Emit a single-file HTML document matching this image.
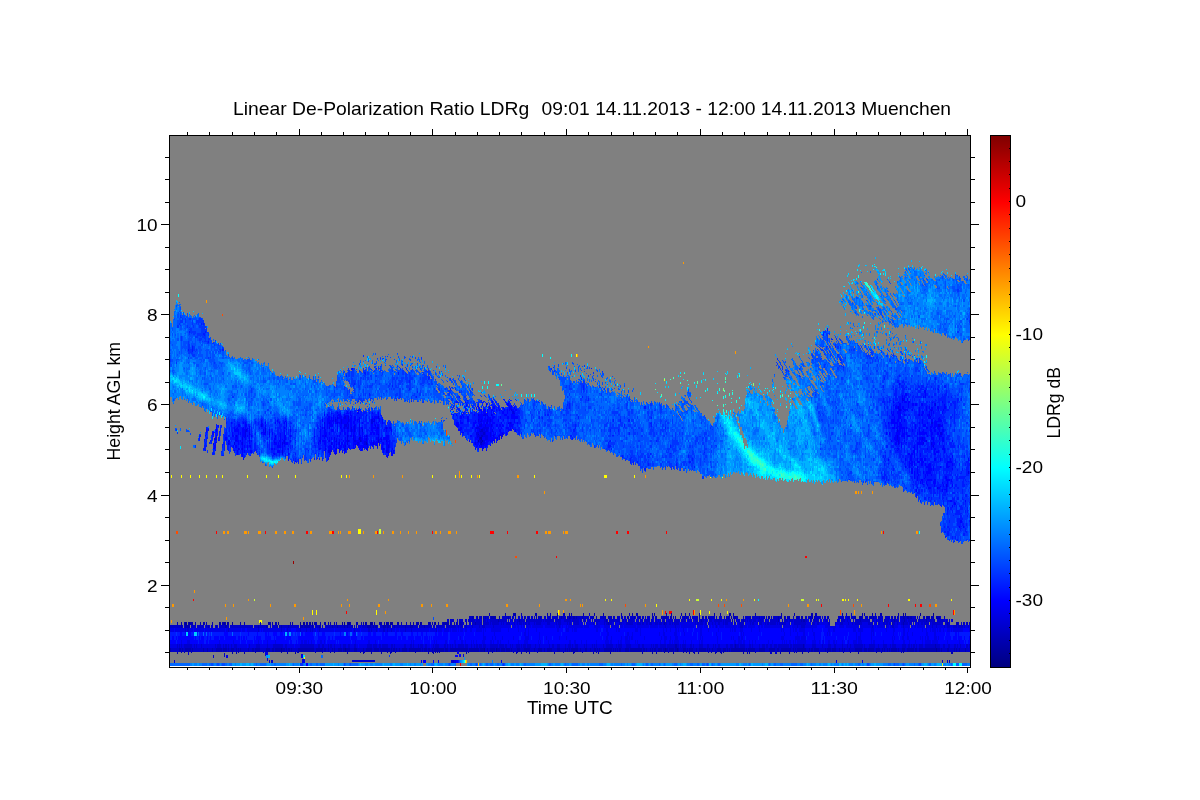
<!DOCTYPE html>
<html lang="en"><head><meta charset="utf-8"><title>Linear De-Polarization Ratio LDRg</title>
<style>html,body{margin:0;padding:0;background:#fff}body{width:1200px;height:800px;overflow:hidden}</style></head>
<body>
<svg width="1200" height="800" viewBox="0 0 1200 800" style="display:block" font-family="'Liberation Sans', sans-serif" font-size="19" fill="#000">
<rect x="0" y="0" width="1200" height="800" fill="#fff"/>
<defs><clipPath id="pc"><rect x="170" y="136" width="800" height="531"/></clipPath>
<linearGradient id="cb" x1="0" y1="0" x2="0" y2="1"><stop offset="0.0000" stop-color="#800000"/><stop offset="0.0250" stop-color="#990000"/><stop offset="0.0500" stop-color="#b30000"/><stop offset="0.0750" stop-color="#cc0000"/><stop offset="0.1000" stop-color="#e50000"/><stop offset="0.1250" stop-color="#ff0000"/><stop offset="0.1500" stop-color="#ff1a00"/><stop offset="0.1750" stop-color="#ff3300"/><stop offset="0.2000" stop-color="#ff4c00"/><stop offset="0.2250" stop-color="#ff6600"/><stop offset="0.2500" stop-color="#ff8000"/><stop offset="0.2750" stop-color="#ff9900"/><stop offset="0.3000" stop-color="#ffb300"/><stop offset="0.3250" stop-color="#ffcc00"/><stop offset="0.3500" stop-color="#ffe500"/><stop offset="0.3750" stop-color="#ffff00"/><stop offset="0.4000" stop-color="#e5ff1a"/><stop offset="0.4250" stop-color="#ccff33"/><stop offset="0.4500" stop-color="#b3ff4c"/><stop offset="0.4750" stop-color="#99ff66"/><stop offset="0.5000" stop-color="#80ff80"/><stop offset="0.5250" stop-color="#66ff99"/><stop offset="0.5500" stop-color="#4dffb2"/><stop offset="0.5750" stop-color="#33ffcc"/><stop offset="0.6000" stop-color="#1affe5"/><stop offset="0.6250" stop-color="#00ffff"/><stop offset="0.6500" stop-color="#00e5ff"/><stop offset="0.6750" stop-color="#00ccff"/><stop offset="0.7000" stop-color="#00b2ff"/><stop offset="0.7250" stop-color="#0099ff"/><stop offset="0.7500" stop-color="#0080ff"/><stop offset="0.7750" stop-color="#0066ff"/><stop offset="0.8000" stop-color="#004dff"/><stop offset="0.8250" stop-color="#0033ff"/><stop offset="0.8500" stop-color="#0019ff"/><stop offset="0.8750" stop-color="#0000ff"/><stop offset="0.9000" stop-color="#0000e6"/><stop offset="0.9250" stop-color="#0000cc"/><stop offset="0.9500" stop-color="#0000b2"/><stop offset="0.9750" stop-color="#000099"/><stop offset="1.0000" stop-color="#000080"/></linearGradient>
</defs>
<rect x="170" y="136" width="800" height="531" fill="#808080"/>
<g clip-path="url(#pc)" shape-rendering="crispEdges">
<g transform="translate(0.5,0)" fill="none" stroke-width="1"><path stroke="#000099" d="M0 0m185 622v3m1-3v3m3-3v3m30-3v3m5-3v3m3-3v3m5-3v3m36-3v3m10-3v3m3 23v4m19-30v3m3-3v3m1-3v3m6-3v3m2-3v3m30-3v3m2-3v3m1 23v4m3-30v3m1-3v3m16-3v3m5-3v3m1-3v3m15-3v3m4-3v3m1-3v3m29-3v3m15-3v3m49 23v4m12-4v4m169-4v4m12-4v4m226-39v3m17-3v3m13-3v3m3 32v4"/>
<path stroke="#0000b2" d="M0 0m170 648v4m7-30v3m0 27v2m2-6v4m1-4v4m1-30v6m0 24v1m1-5v4m2-30v3m0 27v1m1-28v3m0 20v4m1-27v3m0 20v4m1-27v3m0 20v4m1-30v6m0 20v4m1-27v3m0 20v4m1-30v3m0 23v4m1-30v3m0 27v1m1-31v3m0 23v4m3-30v3m5-3v3m3-3v3m0 23v4m1-30v3m2-3v3m1 23v4m1-27v3m4-6v3m0 23v4m4-27v3m0 20v4m1-4v4m1-4v4m1-4v4m1-30v3m0 23v4m1-4v4m1-30v3m1-3v3m0 23v4m1-4v4m1-30v6m0 20v4m1-27v3m0 20v4m2-30v3m0 23v4m3-4v4m1-4v6m1-6v4m3-4v6m2-6v5m2-31v3m0 23v4m4-30v3m0 27v2m4-6v4m4-4v4m1-4v4m2-4v5m1-5v4m1-4v4m1-27v3m0 20v4m1-4v4m1-30v3m3 27v1m3-28v3m0 20v4m1-27v3m0 20v4m1-4v4m1-30v3m0 23v4m1-30v3m2-3v3m0 23v4m1-4v4m2-30v3m0 23v4m1-30v3m0 23v4m1-27v3m0 20v4m1-4v4m1-27v3m0 20v4m1-4v4m1-27v3m0 24v1m1-5v4m1-4v4m1-4v4m2-4v4m1 0v2m1-29v3m0 20v4m1-4v4m1-30v3m1 23v4m1-30v3m3 27v2m2-2v1m1-5v5m1-5v4m1-27v3m0 20v4m1-27v3m0 20v4m1-27v3m0 20v4m1-4v4m1-27v3m0 20v4m1-27v3m0 20v4m1-30v6m0 20v4m1-30v6m0 20v4m1-27v3m0 20v4m1-30v6m0 20v4m1-4v4m1-4v4m1-27v3m0 20v4m1-4v4m1-30v3m1-3v3m0 27v1m1-31v3m0 23v4m1-4v4m1-4v4m1-27v3m0 20v4m1-30v6m0 20v4m1-4v4m1-4v5m2-31v3m0 23v4m1-30v3m0 23v4m3-30v3m0 23v4m2-30v3m0 27v1m2-28v3m0 20v4m2-30v3m0 23v5m2-31v3m1 0v3m1 20v4m1-4v4m1-4v4m1-4v4m2-4v4m1-27v3m0 20v4m2-4v4m1-30v6m0 20v6m1-6v4m1-4v4m1-30v3m2 0v3m2 20v4m1-4v4m1-30v3m0 23v4m1-30v3m3 27v1m1-31v3m2-3v3m0 23v6m1-2v1m2-31v3m0 23v4m1-27v3m0 20v4m1-27v3m0 20v4m1-27v3m0 20v4m1-27v3m0 20v4m1-4v6m1-32v3m1 0v3m1-6v3m0 23v4m1-27v3m0 20v4m1-27v3m0 20v4m1-4v4m1-4v4m1-30v3m1-3v3m0 23v4m1-30v3m0 23v6m1-6v4m1-27v3m0 20v4m1-30v6m0 20v4m1-27v3m0 20v4m1-4v4m1-30v6m0 20v5m1-31v6m0 20v4m1-4v4m1 0v2m1-6v5m1-31v3m1 23v4m1-27v3m0 20v4m1 0v1m1-5v4m1-30v3m1-3v3m1 23v4m2-30v3m1 23v4m1-4v4m1-4v4m1-27v3m0 20v4m1-30v3m0 23v4m3-4v4m1-30v6m0 20v4m1-27v3m0 20v4m1-27v3m0 20v4m1-30v3m0 23v4m1-4v4m1-4v5m1-31v3m0 23v4m1-30v3m0 23v4m1-30v3m0 23v4m1-27v3m0 20v4m1-4v4m1-30v3m1 23v4m2-27v3m0 20v4m1-4v4m1-4v4m2-30v3m0 23v6m1-32v3m0 23v4m1-30v3m2-3v3m0 23v5m1-1v2m1-32v3m0 23v4m1-4v5m1-5v4m1-4v5m1-31v3m0 23v4m1-4v5m1-5v4m1-4v4m1-4v4m1-30v3m0 23v4m1-30v3m1-3v3m0 23v4m1-30v3m0 23v4m1-30v3m0 23v4m1-30v3m2-3v3m0 23v4m1-4v4m1-4v4m1-4v4m1-30v3m0 23v4m1-4v4m1-30v3m0 23v4m1-4v3m1-3v3m1-29v3m0 23v4m1-30v3m0 23v4m1-30v3m0 23v4m1-4v4m1-4v4m1-4v4m1-4v4m1-30v3m0 23v6m1-6v4m1 0v1m1-5v4m1-4v4m1-4v4m1-36v3m0 29v4m1-36v3m0 29v4m1-4v4m1-30v3m0 23v4m1-4v4m1-36v3m0 29v4m1-212v2m0 206v4m2-215v2m0 209v4m1-215v3m0 2v1m0 173v3m0 29v4m1-212v2m0 206v4m1-36v6m0 26v4m2-36v3m2 29v4m1 0v2m1-41v3m1 32v4m1-36v3m0 29v4m1-36v3m0 29v5m1-37v3m0 29v4m1-36v3m0 29v4m1-36v3m2 29v4m1-33v3m0 26v4m1-36v3m0 29v4m2-4v4m1-4v4m1-4v4m1-4v4m1-39v3m1 32v4m1-4v4m1-36v3m0 29v4m1-4v4m2-4v4m2-39v3m0 36v1m1-40v3m1-3v3m1 36v2m1-6v5m1-5v4m1-33v3m0 26v4m2-39v3m0 36v2m3-38v3m0 29v4m1-4v4m1-33v3m0 26v5m1-5v4m1-36v3m0 29v4m1-4v6m5-6v4m1-39v3m1-3v6m1 33v1m1-37v3m0 29v4m1-4v4m1-36v3m0 29v4m1-4v4m3-4v4m3-39v3m0 32v4m1-4v4m1-4v4m1-39v3m0 32v4m1-4v4m3 0v2m3-41v3m0 32v4m1-4v4m1-4v4m2-36v3m2 33v1m1-40v3m1 32v4m2-36v3m0 29v4m2-39v6m0 29v4m1-36v3m1-6v3m0 32v4m1-4v4m1-36v3m0 29v6m1-38v3m0 29v5m1-5v4m1-36v3m0 29v4m1-4v4m3-4v4m2-36v3m0 33v1m1-40v3m2 32v4m1-4v4m4-4v4m3-36v3m0 33v2m1-41v3m0 32v4m1-4v4m1-36v3m0 33v1m1-5v4m1 0v2m1-6v4m4-39v3m1 32v4m1-36v3m0 29v4m1-33v3m0 26v4m1-4v4m1-36v3m0 3v3m0 23v4m1-4v4m1-4v6m1-38v3m0 29v4m2-4v4m2-4v4m2-4v4m2-4v4m1-4v4m1-39v3m4 32v4m1-4v4m1-36v3m0 29v4m1-36v3m0 29v4m1-39v3m1 32v4m1-4v4m1-39v3m0 32v4m1-4v4m1-36v3m0 29v4m1-4v4m1-39v3m0 32v4m1-39v3m0 32v4m1-4v4m1-36v3m0 29v4m1-4v4m1-4v4m1 0v2m1-6v4m1-4v4m2-4v4m4-4v4m2-39v3m0 32v6m2-41v3m0 32v4m1-4v4m1-36v3m0 33v2m2-6v4m1-4v4m1-4v4m1-36v3m0 29v4m2-36v3m0 29v4m1-36v3m0 3v3m0 23v5m1-37v3m1-6v6m0 29v4m1-4v4m1 0v1m1-5v4m1-36v3m0 29v4m1-39v6m0 29v4m1-4v4m1-4v6m2-38v3m0 25v8m1-8v8m2-4v4m3-39v3m2 32v5m1-37v3m0 29v4m1-39v3m0 32v4m1-36v3m0 33v1m1-5v4m2-39v3m0 32v6m1-6v4m1-4v4m1-4v4m1 0v1m1-1v2m2-6v4m2 0v2m1-41v6m0 29v4m1-4v4m1-33v3m0 26v4m1-36v3m0 29v4m1-4v4m1-4v4m1-4v4m1-36v3m1 29v4m1-36v3m0 33v1m1-5v4m2 0v1m1-5v4m2-39v3m1 36v2m1-2v1m1-5v4m1-4v4m1-4v4m1-39v3m0 32v5m1-1v2m2-6v5m1-5v4m1-4v4m1-36v3m1 29v4m1-36v3m1-6v3m0 32v4m1-39v3m1 0v3m0 29v4m1-33v3m0 26v4m1-39v3m0 32v4m1-36v3m0 29v4m1-36v3m0 25v8m1-4v4m1-4v4m1-4v4m1-4v4m1-4v4m1-4v4m1-4v4m1-33v3m0 26v6m1-6v4m2-4v4m1 0v2m1-6v4m1-4v6m1-38v3m0 29v4m1-4v4m1-4v4m1-4v4m1-4v4m1-39v3m0 36v1m4-37v3m0 29v4m1-4v4m1-4v4m1-4v4m1-4v4m1-36v3m0 29v4m4-36v3m1-3v3m0 29v4m1-4v4m1-4v4m1-4v4m1-4v4m1-4v4m3-4v4m1-36v6m0 26v4m2 0v2m1-41v6m0 29v4m1-4v4m1-4v4m1-36v3m0 29v4m1-4v4m1-4v4m1-36v3m0 29v4m1-4v4m1-36v3m0 29v6m1-6v4m3-4v4m1-39v3m0 36v1m1-5v4m1-36v3m0 33v1m1-37v3m0 29v4m1-36v3m0 29v4m1-4v4m1-4v4m1-36v6m0 26v4m1-36v3m0 29v6m1-35v3m0 22v8m1-33v3m0 26v4m1-4v4m3 0v1m1-5v4m1-36v3m1-6v3m0 32v4m1-39v6m0 29v4m2-36v3m0 29v4m1-39v3m0 32v4m1-39v3m0 32v4m1-4v4m1-4v4m1 0v2m6-6v4m2-4v5m1-37v3m0 29v4m1-4v4m1-4v4m2-4v4m1-4v4m1-4v4m1-4v4m4-4v4m3-39v3m0 32v4m1 0v1m1-5v4m5-4v4m1 0v1m4-37v3m1-3v3m0 29v4m1-4v4m1-4v4m1-4v6m1-38v3m0 29v4m1-36v6m0 26v4m1-36v3m0 29v4m1-39v3m2-3v3m0 32v4m1-4v4m1-4v4m2-4v4m1-4v4m1-36v3m0 29v4m1-36v3m0 29v4m1-39v3m0 32v4m1-36v3m0 29v4m3-4v5m1-5v4m1-36v3m0 29v4m1-4v4m1-39v3m1-3v3m0 36v1m1-5v4m2-4v4m3-4v4m2-4v4m2-4v4m1-36v3m0 3v3m0 23v4m1-4v4m1-33v3m0 26v4m1-36v3m0 29v4m1-4v4m1-36v3m1-6v3m0 32v4m3 0v1m1-5v4m1-36v3m0 3v3m0 23v5m1-37v6m0 26v4m1-39v3m2 0v3m0 29v4m1-36v3m0 29v4m1-4v4m1-36v3m0 29v4m1-36v3m0 29v4m1-4v4m1-4v4m2-36v3m0 29v4m1-33v3m0 26v4m3-4v4m1-4v4m1-4v4m1-4v4m1-4v4m1-36v3m0 29v4m1-4v4m1-36v6m0 26v4m1-36v3m0 29v4m1-36v3m0 29v4m1-36v3m0 29v4m1-4v4m1-36v3m0 29v4m1-4v4m1-36v3m0 29v4m1-33v3m0 26v4m1-8v8m1-36v3m1-3v3m0 29v4m1-36v3m0 29v4m1-36v3m0 29v4m2-4v4m6-30v3m0 23v4m1-4v4m3 0v2m1-2v2m2-6v4m2-30v3m0 23v4m1-30v3m2 23v4m4-30v3m2 23v4m2-30v3"/>
<path stroke="#0000cc" d="M0 0m170 625v3m1-3v3m0 20v4m1-27v3m0 20v4m1-27v3m0 20v4m1-27v3m0 20v4m0 8v3m1-38v3m0 20v4m1-27v3m0 20v4m1-27v3m0 16v8m1-27v3m0 20v4m1-27v3m0 16v4m1-23v3m1 16v8m1-27v3m1 20v4m1-27v3m0 16v8m1-24v4m0 12v4m1-4v4m1-20v4m0 12v4m1-20v4m0 12v4m0 4v3m1-11v4m1-4v4m1-23v3m0 16v8m1-27v3m1-3v3m0 20v4m1-27v3m0 16v8m1-27v3m0 20v4m1-8v8m1-27v3m0 20v4m1-27v3m0 20v4m1-27v3m0 20v4m1-27v3m0 20v4m1-27v3m0 16v8m1-27v3m0 20v4m1-27v3m1 20v4m1-4v4m1-27v3m0 20v4m1-27v3m1 20v4m1-27v3m0 20v4m1-4v4m1-27v3m0 20v4m1-27v3m1 20v4m0 3v3m1-10v4m1-27v3m0 16v8m2-27v3m0 16v4m1-4v4m1-23v3m0 16v4m1-23v3m0 16v4m1-23v3m1-3v3m0 20v4m1-27v3m0 16v4m1-23v3m0 25v4m1-13v4m1-4v4m1-23v3m0 20v4m1-27v7m0 12v4m1 0v4m1-27v3m0 20v4m1-27v3m0 16v4m1-23v3m1-3v3m1-3v3m0 16v8m1-27v3m0 16v8m1-27v3m0 16v4m1-23v3m0 20v4m1-27v3m1-3v3m0 20v4m1-27v3m1-3v3m0 20v4m1-27v3m0 20v4m1-27v3m0 20v4m1-27v3m0 20v4m1-27v3m0 20v4m1-27v3m0 20v4m1-27v3m0 20v4m1-27v3m1-3v3m0 16v8m1-27v3m0 20v4m1-27v3m0 20v4m1-27v3m2-3v3m0 20v4m1-27v3m1-3v3m0 16v4m1-23v3m0 16v4m1-20v4m0 12v4m1-23v3m0 16v4m1-23v3m0 20v4m1-27v3m0 20v4m1-27v3m0 20v4m1-27v3m0 20v4m1-27v3m0 20v4m1-27v3m0 20v4m2-8v4m2 12v3m1-38v3m0 20v4m1-4v4m0 8v3m1-38v3m0 32v3m1-38v3m0 16v4m1-23v3m0 16v8m1-27v3m0 16v4m1-23v3m0 16v4m1-4v4m1-4v4m1-4v4m1-23v3m0 16v4m1-20v4m0 12v4m1-23v3m0 16v4m1-23v3m1-3v3m1-3v3m0 16v8m1-27v3m0 16v4m1-23v7m0 16v4m2-27v3m1-3v3m0 20v4m1-27v3m1-3v3m0 20v4m1-27v3m0 20v4m1-27v3m0 20v4m1-27v3m0 20v4m1-27v3m0 20v4m1-27v3m0 20v4m1-27v3m2 0v4m0 12v4m1-4v4m1-4v4m1-23v3m0 16v4m1-4v4m1-4v4m1-20v4m0 12v4m1-4v4m1-4v4m1-4v4m1-23v7m0 12v4m1-23v3m0 16v4m1-20v4m0 12v4m1-23v3m0 16v4m1 0v4m1-27v3m0 20v4m1-27v3m1-3v3m1-3v3m0 16v4m1-20v4m0 12v4m3-23v3m0 16v4m1-4v8m2-27v3m1-3v3m0 20v4m1-27v3m0 20v4m1-27v3m0 16v4m1-23v3m0 20v4m1-27v3m0 16v8m1-27v3m0 16v8m2-27v3m0 20v4m1-27v3m0 16v4m1-23v3m0 20v4m1-27v3m0 20v4m1-4v4m1-27v3m1-3v3m1-3v3m0 16v4m1-23v3m1-3v3m0 20v4m1-27v3m0 16v4m1-4v4m1-23v3m0 16v4m1-23v3m2-3v3m0 16v4m1-23v3m0 16v4m1-23v3m0 20v4m1-27v3m0 20v4m1-4v4m0 8v2m1-14v4m0 8v2m1-37v7m0 12v4m0 12v2m1-18v4m0 12v2m1-37v3m0 32v2m1-14v4m0 8v2m1-37v3m0 20v4m0 8v2m1-225v3m0 208v4m0 8v2m1-222v2m0 183v3m0 20v4m0 8v2m1-14v4m0 8v2m1-37v3m0 20v4m0 8v2m1-37v3m0 32v2m1-37v3m0 20v4m0 8v2m1-37v3m0 20v4m0 8v2m1-220v3m0 180v3m0 32v2m1-18v4m0 12v2m1-34v4m0 12v4m0 12v2m1-34v4m0 12v4m0 12v2m1-18v4m0 12v2m1-37v7m0 12v4m0 12v2m1-37v3m0 20v4m0 8v2m1-18v8m0 8v2m1-37v3m0 16v4m0 12v2m1-18v4m1-20v4m0 12v4m1-23v3m1-188v2m1 202v8m1-27v3m0 16v4m1-23v3m1-3v3m0 16v4m1-20v4m0 12v4m1-20v4m0 12v4m1-4v4m1-23v3m0 16v4m1-20v4m0 12v4m2-23v3m1-3v3m0 20v4m1-24v4m0 12v4m1-23v3m0 16v8m1-27v3m1 16v4m1-23v3m0 20v4m1-27v3m1-3v3m0 20v4m1-27v3m0 20v4m1-27v3m1-3v3m0 20v4m1-27v3m0 20v4m1-27v3m1-3v3m1-3v3m0 16v4m1-20v4m0 12v4m1-23v3m1-3v3m0 20v4m1-27v3m0 20v4m1-27v3m1 16v4m1-20v4m0 12v4m2-23v3m0 16v4m1-23v3m1-3v3m1-3v3m1-3v3m1 16v4m2-23v3m0 16v4m1-23v3m0 16v8m1-27v3m0 16v4m1-23v3m0 20v4m2-27v3m0 16v4m1-23v3m0 16v4m1-23v3m0 20v4m1-27v3m1-3v3m1-3v3m0 20v4m1-27v3m0 20v4m2-27v3m0 16v8m1-27v3m1 16v4m1-23v7m0 12v4m1-23v3m0 16v4m1-23v3m0 16v4m1-23v3m1-3v3m1-3v3m1-6v6m1-3v3m1 16v8m1-8v4m1-23v3m1-9v3m0 3v3m0 16v4m1-29v3m0 3v3m0 20v4m1-27v3m0 20v4m1-33v3m0 3v3m0 16v4m1-29v9m0 32v3m1-44v3m0 3v3m0 16v4m0 12v3m1-44v3m0 3v3m0 32v3m1-38v3m1-3v3m0 16v4m2-29v6m1 0v3m0 16v4m1-29v3m0 22v4m1-29v3m0 3v3m0 16v4m1-29v3m0 3v3m0 16v4m1-29v9m0 16v4m1-26v3m0 19v4m2-29v3m0 3v3m0 16v4m1-29v3m0 3v3m0 16v4m1-4v4m1-29v3m0 26v4m1-36v9m1-9v9m1-9v6m0 22v4m1-29v9m1-9v6m1-6v6m0 19v4m2-32v9m0 19v4m1-29v6m0 19v4m1-214v1m0 184v6m1-188v3m0 176v12m0 16v8m1-221v1m0 7v6m0 171v3m0 3v3m0 19v4m1-219v3m0 3v2m0 3v2m0 1v2m0 174v6m0 19v4m1-219v3m0 3v2m0 188v3m1-196v3m0 187v6m0 16v4m1-216v3m0 181v12m0 16v4m1-29v6m0 19v8m1-36v3m0 3v3m0 23v4m1-36v9m1-9v3m0 3v3m0 23v4m1-4v4m1-36v9m0 19v4m1-29v3m0 22v4m1-29v6m0 19v4m1-29v9m0 16v4m1-29v6m0 19v4m1-29v6m0 19v8m1-33v6m0 19v4m1-29v6m0 19v4m1-26v3m1-6v3m0 22v4m1-29v3m0 22v8m1-33v6m0 19v4m1-32v6m0 22v4m1-32v9m0 19v4m1-32v6m1-6v6m0 22v8m1-36v9m0 19v4m1-32v3m0 3v3m1-6v6m1-9v3m0 3v3m1-9v6m0 22v8m2-36v6m0 22v8m1-36v3m0 29v4m1-33v6m0 23v4m1-36v6m0 26v4m1-8v8m1-33v6m0 19v4m1-32v6m0 22v4m1-32v3m0 3v3m0 19v4m1-29v6m0 23v4m1-33v6m0 19v8m1-36v6m0 26v4m1-33v6m0 19v8m1-33v3m0 22v4m1-32v3m0 3v3m0 19v4m1-26v3m1-9v6m0 22v4m1-29v6m0 19v4m1-32v9m0 19v4m1-29v3m0 22v8m1-36v6m0 26v4m1-36v6m0 26v4m1-33v3m0 26v4m1-36v9m1-6v3m0 22v8m1-33v6m0 23v4m1-33v6m0 23v4m1-33v6m1-9v9m0 19v4m1-29v6m1-9v6m1 26v4m1-33v3m0 26v4m1-36v3m1-3v6m0 26v4m1-33v3m0 26v4m1-36v9m1-9v9m1-9v9m0 19v4m1-32v6m1-3v3m1-6v6m0 22v8m1-36v6m0 22v8m1-36v3m0 29v4m1-36v6m0 26v4m1-36v9m0 23v4m1-36v6m0 22v4m1-29v6m0 19v4m1-32v12m0 16v4m1-32v9m0 23v4m1-4v4m1-36v3m0 29v4m1-39v6m0 29v4m1-36v6m0 26v4m1-36v6m0 22v4m1-29v3m0 26v4m1-33v6m1-9v6m0 22v8m1-33v6m0 19v4m1-29v6m0 19v8m1-36v3m1-3v6m0 22v4m1-29v3m1-3v6m1-9v9m0 19v4m1-29v6m0 19v4m1-32v9m0 19v4m1-32v9m0 23v4m1-36v3m0 29v4m1-36v6m1-6v6m0 26v4m1-4v4m1-36v3m0 29v4m1-36v6m0 22v8m1-36v6m1-6v3m0 25v4m1-32v6m0 26v4m1-36v3m0 29v4m1-39v3m0 3v3m0 26v4m1-36v3m1-3v3m0 29v4m1-36v6m0 22v8m1-30v3m0 23v4m1-33v3m0 22v4m1-29v3m1-3v6m0 19v8m1-33v6m1-6v3m0 26v4m1-33v3m1-6v3m0 29v4m1-36v3m0 29v4m1-36v3m0 29v4m1-36v3m0 25v8m1-36v9m1-6v3m1 0v3m0 19v4m1-29v6m0 19v4m1-4v4m1-32v9m0 19v4m1-32v9m0 19v4m1-29v6m0 19v4m1-29v3m0 22v8m1-36v6m1-6v6m0 26v4m1-33v6m1-6v3m0 22v8m1-36v6m1-6v6m0 22v8m1-36v9m0 19v4m1-26v3m0 19v4m1-32v3m0 3v3m0 19v8m1-36v6m0 26v4m1-33v3m0 26v4m1-36v3m0 29v4m1-36v6m1-3v6m0 19v4m1-26v3m0 19v4m1-29v6m0 19v4m1-29v6m0 19v8m1-36v9m0 19v4m1-32v9m1-9v9m1-9v6m2-6v3m1 0v3m1-6v3m0 3v3m1-9v9m0 19v4m1-26v3m0 19v4m1-32v9m1-6v3m1-6v9m0 19v8m1-36v3m0 3v3m0 19v4m1-29v3m1-6v6m0 26v4m1-33v6m1-9v9m0 23v4m1-36v6m0 26v4m1-36v9m0 23v4m1-30v3m1-6v6m0 19v8m1-36v6m1-6v3m0 25v8m2-36v9m0 19v4m1-29v6m0 19v8m1-30v3m0 19v8m1-33v3m1 0v3m1-6v6m0 19v4m1-26v3m0 19v4m1-32v6m0 22v8m1-33v6m0 19v4m1-29v3m0 22v4m1-26v6m0 16v4m1-29v6m1-9v3m0 25v4m1-32v6m0 22v8m1-33v6m0 19v4m1-29v6m0 19v4m1-29v3m0 22v4m1-29v6m0 19v4m1-32v3m0 25v4m1-29v6m0 19v8m1-33v9m1-9v6m1-6v6m0 19v4m1-29v6m0 19v4m1-29v3m0 26v4m1-36v3m0 25v8m1-33v3m0 26v4m1-36v6m0 22v8m1-36v6m0 22v4m1-29v3m0 22v4m1-32v6m0 22v4m1 0v4m1-36v3m1-3v6m0 26v4m1-33v3m1-6v3m0 25v4m1-29v3m0 22v4m1-32v3m1-3v3m0 25v8m1-36v3m0 29v4m1-36v9m0 23v4m1-36v6m1-6v9m0 23v4m1-30v3m0 23v4m1-33v3m0 22v4m1-29v6m0 19v4m1-26v3m0 19v4m1-29v6m0 19v4m1-32v6m2-6v9m1-6v6m0 23v4m1-8v4m1-26v3m0 19v8m1-36v6m1-6v6m0 26v4m1-36v6m0 26v4m1-36v3m0 3v3m1-9v3m0 25v8m1-36v6m0 26v4m1-33v6m0 19v8m1-36v6m0 3v3m0 20v4m1-33v3m1-3v6m0 19v4m1-32v9m0 19v4m1-32v6m1-6v6m0 26v4m1-4v4m1-33v6m1-9v3m1 0v6m1-6v6m0 19v8m1-36v9m0 19v4m1-29v3m0 26v4m1-36v6m1-3v3m0 22v8m1-30v3m0 19v4m1-4v4m1-32v3m1 0v6m0 19v4m1-26v3m1-9v6m0 22v4m1-32v3m0 25v4m1-29v3m0 22v4m1-29v6m1-3v6m0 16v4m1-29v9m0 16v4m1-29v9m0 16v4m1-32v3m0 3v3m0 19v4m1-29v3m0 22v4m1-32v6m0 26v4m1-36v3m1-3v6m0 26v4m1-36v3m1-3v6m0 22v4m1-29v6m0 19v4m1-29v3m1-6v3m0 3v3m0 19v4m1-32v9m1-9v6m1-6v6m0 26v4m1-36v3m0 29v4m1-36v3m0 3v3m0 23v4m1-36v6m0 26v4m1-33v6m0 19v4m1-29v6m1-9v9m1-9v6m0 22v4m1-32v3m0 25v4m1-4v4m1-29v6m0 23v4m1-36v3m0 25v8m1-30v3m0 19v8m1-33v6m0 23v4m2-33v6m0 19v4m0 4v2m1-38v9m0 19v4m0 4v2m1-35v6m1-9v9m1-9v9m0 19v4m1-32v9m0 19v10m1-38v6m0 22v10m1-38v9m1 19v4m1-32v3m0 3v3m0 19v8m1-36v3m0 3v3m0 19v8m1-30v3m0 19v4m1-29v6m0 19v4m1-26v3m0 19v4m1-29v6m0 19v4m1-32v9m0 19v4m1-29v3m0 22v4m1-29v3m0 22v4m1-32v3m0 25v4m1-29v6m1-6v3m0 22v4m1-29v3m0 22v8m1-33v3m0 26v4m1-36v3m0 25v4m1-29v6m0 19v8m1-33v6m0 19v4m1-29v6m0 19v8m1-33v9m0 16v4m1-29v6m0 19v4m1-32v9m0 19v4m1-29v6m0 19v4m1-26v6m0 16v4m1-29v9m0 16v4m1-26v6m1-6v6m0 16v4m1-32v9m1-9v6m0 26v4m1-4v4m1-36v3m0 29v4m1-36v3m1 0v3m0 26v4m1-36v6m1 0v3m0 19v4m1-29v6m0 19v8m1-33v6m0 19v4m1-32v6m0 22v4m1-32v6m1-6v9m1-9v9m1-9v3m0 29v4m1-36v3m0 29v4m1-4v4m1-8v8m1-4v4m1-36v3m0 29v4m1-36v6m1-3v3m0 26v4m1-36v6m1 0v3m0 19v4m1-29v6m0 19v4m1-4v4m1 0v4m3-8v4m1-26v3m0 19v4m1 0v4m1-33v3m0 26v4m1-36v6m0 26v4m1-36v3m1-3v3m0 3v3m0 23v4m1-36v9m0 23v4m1-36v9m0 19v4m1-32v6m0 26v4m1-33v3m1 26v4m1-39v3m0 32v4m1-36v6m0 22v8m1-36v3m0 3v3m0 23v4m1-36v3m1 0v3m0 22v8m1-39v6m0 29v4m1-36v3m0 3v3m0 23v4m1-36v6m0 26v4m1-8v8m1-33v6m0 19v4m1-29v6m0 19v4m1-29v6m0 19v4m1-29v6m0 19v4m1-29v6m0 19v4m1-26v3m0 19v4m1-29v6m0 19v4m1-32v6m0 22v8m1-33v3m0 26v4m1-33v3m0 22v4m1-32v6m1-6v6m1-6v6m0 26v4m1-33v6m1-9v9m0 19v4m1-26v3m0 19v4m1-26v3m0 19v4m1-32v12m0 16v4m1-29v3m0 22v4m1-32v3m0 25v8m1-39v6m0 29v4m1-36v9m2-6v6m0 19v4m1-32v9m1-9v6m0 26v4m1-36v3m0 29v4m1-36v6m1 0v3m0 19v8m1-33v6m0 19v4m1-32v6m0 22v8m1-36v12m0 16v8m1-36v9m1-9v6m0 26v4m1-36v3m0 3v3m1-3v3m0 19v8m1-36v6m1-3v3m0 3v3m0 16v4m1-29v9m0 16v4m1-32v3m0 3v3m0 19v4m1-29v3m0 22v4m1-29v3m1-3v6m0 23v4m1-36v6m1 26v4m1-36v3m0 29v4m1-36v9m0 23v4m1-36v9m0 19v4m1-29v3m0 3v3m0 16v4m1-26v3m0 19v4m1-32v9m0 19v8m1-36v9m0 23v4m1-30v3m1-6v3m0 22v4m1-32v9m0 19v4m1-29v6m1-6v6m0 19v4m1-32v6m1-6v6m0 22v4m1-32v6m0 22v8m1-33v6m1 19v4m1-32v3m0 29v4m1-33v6m0 23v4m1-36v6m0 22v4m1-29v3m0 22v4m1-29v6m0 19v4m1-29v6m0 19v4m1-32v6m1-3v6m1-6v6m0 19v4m1-26v6m0 16v4m1-29v6m0 19v4m1-29v6m0 19v4m1-29v3m0 22v4m1-29v6m0 19v4m1-29v3m0 22v4m1-32v12m0 16v4m1-29v6m0 19v4m1-26v3m0 19v4m1-26v3m1-3v6m0 16v4m1-29v6m0 19v4m1-29v6m0 19v4m1-29v6m0 19v4m1-32v9m0 23v4m1-33v6m1-6v6m0 23v4m0 8v3m1-44v3m0 22v8m1-36v6m0 3v3m0 16v8m1-30v3m0 23v4m1-33v6m0 23v4m1-33v3m0 3v3m0 32v3m1-41v6m0 16v4m1-29v9m0 16v8m0 8v3m1-15v4m1-4v4m1-33v3m0 26v4m1-27v3m0 20v4m1-27v3m0 16v4m1-23v3m0 16v8m1-27v3m1 16v8m1-30v6m0 20v4m1-27v3m1-3v3m0 16v8m1-30v6m0 20v4m1-27v3m0 20v4m1-4v4m1-30v6m0 20v4m2-30v3m0 19v8m1-8v8m1-27v3m0 20v4m1-30v3m0 19v8"/>
<path stroke="#0000e6" d="M0 0m170 628v4m0 12v4m1-20v4m0 12v4m1-20v4m0 12v4m1-20v4m0 12v4m1-4v4m1-20v4m0 12v4m1-20v4m0 12v4m1-20v4m1-4v4m0 12v4m1-20v4m1-4v4m0 12v4m1-20v4m0 8v4m1-16v4m0 12v4m1-20v4m0 12v4m1-20v4m2-4v4m1 8v4m1-4v4m1-16v4m0 8v4m1-16v4m1-4v4m1-4v4m0 12v4m1-4v4m1-20v4m1-4v4m0 12v4m1-20v4m1-4v4m0 12v4m1-20v4m0 12v4m1-20v4m0 12v4m1-20v4m0 12v4m1-20v4m1-4v4m0 12v4m1-20v4m0 12v4m1-4v4m1-23v7m0 12v4m1-20v4m0 12v4m1-20v4m0 12v4m1-20v4m0 12v4m1-20v4m0 12v4m1-20v4m0 12v4m1-20v4m0 12v4m1-20v4m0 12v4m1-205v2m0 183v4m0 12v4m1-210v2m0 188v4m0 12v4m1-211v3m0 188v4m1-195v3m0 188v4m0 12v4m1-20v4m1-4v4m1-4v4m0 8v4m1-16v4m1-4v4m0 12v4m1-20v4m0 12v4m1-20v4m1-4v4m0 12v4m2-20v4m0 23v3m1-30v4m0 12v4m0 7v3m1-217v1m0 1v2m1 183v4m0 12v4m1-20v4m0 12v4m1-20v4m1-4v4m0 12v4m1-20v4m0 8v8m1-206v3m0 183v4m1-192v1m0 187v4m1-197v2m0 3v1m0 187v4m1-4v4m0 12v4m1-200v2m0 178v4m0 12v4m1-20v4m0 12v4m1-20v4m0 12v4m1-4v4m1-211v3m0 2v3m0 3v2m0 178v4m0 12v4m1-20v4m0 12v4m1-20v4m0 12v4m1-218v7m0 207v4m1-219v3m0 212v4m1-20v4m1-4v4m0 12v4m1-216v3m0 5v1m0 187v4m1-4v4m0 12v4m1-20v4m0 12v4m1-20v4m0 12v4m1-20v4m0 12v4m1-20v4m0 12v4m1-20v4m0 12v4m1-20v4m1-4v4m1 8v4m1-16v4m1 12v4m1-224v3m0 201v4m0 12v4m1-4v4m1-20v4m0 12v4m1-20v4m0 12v4m1-220v5m0 195v4m0 12v4m0 4v4m1-28v4m0 12v4m0 4v3m1-27v4m0 8v4m0 8v3m0 3v3m1-33v4m0 12v4m1-216v3m0 193v4m0 12v4m1-20v4m0 12v4m1-20v4m0 12v4m1-20v4m0 12v4m1-20v4m1-190v1m0 185v4m1-196v1m0 191v4m0 8v4m1-16v4m1-4v4m1-4v4m1-4v4m1-4v4m2-190v3m0 5v4m0 174v4m1-4v4m0 12v4m1-208v4m0 184v4m0 12v4m2-20v4m1 12v4m1-20v4m0 12v4m1-20v4m0 12v4m1-20v4m0 12v4m1-4v4m1-4v4m1-4v4m2-4v4m1-20v4m0 12v4m1-20v4m0 12v4m1-20v4m0 12v4m1-20v4m0 12v4m2-20v4m0 8v4m0 10v4m1-30v4m0 8v4m0 10v4m0 1v4m1-35v4m0 27v4m1-35v4m0 8v4m0 15v4m1-35v4m0 8v4m1-4v4m1-16v4m1-4v4m0 8v4m1-16v4m2-4v4m0 8v4m2-16v4m1-4v4m0 12v4m1-20v4m0 12v4m1-4v4m1-20v4m0 12v4m1-20v4m2-192v2m0 186v4m0 8v8m1-20v4m0 8v8m1-20v4m1-4v4m1-210v2m0 3v2m0 199v4m0 8v8m1-213v2m0 11v2m0 178v4m0 12v4m1-20v4m0 12v4m1-20v4m0 12v4m1-198v3m0 175v4m1-210v2m0 3v2m0 11v2m0 8v3m0 175v4m0 12v4m1-198v3m0 175v4m1-190v3m0 5v2m0 176v4m1-4v4m0 12v4m1-228v1m0 207v4m0 12v4m1-211v3m1-21v3m0 31v2m0 173v4m0 12v4m1-208v2m0 2v1m0 3v2m0 3v1m0 174v4m0 12v4m1-231v2m0 3v2m0 204v4m0 12v4m1-200v1m0 179v4m0 12v4m1-206v3m0 3v2m0 178v4m0 12v4m1-221v1m0 200v4m1-213v5m0 204v4m0 12v4m1-20v4m0 12v4m1-20v4m1-216v3m0 5v5m0 19v2m0 178v4m1-216v3m0 5v3m0 18v2m0 1v2m0 178v4m1-208v3m0 201v4m0 12v4m1-226v2m0 3v2m0 6v10m0 183v4m0 12v4m1-232v6m0 2v5m0 11v2m0 186v4m1-184v1m0 179v4m1-4v4m0 12v4m1-221v5m0 196v4m0 12v4m1-4v4m1-213v5m0 188v4m0 12v4m1-223v7m0 8v2m1-2v2m0 2v1m0 183v4m0 8v4m1-16v4m0 12v4m1-206v3m0 183v4m0 12v4m1-238v1m0 31v3m0 183v4m1-212v2m0 2v11m0 190v7m0 12v4m1-211v3m0 204v4m1-208v2m0 183v7m0 12v4m1-219v3m0 196v4m0 12v4m1-201v1m0 180v4m0 12v4m1-207v4m0 183v4m0 12v4m1-207v4m0 183v4m0 12v4m1-213v2m0 1v4m0 6v2m0 178v4m0 12v4m1-205v7m0 178v4m1 8v4m1-4v4m1-16v4m1-213v5m1-5v5m0 204v4m0 12v4m1-227v1m0 20v3m0 183v4m1-213v3m0 206v4m1-207v2m0 201v4m0 8v4m2-217v2m0 16v3m0 180v4m0 12v4m1-232v3m0 8v2m0 5v1m0 2v3m0 2v1m0 201v4m1-206v3m0 183v4m1-4v4m1-193v1m0 188v4m0 12v4m1-20v4m1-184v2m2 178v4m1-205v2m0 11v2m0 8v3m0 175v4m1-182v3m1-8v3m0 2v4m0 174v4m0 12v4m1-20v4m0 12v4m1-20v4m0 12v4m1-197v2m1 175v4m1-4v4m0 12v4m1-20v4m1 12v4m1-20v4m0 12v4m1-20v4m0 12v4m1-20v4m0 12v4m1-4v4m1-20v4m0 12v4m1-20v4m0 12v4m1-20v4m0 12v4m1-20v4m0 12v4m1-20v4m2-4v4m0 12v4m1-20v4m0 12v4m1-20v4m0 12v4m1-20v4m0 12v4m1-20v4m1 8v4m1-16v4m0 12v4m1-20v4m0 8v4m1-16v4m0 12v4m1-20v4m0 12v4m1-20v4m0 12v4m1-20v4m0 12v4m1-20v4m1-4v4m0 12v4m1-20v4m1-4v4m0 28v3m1-35v4m1-4v4m0 12v4m1-20v4m0 12v4m1-20v4m1-4v4m1-4v4m0 12v4m1-20v4m0 12v4m1-4v4m1-20v4m1-4v4m0 12v4m1-20v4m0 12v4m1-20v4m1-4v4m0 8v8m1-20v4m1 8v4m2-16v4m0 28v3m1-35v4m0 12v4m1-20v4m0 12v4m1-20v4m0 12v4m1-4v4m1-4v4m1-23v7m1-4v4m0 8v4m1-16v4m0 8v8m1-20v4m1-4v4m0 12v4m1-4v4m1-20v4m1 12v4m1-20v4m1-4v4m0 12v4m1-20v4m0 8v8m0 12v3m1-35v4m0 8v4m0 16v3m1-38v7m0 12v4m1-23v3m0 16v4m0 3v3m1-26v4m0 19v3m1-29v3m1 0v4m0 4v4m1-12v4m0 8v4m1-16v4m0 8v4m1 10v3m1-32v3m0 16v4m1-20v4m0 8v4m1-16v4m1-7v3m1-3v3m0 16v4m1-23v3m0 16v4m1-23v7m0 12v4m1-23v7m0 8v4m1 0v4m1-23v3m0 12v8m1-23v3m1-186v3m0 174v3m0 3v3m0 16v4m1-221v2m0 3v3m0 190v7m0 8v4m1-217v2m0 3v6m0 4v1m0 182v7m1-218v2m0 3v3m0 5v2m0 3v2m0 1v2m0 5v1m0 182v7m0 12v4m1-224v3m0 1v4m0 3v2m0 3v2m0 3v1m0 182v4m1-211v1m0 2v3m0 2v2m0 1v5m0 182v3m0 3v7m1-213v3m0 1v4m0 5v3m0 10v2m0 178v7m1-204v1m0 3v3m0 7v3m0 195v8m1-233v1m0 11v5m0 3v2m0 3v5m0 183v16m1-230v2m0 11v5m0 3v2m0 3v4m0 192v8m1-230v2m0 8v5m0 2v9m0 185v7m0 4v4m1-218v2m0 3v5m0 3v5m0 179v3m0 3v3m0 16v4m1-233v1m0 3v5m0 3v5m0 3v5m0 185v3m0 16v4m1-221v2m0 190v3m0 3v3m0 16v4m1-242v3m0 210v9m0 16v4m1-229v3m0 10v5m0 188v3m0 12v4m1-230v2m0 8v3m0 195v10m0 8v4m1-215v3m0 193v7m0 4v4m1-205v2m0 3v1m0 187v4m0 8v4m1-204v2m0 183v11m1-11v7m0 4v4m1-15v7m1-195v3m0 185v7m0 8v4m1-19v7m0 8v8m1-213v5m0 182v10m1-197v1m0 186v10m0 8v4m1-209v4m0 186v3m0 32v3m1-230v4m0 185v6m0 8v4m1-206v1m0 190v3m1-6v6m0 16v4m1-26v6m1-3v3m1-3v3m0 16v4m1-225v1m0 201v7m0 8v8m1-23v3m0 16v4m1-226v2m0 198v6m1-219v2m0 208v6m0 19v4m1-237v3m0 208v6m1-217v3m0 208v6m0 8v4m0 4v4m1-235v1m0 211v3m0 16v4m1-26v6m0 16v4m1-29v6m1 0v3m1-6v10m0 8v4m2 0v4m1-32v3m0 6v3m1-6v3m0 19v4m1-23v3m1-6v6m0 4v4m0 4v4m1-16v16m1-19v3m0 8v12m1-26v6m0 8v8m1-19v15m1-15v3m1-6v6m1-6v3m0 19v4m1-26v6m0 16v4m1-26v6m0 16v4m1-23v3m0 16v4m1-26v6m1-3v7m0 12v4m1-23v3m0 16v4m1-23v3m0 12v8m1-23v3m0 4v8m1-15v3m0 12v8m1-26v6m0 16v4m1-29v9m0 16v4m1-26v3m0 19v4m1-29v6m0 19v4m1-26v6m0 16v4m1-26v6m0 8v4m0 4v4m1-23v3m0 16v4m1-23v3m0 12v8m1-23v3m1-6v6m0 16v4m1-26v6m0 16v4m1-26v6m1-6v6m1-6v6m0 16v4m1-26v3m0 19v4m1-23v3m0 16v4m1-26v10m1-7v7m1 4v4m1-15v3m0 16v4m1-29v6m0 19v4m1-29v9m0 16v4m1-29v6m0 19v4m1-26v3m0 19v4m1-26v3m1-3v10m0 4v4m0 4v4m1-20v4m0 12v4m1-26v10m1-7v3m0 12v4m1-19v3m0 12v4m1-25v9m0 16v4m1-23v7m1-10v6m0 16v4m1-23v7m0 8v8m1-23v7m0 8v4m1-19v7m1-7v3m1-3v3m0 16v4m1-29v9m0 16v4m1-26v6m0 16v4m1-26v6m0 12v8m1-26v6m0 16v4m1-29v3m0 22v4m1-26v6m1-3v3m0 16v4m1-26v6m0 12v4m1-22v6m0 16v4m1-29v9m0 16v4m1-26v3m0 19v4m1-29v6m0 19v4m1-26v3m0 19v4m1-26v3m1 19v4m1-26v6m1-3v3m0 16v4m1-23v7m0 8v4m1-19v7m0 12v4m1-26v6m0 16v4m1-26v6m0 16v4m1-29v6m0 19v4m1-29v6m0 19v4m1-29v6m0 19v4m1-29v6m1 0v3m0 16v4m1-26v6m0 12v8m1-23v7m0 4v8m1-19v19m1-19v3m0 4v4m0 4v4m1-19v3m1 12v4m1-19v3m0 8v8m1-22v6m1-6v6m0 16v4m1-23v3m0 16v4m1-23v3m0 16v4m1-26v10m1-10v6m0 16v4m1-26v10m0 8v4m1-16v4m1-7v3m0 12v4m1-19v3m0 8v8m1-22v6m0 16v4m1-26v3m0 19v4m1-29v9m0 16v4m1-26v6m0 8v12m1-23v3m0 8v8m1-19v3m0 4v12m1-19v3m0 4v4m0 4v4m1-19v3m0 8v8m1-19v3m1-3v3m0 8v4m0 4v4m1-23v3m0 4v8m0 4v4m1-26v6m0 16v4m1-29v9m0 16v4m1-26v10m0 8v8m1-26v3m0 3v4m0 12v4m1-29v3m0 3v7m0 8v8m1-23v3m1-3v3m1-3v11m0 8v4m1-26v6m0 16v4m1-23v3m1-3v3m1-6v6m0 8v4m0 4v4m1-26v6m0 16v4m1-23v3m0 16v4m1-23v3m0 16v4m1-26v6m0 16v4m1-4v4m1-23v3m0 16v4m1-23v3m1-6v6m0 16v4m1-29v9m1-6v6m0 16v4m1-23v3m1-3v3m1-9v3m0 3v3m1-6v3m0 19v4m1-29v3m0 3v3m0 4v4m0 8v4m1-23v3m0 12v4m1-19v3m0 8v4m1-18v6m1-3v11m1-11v3m0 4v12m1-8v8m1-19v7m0 4v4m0 4v4m1-29v9m1-6v6m1-3v3m0 12v4m1-19v7m0 4v8m1-22v6m1-3v3m0 12v4m1-22v6m1-3v3m0 4v4m0 4v4m1-16v16m1-19v19m1-19v3m0 8v8m1-19v7m0 8v4m1-22v6m0 16v4m1-26v3m1-3v6m0 16v4m1-26v6m1-6v10m0 8v4m1-22v6m0 4v4m1-14v6m0 12v4m1-22v6m0 16v4m1-29v9m0 16v4m1-26v6m0 16v4m1-26v6m0 16v4m1-29v9m1-6v6m0 12v4m1-22v6m0 16v4m1-29v9m1-9v6m0 19v4m1-4v4m1-26v3m0 19v4m1-23v3m0 16v4m1-23v3m0 16v4m1-26v6m0 12v4m1-19v15m1-15v11m0 4v4m1-19v3m0 8v8m1-22v3m0 19v4m1-29v9m0 16v4m1-23v3m0 16v4m1-23v3m0 16v4m1-29v3m0 3v3m1 0v4m1-10v6m0 16v4m1-26v6m0 16v4m1-26v3m0 19v4m1-29v3m0 3v3m0 16v4m1-29v9m1-6v3m0 19v4m1-23v3m1-6v3m0 7v4m0 8v4m1-26v6m0 8v12m1-20v4m1-7v3m1-6v6m0 16v4m1-26v6m0 16v4m1-29v9m0 16v4m1-23v3m0 16v4m1-29v6m0 19v4m1-23v3m0 16v4m1-23v3m1-3v3m1-6v6m0 16v4m1-26v6m0 16v4m1-26v10m1-7v3m0 8v4m1-18v10m1-7v3m0 8v4m0 4v4m1-23v7m0 8v4m1-19v7m0 8v4m1-19v3m1-9v6m1-3v6m0 8v8m1-19v3m0 8v12m1-20v4m0 8v4m1-16v16m1-16v4m0 4v4m1-15v3m0 4v4m0 4v4m1-19v3m0 12v4m1-22v6m0 16v4m1-29v9m0 16v4m1-26v3m0 19v4m1-29v9m0 16v4m1-26v6m0 12v4m1-19v3m1-6v10m0 12v4m1-29v3m0 3v3m0 12v4m1-19v3m0 16v4m1-26v6m0 16v4m1-26v3m0 15v8m1-29v6m0 19v4m1-29v3m0 22v4m1-23v3m0 16v4m1-23v7m1-16v3m0 25v4m1-23v3m0 16v4m1-26v6m1-9v6m1-3v6m1-3v3m0 16v4m1-29v9m1-9v3m0 3v3m1-3v3m0 12v8m1-26v6m0 16v4m1-23v3m1-3v3m1-3v3m0 12v8m1-23v3m0 16v4m1-23v3m1-3v3m1-6v6m1-3v3m0 16v4m1-26v6m1-9v3m0 3v3m1-3v3m1-3v7m0 4v4m1-4v8m1-19v7m0 4v4m1-15v3m0 4v4m0 4v4m1-19v3m1-6v6m0 12v4m1-22v6m1-9v9m1-3v3m0 12v8m1-23v11m0 4v4m1-22v3m1-3v6m0 16v4m1-29v13m0 8v4m1-19v3m1-3v7m0 4v8m1-19v7m0 4v4m1-8v12m1-19v3m0 8v8m1-19v7m0 4v8m1-19v7m0 8v4m1-16v4m0 4v8m1-16v4m0 4v8m1-16v16m1-16v16m1-19v3m0 8v12m1-26v6m0 16v4m1-29v9m0 16v4m1-29v9m0 16v4m1-26v6m0 16v4m1-26v6m0 16v4m1-23v3m0 16v4m1-23v7m0 8v4m1-19v3m0 4v4m0 4v4m1-19v3m0 4v12m1-22v6m0 12v4m1-22v6m0 16v4m1-4v4m1-4v4m1-26v3m0 15v8m1-29v6m0 19v4m1-29v6m0 19v4m1-32v3m0 3v3m1-6v6m0 15v8m1-29v6m0 19v4m1-26v6m0 16v4m1-26v6m0 16v4m1-26v6m0 4v4m0 8v4m1-23v7m0 8v4m1-19v11m0 4v4m1-18v2m1-2v2m0 16v4m1-22v2m0 16v4m1-22v6m0 8v8m1-22v6m0 8v4m1-19v3m1-6v3m0 15v8m0 12v3m1-41v3m0 19v4m1-26v3m0 19v4m1-29v9m0 16v4m1-23v3m0 16v4m1-23v3m0 16v4m1-23v3m0 12v4m1-22v6m0 16v4m1-26v3m0 19v4m1-32v9m0 19v4m1-32v12m0 16v4m1-26v6m1-9v3m0 3v3m0 12v8m1-29v9m0 16v4m1-26v6m1-6v6m0 16v4m1-23v3m0 16v4m1-26v10m0 8v8m1-26v10m0 8v4m1-19v7m0 8v4m1-19v3m0 4v12m1-19v3m1-3v7m0 4v8m1-16v4m0 4v8m1-19v19m1-19v7m0 8v4m1-22v10m0 28v3m1-41v6m0 16v4m1-26v6m1-6v6m0 16v4m1-26v6m0 16v4m1-26v6m0 16v4m1-23v3m0 16v4m1-23v3m1-3v3m1-3v19m1-16v4m1-7v11m0 4v4m1-25v6m0 15v4m1-25v9m0 16v4m1-4v4m1-29v3m0 3v3m0 16v4m1-23v3m1-3v3m0 16v4m1-26v6m0 16v4m1-29v9m0 16v4m1-26v6m0 16v4m1-23v3m0 12v4m1-19v3m1-6v3m1 3v4m1-7v3m0 16v4m1-26v6m0 16v4m1-29v3m0 22v4m1-29v3m0 3v3m1-3v3m0 16v4m1-12v8m1-16v8m0 4v4m1-19v7m0 4v4m1-18v6m1-6v6m0 16v4m1-219v3m0 3v5m0 185v3m0 16v4m1-242v3m0 31v5m0 177v3m0 19v4m1-239v2m0 211v3m0 19v4m1-239v2m0 208v6m0 19v4m1-23v3m0 16v4m1-250v3m0 224v3m0 8v4m1-240v1m0 227v16m1-19v11m0 4v4m1-19v3m1-3v3m0 16v4m1-29v3m0 3v3m0 4v8m0 4v4m1-26v10m0 4v4m1-15v3m0 12v4m1 0v4m1-23v3m1-3v3m0 4v4m0 8v4m1-26v3m1 0v3m1-3v3m0 12v8m1-26v3m1-3v6m0 16v4m1-23v3m0 16v4m1-234v2m0 206v6m1-6v6m0 8v4m1-15v3m1-191v3m0 185v7m0 4v8m1-202v2m0 178v6m0 16v4m1-23v3m0 16v4m1-12v8m1-204v2m0 186v8m0 4v4m1-19v3m0 4v12m1-19v3m0 8v8m1-230v2m0 209v3m0 12v4m1-228v1m0 208v7m0 8v4m1-234v1m0 11v2m0 18v3m0 177v6m1-206v2m0 204v4m0 8v4m1-199v3m0 177v7m0 8v4m1-19v19m1-241v3m0 219v19m1-8v8m1-157v2m0 136v7m0 8v4m1-220v3m0 198v3m0 8v4m1-216v3m0 198v7m1-200v3m0 190v7m0 12v4m1-216v3m0 190v3m0 16v4m1-23v3m0 16v4m1-23v7m2-13v3m0 3v3m0 16v4m1-164v3m0 138v3m0 16v4m1-20v4m0 8v8m1-20v4m1-4v4m1-7v3m0 16v4m1-29v3m0 3v7m0 12v4m1-23v3m0 16v4m1-20v4m0 12v4m1-20v4m1-4v4m1-4v4m0 12v4m1-23v7m1-4v4m0 12v4m1-20v4m0 8v8m1-20v4m1-4v4m0 12v4m1-20v4m0 12v4m1-23v3m0 16v4m1-4v4m1-23v3m1-3v3m1-3v3m1-157v3m0 170v4m1-23v7"/>
<path stroke="#0000ff" d="M0 0m170 640v4m1-4v4m1-8v8m1-8v8m1-16v4m0 8v4m1-4v4m1-8v4m1 0v4m1-8v8m1-8v8m1-12v12m1-12v8m1-4v8m1-8v8m1-8v8m1-12v12m1-8v8m1-8v4m1-8v8m1-8v8m1-8v12m1-8v8m1-8v8m1-16v4m0 4v8m1-4v4m1-8v8m1-4v4m1-4v4m2-8v8m1-4v4m1-8v8m1-8v8m1-8v8m1-205v1m0 188v4m1-197v1m0 14v1m1-22v3m0 208v4m1-8v8m1-215v2m1 209v4m1-8v8m1-4v4m1-212v3m0 205v4m1-212v3m0 13v1m0 191v4m1-199v4m0 187v8m1-202v6m0 2v1m0 185v8m1-217v5m0 3v2m0 5v1m0 193v8m1-8v8m1-219v2m0 13v1m0 195v8m2-8v8m1-8v8m1-8v8m1-8v8m1-12v4m0 4v4m1-207v3m0 188v16m1-207v3m0 192v12m1-12v12m1-204v1m0 1v1m0 7v1m0 185v8m1-204v5m0 191v8m1-8v8m1-222v2m0 212v8m1-212v5m0 199v8m1-209v2m0 8v3m0 188v4m1-213v5m0 18v1m0 185v8m1-215v3m0 3v5m0 1v1m0 3v3m0 188v8m1-216v4m0 5v3m0 1v1m0 3v3m0 192v4m1-217v5m0 3v7m0 8v5m0 185v4m1-220v3m0 2v6m0 5v5m0 191v8m1-220v3m0 21v2m0 186v8m1-212v3m0 5v2m1 0v3m0 3v2m0 4v1m0 173v4m0 4v8m1-216v9m0 3v2m0 3v3m0 2v7m0 183v4m1-222v2m0 3v10m0 21v2m0 176v8m1-215v9m0 7v3m0 2v3m0 183v8m1-222v8m0 7v3m0 188v4m0 8v4m1-220v3m0 201v4m0 4v4m1-212v4m0 3v2m0 8v5m0 190v8m1-16v4m0 4v4m1-218v6m0 3v5m0 1v3m0 1v2m0 193v4m1-199v3m0 2v3m0 187v4m1-209v2m0 3v2m0 8v3m0 187v4m1-4v4m2-8v8m1-4v4m1-8v8m1-12v12m1-8v4m1-4v8m1-16v4m0 4v8m1-224v4m0 8v2m0 206v4m1-221v4m0 5v1m0 195v4m1-203v6m0 205v4m1-212v3m0 205v4m1-222v2m0 1v3m0 5v2m0 197v12m1-12v12m1-8v4m1-8v12m1-215v3m0 3v2m0 199v8m1-8v8m1-196v2m0 190v4m1-212v3m0 13v2m0 190v4m1-191v1m0 178v4m0 4v4m1-206v4m0 1v2m0 3v2m0 3v2m0 177v12m1-222v2m0 11v1m0 1v3m0 2v3m0 187v4m1-194v3m0 187v12m1-224v2m0 23v3m0 2v3m0 183v8m1-202v6m0 2v3m0 183v8m1-222v2m0 16v2m0 3v3m0 2v3m0 183v8m1-211v15m0 184v12m1-12v12m1-205v1m0 5v5m0 4v1m0 177v12m1-204v4m0 192v8m1-222v2m0 3v2m0 1v10m0 4v3m0 185v12m1-223v1m0 13v5m0 2v3m0 183v4m0 8v4m1-222v5m0 2v1m0 12v3m0 191v8m1-202v3m0 191v8m1-196v2m0 3v2m0 3v3m0 175v8m1-8v4m1-211v3m0 3v2m0 3v2m0 194v8m1-16v4m0 8v4m1-16v4m1-4v4m1-4v4m0 12v4m1-187v1m0 166v4m1 8v4m2-8v8m1-8v8m1-8v8m1-12v8m1-8v8m1-4v8m1-8v4m1-8v8m1-8v8m0 23v3m1-34v12m0 19v3m1-34v8m1-8v12m1-12v12m1-12v8m1-8v12m1-8v8m1-208v1m0 203v4m2-16v4m1 8v4m1-202v3m0 187v12m1-204v2m0 6v2m0 186v8m1-218v1m0 2v11m0 2v2m0 4v1m0 187v4m1-4v4m1-221v3m0 5v2m0 6v2m0 3v2m0 190v12m1-209v2m0 3v2m0 190v12m1-230v2m0 8v3m0 2v10m0 1v5m0 5v1m0 181v8m1-211v6m0 5v8m0 2v3m0 183v8m1-212v5m1-23v2m0 2v11m0 8v3m0 200v4m1-228v8m0 16v2m0 4v4m0 8v2m0 176v8m1-228v6m0 2v3m0 5v3m0 2v3m0 5v5m0 3v2m0 181v8m1-224v7m0 18v5m0 3v2m0 185v4m1-231v1m0 3v10m0 2v3m0 5v3m0 6v4m0 190v4m1-224v2m0 2v3m0 2v3m0 10v3m0 191v8m1-229v5m0 1v3m0 5v3m0 13v3m0 192v4m1-204v8m0 2v4m0 174v4m0 8v4m1-227v2m0 3v2m0 17v1m0 6v5m0 183v8m1-225v5m0 14v2m0 2v2m0 1v3m0 2v3m0 183v4m1-228v2m0 1v2m0 2v3m0 2v8m0 3v2m0 199v8m1-230v2m0 1v2m0 3v1m0 19v3m0 191v4m1-226v5m0 3v2m0 11v2m0 2v3m0 3v3m0 2v3m0 183v8m1-231v14m0 1v1m0 3v3m0 10v5m0 182v12m1-228v3m0 5v8m0 7v1m0 2v6m0 188v8m1-225v5m0 5v3m0 10v3m0 5v3m0 183v8m1-227v7m0 3v2m0 11v2m0 3v3m0 188v8m1-230v2m0 3v5m0 5v6m0 7v6m0 2v4m0 182v8m1-229v1m0 3v5m0 3v2m0 3v3m0 2v8m0 2v1m0 2v2m0 184v8m1-231v1m0 1v9m0 3v2m0 11v2m0 190v12m1-233v3m0 1v7m0 2v3m0 2v6m0 13v2m0 182v12m1-231v1m0 1v1m0 6v2m0 5v3m0 3v2m0 8v3m0 188v8m1-225v3m0 18v2m0 3v3m0 188v8m1-233v5m0 1v15m0 3v2m0 203v4m1-229v12m0 5v5m0 199v4m1-272v1m0 60v3m0 196v4m0 4v8m1-223v3m0 2v9m0 5v9m0 183v12m1-228v9m0 7v8m0 2v3m0 3v1m0 183v12m1-228v5m0 3v8m0 3v5m0 2v2m0 1v3m0 184v8m1-200v5m0 191v8m1-234v1m0 1v2m0 5v3m0 18v2m0 3v1m0 194v4m1-235v1m0 1v3m0 5v1m0 18v4m0 3v3m0 192v8m1-238v1m0 6v3m0 2v2m0 11v2m0 3v10m0 190v4m1-209v2m0 8v4m0 1v1m0 177v4m0 8v4m1-217v2m0 8v3m0 5v3m0 1v2m0 185v8m1-222v2m0 3v2m0 3v12m0 1v5m0 186v8m1-204v7m0 193v4m1-209v6m0 4v3m0 188v8m1-208v1m0 1v3m0 4v3m0 188v8m1-229v1m0 21v1m0 7v3m0 188v8m1-209v8m0 7v1m0 185v8m1-12v8m1-8v8m1-208v3m0 7v3m0 187v12m1-220v7m0 1v3m0 5v5m0 191v8m1-232v2m0 2v3m0 5v9m0 9v5m0 189v8m1-226v3m0 6v2m0 3v3m0 5v2m0 190v12m1-228v3m0 3v4m0 1v2m0 3v3m0 6v4m0 187v12m1-228v3m0 5v1m0 2v2m0 1v1m0 11v3m0 187v8m1-224v3m0 3v2m0 3v8m0 2v3m0 1v5m0 190v8m1-228v3m0 5v3m0 2v6m0 2v8m0 191v8m1-232v4m0 6v1m0 1v3m0 2v5m0 1v2m0 191v4m0 4v4m1-222v4m0 17v3m0 3v1m0 190v8m1-206v2m0 1v1m0 194v8m1-207v2m0 1v2m0 3v4m0 191v4m1-225v5m0 18v8m0 182v12m1-207v3m0 2v3m0 5v3m0 179v12m1-215v1m0 7v3m0 8v2m0 186v8m1-217v2m0 8v3m0 192v12m1-215v3m0 3v5m0 2v8m0 5v2m0 175v12m1-217v2m0 6v15m0 5v3m0 174v12m1-209v5m0 1v1m0 2v1m0 3v2m0 4v2m0 180v8m1-217v2m0 11v8m0 188v8m1-217v2m0 207v8m1-215v3m0 18v1m0 2v3m0 180v8m1-196v2m0 3v3m0 180v8m1-194v3m0 183v8m1-194v1m0 185v8m1-16v16m1-12v12m1-4v4m1-8v8m1-16v4m0 4v8m1-8v8m1-12v4m0 4v4m1-12v12m1-8v8m1-8v8m1-8v8m1-4v4m1-4v4m1-8v8m1-8v8m1-8v8m1-12v8m1-8v12m1-8v4m1 0v4m1-8v8m1-8v8m1-12v12m1-8v8m1-8v8m1-8v8m1-12v4m0 4v4m1-12v12m1 16v3m1-27v8m0 16v3m1-27v8m0 16v3m1-31v12m1-8v8m1-4v4m1-16v4m0 4v8m1 0v4m1-12v8m1-4v4m1-8v8m0 16v3m1-27v4m1-8v12m1-12v8m1-12v4m0 4v8m1-12v12m1-12v12m1-12v12m1-12v12m1-16v4m0 4v8m1-16v16m1-12v12m1-12v8m1-8v8m1-8v12m2-16v4m0 8v4m1-12v12m1-16v16m1-12v12m1-233v1m0 2v2m0 216v12m1-12v8m1-8v8m0 15v2m1-243v2m0 6v5m0 205v12m0 11v2m0 3v3m1-241v5m0 201v16m0 11v2m0 3v3m1-241v5m0 2v2m0 201v4m0 4v4m1-215v2m0 197v16m0 10v3m1-241v3m0 1v4m0 3v4m0 201v4m0 4v4m0 10v3m1-244v1m0 2v3m0 3v2m0 3v3m0 202v8m1-226v2m0 6v2m0 8v1m0 199v8m1-228v2m0 2v2m0 14v1m0 195v8m0 4v4m1-16v4m0 4v8m1-242v1m0 229v8m1-235v1m0 6v1m0 219v12m1-228v6m0 206v16m1-228v6m0 206v16m1-204v2m0 186v16m1-209v2m0 195v12m1-209v2m0 195v8m1-213v2m0 13v1m0 185v16m1-222v5m0 201v12m1-226v2m0 6v5m0 15v3m0 183v4m0 4v8m1-224v4m0 3v5m0 5v5m0 6v1m0 179v16m1-237v3m0 12v1m0 12v5m0 2v6m0 184v8m1-234v1m0 18v2m0 2v3m0 6v4m0 1v4m0 185v12m1-238v2m0 8v3m0 3v2m0 2v1m0 2v3m0 5v3m0 3v2m0 3v1m0 183v12m1-236v3m0 3v10m0 3v1m0 4v3m0 7v1m0 3v2m0 184v12m1-235v2m0 3v7m0 1v2m0 3v2m0 16v3m0 184v12m1-235v10m0 3v1m0 4v2m0 18v1m0 184v12m1-230v8m0 2v4m0 9v3m0 5v6m0 177v12m1-231v6m0 5v7m0 10v3m0 5v4m1-40v5m0 4v9m0 10v3m0 4v2m0 182v8m1-227v5m0 2v6m0 7v2m0 9v1m0 1v6m0 184v4m0 4v4m1-241v4m0 6v3m0 3v3m0 2v3m0 5v3m0 5v7m0 3v1m0 177v16m1-235v6m0 1v3m0 5v3m0 5v3m0 5v5m0 183v16m1-228v6m0 2v3m0 2v13m0 186v16m1-227v10m0 5v9m0 187v16m1-237v2m0 8v2m0 3v10m0 5v5m0 3v1m0 182v12m1-231v5m0 5v3m0 5v15m0 190v8m1-239v2m0 6v2m0 3v13m0 8v1m0 1v5m0 190v4m0 4v4m1-238v3m0 2v3m0 2v3m0 3v2m0 3v2m0 2v4m0 2v3m0 192v8m1-234v3m0 2v1m0 1v1m0 2v2m0 4v2m0 10v6m0 2v1m0 193v8m1-212v3m0 2v2m0 193v4m0 4v4m1-235v2m0 13v3m0 10v3m0 2v1m0 189v12m1-220v3m0 13v1m0 191v8m1-234v3m0 10v3m0 5v2m0 6v2m0 195v8m1-231v2m0 13v3m0 2v3m0 2v1m0 197v12m1-228v3m0 5v3m0 2v6m0 197v8m1-230v1m0 11v2m0 3v2m0 3v3m0 193v16m1-233v3m0 10v3m0 5v1m0 195v8m0 4v4m1-237v2m0 2v3m0 5v2m0 4v2m0 5v2m0 194v16m1-235v2m0 3v2m0 212v16m1-230v2m0 212v16m1-230v2m0 11v2m0 3v3m0 193v16m1-241v3m0 3v5m0 2v3m0 8v2m0 199v16m1-241v3m0 10v3m0 3v1m0 4v5m0 200v8m1-235v6m0 11v5m0 2v2m0 197v16m1-238v4m0 14v7m0 197v16m1-239v4m0 5v5m0 3v5m0 2v2m0 197v16m1-235v2m0 3v5m0 5v5m0 199v16m1-239v1m0 3v2m0 3v5m0 5v1m0 4v1m0 198v8m0 4v4m1-238v3m0 2v2m0 1v9m0 205v16m1-235v2m0 5v3m0 10v3m0 196v16m1-235v2m0 5v3m0 206v19m1-228v3m0 3v2m0 204v16m1-12v8m1-15v11m0 4v4m1-19v11m0 4v4m1-16v4m0 4v8m1-19v19m1-16v16m1-16v4m0 4v4m2-12v8m1-8v8m1 4v4m1-16v16m1-16v16m1-19v11m0 4v4m1-16v16m1-16v16m1-16v16m1-16v16m1-12v12m1-16v16m1-16v12m1-12v4m0 8v4m1-16v12m1-12v16m1-16v16m1-19v11m1-11v19m1-16v16m1-16v8m0 4v4m1-16v16m1-16v12m1-12v16m1-16v16m1-16v16m1-16v8m0 4v4m1-16v16m1-16v16m1-19v19m1-16v16m1-12v12m1-12v12m1-16v8m0 4v4m1-16v16m1-19v7m0 4v8m1-16v16m1-19v3m0 4v12m1-19v3m0 4v12m1-19v19m1-12v4m0 4v4m1-19v3m0 4v12m1-12v12m1-16v12m1-12v12m1-12v16m1-12v12m1-16v16m1-12v8m1-8v8m1-8v12m1-16v16m1-16v16m1-16v16m1-16v16m1-16v12m1-12v16m1-19v19m1-16v16m1-16v16m1-16v12m1-12v16m1-16v16m1-19v19m1-19v19m1-19v19m1-19v19m1-19v19m1-16v16m1-16v16m1-12v8m1-8v12m1-16v16m1-16v16m1-19v7m0 4v8m1-19v3m0 4v12m1-19v3m0 4v4m0 4v4m1-19v19m1-16v16m1-16v12m1-8v4m2-8v4m0 4v4m1-12v16m1-16v12m1-12v8m1-8v16m1-16v16m1-16v16m1-16v16m1-12v12m1-16v16m1-12v8m1-8v12m1-16v12m1-12v8m1-8v16m1-19v19m1-16v4m0 4v8m1-16v8m1-8v8m1-8v4m1-4v4m0 4v4m1-12v8m1-8v16m1-16v8m0 4v4m1-16v4m0 8v4m1-16v16m1-16v16m1-12v8m1-15v3m0 4v12m1-12v8m1-12v16m1-16v16m1-8v8m1-16v16m1-16v16m1-16v16m1-16v8m0 4v4m1-16v16m1-16v16m1-16v16m1-16v16m1-19v19m1-16v16m1-16v16m1-16v16m1-16v16m1-16v16m1-16v16m1-16v16m1-16v16m1-19v19m1-16v4m0 4v8m1-16v12m1-12v8m0 4v4m1-16v16m1-8v8m1-16v4m1-4v8m1-4v4m0 4v4m1-16v16m1-16v16m1-16v12m1-8v4m1-8v16m1-16v12m1-12v16m1-16v4m0 4v4m3-12v8m1-4v8m1-12v16m1-19v7m0 4v8m1-16v16m1-16v16m1-12v8m1-12v4m0 4v8m1-16v12m1-12v16m1-12v12m1-16v16m1-16v16m1-16v16m1-16v12m1-12v4m0 4v8m1-12v12m1-19v19m1-19v19m1-16v16m1-16v4m0 8v4m1-16v16m1-16v12m1 0v4m1-8v4m1-12v8m1-11v19m1-16v16m1-16v16m1-16v16m1-16v16m1-12v12m1-16v16m1-16v16m1-19v19m1-16v4m0 4v8m1-16v16m1-19v19m1-16v16m1-16v4m0 4v8m1-16v8m1-11v3m0 4v12m1-16v16m1-16v16m1-16v4m0 8v4m1-16v16m1-16v16m1-19v19m1-16v16m1-16v16m1-16v16m1-16v16m1-16v16m1-12v12m1-16v8m0 4v4m1-12v12m1-16v8m0 4v4m1-12v8m1-8v8m1-12v16m1-19v19m1-16v8m1-8v4m1 0v8m2-8v4m0 4v4m1-16v4m0 4v4m1-12v12m1-12v8m0 4v4m1-16v16m1-19v19m1-16v16m1-16v12m1-12v16m1-12v12m1-16v12m1-12v16m1-16v16m1-19v15m1-15v19m1-19v19m1-16v8m0 4v4m1-12v12m1-19v19m1-16v4m0 4v8m1-16v16m1-19v19m1-16v16m1-16v16m1-16v16m1-16v16m1-16v12m1-12v16m1-16v16m1-16v16m1-16v12m1-12v16m1-16v16m1-16v16m1-16v16m1-16v16m1-16v16m1-16v16m1-16v16m1-12v4m0 4v4m1-16v8m1-4v4m0 4v4m1-16v4m0 4v4m1-12v16m1-16v12m1-12v16m1-16v16m1-16v12m1-4v4m1-15v19m1-16v16m1-12v8m1-12v16m1-12v4m1-4v4m0 4v4m1-16v4m1-4v8m1-4v4m1-4v8m1-8v4m1-4v4m3-8v8m1-8v8m0 4v4m1-16v16m1-16v4m0 4v8m1-16v16m1-16v16m1-16v16m1-12v8m1-12v4m0 4v4m1-12v4m1-4v12m1-12v16m1-19v19m1-19v19m1-19v15m1-15v19m1-19v7m1-7v3m0 12v4m1-19v7m0 4v4m1-15v11m1-8v16m1-16v16m1-16v4m0 4v8m1-12v8m1-4v4m1-12v16m1-16v4m0 4v8m1-16v16m1-12v8m1-8v8m1-12v16m1-19v11m1-11v19m1-19v19m1-16v16m1-16v16m1-16v16m1-16v12m1-12v16m1-19v11m0 4v4m1-19v15m1-12v12m1-12v8m0 4v4m1-16v4m0 4v4m1-12v16m1-16v16m1-16v16m1-16v16m1-12v8m1-8v8m1-8v8m1-12v4m1-4v16m1-12v4m1-4v4m2-4v8m1-8v12m1-16v16m1-16v16m1-16v16m1-16v16m1-16v16m1-16v16m1-16v16m1-16v16m2-12v12m1-8v4m1-15v15m1-12v4m0 4v8m1-19v19m1-16v16m1-16v16m1-16v16m1-16v16m1-16v4m0 4v8m1-16v16m1-16v12m1-12v16m1-16v16m1-212v3m0 197v12m1-16v16m1-222v2m0 35v2m0 167v16m1-212v3m0 190v19m1-16v16m1-233v3m0 5v5m0 16v2m0 186v16m1-230v2m0 3v5m0 3v2m0 199v8m1-235v2m0 2v1m0 5v5m0 3v5m0 3v2m0 207v4m1-224v13m0 8v3m0 192v4m0 4v4m1-238v3m0 13v2m0 11v6m0 1v3m0 183v16m1-239v4m0 13v2m0 3v2m0 3v13m0 183v16m1-238v3m0 2v3m0 5v10m0 3v3m0 5v2m0 6v1m0 1v1m0 177v16m1-242v1m0 6v13m0 4v1m0 3v10m0 8v2m0 175v7m0 4v8m1-261v2m0 18v6m0 2v8m0 3v13m0 2v7m0 181v11m0 4v4m1-241v6m0 2v8m0 3v10m0 193v7m0 4v8m1-235v2m0 8v3m0 2v5m0 6v2m0 5v6m0 180v16m1-249v3m0 3v2m0 3v3m0 18v10m0 191v8m0 4v4m1-246v2m0 6v4m0 1v1m0 15v2m0 4v4m1-41v7m0 6v2m0 3v2m0 3v3m0 5v12m0 1v2m0 194v4m1-247v3m0 5v2m0 6v2m0 47v3m0 5v2m0 160v16m1-251v3m0 5v2m0 6v1m0 17v2m0 3v3m0 7v1m0 185v16m1-246v3m0 8v2m0 24v2m0 191v4m0 8v4m1-243v7m0 27v2m0 16v2m0 177v4m0 4v4m1-243v2m0 32v2m0 16v2m0 6v7m0 160v12m1-185v6m0 2v1m0 164v16m1-191v13m0 2v6m0 154v16m1-241v3m0 3v2m0 18v3m0 21v2m0 6v5m0 2v6m0 154v4m0 4v8m1-241v3m0 41v1m0 2v3m0 172v19m1-199v13m0 3v5m0 5v8m0 149v16m1-241v3m0 18v5m0 199v12m1-237v3m0 83v3m0 133v19m1-212v3m0 2v3m0 2v11m0 5v5m0 3v8m0 2v5m0 6v1m0 140v16m1-230v2m0 26v3m0 16v2m0 11v2m0 152v16m1-237v7m0 8v2m0 3v8m0 2v8m0 16v2m0 165v16m1-212v3m0 2v3m0 2v3m0 8v4m0 1v3m0 20v3m0 144v8m0 4v4m1-241v3m0 8v2m0 16v3m0 2v8m0 13v8m0 13v2m0 147v16m1-241v3m0 5v5m0 3v5m0 7v4m0 5v5m0 13v8m0 13v5m0 148v4m1-240v2m0 13v3m0 10v3m0 2v6m0 2v4m0 3v1m0 16v2m0 8v3m0 10v1m0 143v16m1-254v3m0 31v3m0 5v3m0 2v5m0 16v3m0 17v1m0 149v16m1-254v8m0 26v3m0 5v2m0 6v2m0 16v3m0 2v3m0 8v4m0 150v8m1-230v5m0 16v2m0 3v3m0 31v2m0 3v3m0 7v3m0 152v4m1-226v2m0 6v2m0 3v2m0 6v2m0 11v2m0 16v2m0 3v5m0 3v2m0 3v2m0 142v4m1-218v5m0 45v10m0 5v2m0 6v2m0 139v8m1-230v3m0 2v3m0 2v3m0 44v11m0 5v2m0 6v2m0 139v12m1-231v2m0 6v2m0 7v6m0 31v11m0 5v2m0 6v2m0 143v8m1-233v3m0 1v5m0 3v3m0 2v4m0 1v11m0 5v5m0 18v3m0 3v2m0 3v2m0 147v16m1-242v1m0 4v4m0 8v3m0 2v3m0 5v3m0 2v3m0 2v5m0 185v8m1-229v3m0 4v1m0 8v2m0 8v8m0 21v5m0 10v3m0 148v8m1-237v3m0 15v11m0 10v3m0 3v7m0 3v3m0 18v8m1-67v8m0 1v3m0 16v2m0 3v2m0 3v3m0 18v5m1-63v6m0 24v2m0 175v8m1-230v3m0 12v1m0 2v5m0 3v3m0 16v2m0 179v8m1-251v1m0 16v5m0 7v4m0 5v3m0 2v3m0 15v3m0 34v2m0 139v8m0 4v4m1-227v5m0 5v5m0 3v5m0 2v3m0 42v2m0 143v12m1-225v3m0 2v3m0 8v2m0 21v3m0 5v2m0 18v1m0 145v12m1-224v2m0 3v2m0 8v2m0 191v16m1-243v2m0 8v3m0 10v3m0 2v6m0 2v5m0 6v2m0 32v2m0 5v3m0 136v16m1-235v2m0 18v3m0 5v5m0 3v5m0 34v3m0 145v12m1-240v5m0 39v5m0 36v1m0 138v8m0 4v4m1-238v3m0 67v3m0 10v1m0 138v4m0 4v8m1-181v5m0 8v5m0 6v5m0 136v16m1-183v7m0 11v8m0 145v8m1-179v2m0 3v2m0 11v2m0 151v12m1-183v2m0 3v1m0 12v2m0 151v12m1-186v5m0 37v2m0 126v4m0 4v8m1-183v2m0 16v3m0 18v2m0 138v4m1-204v2m0 13v3m0 5v3m0 2v2m0 14v3m0 18v2m0 121v4m0 8v4m1-8v8m1-142v3m0 131v8m1-141v2m0 127v12m1-12v12m1-4v4m1-12v12m1-118v2m0 108v4m1-120v3m0 113v8m1-124v3m0 113v8m1-4v4m1-118v2m0 100v4m0 8v4m1-16v4m0 4v4m1-140v2m0 126v4m0 8v8m1-20v4m1-4v4m1-174v3m0 167v4m0 8v4m1-8v8"/>
<path stroke="#0019ff" d="M0 0m170 632v8m1-8v8m1-8v4m1-4v4m1-4v8m1-8v8m1 0v4m1-12v8m1-8v4m1-4v4m3-4v4m1-4v4m1-4v4m4-287v2m1-20v2m2 299v4m1-290v6m0 280v4m1-4v4m1 0v4m2-4v4m1-8v8m1-4v8m1-209v6m0 191v4m1-201v2m0 195v8m1-317v2m0 307v4m1-4v4m1-313v2m0 8v2m0 113v2m1-117v3m0 104v2m0 3v5m0 182v12m1-313v2m0 103v1m0 5v8m0 182v12m1-217v2m0 3v3m0 2v5m0 3v2m0 189v4m1-212v5m0 4v2m0 193v4m1-295v2m0 85v1m0 203v12m1-202v2m0 192v4m1-200v2m0 190v4m1-196v4m0 192v4m1-209v1m0 3v5m0 13v2m0 177v8m1-209v1m0 3v2m0 8v3m0 1v6m0 177v8m1-208v1m0 7v5m0 4v1m0 3v1m0 178v4m1-207v8m0 3v2m0 6v2m0 182v4m1-212v3m0 5v3m0 5v2m0 190v4m1-211v2m0 2v6m0 197v4m1-209v1m0 9v3m0 192v4m1-205v10m0 191v8m1-213v5m0 200v4m1-211v2m0 24v1m0 180v4m1-287v2m0 93v4m0 7v1m0 176v4m1-287v2m0 83v1m0 7v3m0 10v1m0 176v4m1-201v16m0 185v4m1-208v5m0 3v1m1-19v2m0 5v8m0 3v2m1-5v3m0 2v8m1-15v2m0 8v5m0 182v4m1-209v5m0 3v2m0 195v4m1-199v3m0 2v6m0 184v4m1-212v8m0 5v5m0 3v2m0 185v4m1-214v2m0 3v5m0 5v3m0 5v3m1-21v2m0 3v3m0 2v3m0 8v3m0 181v4m1-217v3m0 1v4m0 5v3m0 2v3m0 8v2m0 1v2m0 179v4m1-210v3m0 3v3m0 7v3m0 3v3m0 181v4m1-211v3m0 4v3m0 7v3m0 3v7m0 177v8m1-219v6m0 5v3m0 7v8m0 182v8m1-218v2m0 3v2m0 6v5m0 5v3m0 2v5m0 177v4m1-214v2m0 3v8m0 5v5m0 187v4m1-211v7m0 3v2m0 5v6m0 2v3m0 183v8m1-217v15m0 3v3m0 2v4m0 1v2m0 175v4m1-215v3m0 3v1m0 204v8m1-221v3m0 15v16m0 1v4m0 174v4m1-215v8m0 9v7m0 3v2m0 5v3m0 174v4m1-216v2m0 18v8m0 2v3m0 179v8m1-219v3m0 3v2m0 3v8m0 2v1m0 2v3m0 2v5m0 177v4m0 4v4m1-217v1m0 4v3m0 5v5m0 5v3m0 179v8m1-216v3m0 1v1m0 1v9m0 1v2m0 3v3m0 2v3m0 183v4m1-216v2m0 18v1m0 2v1m0 2v3m0 179v8m1-206v1m0 5v5m0 3v2m0 5v1m0 176v8m1-213v8m0 2v2m0 3v8m0 182v8m1-205v2m0 13v3m0 179v8m1-8v12m1-201v9m0 180v4m1-215v3m0 8v3m0 7v9m0 181v8m1-191v4m0 179v4m2-214v3m0 207v4m1-209v2m0 24v1m0 178v4m1-212v3m0 205v4m1-218v2m0 7v2m0 5v1m0 197v8m1-221v4m0 4v2m0 4v2m0 197v12m1-220v5m0 6v2m0 195v8m1-213v5m0 8v1m0 191v8m1-219v1m0 2v1m0 10v1m2-5v4m0 2v3m0 2v6m0 184v4m2-209v2m0 8v1m0 2v10m0 182v4m1-4v4m1-207v3m0 5v3m0 2v6m0 2v3m0 179v8m1-211v3m0 3v5m0 2v6m0 2v3m0 2v2m0 175v8m1-200v5m0 3v5m0 1v2m0 180v4m1-207v5m0 7v3m0 2v3m1-34v3m0 5v2m0 11v2m0 3v5m0 3v2m0 181v4m1-205v7m0 3v5m0 3v3m1-37v1m0 2v2m0 3v8m0 5v5m0 3v2m0 182v4m1-217v4m0 4v15m0 6v2m0 182v4m1-215v1m0 2v5m0 3v5m0 5v3m0 8v3m0 176v4m1-212v9m0 15v5m1-29v3m0 2v19m0 2v3m1-21v7m0 1v2m1-22v4m0 2v14m0 4v9m0 179v4m1-215v1m0 2v3m0 2v1m0 17v5m1-34v3m0 6v2m0 11v2m0 3v5m0 3v4m0 179v4m1-220v2m0 5v2m0 1v5m0 2v3m1 8v2m0 182v4m1-207v6m0 2v3m0 2v5m0 3v3m0 2v3m0 174v4m1-201v2m0 3v5m0 8v2m0 185v4m1-222v2m0 2v3m0 3v3m0 2v2m0 3v1m0 2v4m1-26v1m0 11v2m0 195v8m1-195v3m0 184v12m1-186v3m0 175v8m1-181v1m0 172v8m1-213v1m0 8v1m0 1v1m0 10v2m0 3v3m0 171v12m1-183v2m0 173v4m1-8v12m1-185v4m0 169v4m1-4v4m4-4v4m1-4v4m4-186v1m2 9v1m3 171v4m1-207v7m0 1v7m0 1v1m0 12v2m0 172v8m1-195v3m0 5v1m0 182v8m1-12v12m1-220v5m0 6v2m0 21v1m0 173v8m1-213v2m0 8v5m0 3v5m0 3v4m1-26v1m0 5v3m0 2v6m0 10v2m0 172v4m1-216v6m0 1v2m0 15v4m0 1v1m0 182v4m1-209v13m0 5v1m0 2v1m0 183v4m1-219v2m0 5v3m0 2v6m0 2v3m0 2v11m0 5v3m1-34v2m0 1v5m0 2v3m0 2v9m1-39v2m0 4v4m0 17v1m0 5v5m1-33v12m0 8v3m0 13v5m0 174v4m1-220v16m0 5v1m0 2v7m0 1v2m0 182v12m1-228v2m0 11v8m0 5v1m0 2v3m0 2v11m0 171v8m1-228v4m0 8v5m0 3v8m0 2v4m0 7v5m0 174v4m1-224v4m0 13v3m0 3v2m0 5v3m0 10v2m0 175v4m1-220v4m0 9v16m0 187v8m1-229v2m0 1v3m0 10v2m0 3v5m0 3v2m0 3v1m0 186v8m1-227v1m0 3v3m0 2v2m0 11v5m0 8v2m0 182v4m1-223v2m0 9v5m0 3v13m0 3v4m0 180v8m1-226v8m0 10v5m0 11v2m0 186v4m1-228v5m0 7v3m0 2v4m0 2v6m0 1v6m0 184v4m1-225v8m0 14v5m0 194v4m0 4v4m1-233v1m0 2v1m0 22v8m0 2v1m0 184v4m1-224v2m0 2v1m0 2v3m0 1v1m0 11v2m0 1v4m0 3v3m0 184v4m0 4v4m1-233v3m0 5v3m0 2v3m0 5v3m0 2v2m0 193v4m1-225v2m0 16v3m0 3v7m1-27v1m0 16v7m0 1v2m0 6v2m0 182v4m1-220v3m0 5v5m0 3v10m0 3v3m0 184v4m1-222v3m0 7v3m0 2v3m0 3v2m0 7v1m0 5v1m0 181v4m1-224v2m0 21v7m1-29v2m0 14v3m0 3v2m0 15v1m1-78v2m0 33v3m0 1v1m0 14v11m0 2v11m1-39v1m0 30v3m1-38v3m0 1v1m0 17v3m0 2v3m0 2v3m0 187v4m1-224v2m0 2v3m0 3v10m0 3v5m0 2v3m0 187v4m1-220v1m0 20v6m0 2v5m0 186v4m1-272v2m0 41v4m0 22v12m0 191v4m1-275v1m0 41v18m0 3v5m0 1v11m0 183v4m1-251v1m0 27v1m0 2v5m0 3v2m1-43v2m0 25v6m0 29v3m1-38v6m0 5v3m0 8v3m1-22v3m0 3v10m0 3v3m0 1v4m1-26v5m0 3v2m0 3v5m0 4v4m0 196v4m1-239v1m0 12v5m0 1v3m0 4v11m0 194v8m1-232v2m0 3v4m0 215v8m1-231v10m0 8v8m0 7v3m0 4v1m0 182v8m1-229v8m0 3v2m0 5v8m0 5v3m0 3v1m1-35v2m0 9v2m0 17v1m0 5v1m0 181v4m1-225v13m0 8v3m0 1v1m0 1v2m0 192v8m1-268v2m0 37v3m0 7v1m0 2v5m0 19v2m0 182v4m1-264v3m0 36v3m0 2v6m0 2v5m0 6v1m0 1v1m0 10v1m0 183v4m1-224v3m0 1v16m0 2v1m0 197v4m1-214v2m0 5v6m0 197v4m1-214v2m0 5v2m0 4v2m0 1v2m0 4v4m1-55v3m0 14v1m0 1v2m0 2v6m0 5v2m0 1v2m0 2v3m0 3v3m1-24v13m0 3v7m0 3v4m1-37v7m0 12v1m0 3v5m0 5v1m0 186v4m1-225v1m0 2v2m0 17v4m0 195v4m1-223v5m0 4v5m0 2v3m0 3v5m0 5v4m1-37v4m0 10v1m0 2v2m0 4v2m0 3v1m1-27v2m0 3v5m0 5v1m0 1v11m0 3v1m1-78v1m0 45v2m0 3v3m0 2v3m0 8v2m0 3v1m0 191v4m1-224v4m0 6v2m0 11v2m0 11v1m0 183v4m1-225v1m0 7v3m0 1v1m0 208v4m0 4v4m1-228v2m0 6v15m0 193v4m1-222v2m0 2v6m0 13v1m0 2v1m0 191v4m1-221v12m0 2v8m0 5v3m0 4v1m0 182v8m1-223v2m0 5v5m0 6v2m0 2v3m0 8v3m1-31v2m0 5v3m0 8v2m0 3v3m0 5v2m1-33v2m0 3v2m0 1v2m0 8v5m0 5v3m0 179v4m1-216v2m0 2v3m0 2v8m0 3v5m0 5v5m1-30v2m0 5v3m0 18v2m1-33v2m0 5v6m0 18v2m1-34v1m0 2v11m0 5v1m0 1v2m0 188v4m1-214v5m0 2v3m0 3v5m0 8v5m0 179v4m1-214v5m0 2v2m0 9v8m0 184v4m1-209v2m0 3v3m0 7v8m0 182v4m1-251v2m0 53v8m0 2v3m0 179v4m1-196v2m0 11v1m0 178v4m1-196v2m0 3v3m0 3v3m0 178v4m3-4v8m1-268v3m0 257v4m1-4v4m1-4v4m1 0v4m2-8v4m1-4v4m1-4v4m1-4v8m1-8v8m1-8v4m1-256v3m0 5v2m0 242v4m1-4v4m1-235v1m2 230v4m1-4v8m1-8v4m1-240v2m0 234v4m1-245v2m1 239v4m1-4v4m1-4v4m1 0v4m2-8v12m1-12v4m1-4v4m2-4v4m1-259v3m0 252v8m1-263v2m0 253v4m1-4v12m1-12v4m1-4v8m1-8v4m1-4v4m3-4v4m5-4v4m6-4v12m1-12v8m1-252v2m1 19v1m0 4v1m1-6v1m0 4v1m1-9v2m0 8v3m1-6v1m0 5v6m1-12v1m0 5v7m1-25v2m0 16v3m1-21v2m0 4v2m0 4v1m0 1v4m0 1v2m0 5v1m1-26v1m0 5v3m0 16v2m0 207v4m0 20v3m1-271v1m0 3v2m0 11v2m0 2v1m0 2v3m0 5v5m1-18v1m0 3v1m0 3v1m0 4v3m0 4v4m1-23v1m0 1v2m0 3v3m0 2v3m0 3v3m1-17v6m0 2v8m0 1v3m1-22v2m0 2v11m0 4v2m0 201v4m1-234v2m0 3v4m0 1v3m0 5v3m0 2v3m0 200v4m1-235v1m0 4v5m0 2v1m0 2v3m0 5v3m0 2v3m0 5v1m1-35v2m0 1v1m0 1v1m0 5v5m0 5v8m1-32v1m0 1v1m0 1v2m0 3v2m0 11v5m0 2v6m1-23v2m0 8v5m0 2v6m1-21v2m0 3v3m0 7v3m1-21v3m0 5v5m0 3v5m0 5v3m1-28v2m0 5v5m0 3v5m0 5v3m0 2v1m1-37v2m0 1v2m0 1v15m0 6v9m1-28v8m0 5v2m0 3v5m0 5v3m1-34v3m0 2v6m0 5v15m0 3v2m0 185v4m1-230v1m0 5v8m0 12v5m0 8v3m0 1v1m1-39v11m0 1v4m0 2v3m0 8v2m1-29v12m0 22v3m1-47v3m0 2v1m0 1v1m0 1v2m0 10v2m0 19v3m0 1v1m1-43v1m0 3v3m0 29v2m1-34v3m1-14v3m0 3v2m1-6v4m0 5v3m0 8v2m1-23v2m0 3v3m0 7v4m1-19v1m0 5v2m0 7v2m0 28v2m1-46v1m0 19v2m0 17v1m1-26v3m0 28v3m1-47v2m0 40v3m1-42v10m0 6v2m0 18v3m1-36v8m0 10v5m0 9v4m1-36v8m0 25v3m1-45v3m0 1v2m0 10v3m0 3v2m0 18v1m1-40v6m0 18v2m0 3v3m0 1v1m0 5v2m1-40v2m0 3v2m0 3v2m0 3v3m0 2v3m0 2v2m1-27v2m0 3v2m0 3v1m0 3v4m0 2v10m1-33v2m0 2v4m0 7v16m0 3v2m1-35v1m0 3v3m0 2v13m0 5v3m0 3v2m0 3v2m1-35v1m0 1v3m0 7v5m0 5v8m1-34v3m0 3v2m0 5v3m0 3v5m0 2v6m0 2v3m1-34v3m0 2v3m0 2v3m0 3v2m0 3v2m0 3v2m1-25v5m0 8v2m0 3v2m1-22v1m0 3v9m0 4v3m0 2v3m1-25v2m0 5v8m0 6v4m1-33v1m0 9v2m0 3v5m0 2v1m0 2v1m0 4v3m1-32v1m0 7v1m0 2v3m0 2v3m0 3v2m0 8v2m1-33v2m0 6v5m0 2v3m0 8v8m1-33v3m0 4v5m0 2v3m0 3v5m0 2v3m0 3v1m1-29v2m0 5v2m0 3v8m0 2v6m1-34v2m0 3v10m0 3v3m1-23v1m0 1v4m0 6v8m0 8v2m1-29v1m0 2v3m0 4v12m1-11v3m0 5v3m0 5v2m1-23v3m0 10v5m1-17v2m0 10v5m0 1v4m1-20v2m0 12v1m0 3v5m1-27v4m0 2v5m0 6v2m0 3v2m1-22v2m0 3v4m0 6v2m0 5v3m1-23v7m0 8v3m0 2v2m1-22v5m0 1v9m0 3v8m1-25v4m0 2v8m0 3v8m0 201v4m1-218v2m0 212v4m1-208v3m0 197v4m10 0v4m8-224v3m3-2v2m1 217v8m2-230v2m2-2v2m1-2v2m1-7v2m3 225v4m9-8v4m2-8v4m1-4v4m2-224v1m1-5v2m2-3v6m1 26v2m1-2v2m1 0v3m1-11v3m1-3v3m1-8v5m3-13v3m4-23v2m1-13v5m5 8v3m3-33v1m9 263v4m1-8v4m1-4v4m0 4v4m6-198v6m1-7v1m0 3v3m1-19v3m0 8v2m0 3v2m1 1v2m1-15v1m1-17v3m0 13v1m5-7v3m2-13v3m2 33v3m2-34v3m0 205v4m4-217v3m1-3v3m0 10v3m1 23v5m1-6v1m2 3v4m4-4v2m7-57v3m0 59v2m1-64v3m0 59v3m3-14v1m0 5v3m2-43v1m0 29v2m1-38v2m0 3v5m5 13v2m9-15v2m5 16v3m0 5v1m6 9v3m4 166v4m7-8v4m1-177v3m1 3v2m1-2v2m2-5v3m0 171v4m1-8v4m1-166v2m3 164v8m7-188v1m8 179v4m9-4v8m18-8v4m6 0v4m13-4v4m3-8v4m45 0v4m2-8v4m13-4v12m1-16v12m1-307v3m0 296v4m1 0v8m3-316v3m4 301v4m1-297v1m3 6v1m1 289v4m4-281v2m3 6v1m1 268v4m1 0v4m1-4v4m1-8v4m1-8v4m1-157v1m26 152v4m3-222v2m3 56v2m0 158v4m1-235v2m0 73v3m1-94v3m0 10v5m0 52v3m0 18v3m1-102v3m0 21v4m0 1v3m0 10v3m0 36v3m0 2v3m0 5v9m1-58v5m0 25v1m0 2v3m0 3v1m0 12v2m0 5v2m1-58v4m0 16v3m0 28v5m1-80v2m0 3v3m0 2v5m0 16v3m0 10v3m1-24v5m0 29v1m0 4v2m0 14v2m1-83v5m0 12v4m0 3v7m0 6v2m1-37v1m0 15v3m0 3v2m0 3v2m0 3v5m0 2v1m0 10v3m1-47v5m0 3v5m0 5v2m0 1v5m0 13v3m0 23v3m1-63v3m0 2v3m0 10v13m0 3v3m1-62v2m0 1v1m0 8v3m0 2v2m0 1v5m0 5v3m0 10v13m0 3v3m0 20v3m1-78v3m0 6v1m0 1v2m0 3v7m0 13v8m0 3v5m0 3v2m1-62v13m0 2v3m0 3v13m0 2v5m0 3v3m0 6v1m0 3v1m0 2v1m0 1v3m1-65v13m0 1v3m0 4v13m0 2v3m0 3v2m0 13v2m0 1v5m1-73v3m0 15v3m0 1v4m0 8v5m0 23v6m0 1v1m0 1v2m1-73v3m0 13v2m0 3v1m0 1v3m0 16v4m0 1v3m0 15v3m0 2v3m0 179v4m1-261v2m0 8v3m0 8v7m0 16v3m0 13v2m0 7v3m0 1v10m0 178v4m1-257v2m0 11v7m0 29v3m0 2v6m0 7v8m0 174v4m1-251v3m0 5v16m0 2v3m0 2v3m0 3v2m0 5v6m0 2v5m0 6v5m0 1v1m0 3v4m1-81v2m0 2v10m0 8v3m0 3v6m0 1v11m0 10v4m0 1v3m0 10v3m0 3v2m1-83v3m0 2v13m0 3v5m0 4v1m0 1v15m0 2v4m0 4v2m0 3v3m0 10v3m0 3v2m1-80v2m0 3v2m0 5v1m0 7v6m0 2v3m0 8v5m0 12v1m0 2v2m0 1v8m0 10v2m1-78v1m0 8v2m0 5v6m0 2v1m0 2v2m0 3v10m0 3v3m0 7v3m0 10v3m0 3v5m1-80v2m0 1v1m0 6v2m0 5v5m0 2v1m0 3v2m0 4v7m0 2v3m0 3v6m0 2v2m0 10v6m0 5v2m0 20v1m1-96v3m0 5v8m0 7v3m0 8v2m0 3v3m0 2v3m0 10v16m0 2v1m1-81v2m0 3v5m0 10v1m0 2v1m0 2v2m0 12v4m0 10v6m0 7v3m0 3v7m1-72v2m0 5v6m0 5v2m0 12v4m0 10v6m0 7v6m0 7v5m1-85v2m0 4v2m0 3v10m0 7v3m0 5v3m0 2v3m0 3v2m0 5v3m0 3v2m0 4v1m0 6v2m0 1v4m0 8v1m1-74v5m0 1v2m0 11v2m0 3v10m0 3v13m0 13v2m0 8v3m1-87v1m0 3v7m0 3v3m0 12v8m0 3v7m0 1v8m0 2v3m0 2v6m0 5v2m0 8v5m0 3v1m1-90v3m0 8v3m0 13v2m0 5v6m0 2v5m0 3v2m0 6v2m0 3v5m0 3v2m0 13v2m0 1v5m1-91v3m0 2v3m0 3v7m0 6v15m0 5v3m0 13v3m0 7v3m0 21v1m1-105v2m0 6v2m0 13v8m0 10v3m0 3v2m0 3v2m0 2v6m0 8v3m0 2v3m0 2v11m0 2v4m0 4v3m1-103v1m0 6v2m0 13v8m0 5v5m0 6v2m0 3v10m0 3v3m0 2v3m0 2v3m0 2v19m0 7v4m1-110v2m0 3v5m0 5v3m0 8v13m0 2v3m0 3v2m0 3v2m0 11v5m0 16v2m0 8v3m0 1v1m0 3v2m1-109v3m0 2v3m0 3v2m0 9v7m0 2v3m0 3v2m0 3v8m0 2v5m0 16v1m0 7v2m0 1v5m0 2v8m0 5v5m1-108v2m0 2v3m0 3v2m0 1v8m0 9v6m0 2v3m0 8v2m0 8v3m0 2v11m0 2v10m0 1v7m0 8v5m1-106v5m0 3v2m0 3v2m0 3v23m0 2v1m0 3v2m0 3v2m0 3v8m0 4v1m0 5v5m0 3v5m0 3v2m0 6v1m0 12v2m1-117v5m0 3v5m0 8v3m0 2v3m0 5v5m0 3v5m0 4v1m0 11v10m0 8v2m0 13v3m0 5v3m1-107v3m0 1v1m0 3v3m0 10v5m0 5v3m0 5v7m0 4v2m0 8v1m0 2v10m0 8v2m0 16v1m0 4v3m1-107v3m0 1v1m0 3v3m0 5v8m0 5v10m0 11v2m0 4v1m0 6v2m0 5v3m0 5v8m0 3v9m0 2v2m1-94v5m0 5v3m0 3v2m0 3v5m0 1v4m0 5v3m0 3v2m0 8v2m0 1v5m0 2v3m0 5v3m0 5v7m0 1v4m0 1v3m0 2v3m0 5v3m1-112v2m0 13v21m0 5v3m0 2v1m0 2v3m0 5v1m0 2v5m0 2v3m0 8v8m0 4v3m0 16v3m1-114v4m0 3v3m0 5v5m0 5v13m0 2v1m0 2v3m0 3v2m0 5v3m0 3v5m0 2v2m0 1v3m0 2v3m0 2v3m0 3v7m0 3v1m0 2v2m1-105v1m0 8v3m0 5v2m0 2v9m0 2v1m0 2v3m0 2v3m0 2v6m0 7v6m0 2v2m0 1v13m0 2v3m0 5v3m0 2v3m0 2v1m1-91v2m0 8v3m0 2v3m0 8v15m0 5v11m0 5v3m0 2v1m0 10v5m0 2v6m0 2v1m0 7v3m1-104v2m0 3v2m0 1v2m0 3v2m0 11v9m0 4v1m0 10v7m0 5v3m0 13v5m0 2v6m0 2v3m0 5v1m1-87v5m0 8v2m0 6v5m0 3v13m0 2v3m0 3v2m0 11v5m0 2v6m0 2v5m0 6v2m1-116v2m0 8v2m0 3v6m0 9v3m0 9v1m0 11v2m0 11v5m0 3v7m0 3v3m0 2v3m0 5v10m0 3v3m1-104v2m0 2v2m0 1v4m0 4v8m0 8v5m0 3v2m0 3v2m0 5v3m0 11v2m0 1v2m0 2v13m0 3v3m1-99v2m0 11v2m0 3v5m0 3v4m0 4v5m0 2v8m0 11v7m0 6v5m0 8v7m0 3v13m1-104v3m0 5v2m0 3v8m0 3v4m0 11v10m0 3v3m0 7v3m0 3v5m0 2v11m0 10v5m0 6v2m1-125v3m0 8v2m0 3v3m0 3v4m0 3v14m0 8v1m0 3v3m0 5v8m0 2v3m0 2v3m0 3v2m0 5v3m0 3v5m0 5v3m0 5v2m1-94v1m0 8v2m0 1v9m0 8v6m0 2v14m0 6v17m0 11v2m1-99v2m0 12v1m0 6v12m0 1v2m0 5v3m0 3v2m0 3v3m0 2v6m0 4v3m0 3v2m0 3v5m0 10v6m0 2v5m1-109v4m0 1v3m0 3v7m0 8v7m0 4v2m0 6v2m0 3v2m0 3v2m0 3v5m0 3v10m0 3v5m0 11v5m0 2v1m1-92v11m0 2v6m0 5v2m0 8v3m0 5v2m0 3v3m0 2v3m0 2v3m0 3v1m0 4v4m0 1v8m0 5v3m0 2v10m1-101v3m0 5v5m0 3v5m0 3v2m0 3v5m0 5v5m0 3v3m0 5v5m0 3v1m0 22v2m0 1v5m0 13v1m1-109v4m0 5v5m0 3v6m0 2v3m0 4v3m0 5v4m0 4v3m0 10v3m0 5v2m0 16v3m0 2v3m0 13v2m1-113v7m0 2v8m0 5v3m0 3v2m0 3v2m0 6v2m0 5v6m0 10v3m0 18v3m0 2v5m0 5v6m1-104v13m0 2v11m0 5v2m0 3v5m0 13v8m0 8v8m0 2v8m0 3v3m0 2v4m0 1v2m0 1v5m1-120v3m0 6v10m0 5v5m0 2v2m0 1v5m0 5v3m0 2v14m0 5v1m0 1v8m0 5v3m0 3v5m0 2v3m0 2v3m0 1v6m0 30v2m0 3v2m0 103v4m1-255v3m0 5v13m0 3v4m0 6v5m0 5v2m0 17v5m0 5v5m0 5v3m0 3v2m0 3v10m0 1v6m0 35v2m0 3v2m0 94v4m1-246v6m0 10v5m0 11v2m0 8v3m0 2v3m0 2v3m0 8v10m0 5v8m0 5v3m0 8v1m0 4v3m0 36v1m1-128v2m0 24v5m0 8v2m0 5v6m0 7v5m0 1v5m0 8v5m0 2v1m0 5v5m0 2v8m0 11v2m0 3v5m1-140v2m0 3v2m0 6v2m0 24v5m0 8v2m0 6v2m0 5v3m0 2v3m0 3v5m0 2v6m0 13v2m0 5v3m0 16v2m0 3v5m1-135v2m0 3v3m0 26v2m0 2v1m0 2v3m0 10v6m0 2v3m0 1v9m0 11v2m0 11v2m0 18v3m0 5v3m1-128v3m0 10v3m0 5v3m0 15v6m0 5v2m0 8v9m0 2v2m0 3v5m0 3v2m0 18v3m0 122v4m1-240v2m0 5v3m0 10v3m0 23v6m0 5v2m0 3v3m0 2v13m0 6v2m0 3v1m0 19v3m0 122v8m1-239v2m0 11v2m0 29v3m0 10v5m0 3v2m0 2v1m0 5v3m0 2v3m0 8v2m0 3v5m0 5v1m0 2v3m0 23v3m0 93v8m1-239v3m0 39v5m0 15v3m0 26v2m0 4v7m0 10v1m0 116v4m1-235v23m0 5v3m0 13v3m0 15v3m0 21v2m0 3v2m0 3v5m0 3v2m0 34v1m0 90v4m1-235v8m0 50v4m0 3v2m0 6v2m0 8v3m0 15v1m0 10v2m0 21v3m1-125v1m0 61v5m0 3v3m0 14v1m0 3v10m1-117v5m0 66v2m0 3v7m0 6v2m0 3v1m0 4v3m0 10v5m0 3v8m0 13v2m0 91v8m1-242v3m0 44v3m0 30v1m0 8v2m0 8v3m0 10v5m0 3v9m1-64v3m0 10v3m0 26v2m0 3v5m0 3v8m0 106v4m1-163v1m0 2v3m0 27v4m0 3v7m0 3v8m0 101v4m1-238v3m0 70v3m0 2v3m0 26v5m0 3v1m0 1v5m0 6v1m0 1v1m0 103v4m1-168v3m0 5v3m0 2v6m0 2v5m0 3v3m0 7v3m0 8v2m0 1v5m0 106v8m1-164v11m0 12v1m0 2v3m0 18v3m0 7v3m0 96v8m1-185v3m0 18v3m0 5v3m0 39v2m0 5v3m0 96v4m0 4v4m1-181v3m0 10v1m0 2v2m0 13v3m0 5v5m0 3v3m0 15v4m0 100v8m1-179v2m0 4v9m0 5v1m0 2v1m0 9v3m0 26v3m0 5v2m0 99v12m1-183v15m0 31v6m0 2v2m0 115v12m1-183v10m0 3v2m0 5v1m0 150v8m1-180v1m0 2v3m0 5v3m0 28v1m0 17v2m0 110v4"/>
<path stroke="#0033ff" d="M0 0m170 359v3m6 0v2m0 65v2m0 201v4m1-311v3m0 104v2m1-109v3m1-5v2m1-10v3m0 2v3m0 2v1m1-9v1m0 2v3m0 13v5m1-23v5m3-5v5m2 2v3m1 13v8m0 2v3m0 3v2m1-41v2m0 7v1m0 1v1m0 3v2m0 9v10m1-36v2m0 8v5m0 16v4m1-25v6m0 15v5m1-34v5m0 6v2m0 12v1m0 6v4m1-31v3m0 3v4m0 11v5m0 3v3m1-26v4m0 11v5m0 3v3m1-26v3m0 2v2m0 13v1m0 93v3m1-128v4m0 12v2m0 11v2m1-31v3m0 10v5m1-18v5m0 8v3m0 102v3m1-123v5m0 2v3m0 5v3m0 2v3m0 93v1m1-117v5m0 2v3m0 5v4m0 1v3m0 93v1m1-117v5m0 2v11m0 2v2m1-20v5m0 1v12m0 3v1m1-22v3m0 2v8m0 2v3m0 112v1m1-128v10m0 3v3m0 2v1m0 100v3m0 5v1m1-125v2m0 1v2m0 2v9m0 90v3m0 2v5m1-114v5m0 8v1m0 93v2m0 5v3m1-113v1m0 8v3m0 83v1m0 5v4m0 13v3m1-120v3m0 2v3m0 2v1m0 13v2m1-21v2m0 292v4m1-279v1m0 84v2m1-9v5m1-97v1m0 96v1m0 11v1m1-111v2m1 0v2m0 16v2m0 86v3m0 1v1m1-115v1m2 86v2m0 6v1m1-93v3m0 5v1m1-3v1m1-1v3m0 73v2m0 5v4m1-9v1m0 24v4m1-109v2m0 99v7m1-107v1m0 86v5m0 5v5m0 3v2m1-26v6m1-7v4m1-14v4m0 2v5m0 13v3m1-24v8m0 3v5m0 3v2m1-25v15m0 7v1m1-21v8m0 5v3m0 10v8m1-31v5m0 5v5m0 4v1m0 6v4m1-33v3m0 10v5m0 5v3m1-49v2m0 21v3m0 2v3m0 13v5m1-49v2m0 21v8m0 2v3m0 8v5m1-23v1m0 12v2m0 3v2m0 3v3m1-27v5m0 25v5m1-34v3m1-6v2m1-2v3m1-4v4m0 13v5m0 5v3m0 2v5m1-36v6m0 12v3m0 8v2m0 3v1m0 178v4m1-219v7m1-7v4m0 3v3m1-9v1m0 5v3m0 26v1m1-35v2m0 32v2m1-37v2m0 28v2m0 3v4m1-38v2m0 19v2m0 1v2m1-21v3m0 10v3m1-13v1m0 1v1m0 9v1m0 2v3m0 3v2m0 3v2m1-7v2m0 3v3m1-30v1m0 2v5m0 1v2m0 16v2m1-67v5m0 5v1m0 23v5m0 12v1m0 13v1m1-23v1m0 1v2m0 2v1m0 2v10m1-26v5m0 20v5m1-35v5m0 9v2m0 2v6m1-24v2m0 3v8m0 3v7m1-21v5m0 19v4m1-27v4m0 19v5m0 1v1m0 1v2m1-37v4m0 3v5m0 17v1m1-27v6m0 2v2m0 13v1m0 3v2m0 1v2m0 1v2m1-37v5m0 3v3m1-14v2m0 11v3m0 3v3m0 12v3m1-36v2m0 10v3m0 3v2m1-34v3m0 12v6m0 13v5m1-20v5m0 8v5m0 1v2m0 2v1m1-35v3m0 5v2m0 15v3m0 1v2m1-18v3m0 1v12m1-31v2m0 11v9m0 4v2m0 4v1m0 6v6m1-52v1m0 6v2m0 11v5m0 2v6m0 2v1m0 6v10m1-29v2m0 11v2m0 10v4m1-42v2m0 5v3m0 2v3m0 2v4m0 15v5m1-34v3m0 2v3m0 1v1m0 3v5m0 3v2m0 11v2m1-31v3m0 1v1m0 11v2m0 11v2m0 2v1m1-26v8m0 5v3m0 8v1m1-43v2m0 1v2m0 3v2m0 6v3m0 22v2m1-40v2m0 5v3m0 2v3m0 1v2m0 15v3m0 2v1m1-36v2m0 2v2m0 1v2m0 1v2m0 2v1m0 15v3m0 3v1m1-40v2m0 5v3m0 8v5m0 13v3m1-38v1m0 4v4m0 26v3m1-37v2m0 8v3m0 5v3m0 8v2m0 6v1m1-36v3m0 29v2m1-32v1m0 3v2m0 19v2m0 3v2m1-37v1m0 1v12m0 23v1m1-38v2m0 4v2m0 27v3m1-37v2m0 31v2m1-38v2m0 4v5m0 2v3m0 18v3m0 4v1m1-40v2m0 15v2m0 3v2m0 3v8m0 2v1m1-24v3m0 2v5m0 3v3m0 2v3m0 2v1m1-33v1m0 3v2m0 6v2m0 3v2m0 5v1m1-27v6m0 2v6m0 2v3m0 5v3m0 7v3m1-37v1m0 2v2m0 13v1m0 3v2m0 4v4m0 6v1m1-38v1m0 6v3m0 8v2m0 3v6m0 8v3m1-35v13m0 8v2m0 5v3m0 3v2m1-38v2m0 2v4m0 4v1m0 14v1m0 1v4m0 174v4m1-205v1m0 5v3m0 8v2m0 2v1m0 3v7m0 169v4m1-207v2m0 2v6m0 2v1m0 1v2m0 2v1m0 4v1m0 2v3m1-29v3m0 25v4m0 171v4m1-177v3m1-4v1m0 4v1m2-7v2m0 204v3m1-203v1m0 199v3m1-210v2m0 205v3m2-211v6m1-47v2m0 32v12m1-50v1m0 37v2m0 7v4m1-13v2m1 1v2m2 3v4m1-21v1m0 3v2m0 3v2m0 3v2m0 3v1m1-22v2m0 6v3m0 2v3m1-16v5m0 3v3m0 2v3m1-25v1m0 15v1m0 1v2m0 5v2m1-19v1m0 5v3m0 3v5m1-31v5m0 2v11m0 2v6m0 2v5m0 2v3m1-44v3m0 3v2m0 5v6m0 2v7m0 1v3m0 2v1m1-35v3m0 3v2m0 1v2m0 2v8m0 13v3m1-36v10m0 1v3m0 1v5m0 13v2m0 1v1m1-37v3m1-1v8m0 13v5m0 1v2m0 1v8m1-41v1m0 5v2m0 29v5m1-40v4m0 7v1m0 21v4m0 3v1m1-48v1m0 4v2m1-2v1m1-3v2m0 22v2m0 7v1m0 2v12m1-52v1m0 1v2m0 26v2m0 1v2m0 3v2m1-43v5m0 17v3m1-25v5m1-3v2m0 3v2m0 11v2m1-20v2m1 0v2m0 1v3m0 10v2m0 3v3m0 10v3m1-37v2m1-27v2m0 2v3m0 3v1m0 15v2m0 8v2m0 3v2m0 2v1m0 200v4m1-225v1m0 15v2m0 4v2m1-50v3m0 36v9m1-24v2m0 21v3m0 10v2m0 1v1m1-41v1m0 1v2m0 12v3m0 5v3m0 2v1m1-29v2m0 16v5m1-22v1m0 31v3m0 5v1m1-37v1m1-1v2m0 32v2m1-78v1m0 59v3m0 2v3m0 2v2m0 4v2m1-79v1m0 14v4m0 20v2m1-25v1m0 22v3m1-40v2m0 5v1m1-2v1m0 10v6m0 12v3m1-43v9m0 3v2m0 27v1m1-40v7m0 3v4m0 5v4m0 3v2m0 11v3m0 2v2m0 16v3m1-50v1m0 46v3m0 8v2m1-74v14m0 11v2m0 12v1m1-41v7m0 1v7m0 11v3m0 7v3m0 28v1m1-70v9m0 3v5m0 1v2m0 2v1m0 20v2m0 1v2m1-48v2m0 10v3m0 5v5m0 15v2m1-30v5m0 18v1m1-33v1m0 37v4m0 3v3m0 10v3m0 3v1m1-35v2m0 21v3m0 5v4m0 196v4m1-256v8m0 6v2m0 2v3m0 22v4m1-57v2m0 13v5m0 6v4m0 11v2m1-42v1m0 5v8m0 10v1m0 2v3m0 1v1m0 19v2m1-47v2m0 19v4m0 17v3m0 2v3m0 205v4m1-236v3m0 9v2m0 4v4m0 2v1m1-70v2m0 11v5m0 2v1m0 1v3m0 9v7m0 2v3m0 9v1m0 13v8m0 3v1m0 1v1m1-68v2m0 2v3m0 37v7m0 1v2m0 5v6m1-65v2m0 3v5m0 7v1m0 5v3m0 18v2m0 6v2m0 10v1m1-24v1m0 20v2m1-62v3m0 2v3m0 5v3m0 13v1m0 12v2m0 8v5m1-57v3m0 2v3m0 28v11m0 5v5m0 2v4m0 2v1m0 2v4m1-59v3m0 8v2m0 11v1m0 1v1m0 2v2m0 6v5m0 2v1m0 2v2m0 3v3m0 3v3m1-71v2m0 8v3m0 6v2m0 2v3m0 10v3m1-45v1m0 5v5m0 5v3m0 10v1m0 9v1m0 2v1m1-29v3m0 22v3m0 26v2m0 1v2m1-71v1m0 39v2m1-46v1m0 2v2m0 36v1m0 1v2m0 19v1m0 5v3m1-74v1m0 8v2m0 3v3m0 28v3m1-45v1m0 5v2m0 3v1m1-23v1m0 52v1m0 7v3m1-55v3m0 40v1m1-43v1m0 2v1m0 11v2m0 3v2m0 20v6m0 6v2m1-66v1m0 7v1m0 3v2m0 41v1m0 2v2m0 6v4m0 1v8m0 5v2m1-74v1m0 4v1m0 20v2m0 29v2m1-57v3m0 54v6m0 2v2m1-81v1m0 34v1m0 30v5m1-5v3m0 18v3m0 5v2m1-33v2m0 21v5m1-66v1m0 5v2m1-36v1m0 67v3m1-42v3m0 32v1m0 1v2m1-41v4m0 1v2m0 30v2m0 10v3m0 220v2m1-274v2m0 36v1m0 9v9m0 8v4m1-64v2m0 6v2m0 25v4m0 8v7m1-72v2m0 3v10m0 2v1m0 47v5m1-63v3m0 8v2m0 42v3m0 2v3m0 2v8m1-73v3m0 8v2m0 43v2m0 2v3m0 2v3m0 3v2m1-70v8m0 6v5m0 30v3m0 3v2m0 3v7m1-70v3m0 5v3m0 5v3m0 2v3m0 39v3m1-77v1m0 10v2m0 8v1m0 5v3m0 40v1m1-57v1m0 2v5m0 10v1m1-32v1m0 12v5m0 3v11m1-31v2m0 10v5m0 3v10m1-21v6m1-19v2m0 4v5m0 2v5m0 1v2m0 3v2m1-20v5m0 2v2m2-12v1m0 4v8m0 20v1m1-33v2m0 3v10m0 2v3m1-18v1m0 3v1m0 2v6m0 2v3m0 13v1m1-22v3m0 2v3m0 2v1m1-19v8m0 3v5m0 2v1m1-26v1m0 9v15m1-20v2m0 5v3m0 16v5m1-32v1m0 7v3m0 7v1m0 7v1m1-1v1m1-21v2m0 3v3m0 10v3m1 0v2m2-10v3m0 10v1m2-9v3m1-19v3m0 3v2m0 5v6m1-39v2m0 24v2m1-13v1m0 1v1m0 2v7m0 1v1m0 16v1m1-31v3m0 2v7m0 1v1m0 9v1m0 5v2m1-29v9m1-12v1m0 3v5m1-10v2m0 3v5m1-9v1m0 4v1m0 3v3m1-13v7m0 6v2m1-14v4m0 1v1m0 2v1m0 3v2m2-8v1m0 1v6m1-2v2m2 3v2m1-11v1m1 10v2m1-8v1m1 3v2m1-2v3m2 29v2m2-29v1m0 4v3m1 19v1m1-33v2m0 5v1m2-15v1m1 8v2m0 1v3m0 2v1m1-13v2m0 2v6m0 2v1m1-21v2m0 10v3m0 10v1m0 6v2m1-25v1m0 2v1m0 2v2m0 3v3m0 5v2m0 5v1m1-27v1m0 10v3m0 6v2m0 3v1m0 3v3m1-16v1m0 1v1m0 13v1m1-19v5m0 2v1m0 5v5m1-31v2m0 11v2m0 11v5m1-22v1m0 2v1m0 5v2m0 1v3m0 1v1m0 2v3m1-23v2m0 11v1m0 1v1m0 2v1m0 4v1m1-24v2m0 14v10m1-32v2m0 8v1m0 7v1m0 2v2m0 1v2m0 3v5m1-32v1m0 7v1m0 2v3m0 4v1m1-21v3m0 8v2m1-1v4m0 5v2m0 23v1m1-34v2m0 24v3m0 3v1m1-40v2m0 2v1m0 14v1m0 3v5m0 3v2m0 3v4m1-40v2m0 1v2m0 10v2m0 1v2m0 3v5m0 3v2m0 3v5m1-39v3m0 1v1m0 6v2m0 8v5m0 8v8m1-39v1m0 1v1m0 2v1m0 7v2m0 11v2m0 11v1m1-41v4m0 2v2m0 6v2m0 11v2m0 6v4m1-35v4m0 8v3m0 5v5m0 3v8m1-50v3m0 8v2m0 5v3m0 3v5m0 5v3m0 5v3m1-34v2m0 2v1m0 8v5m0 5v3m0 5v3m0 5v2m1-54v2m0 15v1m0 5v1m0 17v4m1-32v8m0 2v3m0 15v3m0 5v5m0 3v1m1-45v5m0 1v3m1-7v3m0 18v3m1-25v1m1-1v1m0 1v2m0 44v1m1-50v2m0 6v1m0 40v2m1-51v2m1-3v3m1-7v1m3-2v1m1 0v1m0 9v3m3-9v1m0 1v1m1-7v2m0 5v3m1-1v1m1-8v2m1 0v1m0 10v3m1-16v2m0 1v3m1-5v2m0 2v1m0 11v1m1-7v4m0 1v2m1-15v1m0 1v2m0 22v2m0 3v3m1-32v3m0 2v1m0 3v7m0 8v2m1-18v5m1-11v1m0 8v2m0 3v3m1-14v1m0 5v2m0 3v3m1-2v2m1-13v2m0 11v2m0 3v1m1-6v2m0 3v2m0 234v3m1-267v1m0 19v3m0 2v8m1-25v2m0 10v8m0 8v1m1-29v2m0 10v3m2-22v1m0 23v3m1-8v3m2-22v1m3 3v1m0 19v3m1-28v1m0 19v3m0 2v3m1-27v1m0 5v1m0 4v1m0 7v3m0 2v5m0 3v1m1-25v1m0 10v3m0 5v2m0 2v4m1-27v1m0 5v1m0 9v3m1-20v3m0 4v2m0 8v1m1-17v8m0 3v3m0 2v3m0 2v3m1-22v9m0 5v3m0 2v1m1-25v1m0 5v8m2 5v5m1-10v3m1-3v3m1 0v1m3-12v3m0 20v1m1-21v8m0 7v3m1-18v2m0 15v1m1-29v6m0 7v3m0 3v2m0 5v3m1-32v6m0 3v2m0 21v3m1-1v3m1-36v2m0 3v1m1 17v3m0 3v5m1-34v2m0 8v3m0 2v3m0 16v1m1-34v1m0 8v3m0 8v5m0 2v3m1-23v2m0 18v6m1-19v3m1-3v1m0 2v3m1-18v2m0 29v1m1-27v2m0 1v4m0 6v5m1-18v5m0 8v4m2-16v4m0 5v2m0 3v3m1-16v3m0 5v3m0 2v3m1-20v2m0 2v2m0 3v6m0 2v3m1-16v5m0 3v5m0 3v2m1-61v2m0 35v1m0 5v3m0 5v3m0 7v5m1 6v2m1-75v1m1 2v2m1 52v3m0 5v1m0 2v2m1-7v2m5-21v3m2-5v2m0 3v2m0 3v3m1-8v2m0 3v2m1-34v1m0 22v1m0 8v3m0 2v2m0 3v1m1-45v3m0 18v2m0 1v7m0 3v2m0 3v3m1-31v2m0 3v3m0 2v8m1-12v7m0 2v3m0 8v2m0 3v2m1-44v5m0 3v3m0 5v2m0 24v2m1-46v2m0 3v2m0 13v8m0 3v2m0 3v3m0 5v5m0 5v2m1-51v2m0 39v3m0 5v3m1-39v5m0 16v5m0 5v3m1-11v3m0 5v5m1-13v3m0 1v1m0 3v6m1-20v1m0 3v2m0 5v8m1-32v1m0 8v2m0 8v3m0 5v3m1-21v2m1-10v3m0 13v5m2-52v2m0 6v2m0 13v3m1-24v3m0 3v10m0 5v3m1-18v5m0 39v5m1-52v5m0 5v3m1-28v2m0 14v11m1 7v4m0 6v2m1-26v3m0 2v3m0 3v5m1-1v1m1-26v2m0 19v2m0 8v3m1-3v3m1-3v3m0 20v2m1-12v3m2-50v2m1 35v2m0 34v3m5-63v3m0 5v1m1-7v1m1 5v3m0 33v3m1-61v1m2 16v2m0 34v8m0 16v1m1-25v3m0 13v2m1-19v4m0 13v2m0 6v2m1-28v2m0 16v2m0 3v6m1-32v3m0 7v3m0 3v2m0 11v2m1-23v5m0 3v2m0 3v1m0 1v3m0 3v3m1-29v7m0 3v5m0 5v3m0 2v1m1-21v2m0 13v3m0 1v1m1-36v3m0 5v3m0 2v5m0 7v1m0 5v3m1-34v3m0 10v5m0 7v1m0 5v6m1-37v5m0 11v5m0 10v3m1-34v3m0 13v2m0 3v2m0 6v2m1-31v3m0 13v2m1-21v1m0 2v3m0 13v2m0 6v1m1-29v2m0 5v2m0 3v3m0 2v5m0 3v3m1-21v2m0 3v3m0 2v11m0 17v1m1-37v3m0 3v4m1-4v5m0 13v2m0 13v2m1-35v5m0 13v2m1-15v2m0 16v3m0 7v3m1-42v3m0 8v1m0 7v2m0 21v1m1-32v2m0 29v3m1-58v6m0 18v2m0 8v3m0 18v2m1-66v1m0 6v5m0 3v2m0 7v1m0 36v3m1-47v5m0 8v3m0 5v3m1-37v3m0 10v5m0 8v3m0 27v1m0 3v3m1-37v3m0 19v2m0 2v3m0 2v3m0 5v1m1-55v5m0 5v3m0 5v2m0 21v7m0 1v7m1-56v5m0 5v3m0 5v2m0 21v8m0 1v4m1-44v5m0 5v8m0 10v1m0 7v6m1-36v2m0 5v3m0 20v6m1-37v3m0 2v1m0 2v3m0 22v4m0 2v2m1-7v5m1-47v3m0 13v3m0 10v3m0 4v3m1-28v2m0 11v2m0 13v11m1-39v2m0 11v2m0 14v2m0 5v3m1-21v3m0 2v3m0 2v13m1-40v4m0 3v2m0 16v5m0 8v2m1-39v3m0 3v2m0 16v5m0 3v2m0 3v2m1-15v2m0 8v3m1-11v8m0 7v1m1-16v8m0 3v2m1-66v1m0 56v2m0 5v2m1-57v3m0 39v5m0 3v5m1-60v3m0 2v5m0 3v2m0 32v4m0 2v4m1-47v3m0 3v6m0 4v3m0 20v3m0 5v3m1-63v3m0 10v3m0 3v1m0 1v3m0 2v6m0 5v2m0 3v3m0 15v3m1-63v3m0 5v6m0 10v8m0 5v2m0 3v3m0 5v2m1-44v3m0 15v3m0 23v3m0 3v5m1-39v10m0 26v3m1-56v1m0 11v2m0 8v5m1-28v2m1 13v3m0 5v3m1 2v5m0 17v2m1-24v5m1-39v3m1-1v9m0 5v5m0 5v6m0 28v3m1-60v7m0 7v2m0 7v2m0 32v3m1-42v8m0 23v3m0 3v2m1-39v3m0 2v3m0 3v2m0 20v1m1-29v1m0 5v2m1-16v6m0 2v3m0 23v3m0 8v2m1-48v2m0 10v3m0 15v3m0 2v3m1-36v2m0 3v2m0 19v2m0 2v1m0 8v2m0 3v1m1-45v2m0 3v2m0 19v5m0 8v2m1-15v2m0 3v5m0 3v5m1-22v1m0 9v4m0 5v5m1-23v3m0 5v5m0 5v7m1-51v5m0 5v1m0 5v2m0 2v11m0 16v1m1-27v7m0 1v5m0 2v1m0 10v3m1-29v5m0 3v4m1-20v20m1-12v5m0 5v1m0 7v5m0 3v3m1-29v5m0 14v2m0 1v8m1-28v3m1-31v1m0 17v3m0 13v2m1-35v1m0 32v2m0 16v5m1-70v1m0 61v3m1-39v2m0 3v3m0 2v3m0 22v1m1-2v5m1-5v5m1-5v2m0 5v1m1-58v1m0 51v3m2-26v2m0 12v1m0 6v2m0 3v2m1-23v3m0 4v1m0 2v6m0 2v1m1-19v3m0 7v3m1-47v1m0 43v6m0 2v4m1-22v3m0 2v5m0 2v1m0 3v9m1-49v1m0 29v4m0 3v6m1-9v3m1-22v1m0 3v5m1-8v5m1-5v5m1 0v2m1-8v1m1-1v1m0 14v2m0 5v8m1-44v2m1 13v4m0 1v3m0 31v3m1-42v2m0 3v3m0 8v2m0 21v3m1-47v5m0 8v7m0 1v2m0 3v2m0 1v1m1-30v3m0 2v5m0 6v2m0 5v3m1-26v3m0 2v5m0 6v2m0 5v3m1 10v3m1-36v1m2-9v2m0 32v2m1-37v1m0 18v3m0 2v3m0 13v2m1-39v1m2 10v2m1 3v1m1-1v2m60-85v1m0 2v1m1-8v2m0 3v2m1-5v1m1 5v2m1-4v1m1 0v1m1 0v4m0 2v1m3-3v1m1-1v2m2-2v2m11-4v2m0 5v2m1-1v1m12-23v3m0 2v2m3-2v1m0 32v1m0 1v2m2-47v1m0 8v1m0 47v3m1 2v3m1-67v1m0 63v3m0 2v1m0 2v2m1-73v1m0 10v1m0 54v2m0 28v1m0 3v2m1-101v2m0 7v1m0 60v2m1-72v2m0 62v1m0 5v3m1-91v2m0 13v1m0 3v1m0 63v2m1-85v2m0 21v1m0 9v4m1-37v2m0 31v1m1-32v3m0 10v3m1-16v8m0 5v1m1-14v1m0 90v3m1-94v2m0 11v2m0 3v1m1 2v3m0 80v3m1-102v2m0 92v3m1-34v2m0 29v3m1-16v3m0 5v2m2-85v2m0 1v1m0 53v2m1-65v2m0 50v3m0 13v3m1-63v3m0 5v3m0 4v1m0 1v1m0 3v3m0 41v3m1-68v3m0 5v3m0 6v1m0 3v3m0 41v3m1-57v2m0 6v2m1-28v2m0 5v3m0 8v2m0 3v1m0 85v2m1-91v5m0 1v2m0 10v3m1-16v1m0 1v1m0 10v3m1-19v1m0 3v2m0 1v3m1 61v3m1-78v2m0 74v2m1-19v3m2 55v2m1-127v2m0 122v1m1-49v2m0 4v1m0 39v3m1-125v2m0 120v3m1-65v2m1-62v2m0 99v3m1-105v3m0 99v2m1-4v5m1-11v8m1-47v3m0 36v3m0 3v2m1-105v1m1 68v2m0 26v3m1-97v1m1-3v2m1 19v3m0 44v2m1 65v2m1-109v1m1-30v1m0 109v3m0 23v2m1-130v1m0 1v2m0 5v2m0 13v3m0 99v2m1-129v1m0 2v4m0 3v2m0 13v3m0 55v2m1-83v3m0 7v3m0 57v3m0 2v6m1-86v1m0 5v4m0 47v3m1-59v1m0 1v1m0 4v2m0 3v2m0 9v2m0 21v2m1-47v3m0 3v2m0 37v2m1-46v4m0 3v4m0 17v3m0 26v2m1-54v2m0 26v3m0 2v3m0 3v2m0 5v3m0 52v3m1-21v2m1-83v3m0 26v2m0 53v2m1-88v2m0 11v2m0 34v4m1-54v3m0 5v3m0 3v2m0 34v5m1-52v3m0 28v3m0 5v5m0 69v2m0 2v1m1-79v3m0 69v1m1-88v2m0 13v3m0 2v3m0 44v5m0 10v1m0 2v3m1-120v2m0 6v1m0 27v1m0 5v3m0 2v3m0 2v3m0 5v8m0 31v3m0 18v1m0 2v6m1-100v3m0 2v3m0 1v1m0 6v5m0 10v5m0 6v2m0 23v3m0 5v3m0 10v3m0 3v2m0 3v2m1-106v8m0 5v5m0 3v2m0 13v5m0 3v13m0 3v2m0 12v1m0 11v2m0 5v3m0 8v2m1-111v2m0 3v2m0 12v1m0 2v1m0 5v3m0 4v1m0 3v2m0 3v2m0 6v7m0 3v2m0 17v2m0 2v3m0 3v2m0 3v5m0 9v4m1-114v2m0 3v2m0 20v1m0 3v5m0 3v7m0 11v2m0 3v3m0 2v3m0 10v2m0 1v2m0 3v3m0 1v4m0 2v6m0 2v3m0 4v2m1-130v2m0 15v3m0 20v1m0 1v12m0 2v5m0 3v6m0 4v3m0 5v5m0 16v3m0 2v13m1-122v3m0 8v2m0 5v7m0 16v6m0 2v3m0 3v2m0 5v13m0 11v2m0 16v3m0 2v1m0 2v2m0 3v3m0 2v5m1-131v1m0 45v2m0 3v2m0 3v16m0 7v3m0 3v2m0 5v3m0 12v1m0 3v2m0 2v3m0 3v5m0 5v3m1-125v3m0 34v2m0 5v3m0 3v6m0 4v3m0 7v3m0 5v3m0 2v3m0 5v8m0 1v5m0 4v1m0 6v6m1-122v3m0 36v2m0 1v2m0 6v7m0 3v3m0 2v3m0 2v3m0 5v2m0 1v8m0 5v5m0 3v2m1-109v1m0 1v1m0 10v2m0 19v2m0 6v2m0 2v1m0 2v3m0 20v1m0 5v8m0 2v3m0 3v7m0 8v3m0 2v2m0 4v2m0 3v4m1-128v1m0 29v5m0 8v13m0 13v3m0 15v1m0 22v6m0 3v2m1-122v3m0 26v3m0 2v1m0 1v8m0 26v3m0 15v3m0 8v2m0 10v3m0 6v5m0 2v1m1-99v2m0 5v3m0 5v4m0 1v1m0 2v3m0 36v3m0 2v8m0 10v3m0 2v1m0 2v5m0 3v3m1-108v4m0 2v3m0 13v2m0 26v3m0 14v2m0 1v1m0 3v1m0 20v6m0 1v2m0 1v1m1-129v1m0 13v2m0 7v4m0 2v3m0 13v1m0 27v1m0 17v1m0 5v5m0 16v3m1-101v4m0 5v11m0 5v1m0 7v2m0 42v2m0 19v5m0 2v3m1-124v2m0 13v5m0 3v2m0 2v1m0 2v6m0 2v3m0 52v6m0 2v1m0 9v5m0 5v2m1-109v1m0 5v3m0 5v8m0 51v1m0 10v1m0 2v1m0 9v3m0 2v3m1-104v2m0 8v5m0 4v2m0 23v3m0 13v2m0 6v7m0 8v5m0 8v3m1-94v5m0 5v3m0 60v1m0 1v3m0 4v1m0 3v1m0 9v3m1-125v1m0 25v1m0 2v2m0 30v1m0 25v1m0 6v7m0 3v3m0 2v7m0 11v3m1-110v1m0 4v1m0 3v2m0 54v3m0 6v7m0 3v3m0 2v8m0 12v1m0 3v1m0 1v3m1-111v2m0 2v3m0 2v5m0 21v3m0 25v1m0 8v10m0 2v2m0 17v3m1-128v3m0 5v5m0 5v3m0 1v2m0 2v2m0 1v2m0 8v3m0 11v2m0 15v3m0 3v7m0 8v3m0 15v3m0 16v2m1-112v3m0 1v2m0 2v1m0 2v1m0 9v3m0 7v1m0 2v3m0 5v1m0 21v1m0 3v1m0 2v5m0 8v5m0 2v3m0 16v1m1-126v2m0 10v1m0 8v2m0 2v1m0 3v2m0 18v5m0 6v5m0 13v10m0 16v2m0 1v5m1-93v4m0 13v3m0 8v2m0 1v2m0 5v3m0 2v4m0 4v3m0 5v2m0 8v3m0 5v3m0 7v6m1-91v2m0 3v2m0 3v3m0 13v5m0 5v3m0 2v4m0 4v3m0 5v2m0 8v3m0 20v2m0 4v2m1-96v3m0 4v2m0 2v3m0 10v7m0 3v5m0 3v2m0 3v3m0 2v5m0 3v3m0 2v4m0 17v5m0 1v4m0 3v3m0 2v3m1-117v2m0 1v5m0 2v3m0 2v13m0 5v1m0 2v2m0 1v2m0 3v3m0 2v3m0 10v3m0 34v2m0 3v12m1-116v2m0 8v3m0 2v2m0 1v3m0 15v10m0 18v1m0 8v2m0 24v2m0 5v3m0 1v9m1-109v10m0 3v5m0 6v10m0 7v3m0 6v2m0 5v3m0 3v2m0 5v3m0 5v2m0 3v13m0 2v1m1-101v2m0 5v8m0 3v2m0 3v3m0 28v5m0 24v2m0 11v7m0 3v3m1-125v5m0 12v4m0 2v6m0 2v5m0 3v5m0 8v5m0 8v3m0 2v3m0 2v2m0 9v5m0 3v2m0 4v1m0 11v2m0 4v2m0 7v3m1-138v1m0 7v5m0 13v4m0 3v4m0 2v5m0 3v5m0 8v5m0 5v6m0 2v3m0 10v3m0 3v2m0 3v2m0 24v2m0 3v2m1-127v3m0 13v5m0 2v3m0 5v3m0 5v3m0 2v3m0 13v2m0 34v3m0 15v3m0 10v2m1-133v1m0 6v2m0 3v2m0 3v5m0 13v9m0 12v3m0 2v3m0 8v2m0 8v13m0 1v2m0 2v3m0 2v1m0 15v1m0 2v2m0 5v7m1-143v2m0 2v2m0 6v2m0 13v1m0 12v1m0 49v2m0 23v1m0 7v3m0 3v2m0 5v1m0 2v2m1-137v2m0 19v5m0 5v3m0 2v3m0 2v3m0 23v2m0 30v2m0 5v3m0 5v3m0 5v3m0 1v6m1-104v3m0 8v2m0 6v2m0 5v3m0 5v3m0 8v1m0 9v3m0 20v11m0 5v3m0 5v4m0 6v1m1-123v3m0 5v1m0 2v2m0 3v2m0 3v2m0 43v2m0 20v11m0 6v3m0 4v5m1-114v2m0 3v1m0 2v2m0 5v3m0 8v2m0 16v2m0 16v3m0 5v2m0 3v3m0 22v1m0 3v1m1-101v3m0 16v3m0 2v3m0 5v1m0 7v2m0 13v3m0 2v1m0 5v2m0 6v2m0 3v5m0 12v1m0 3v2m0 3v1m0 1v3m0 5v3m1-118v1m0 10v3m0 26v2m0 6v2m0 5v3m0 1v2m0 5v2m0 6v2m0 18v11m1-115v9m0 4v3m0 3v5m0 23v2m0 11v3m0 5v3m0 5v2m0 2v1m0 3v2m0 22v2m0 7v7m1-118v1m0 1v3m0 2v3m0 3v5m0 2v2m0 12v2m0 18v5m0 10v1m0 34v5m0 2v3m0 5v2m1-123v4m0 1v2m0 2v6m0 2v8m0 3v2m0 8v3m0 15v3m0 13v5m0 3v2m0 27v7m0 3v2m1-122v8m0 2v3m0 2v1m0 2v3m0 2v1m0 15v3m0 9v4m0 1v4m0 2v4m0 7v5m0 3v2m0 29v5m0 1v4m1-125v3m0 5v16m0 1v7m0 10v5m0 13v3m0 13v2m0 3v3m0 33v6m0 5v1m1-123v3m0 4v6m0 2v3m0 49v3m0 5v3m0 20v3m0 10v3m0 3v5m1-122v5m0 2v6m0 2v2m0 53v8m0 2v1m0 2v2m0 13v3m0 3v7m0 3v3m0 2v3m1-122v5m0 2v3m0 3v5m0 2v3m0 13v3m0 33v6m0 10v3m0 23v3m0 2v3m1-128v3m0 1v2m0 2v8m0 3v5m0 13v3m0 49v2m0 19v2m0 8v3m1-120v8m0 2v3m0 3v3m0 36v5m0 23v5m0 3v3m0 15v3m0 5v8m1-128v3m0 13v7m0 1v8m0 2v1m0 15v2m0 24v4m0 17v11m0 2v9m0 1v3m1-115v3m0 2v3m0 3v6m0 1v3m0 31v3m0 3v2m0 8v2m0 3v3m0 2v3m0 5v3m0 5v2m0 13v2m0 1v8m1-125v3m0 10v3m0 7v3m0 31v3m0 2v3m0 18v3m0 5v3m0 5v3m0 8v4m0 3v7m1-119v3m0 2v3m0 1v4m0 11v2m0 37v2m0 3v2m0 3v3m0 1v4m0 4v1m0 8v5m0 15v6m1-112v5m0 3v5m0 36v3m0 3v5m0 9v3m0 3v2m0 1v5m0 3v5m0 8v13m0 18v3m1-151v2m0 6v2m0 5v7m0 4v5m0 21v2m0 12v4m0 3v10m0 3v2m0 5v8m0 3v5m0 3v2m0 3v2m0 6v5m0 23v5m1-153v3m0 2v5m0 1v3m0 20v2m0 3v3m0 28v8m0 3v2m0 3v5m0 3v5m0 13v2m0 6v2m0 26v4m1-139v3m0 26v5m0 15v3m0 13v8m0 8v2m0 14v2m0 4v1m0 2v1m0 5v1m0 7v2m0 3v13m1-141v4m0 20v2m0 2v1m0 5v5m0 3v2m0 20v1m0 8v5m0 3v3m0 5v2m0 3v2m0 10v6m0 3v2m0 6v7m0 3v3m0 2v3m1-141v3m0 20v6m0 5v5m0 2v17m0 5v5m0 5v5m0 3v3m0 22v6m0 3v6m0 7v2m0 3v8m1-147v6m0 6v10m0 5v8m0 5v8m0 3v2m0 3v2m0 3v8m0 40v4m0 3v2m0 3v2m0 6v2m0 5v3m0 5v8m1-146v3m0 3v7m0 8v8m0 3v5m0 2v1m0 10v2m0 3v3m0 2v5m0 18v1m0 18v2m0 1v5m0 5v2m0 8v11m0 2v3m1-147v12m0 2v3m0 2v3m0 5v8m0 5v3m0 13v2m0 3v3m0 2v6m0 2v3m0 10v3m0 13v5m0 2v3m0 5v3m0 5v16m0 2v3m0 8v1m1-150v11m0 8v7m0 11v8m0 2v2m0 1v2m0 3v5m0 3v2m0 21v3m0 2v6m0 2v8m0 5v5m0 3v5m0 3v2m0 3v5m0 3v5m0 3v2m1-148v8m0 5v8m0 5v5m0 3v2m0 3v5m0 1v2m0 10v3m0 2v3m0 14v2m0 2v3m0 5v1m0 4v3m0 2v3m0 5v5m0 3v21m0 2v6m1-146v3m0 2v3m0 5v8m0 5v8m0 5v5m0 15v1m0 2v3m0 18v3m0 5v3m0 1v4m0 2v3m0 5v5m0 3v1m0 2v18m0 2v6m1-150v1m0 5v1m0 1v4m0 2v11m0 2v2m0 1v3m0 7v3m0 5v3m0 2v3m0 3v7m0 16v3m0 5v2m0 6v5m0 2v3m0 5v3m0 3v2m0 3v15m0 3v2m0 6v1m1-142v3m0 3v20m0 5v3m0 10v1m0 7v3m0 5v5m0 3v10m0 3v5m0 3v2m0 8v1m0 7v5m0 3v2m0 1v7m0 3v5m0 5v3m0 2v2m1-148v1m0 2v3m0 23v5m0 13v3m0 15v1m0 5v10m0 3v8m0 2v3m0 4v1m0 10v3m0 3v10m0 3v7m0 3v3m1-158v2m0 12v6m0 10v8m0 3v5m0 18v8m0 5v1m0 4v3m0 2v6m0 2v8m0 3v10m0 3v2m0 3v8m0 2v3m0 8v2m0 5v3m0 3v1m1-142v13m0 4v4m0 21v2m0 8v3m0 2v3m0 3v5m0 2v6m0 7v3m0 3v5m0 2v7m0 1v3m0 10v7m0 1v5m0 3v5m0 3v2m1-252v3m0 39v2m0 61v2m0 7v16m0 16v5m0 5v3m0 2v3m0 2v3m0 3v2m0 5v1m0 2v3m0 7v6m0 2v3m0 1v4m0 5v3m0 10v3m0 8v13m1-250v3m0 39v2m0 60v3m0 5v2m0 3v3m0 5v5m0 16v10m0 3v10m0 10v10m0 1v8m0 2v8m0 5v3m0 10v3m0 9v14m1-168v2m0 6v2m0 5v5m0 8v2m0 2v1m0 5v4m0 1v2m0 11v3m0 4v9m0 10v6m0 5v8m0 7v11m0 11v2m0 4v1m0 18v2m0 1v5m0 5v1m1-159v2m0 13v3m0 42v5m0 23v2m0 1v2m0 3v15m0 6v2m0 3v1m0 4v3m0 18v2m0 3v5m1-158v2m0 3v5m0 3v2m0 47v3m0 7v3m0 16v2m0 3v15m0 6v2m0 8v3m0 1v1m0 8v3m0 1v1m0 1v3m1-149v2m0 3v2m0 19v5m0 2v3m0 25v6m0 3v5m0 3v7m0 3v5m0 3v2m0 6v2m0 5v3m0 5v5m0 3v5m0 2v1m0 2v1m0 5v5m1-148v2m0 18v3m0 31v5m0 1v7m0 5v3m0 5v3m0 4v6m0 11v1m0 1v10m0 1v2m0 3v8m0 2v8m0 5v5m1-130v3m0 40v4m0 3v2m0 3v3m0 1v4m0 2v8m0 3v5m0 5v5m0 3v8m0 2v3m0 5v11m0 2v5m1-72v2m0 6v7m0 1v2m0 2v11m0 5v3m0 7v3m0 3v7m0 3v5m0 4v4m1-114v2m0 6v2m0 13v3m0 2v5m0 8v4m0 9v5m0 1v2m0 1v4m0 8v26m0 3v4m0 3v3m0 3v2m1-223v2m0 102v2m0 21v3m0 2v8m0 18v11m0 7v13m0 6v2m0 2v2m0 4v5m0 3v5m0 3v1m1-83v1m0 18v5m0 1v3m0 4v3m0 4v1m0 1v4m0 8v1m0 2v2m1-195v3m0 65v2m0 40v2m0 21v2m0 1v4m0 6v5m0 3v5m0 2v3m0 3v2m0 3v2m0 3v5m0 1v2m0 10v3m0 4v4m0 13v2"/>
<path stroke="#004dff" d="M0 0m170 341v3m0 5v2m0 2v1m0 1v4m0 3v5m1-8v3m0 2v3m1-39v3m0 2v3m0 8v2m0 13v3m0 8v2m1-2v1m0 1v2m0 25v2m1-83v2m1 14v2m0 92v3m1-126v2m0 52v3m1-48v4m0 2v5m0 13v3m0 13v2m0 3v1m1-48v6m0 2v5m0 13v3m0 18v1m1-49v1m0 6v5m0 28v3m1-47v3m0 2v3m0 3v2m0 3v2m0 1v4m0 6v5m1-26v2m0 8v5m0 11v13m1-39v3m0 18v5m0 5v3m1-37v8m0 3v2m0 16v7m1-33v5m0 3v2m0 3v1m0 12v8m0 19v1m1-46v7m0 3v1m0 7v10m1-35v2m0 1v4m0 2v3m0 13v3m0 2v3m0 80v3m1-119v12m0 6v2m0 8v11m0 78v2m1-114v18m0 2v3m0 21v2m0 66v2m1-112v7m0 1v1m0 1v1m0 4v9m0 10v3m1-37v8m0 5v4m0 1v3m0 6v2m0 4v1m0 3v2m0 74v2m1-117v2m0 2v3m0 2v1m0 6v7m0 2v6m0 5v1m0 2v2m1-41v2m0 5v6m0 2v5m0 3v4m0 11v1m1-39v2m0 3v2m0 3v3m0 4v1m0 7v3m0 5v3m0 8v1m1-45v2m0 3v8m0 4v1m0 7v3m0 5v3m0 8v2m1-48v4m0 3v8m0 3v2m0 2v8m0 3v2m0 1v7m1-41v2m0 4v1m0 3v8m0 12v1m0 2v5m0 1v2m0 5v3m1-44v2m0 3v5m0 5v3m0 8v5m0 3v2m0 5v3m1-49v2m0 5v8m0 3v5m0 5v3m0 5v3m0 7v3m1-50v1m0 5v2m0 3v5m0 3v2m0 3v2m0 3v11m0 2v1m1-43v1m0 5v2m0 3v5m0 4v1m0 3v3m0 2v11m0 2v1m0 2v1m0 7v5m1-39v2m0 2v1m0 3v2m0 3v2m0 3v3m0 2v3m1-44v2m0 5v1m0 12v3m0 1v4m0 8v5m0 18v3m0 23v3m1-68v5m0 16v3m1-23v2m0 1v2m0 15v2m0 11v3m0 2v3m0 3v2m1-43v2m0 6v1m0 6v2m0 8v3m0 2v3m0 8v2m1-59v2m0 5v8m0 1v2m0 5v10m0 24v2m1-52v8m0 8v10m0 24v2m1-53v1m0 11v2m0 3v2m1-11v4m0 7v3m0 3v5m0 26v2m1-53v7m0 7v6m0 1v5m0 12v2m0 11v2m0 21v1m1-72v11m0 8v6m0 5v2m0 5v3m0 31v1m0 220v4m0 27v3m1-320v2m0 3v11m0 46v1m0 3v4m0 247v3m1-320v2m0 3v16m1-25v2m0 2v5m0 3v3m0 2v3m0 2v5m1-28v5m0 3v5m0 8v7m1-25v2m0 3v4m0 11v5m1-25v7m0 16v1m0 47v1m0 247v3m1-320v3m0 3v2m0 11v2m0 296v3m1-321v4m0 1v4m0 8v2m0 3v2m1-26v6m0 3v2m0 8v2m1-15v2m0 12v4m0 46v2m1-69v1m0 4v5m0 1v2m0 3v2m0 8v3m0 288v3m1-319v1m0 3v8m0 13v3m0 3v2m0 60v2m0 8v3m0 210v3m1-247v1m0 7v2m0 234v3m1-316v1m0 6v1m0 58v1m1-60v1m0 58v2m1-4v2m0 2v3m0 8v3m1-78v3m0 41v3m0 13v3m0 15v3m0 2v2m1-82v1m0 40v3m0 13v5m0 18v3m0 13v1m1-42v4m0 2v4m0 5v5m0 8v1m1-50v2m0 2v1m0 15v3m0 2v3m1-62v2m0 26v3m0 5v3m0 17v3m0 2v1m1-34v3m0 26v2m1-23v3m0 7v1m1-19v3m0 27v1m0 3v2m1-36v3m0 32v2m1-32v3m0 25v1m1-2v2m1-3v2m1-1v2m1-34v3m0 27v2m0 7v3m1-12v2m1-57v2m0 2v2m0 50v2m1-56v2m0 53v2m1-57v2m0 29v3m0 19v3m1-56v2m0 6v2m0 21v3m0 1v4m0 16v2m0 29v2m1-91v5m0 57v3m1-65v3m0 5v3m0 21v7m0 3v6m0 2v2m0 3v1m0 6v1m0 1v1m1-65v3m0 2v8m0 18v8m0 3v1m0 1v3m0 15v3m1-64v2m0 10v3m0 11v2m0 2v3m0 8v2m0 21v2m0 1v2m0 8v3m1-78v2m0 29v4m0 2v7m0 14v2m1-60v2m0 24v5m0 5v3m0 26v4m0 1v1m0 5v2m1-52v2m0 6v2m0 24v2m0 11v3m0 2v9m1-56v5m0 17v1m0 8v1m0 4v4m0 2v2m1-44v3m0 22v1m1-1v3m0 5v4m0 7v8m1-26v3m0 4v6m0 8v2m0 8v1m0 1v1m1-42v3m0 1v3m0 12v2m0 13v2m0 1v7m1-36v2m0 10v6m0 5v2m0 1v3m0 2v1m0 5v1m1-39v1m0 11v4m0 15v1m1-49v2m0 12v1m0 22v2m0 2v3m0 3v2m1-49v5m0 10v1m0 20v3m0 8v5m0 9v1m1-96v5m0 5v6m0 15v5m0 3v3m0 5v4m0 24v11m1-73v3m0 18v5m0 5v3m0 5v3m0 21v2m0 1v2m1-68v3m0 20v3m0 33v1m0 2v6m0 16v2m1-67v2m0 13v2m0 11v1m0 14v11m1-52v2m0 16v3m0 18v1m0 13v1m1-54v1m0 12v2m0 2v4m0 5v2m0 6v2m0 1v2m0 2v2m0 10v1m1-78v3m0 26v3m0 12v4m0 29v2m1-85v1m0 26v3m0 5v3m0 2v1m0 10v2m0 3v2m0 4v7m0 2v6m0 5v2m1-57v3m0 10v3m0 8v2m0 3v1m0 27v1m1-83v2m0 40v1m0 1v5m0 1v1m0 3v1m0 30v1m0 8v1m1-91v3m0 34v2m0 1v2m0 3v10m0 25v2m1-82v3m0 32v2m0 2v1m0 2v3m0 2v6m0 27v1m1-45v4m0 15v1m0 23v1m1-46v9m0 2v2m0 2v1m0 2v1m0 2v2m0 23v1m1-82v4m0 32v5m0 39v1m1-81v4m0 3v2m0 28v5m0 38v1m1-77v3m0 31v5m0 38v1m1-82v1m0 41v3m0 34v1m1-40v7m0 32v1m1-79v3m0 36v2m0 1v1m1-5v3m0 38v1m1-40v2m0 35v3m1-25v3m0 23v1m1-81v1m0 1v3m0 33v2m0 35v2m1-75v3m0 38v11m0 3v2m0 16v2m1-34v2m0 1v3m1-48v1m0 37v4m0 27v5m0 5v1m1-76v2m0 3v2m0 26v5m0 32v2m0 3v1m1-76v2m0 32v2m0 1v2m0 2v5m0 3v3m0 2v3m0 2v3m0 6v2m0 5v1m1-43v11m0 13v5m0 5v5m0 3v3m1-78v2m0 16v5m0 8v2m0 3v3m0 2v1m0 2v2m0 4v4m0 1v2m0 8v4m0 1v1m1-71v2m0 16v5m0 5v1m0 2v2m0 3v3m0 2v3m0 2v2m0 1v5m0 3v8m0 2v2m0 1v3m1-73v2m0 47v1m0 6v1m0 5v2m0 1v4m1-51v5m0 3v2m0 5v6m0 2v5m0 3v1m0 17v7m1-54v3m0 3v2m0 39v9m1-67v1m0 3v2m0 3v7m0 19v8m0 2v5m0 3v10m0 2v1m1-81v3m0 18v8m0 25v1m0 26v1m1-84v5m0 18v8m0 8v2m0 6v2m0 5v3m0 16v2m0 5v2m1-48v2m0 25v4m0 2v3m0 3v4m0 7v4m1-54v2m0 3v2m0 8v2m0 27v3m1-61v1m0 13v2m0 3v2m0 6v1m0 1v3m0 13v2m0 3v3m0 5v2m1-49v3m0 32v1m0 3v5m1-74v1m0 6v2m0 3v2m0 18v6m0 5v1m0 23v5m1-53v1m0 5v2m0 3v4m0 1v7m0 22v5m0 5v7m1-51v5m0 31v3m0 5v11m1-51v1m0 13v11m0 7v8m0 3v10m1-86v3m0 10v3m0 10v7m0 4v2m0 6v1m0 19v3m0 3v2m0 5v4m1-80v1m0 23v8m0 3v2m0 6v2m0 5v3m0 23v1m0 5v1m1-77v3m0 15v3m0 8v1m0 22v2m0 3v1m0 2v3m0 2v3m0 2v3m1-47v3m0 2v3m0 3v2m0 3v5m0 1v2m0 4v6m0 3v2m0 3v2m1-79v7m0 45v9m0 5v3m0 3v2m0 3v2m1-75v3m0 2v3m0 34v2m0 3v1m0 20v5m0 2v3m1-78v3m0 7v3m0 29v5m0 2v7m0 1v5m0 190v4m1-254v1m0 7v3m0 16v2m0 8v1m0 20v2m0 6v2m0 5v2m1-74v2m0 29v2m0 3v3m0 22v1m0 3v2m0 1v2m0 2v3m1-81v1m0 1v1m0 28v1m0 6v1m0 3v3m0 2v1m1-12v4m0 10v1m0 24v1m0 1v1m1-41v3m0 33v5m1-42v3m1-7v2m0 2v3m1 0v2m0 4v5m0 28v3m1-70v2m0 13v3m0 3v2m1-6v1m0 8v2m1-30v10m0 7v1m0 9v1m1-21v3m0 5v2m0 6v1m0 1v1m1-26v2m0 2v3m1-8v3m0 2v3m0 3v2m1-2v5m0 7v1m0 3v2m1-21v4m1-4v3m0 9v1m0 3v2m0 29v2m1-49v5m0 12v1m1-23v2m0 3v3m0 1v1m0 3v1m0 8v2m0 12v3m0 2v2m1-44v1m0 5v3m1-15v4m0 3v2m0 3v3m0 14v1m1-36v8m0 2v5m0 3v3m0 11v2m1-32v6m0 3v2m0 5v1m0 12v2m0 1v1m0 17v2m1-52v6m0 2v3m0 5v3m0 5v1m1-27v2m0 3v8m0 2v6m1-19v3m0 5v5m0 20v1m0 1v2m1-37v3m0 5v5m0 20v1m0 1v2m1-41v2m0 8v2m0 3v2m0 3v2m0 3v1m0 8v4m0 1v2m1-42v1m0 3v1m0 3v1m0 9v11m0 262v3m1-293v4m0 11v13m0 8v1m1-33v3m0 8v13m1-31v1m0 1v7m0 1v1m0 7v2m0 6v3m0 2v1m0 5v1m1-31v3m0 10v5m0 1v2m0 9v2m1-31v2m0 13v3m0 12v1m1-38v9m0 3v2m0 1v1m0 7v7m0 2v1m0 6v1m0 252v3m1-281v3m0 6v2m0 2v3m0 8v1m1-33v1m0 7v2m0 6v3m0 13v2m1-34v3m0 8v1m0 3v1m0 3v3m1-29v10m0 5v3m0 5v6m1-27v8m0 8v8m0 2v3m0 1v1m1-34v1m0 5v5m0 3v5m0 10v3m1-28v4m0 3v8m0 10v3m1-28v7m0 8v6m0 2v2m1-35v2m0 15v5m0 5v3m1-31v1m0 9v3m0 10v5m0 3v2m0 1v2m0 5v1m0 15v3m0 2v3m1-55v3m0 4v6m0 8v5m1-25v1m0 1v5m0 9v4m0 5v2m0 16v2m1-45v2m0 1v1m0 6v2m0 1v3m0 7v2m1-21v3m0 5v3m0 5v3m0 2v3m1-34v1m0 1v1m0 10v7m0 1v5m0 3v3m0 9v3m0 18v5m1-67v9m0 1v1m0 2v14m0 4v2m0 3v1m0 5v2m1-40v1m0 3v2m0 3v1m0 2v2m0 5v11m0 5v1m0 3v1m0 1v2m0 2v6m1-61v1m0 5v5m0 3v2m0 8v3m0 2v9m0 20v3m1-56v4m0 2v3m0 2v6m0 5v5m0 11v1m0 2v2m1-41v2m0 7v3m0 3v2m0 3v6m0 2v2m0 16v5m1-47v3m0 8v2m0 3v8m0 11v1m0 1v2m1-48v1m0 6v1m0 15v4m0 4v2m0 2v1m0 2v2m0 36v1m1-57v2m0 8v3m0 2v3m0 9v1m1-47v1m0 1v1m0 16v2m0 24v1m1-57v2m0 9v1m0 2v8m0 2v3m0 3v1m0 1v3m0 2v3m0 3v2m0 9v2m0 1v1m1-50v3m0 6v1m0 1v2m0 7v9m0 18v1m0 1v4m1-39v10m0 5v6m0 2v2m0 10v1m1-45v1m0 8v3m0 2v5m0 5v6m0 12v2m1-38v11m0 10v5m0 11v1m1-53v1m0 1v1m0 7v3m0 2v8m0 3v10m0 3v1m0 13v3m0 15v1m1-65v3m0 5v3m0 1v4m0 3v13m0 2v2m1-42v1m0 11v2m0 3v2m0 8v8m1-22v2m0 12v5m0 4v2m0 23v3m0 10v5m1-52v5m0 3v3m0 24v2m0 10v5m1-81v1m0 2v3m0 3v1m0 5v1m0 3v2m0 3v13m1-34v1m0 23v1m0 1v5m0 2v4m0 2v2m1-17v5m0 2v3m0 5v1m1-22v3m0 1v2m1-18v1m0 4v2m0 8v3m0 4v1m0 2v6m1-39v1m0 7v2m0 3v5m0 4v4m0 2v11m1-30v9m0 2v6m0 2v3m0 2v6m0 2v1m1-34v1m0 1v3m0 3v2m0 13v11m0 30v3m1-52v8m0 2v1m0 2v3m0 25v11m0 3v2m1-78v1m0 11v2m0 2v2m0 3v8m0 2v6m0 2v3m0 23v1m0 1v3m0 1v3m0 2v2m1-68v1m0 1v1m0 3v5m0 8v6m0 30v5m0 3v3m0 2v3m1-70v1m0 1v5m0 3v5m0 3v5m0 3v1m0 39v1m0 2v1m1-87v1m0 11v1m0 4v7m0 2v1m0 3v4m0 1v5m0 29v1m0 9v4m0 1v1m1-82v2m0 12v2m0 5v3m0 1v2m0 5v10m0 37v2m1-67v10m0 59v1m1-70v9m0 48v2m0 8v4m1-77v1m0 5v7m0 6v5m0 5v7m0 37v3m1-79v1m0 6v2m0 5v2m0 5v1m0 2v3m0 5v5m0 26v3m0 5v3m1-60v2m0 2v6m0 3v2m0 34v3m1-71v3m0 12v4m0 2v6m0 10v3m0 2v4m1-45v1m0 22v2m0 8v3m0 5v2m0 28v4m0 3v2m0 5v3m1-62v1m0 6v3m0 3v2m0 29v5m1-68v3m0 8v2m0 6v2m0 3v5m0 3v5m0 26v5m0 10v1m1-72v9m0 8v2m0 1v7m0 1v1m0 29v6m1-76v1m0 31v2m0 5v5m0 29v5m0 3v2m1-83v2m0 11v3m0 15v3m0 39v5m1-73v1m0 7v5m0 6v7m0 38v1m0 6v2m1-81v2m0 5v1m0 2v2m0 2v3m0 2v2m0 3v7m0 5v3m0 1v3m1-29v2m0 3v5m0 5v3m0 5v2m0 1v6m1-31v4m0 10v3m0 8v4m1-43v2m0 11v1m0 4v2m0 16v3m0 2v2m1-30v2m0 3v2m0 9v10m0 2v2m1-37v1m0 3v1m0 2v2m0 11v2m0 8v8m1-29v1m0 7v3m0 10v5m0 3v1m1-35v1m0 4v3m0 2v8m0 7v1m0 3v2m0 23v3m0 11v2m1-69v2m0 3v4m0 3v3m0 2v5m0 8v3m0 22v4m0 2v3m1-73v1m0 10v1m0 4v8m0 2v8m0 5v1m0 22v1m0 2v2m0 9v2m1-72v2m0 8v2m0 7v1m0 1v2m0 2v6m0 2v4m1-37v1m0 9v2m0 7v1m0 1v2m0 2v5m0 3v3m0 30v1m1-65v7m0 9v2m0 13v2m0 29v3m1-62v1m0 1v3m0 5v4m0 9v3m0 36v3m1-63v3m0 5v4m0 9v3m0 37v2m1-68v1m0 4v1m0 4v3m0 3v2m0 5v3m0 8v1m1-34v2m0 10v3m0 2v3m0 2v6m0 1v2m1-29v1m0 9v2m0 3v3m0 2v3m0 7v1m1-30v5m0 3v9m0 5v3m1-21v2m0 16v2m0 1v2m0 3v2m1-26v6m1-13v1m0 5v4m0 6v9m0 1v2m0 219v3m1-239v2m0 7v13m1-31v3m0 5v5m0 5v6m1-30v1m0 14v4m0 1v1m0 5v6m1-22v1m0 8v1m0 1v1m0 3v7m0 3v2m0 20v1m1-47v1m0 7v3m0 5v8m1-30v3m0 3v1m0 7v3m0 5v7m0 27v1m1-38v10m0 2v1m1-32v1m0 16v5m0 3v5m0 17v1m0 5v5m0 3v3m1-60v1m0 4v1m0 9v3m0 31v5m0 3v2m1-44v3m0 1v1m0 6v4m0 15v2m1-34v2m0 3v2m1-28v1m1 19v3m0 5v1m0 2v7m0 13v1m1-42v1m0 10v4m0 1v3m0 2v3m0 2v1m1-4v5m1-27v2m0 21v1m0 261v3m1-286v1m0 15v2m0 8v3m1-29v3m0 8v2m0 3v2m0 6v2m1-27v1m0 1v2m0 5v1m0 2v5m0 5v2m0 1v2m1-28v3m0 2v2m0 3v1m0 3v1m0 3v5m1-21v3m0 4v1m0 5v2m0 11v1m1-27v3m0 4v1m0 5v3m0 2v3m1-18v2m0 5v1m0 5v1m0 8v1m1-31v1m0 18v2m0 2v2m1-22v2m0 15v1m0 2v3m0 2v2m1-30v2m0 9v2m0 10v2m0 1v2m0 257v3m1-282v2m0 7v2m0 6v1m0 2v2m1-23v5m0 8v2m1-10v3m0 3v2m0 1v2m1-19v1m0 7v3m0 2v3m0 1v6m1-22v2m0 10v6m0 2v2m0 3v1m0 1v1m1-26v1m0 3v1m0 3v8m0 2v1m0 4v3m1-11v1m0 5v1m1-16v2m0 2v5m0 40v5m1-55v3m0 3v5m1-8v3m0 5v2m0 1v5m0 18v2m1-31v3m0 2v3m0 2v1m1-13v3m0 4v3m0 2v2m1-15v1m0 1v4m0 2v6m1-10v1m0 5v1m1-6v1m2 267v3m1-263v1m0 47v1m1-53v2m1-2v2m1-6v1m1-4v1m5 17v2m1-5v1m1-14v2m1 2v2m1-2v3m3-4v1m2 2v1m7 262v3m2-3v3m10-263v1m5 21v2m0 8v1m1-31v3m0 8v3m0 8v2m0 3v2m1-31v7m0 9v5m0 3v2m0 1v2m0 3v2m1-31v5m0 8v8m0 2v3m0 5v2m1-35v2m0 5v16m0 2v3m0 5v2m1-40v4m0 3v10m0 3v5m0 8v2m1-34v1m0 2v3m0 8v5m0 3v2m2-21v6m0 14v1m0 3v2m1-30v4m0 6v2m0 3v2m0 6v5m1-18v2m0 3v2m0 6v5m1-21v3m0 13v2m0 8v2m0 1v1m1-27v5m1-15v7m0 3v5m0 2v6m0 7v2m1-33v5m0 6v7m0 8v5m0 3v1m1-27v3m0 2v7m0 1v3m0 2v8m1-31v5m0 3v1m0 14v3m0 2v5m1-34v1m0 6v2m0 2v5m0 3v3m0 2v12m1-35v5m0 3v2m0 4v1m0 3v3m0 1v1m0 3v3m0 5v1m1-27v2m0 3v2m0 6v5m0 2v3m0 2v1m1-35v1m0 13v2m0 3v3m0 10v2m1-17v5m0 2v5m0 8v1m1-37v2m0 16v5m0 3v5m1-30v2m0 2v3m0 2v5m0 6v10m1-26v5m0 5v4m0 2v5m1-22v4m0 2v1m0 4v6m0 7v9m1-34v5m0 7v6m0 4v1m0 2v3m1-23v15m0 3v2m0 8v2m1-30v1m0 6v2m0 3v3m0 3v2m0 3v3m1-69v1m0 39v5m0 5v3m0 3v2m0 3v2m0 3v3m1-69v5m0 42v3m0 6v2m0 3v10m1-69v4m0 35v1m0 1v2m0 13v3m0 2v4m0 2v2m1-28v2m0 3v2m0 6v5m0 7v3m1-67v5m0 34v7m0 3v3m0 4v1m0 2v8m1-66v4m0 39v2m0 9v2m0 5v3m1-70v2m0 49v3m0 5v3m0 1v1m0 3v4m1-66v2m0 39v8m0 2v3m0 3v5m0 1v2m1-64v2m0 37v1m0 3v5m0 5v3m0 2v1m0 5v2m1-28v2m0 5v3m0 5v5m0 3v2m0 1v1m1-72v3m0 5v3m0 2v1m0 31v2m0 5v3m0 5v5m1-52v3m0 26v5m0 5v1m0 8v2m0 1v4m0 3v1m1-59v3m0 31v8m0 10v5m0 1v2m1-64v2m0 2v5m0 32v5m0 10v3m0 3v1m1-59v8m0 3v2m0 19v7m0 6v2m0 8v3m0 2v3m1-64v14m0 13v6m0 7v3m0 3v1m0 1v5m0 6v1m1-59v6m0 2v3m0 2v3m0 7v1m0 4v6m0 5v3m0 2v1m0 5v2m0 6v4m1-62v3m0 5v2m0 3v11m0 2v7m0 1v8m0 3v2m0 2v3m0 1v5m1-68v2m0 19v8m0 8v2m0 10v3m0 2v3m0 3v7m0 1v3m1-61v1m0 7v8m0 7v1m0 13v10m0 3v2m0 3v7m1-54v8m0 3v2m0 3v1m0 7v2m0 3v8m0 2v3m0 2v7m1-67v3m0 5v8m0 13v3m0 8v13m0 1v4m0 2v7m1-56v3m0 2v3m0 2v3m0 3v7m0 8v3m0 2v3m0 5v3m0 5v3m1-52v5m0 3v2m0 3v2m0 5v8m0 3v2m0 3v3m0 2v5m0 3v3m1-73v2m0 19v2m0 3v5m0 5v3m0 5v6m0 2v2m0 3v3m0 5v5m0 3v2m1-74v1m0 17v2m0 2v3m0 2v3m0 5v5m0 11v2m0 6v2m0 3v2m0 8v2m1-58v2m0 2v3m0 2v3m0 5v5m0 11v2m0 5v3m0 3v1m1-58v2m0 21v3m0 5v8m0 2v7m0 1v3m0 15v3m1-50v3m0 10v2m0 1v5m0 5v8m0 5v3m1-44v5m0 10v8m0 5v4m0 2v5m0 5v3m0 2v3m1-73v1m0 11v1m0 1v2m0 2v8m0 8v5m0 4v4m0 5v1m0 12v7m1-60v1m0 3v12m0 1v2m0 5v21m0 3v2m0 1v2m0 3v5m1-60v3m0 2v10m0 7v1m0 6v6m0 1v3m0 10v3m0 5v3m1-70v1m0 10v2m0 10v3m0 5v13m0 2v3m0 3v2m0 5v3m0 5v2m1-73v1m0 21v2m0 3v3m0 2v3m0 5v13m0 5v3m1-34v10m0 3v13m0 3v5m0 2v11m1-69v1m0 8v1m0 11v11m0 3v10m0 8v3m0 5v1m0 2v5m1-57v2m0 3v2m0 3v6m0 4v6m0 2v8m0 4v1m0 11v2m1-53v1m0 3v2m0 3v3m0 5v2m0 3v1m0 4v3m0 10v11m0 5v2m1-75v2m0 17v7m0 3v4m0 1v2m0 8v3m0 10v7m1-48v2m0 16v5m0 3v4m0 3v3m0 6v4m0 13v2m1-77v2m0 29v3m0 2v3m0 18v3m0 2v3m0 10v3m1-71v1m0 11v7m0 5v3m0 2v3m0 18v3m0 4v4m0 7v3m1-42v7m0 6v3m0 3v2m1-48v2m0 25v3m0 13v10m1-54v1m0 2v3m0 5v2m0 7v1m0 2v3m0 2v3m0 5v3m0 5v10m1-39v3m0 5v3m0 4v1m0 1v2m0 5v2m0 3v3m0 5v8m0 2v3m1-59v1m0 5v1m0 21v7m0 11v2m0 11v2m0 3v3m1-58v3m0 8v2m0 16v3m0 7v3m0 3v5m0 2v5m1-77v2m0 11v2m0 5v3m0 8v2m0 1v2m0 5v1m0 4v2m0 1v3m0 22v1m1-49v2m0 13v3m0 2v11m0 2v3m0 5v2m0 6v3m1-54v2m0 9v9m0 2v3m0 3v2m0 3v2m0 11v1m1-48v3m0 11v2m0 13v2m0 3v2m0 11v2m1-67v2m0 11v5m0 5v5m0 3v3m0 2v5m0 3v8m0 5v5m1-65v3m0 2v1m0 4v3m0 2v1m0 2v3m0 3v1m0 17v2m0 3v5m0 5v8m0 5v3m1-72v2m0 16v2m0 3v5m0 5v3m0 5v2m0 4v4m0 5v8m0 4v8m1-39v1m0 3v2m0 3v5m0 8v3m0 2v11m1-66v1m0 7v2m0 1v1m0 4v3m0 10v3m0 2v8m0 5v3m0 3v5m0 5v5m1-57v1m0 4v3m0 9v4m0 2v7m0 6v3m0 3v5m0 4v4m1-60v7m0 6v2m0 11v2m0 8v3m0 5v3m0 2v3m0 4v1m1-57v5m0 3v2m0 11v5m0 2v3m0 3v2m0 3v2m0 10v3m1-49v3m0 5v2m0 3v5m0 3v2m0 6v5m0 5v3m0 2v3m1-47v3m0 11v4m0 3v2m0 3v3m0 15v3m0 8v5m1-63v1m0 1v1m0 18v5m0 6v5m0 2v11m0 5v1m0 1v1m0 2v2m1-76v1m0 12v1m0 15v1m0 3v2m0 3v5m0 3v2m0 5v6m0 2v5m0 3v3m1-44v2m0 1v4m0 3v5m0 3v2m0 5v6m0 2v5m0 8v5m1-67v1m0 15v7m0 11v2m0 11v7m0 6v5m1-69v2m0 28v13m0 2v3m0 2v6m0 2v8m1-42v1m0 5v5m0 3v5m0 2v21m0 5v2m1-58v9m0 8v6m0 7v6m0 1v6m0 3v5m0 3v4m1-71v1m0 1v2m0 10v1m0 2v4m0 2v5m0 2v3m0 16v10m0 3v5m0 2v1m1-67v1m0 9v2m0 2v8m0 2v1m0 2v3m0 16v17m1-67v2m0 10v1m0 3v2m0 6v7m0 10v1m0 2v3m0 3v2m0 3v10m0 5v2m1-66v1m0 6v3m0 5v5m0 5v6m0 10v5m0 5v13m1-56v2m0 5v5m0 5v6m0 10v5m0 5v7m0 1v5m0 3v2m1-64v2m0 18v8m0 5v3m0 3v2m0 2v1m0 2v3m0 5v5m0 3v1m1-74v2m0 14v2m0 1v5m0 5v2m0 3v3m0 1v1m0 4v7m0 2v3m0 2v6m0 9v1m1-55v6m0 8v5m0 2v3m0 10v3m0 5v3m0 5v5m1-62v5m0 8v2m0 5v6m0 2v3m0 2v8m0 5v16m1-63v3m0 8v3m0 2v7m0 1v10m0 3v3m0 2v3m0 5v8m0 5v2m1-70v3m0 5v3m0 8v2m0 6v2m0 3v2m0 18v19m1-65v2m0 11v2m0 5v3m0 3v2m0 3v4m0 4v2m0 5v12m0 1v3m1-59v1m0 1v8m0 2v8m0 3v2m0 3v1m0 1v6m0 5v6m0 2v2m0 3v2m1-55v1m0 1v4m0 8v5m0 5v3m0 2v6m0 9v6m1-60v2m0 8v6m0 8v5m0 5v3m0 2v6m0 6v9m0 8v1m1-56v3m0 3v7m0 8v5m0 8v10m0 1v7m1-41v5m0 3v3m0 4v3m0 5v8m0 1v9m0 6v1m1-49v6m0 3v2m0 6v2m0 8v2m0 6v5m0 2v2m0 4v2m1-52v3m0 5v5m0 3v10m0 3v8m0 7v3m1-57v2m0 18v6m0 2v3m0 3v10m0 3v4m0 3v6m0 2v1m1-53v3m0 5v8m0 2v11m0 5v3m0 2v5m1-45v4m0 5v8m0 2v11m0 10v6m0 2v5m1-57v3m0 15v21m0 3v2m0 3v2m0 13v3m1-68v3m0 16v2m0 3v1m0 9v4m0 1v11m0 8v5m0 2v1m1-64v1m0 21v2m0 8v4m0 1v11m0 10v3m0 2v5m1-67v3m0 15v11m0 2v3m0 5v8m0 2v8m0 3v2m1-59v2m0 3v5m0 15v14m0 2v3m0 10v5m1-63v1m0 3v2m0 3v5m0 16v13m0 2v3m0 10v3m0 5v1m1-66v3m0 10v3m0 10v10m0 6v5m0 1v1m0 3v1m0 2v5m1-63v7m0 4v8m0 15v8m0 3v2m0 2v1m0 5v3m0 5v1m1-63v2m0 3v2m0 5v3m0 2v9m0 2v3m0 2v8m0 3v2m0 1v2m0 5v1m0 7v3m1-60v5m0 14v4m0 8v2m0 3v10m0 3v5m0 3v3m1-63v3m0 2v5m0 11v2m0 6v2m0 20v6m0 3v3m1-68v2m0 3v5m0 8v3m0 13v4m0 3v3m0 3v2m0 8v3m0 2v4m1-64v3m0 3v2m0 3v2m0 10v3m0 3v13m0 21v1m1-53v5m0 5v3m0 10v5m0 11v5m0 3v2m0 3v1m0 1v1m1-61v2m0 9v3m0 2v8m0 8v5m0 13v8m1-64v1m0 3v3m0 10v8m0 2v8m0 3v5m0 13v3m0 2v3m1-47v5m0 3v2m0 1v2m0 5v3m0 5v3m0 5v8m0 2v3m1-57v6m0 1v8m0 3v10m0 5v3m0 5v9m0 4v3m1-55v3m0 2v6m0 1v1m0 3v5m0 3v2m0 5v3m0 5v3m0 5v3m1-59v1m0 3v7m0 6v3m0 5v13m0 1v9m0 5v8m1-59v1m0 9v5m0 5v3m0 8v2m0 3v10m0 8v3m0 5v2m1-65v3m0 7v2m0 1v1m0 2v1m0 2v2m0 2v1m0 4v5m0 9v5m0 7v4m0 5v1m1-58v1m0 1v3m0 5v5m0 11v5m0 2v6m0 2v5m0 11v4m1-65v4m0 2v3m0 2v8m0 8v3m0 2v5m0 3v5m0 3v4m0 4v7m1-57v3m0 4v1m0 1v7m0 3v5m0 10v5m0 3v5m0 3v2m1-55v1m0 2v1m0 7v2m0 11v3m0 2v3m0 8v2m0 3v2m0 3v8m0 2v2m1-66v10m0 2v4m0 4v6m0 5v5m0 8v2m0 8v3m0 2v3m1-61v2m0 12v3m0 2v3m0 2v8m0 7v4m0 2v2m0 1v8m0 2v3m1-60v2m0 11v3m0 2v3m0 2v11m0 1v7m0 5v8m0 2v3m1-58v1m0 6v1m0 6v2m0 8v10m0 8v3m0 5v3m0 5v1m1-56v3m0 5v3m0 5v5m0 3v2m0 3v4m0 4v5m0 5v5m1-52v3m0 13v5m0 3v2m0 3v5m0 3v5m0 5v5m1-55v1m0 6v4m0 5v4m0 2v5m0 2v2m0 11v1m0 2v5m0 1v7m1-56v1m0 13v3m0 2v3m0 5v3m0 7v1m0 5v1m0 2v10m1-53v1m0 1v1m0 8v3m0 2v3m0 5v3m0 5v3m0 4v1m0 2v6m0 2v7m1-66v2m0 3v2m0 11v7m0 23v3m0 6v2m0 1v2m1-61v4m0 5v10m0 3v13m0 5v5m0 1v7m1-50v1m0 7v2m0 9v5m0 2v1m0 1v4m0 5v1m0 4v5m0 2v2m0 2v1m1-51v2m0 2v2m0 5v5m0 2v3m0 3v2m0 8v3m0 2v3m0 2v3m0 5v5m1-49v3m0 2v3m0 2v3m0 3v13m0 18v5m1-57v1m0 4v3m0 2v3m0 2v8m0 2v5m0 1v3m0 7v6m0 2v3m1-64v1m0 3v2m0 3v3m0 2v2m0 4v2m0 3v2m0 3v5m0 5v5m0 8v3m0 3v2m0 3v2m1-65v6m0 3v4m0 6v2m0 11v2m0 3v5m0 10v3m0 3v1m0 4v2m1-65v3m0 10v3m0 3v13m0 10v3m0 20v3m1-71v5m0 6v2m0 3v3m0 8v2m0 16v3m0 20v3m1-76v1m0 5v2m0 8v2m0 1v1m0 25v2m0 16v3m0 2v5m1-67v3m0 1v1m0 6v2m0 21v5m0 12v1m0 2v3m0 3v2m0 8v2m1-81v1m0 8v3m0 6v4m0 21v5m0 5v3m0 3v2m0 2v3m0 3v5m1-77v5m0 2v2m0 5v2m0 2v1m0 17v2m0 8v2m0 10v3m0 3v1m0 4v3m0 2v3m0 2v1m1-76v3m0 2v2m0 32v5m0 5v3m0 3v4m0 1v2m0 9v7m1-78v3m0 4v1m0 34v2m0 5v3m0 3v7m0 3v3m0 2v3m0 2v2m1-69v2m0 2v6m0 1v2m0 24v4m0 3v10m0 6v2m0 4v4m1-66v1m0 13v3m0 10v3m0 2v3m0 1v4m0 3v2m0 5v2m1-43v2m0 3v2m0 1v5m0 5v3m0 3v2m0 2v9m0 4v3m0 6v7m1-44v5m0 8v7m0 6v2m0 3v8m0 2v3m1-52v3m0 5v2m0 6v1m0 1v3m0 5v3m0 2v3m0 5v1m1-32v2m0 6v2m0 5v6m0 7v8m1-27v1m0 18v8m1-49v2m0 16v8m0 4v1m0 3v5m0 2v6m0 2v5m1-52v3m0 8v2m0 5v2m0 1v8m0 3v5m0 5v14m1-56v3m0 8v2m0 5v2m0 1v8m0 3v3m0 3v4m0 8v8m1-61v1m0 2v6m0 6v1m0 3v10m0 3v8m0 2v13m1-49v3m0 8v7m0 4v1m0 8v5m0 6v5m0 2v6m1-58v2m0 1v3m0 8v5m0 4v3m0 8v3m0 2v11m0 2v6m1-59v4m0 3v2m0 2v1m0 15v3m0 10v3m0 2v1m0 1v1m0 5v8m1-59v10m0 2v3m0 3v2m0 5v6m0 2v5m0 3v5m1-33v2m0 3v2m0 5v6m0 2v5m0 3v7m0 9v2m1-52v8m0 3v7m0 6v5m0 2v11m0 5v5m0 187v3m1-236v5m0 1v1m0 3v5m0 3v5m0 8v2m0 8v5m1-45v6m0 3v5m0 4v1m0 1v2m0 18v4m1-51v3m0 2v16m0 3v10m0 5v3m0 5v3m1-49v1m0 1v8m0 2v3m0 2v1m0 12v3m0 3v5m0 5v5m1-50v3m0 1v10m0 5v3m0 23v5m1-49v13m0 2v13m0 6v2m0 3v2m0 3v5m1-31v4m0 17v2m1-44v3m0 5v3m0 2v5m0 4v2m0 15v3m0 8v2m1-52v3m0 10v5m0 5v1m1-29v3m0 5v2m0 32v2m3-38v2m0 7v1m0 5v2m1-2v2m1-2v2m1-8v1m51-61v1m4-10v4m1-8v2m1-1v2m0 4v2m1 0v1m1-11v1m0 10v1m1-11v1m0 11v2m0 2v1m1-14v1m0 10v1m0 1v2m1-18v2m0 2v1m0 3v1m0 2v1m0 1v3m1-10v1m0 1v1m0 2v5m1-7v2m0 4v1m1-5v3m1-9v1m0 10v1m8-8v1m2-15v1m0 16v1m1-7v3m1-10v1m0 3v1m0 1v1m0 3v2m1-8v2m1-3v4m6-9v1m0 26v1m2-33v3m0 6v1m0 34v4m1-44v1m0 3v3m0 29v3m1-46v1m0 4v9m0 29v2m1-38v2m0 3v1m0 27v1m0 1v1m0 3v2m0 34v3m1-91v1m0 7v7m0 1v7m0 3v1m0 19v2m0 1v1m0 2v2m0 3v2m1-59v2m0 5v5m0 2v4m0 2v3m0 3v2m0 18v8m0 11v2m1-60v5m0 3v3m0 2v3m0 36v3m0 3v2m1-65v1m0 3v1m0 3v8m0 2v6m0 5v2m0 17v2m0 2v3m0 2v6m0 5v7m1-76v1m0 8v8m0 6v2m0 28v3m0 2v6m0 5v2m0 1v2m0 2v1m1-90v1m0 5v3m0 3v3m0 2v1m0 3v1m0 3v2m0 1v5m0 4v2m0 7v2m0 3v2m0 21v3m0 1v4m0 2v6m0 20v2m0 9v2m1-114v6m0 9v1m0 2v3m0 21v2m0 21v3m0 2v3m0 2v3m0 2v2m0 4v2m0 19v2m1-116v2m0 1v1m0 2v8m0 12v2m0 5v7m0 9v2m0 21v7m0 1v5m0 3v10m0 16v2m1-114v10m0 14v2m0 2v4m0 7v1m0 7v2m0 26v3m0 2v11m0 5v1m1-97v4m0 9v1m0 1v3m0 8v2m0 13v1m0 28v5m0 2v11m0 3v5m0 15v1m0 1v1m1-120v1m0 5v5m0 8v2m0 2v3m0 6v2m0 1v5m0 18v2m0 20v1m0 4v9m0 3v8m0 5v2m0 3v5m1-119v2m0 3v5m0 8v2m0 6v1m0 2v4m0 3v4m0 9v10m0 8v3m0 12v1m0 2v6m0 7v3m0 2v4m1-107v2m0 8v4m0 2v3m0 1v8m0 5v3m0 3v3m0 9v1m0 2v5m0 3v1m0 4v5m0 16v5m0 16v4m0 9v1m1-106v1m0 4v1m0 5v2m0 1v2m0 11v5m0 5v3m0 2v6m0 2v6m0 12v3m0 1v4m0 3v15m0 6v2m0 3v2m1-124v2m0 5v5m0 2v1m0 4v1m0 1v1m0 7v2m0 1v1m0 11v5m0 6v2m0 2v6m0 2v6m0 14v1m0 5v21m0 3v3m0 2v2m1-112v2m0 1v3m0 2v3m0 11v2m0 3v5m0 5v5m0 5v3m0 3v2m0 5v3m0 10v8m0 3v2m0 6v2m0 8v5m1-109v1m0 11v3m0 11v1m0 33v4m0 15v4m0 3v2m0 6v1m0 4v2m0 6v1m0 1v2m1-106v1m0 4v2m0 2v2m0 10v3m0 25v1m0 7v3m0 3v3m0 2v1m0 4v5m0 3v2m0 11v2m1-99v2m0 3v3m0 3v1m0 1v1m0 7v1m0 1v4m0 20v3m0 3v13m0 1v9m0 3v2m0 8v3m0 10v5m0 5v3m1-114v2m0 12v3m0 3v3m0 9v1m0 6v2m0 16v5m0 39v5m0 5v3m1-122v2m0 5v1m0 7v3m0 3v1m0 2v2m0 2v3m0 16v2m0 8v3m0 2v3m0 2v21m0 11v2m0 8v5m0 5v3m1-117v1m0 2v4m0 16v3m0 3v6m0 4v3m0 10v5m0 5v1m0 10v10m0 24v10m0 13v1m1-132v1m0 2v3m0 11v3m0 2v1m0 1v3m0 3v2m0 3v5m0 5v3m0 2v3m0 5v3m0 2v3m0 4v1m0 8v3m0 2v1m0 12v3m0 2v3m1-104v5m0 5v1m0 5v1m0 6v3m0 3v2m0 3v5m0 5v3m0 2v3m0 5v8m0 3v2m0 3v2m0 3v8m0 10v3m0 2v3m1-107v2m0 3v3m0 8v3m0 2v1m0 7v4m0 12v2m0 5v3m0 5v5m0 6v2m0 11v2m0 15v1m0 18v3m0 5v5m1-122v2m0 1v3m0 1v1m0 8v4m0 1v2m0 11v2m0 26v5m0 3v8m0 5v2m0 1v2m0 5v6m0 7v11m0 2v3m1-131v3m0 11v2m0 2v1m0 8v3m0 2v1m0 7v5m0 20v1m0 5v5m0 29v3m0 5v2m0 3v3m0 10v3m0 2v3m0 2v1m1-141v3m0 12v2m0 1v5m0 3v3m0 10v5m0 5v3m0 10v3m0 5v5m0 29v3m0 5v2m0 3v3m0 10v3m0 2v3m1-136v1m0 13v4m0 1v1m0 8v1m0 5v3m0 3v2m0 11v2m0 9v2m0 2v3m0 5v3m0 5v2m0 6v2m0 24v5m0 8v2m1-133v1m0 13v5m0 5v10m0 3v3m0 5v2m0 33v1m0 5v3m0 3v7m0 8v3m1-110v1m0 10v3m0 2v3m0 5v8m0 5v3m0 5v2m0 6v3m0 23v2m0 5v4m0 2v7m0 24v2m0 3v3m0 5v2m1-145v2m0 24v5m0 10v1m0 12v3m0 3v2m0 15v1m0 26v2m0 26v3m0 5v3m1-111v4m0 13v3m0 3v2m0 37v5m0 28v3m0 2v8m0 3v2m1-140v2m0 86v6m0 5v2m0 21v3m0 2v6m0 2v4m1-140v1m0 3v2m0 5v2m0 17v2m0 5v2m0 7v2m0 5v3m0 35v1m0 2v1m0 5v2m0 21v3m0 5v2m0 1v4m1-137v3m0 2v7m0 1v1m0 2v2m0 14v5m0 18v2m0 11v2m0 13v1m0 4v2m0 1v3m0 2v3m0 5v5m0 24v7m1-135v3m0 2v8m0 50v2m0 13v3m0 2v3m0 1v2m0 4v1m0 5v8m0 21v7m1-179v3m0 38v1m0 2v8m0 3v2m0 37v2m0 42v2m0 3v3m0 2v5m0 3v3m0 15v5m1-141v1m0 5v3m0 2v3m0 29v2m0 50v2m0 38v1m0 1v4m1-138v1m0 7v3m0 3v1m0 1v3m0 21v3m0 15v2m0 8v3m0 21v2m0 15v1m0 26v4m1-171v2m0 29v1m0 2v3m0 8v2m0 49v1m0 5v2m0 19v7m0 3v3m0 5v2m0 3v3m1-164v2m0 8v2m0 71v5m0 16v5m0 3v3m0 4v1m0 23v2m0 8v4m1-157v2m0 44v3m0 5v6m0 31v2m0 16v3m0 2v3m0 22v1m0 8v3m0 2v6m0 2v3m0 17v1m0 2v1m1-136v12m0 9v3m0 18v2m0 13v3m0 5v3m0 2v2m0 4v1m0 19v8m0 3v2m0 3v3m0 5v2m0 10v1m0 2v2m1-137v8m0 52v3m0 2v3m0 24v4m0 3v8m0 2v6m0 7v1m1-124v1m0 3v10m0 3v2m0 16v5m0 23v1m0 5v4m0 9v2m0 3v16m0 2v5m0 3v5m1-113v3m0 4v2m0 21v5m0 29v2m0 26v6m0 33v1m1-180v2m0 44v2m0 9v3m0 2v3m0 3v2m0 3v2m0 6v2m0 26v3m0 2v6m0 5v2m0 55v1m1-141v1m0 7v5m0 2v3m0 2v6m0 2v3m0 2v3m0 8v2m0 20v1m0 4v1m0 11v2m0 1v4m0 24v3m0 2v3m0 5v3m1-123v6m0 2v3m0 2v6m0 2v2m0 3v3m0 8v2m0 37v2m0 3v4m1-90v2m0 5v6m0 5v6m0 2v8m0 55v2m0 9v9m0 8v3m0 5v3m0 2v3m1-179v1m0 4v1m0 42v1m0 5v1m0 2v2m0 8v3m0 5v2m0 3v3m0 7v3m0 3v2m0 21v3m0 10v5m0 26v3m0 5v3m0 7v1m1-134v2m0 9v3m0 5v5m0 3v2m0 3v3m0 7v8m0 21v3m0 10v3m0 28v3m0 13v2m0 3v1m0 178v3m1-322v1m0 1v2m0 2v1m0 6v7m0 3v21m0 2v3m0 16v3m0 15v2m0 6v5m0 10v3m0 2v3m0 205v3m1-360v1m0 41v1m0 10v5m0 11v5m0 3v5m0 2v3m0 16v5m0 10v15m0 14v5m0 3v1m0 17v2m1-176v2m0 42v1m0 4v3m0 2v3m0 5v6m0 4v6m0 10v3m0 8v2m0 5v3m0 5v3m0 8v2m0 5v1m0 28v2m1-119v2m0 3v1m0 4v1m0 2v2m0 6v5m0 2v6m0 5v8m0 9v1m0 3v5m0 2v2m0 1v3m0 8v2m0 5v1m0 4v1m0 15v3m0 5v2m0 13v3m1-134v2m0 5v2m0 4v1m0 8v3m0 10v8m0 5v5m0 8v3m0 2v2m0 1v3m0 18v2m0 37v2m1-130v3m0 5v3m0 5v3m0 3v2m0 2v8m0 8v3m0 2v3m0 5v3m0 2v3m0 5v1m0 20v2m0 29v3m0 7v3m1-138v3m0 8v5m0 5v1m0 14v1m0 2v3m0 2v9m0 4v5m0 14v1m0 25v1m0 9v3m0 11v2m0 7v1m1-169v2m0 38v4m0 10v3m0 7v3m0 16v4m0 14v2m0 3v3m0 10v3m0 4v4m0 2v6m0 4v3m1-104v3m0 2v3m0 2v6m0 2v3m0 2v6m0 5v5m0 3v10m0 4v1m0 3v2m0 3v3m0 18v2m0 3v5m0 13v3m0 10v3m0 2v1m1-203v1m0 6v3m0 65v2m0 3v3m0 5v3m0 2v3m0 5v3m0 5v5m0 3v10m0 8v2m0 3v3m0 18v2m0 3v5m0 13v3m0 10v3m0 2v1m1-175v3m0 3v2m0 47v2m0 3v3m0 2v3m0 18v5m0 5v11m0 5v2m0 6v3m0 12v3m0 5v8m0 10v4m0 2v2m0 1v2m1-170v4m0 36v1m0 3v1m0 3v2m0 5v3m0 16v5m0 2v8m0 3v5m0 10v3m0 5v3m0 2v3m0 12v4m0 2v5m0 9v6m0 1v3m0 2v3m1-170v6m0 35v1m0 6v2m0 3v8m0 2v3m0 2v2m0 1v3m0 2v3m0 2v8m0 3v2m0 13v3m0 5v3m0 2v3m0 3v2m0 3v10m0 5v3m0 5v2m0 1v2m0 3v3m0 2v3m1-167v3m0 33v1m0 1v1m0 4v2m0 3v7m0 3v5m0 8v4m0 3v3m0 3v2m0 3v2m0 3v5m0 8v2m0 1v2m0 8v5m0 7v1m0 4v1m0 3v4m0 1v3m0 2v3m0 1v4m0 9v1m1-166v3m0 57v5m0 8v1m0 1v6m0 7v8m0 5v6m0 2v10m0 1v4m0 1v1m0 4v2m0 4v4m0 3v10m0 3v3m0 7v2m1-131v2m0 5v11m0 2v3m0 18v3m0 7v8m0 5v3m0 13v3m0 2v5m0 3v4m0 3v3m0 3v3m0 2v5m0 5v3m0 5v1m1-120v5m0 13v9m0 1v2m0 1v5m0 13v3m0 2v3m0 10v3m0 2v1m0 2v3m0 8v3m0 2v2m0 29v2m1-114v3m0 2v20m0 1v3m0 5v3m0 7v6m0 7v3m0 3v2m0 3v2m0 3v3m0 18v2m0 11v2m1-117v3m0 4v1m0 3v5m0 8v7m0 1v1m0 12v2m0 5v3m0 16v2m0 5v3m0 3v10m0 3v2m0 18v4m1-136v1m0 7v5m0 2v1m0 2v5m0 7v1m0 8v7m0 34v3m0 3v5m0 2v3m0 3v10m0 3v2m0 1v2m0 2v3m0 3v2m0 5v2m1-165v2m0 42v2m0 8v8m0 8v5m0 5v3m0 2v3m0 26v3m0 2v5m0 3v12m0 11v3m0 5v3m1-197v1m0 38v2m0 20v1m0 7v1m0 6v1m0 8v3m0 5v2m0 8v8m0 13v3m0 31v2m0 3v5m0 8v1m0 5v4m0 1v6m0 6v3m1-201v1m0 37v2m0 26v1m0 7v2m0 8v3m0 5v2m0 8v8m0 3v2m0 5v6m0 39v2m0 8v3m0 2v8m0 3v7m1-170v1m0 11v1m0 38v2m0 5v6m0 2v3m0 2v6m0 2v6m0 2v2m0 1v2m0 52v8m0 3v2m0 2v1m0 5v3m0 4v3m1-166v3m0 34v2m0 3v2m0 19v2m0 5v8m0 45v2m0 3v3m0 2v4m0 1v7m0 11v3m0 2v3m1-164v3m0 30v1m0 3v2m0 19v2m0 68v5m0 2v10m0 6v3m0 5v2m0 1v4m1-186v1m0 22v2m0 30v2m0 5v2m0 3v5m0 3v5m0 2v1m0 2v5m0 6v2m0 60v8m0 5v2m0 1v2m0 5v3m0 3v1m0 175v3m1-359v3m0 60v2m0 2v1m0 1v3m0 4v2m0 69v6m0 3v5m0 2v4m0 6v1m0 2v1m0 1v3m1-180v2m0 47v2m0 3v2m0 3v3m0 2v7m0 4v2m0 73v3m0 2v5m0 4v2m0 3v10m1-175v1m0 46v3m0 2v12m0 7v2m0 11v2m0 57v6m0 7v6m0 5v2m0 3v4m1-186v1m0 59v13m0 10v2m0 1v2m0 69v2m0 1v6m0 8v5m0 2v1m1-123v1m0 2v10m0 3v3m0 79v2m0 1v4m0 9v1m0 3v5m1-133v2m0 3v1m0 2v1m0 1v1m0 2v2m0 1v3m0 3v2m0 5v3m0 7v4m0 69v4m0 9v3m1-175v1m0 5v1m0 40v3m0 3v2m0 3v2m0 3v3m0 2v8m0 8v2m0 24v2m0 47v3m0 1v9m0 8v2m1-133v1m0 5v8m0 4v4m0 2v3m0 65v3m0 22v1m0 3v1m0 1v3m0 1v1m0 3v3m1-124v4m0 3v4m0 1v4m0 66v3m0 23v1m0 2v1m0 1v3m0 2v2m0 1v3m0 1v1m0 174v3m1-306v1m0 6v14m0 86v7m0 9v1m0 3v4m1-137v4m0 6v3m0 5v5m0 3v1m0 2v2m0 5v3m0 23v3m0 26v5m0 3v2m0 16v3m0 2v1m0 8v2m1-128v3m0 2v13m0 3v1m0 2v2m0 5v3m0 23v3m0 27v2m0 5v2m0 16v2m0 11v3m0 2v2m1-124v7m0 3v6m0 2v2m0 1v3m0 5v2m0 21v3m0 7v3m0 42v7m0 1v10m1-190v1m0 56v5m0 3v14m0 4v3m0 2v3m0 23v3m0 3v2m0 13v3m0 8v2m0 24v2m0 3v2m0 3v8m1-133v3m0 5v3m0 3v10m0 2v3m0 10v3m0 15v3m0 3v2m0 13v3m0 8v2m0 25v2m0 5v10m1-190v2m0 51v1m0 21v8m0 5v2m0 76v3m0 10v3m0 3v2m0 3v1m1-125v2m0 7v1m0 5v2m0 3v2m0 23v1m0 2v3m0 72v1m1-136v1m0 12v1m0 7v8m0 3v2m1-49v2m0 25v7m0 2v8m0 34v3m0 2v2m0 39v1m0 23v5m1-223v1m0 83v1m0 4v23m0 2v5m0 26v6m0 64v3m1-128v6m0 5v12m0 66v3m0 13v1m0 20v2m0 3v2m1-136v1m0 3v5m0 5v8m0 2v3m0 5v2m0 74v2m1-110v1m0 2v6m0 3v2m0 3v8m0 18v2m0 6v2m0 78v3m1-177v3m0 46v6m0 7v3m0 8v2m0 3v3m0 89v2m0 14v1m1-187v3m0 42v2m0 2v3m0 8v10m0 3v2m0 3v3m0 88v3m0 8v2m0 2v1m0 163v3m1-306v2m0 5v3m0 2v11m0 111v4m0 4v1m0 160v3m1-286v3m0 15v3m0 86v2m0 7v6m0 1v1m1-220v2m0 80v1m0 8v5m0 3v2m0 5v1m0 97v1m0 8v5m1-223v2m0 4v1m0 78v3m0 3v5m0 2v6m0 7v1m0 59v3m0 35v13m1-226v1m0 4v1m0 3v1m0 4v2m0 77v2m0 7v10m0 11v5m0 90v1m0 6v2m1-218v2m0 3v1m0 77v1m0 2v2m0 5v10m0 14v2m0 89v5m0 3v1m1-223v1m0 7v1m0 79v4m0 2v3m0 114v5m1-215v2m0 88v1m0 5v5m0 2v1m0 109v1m0 4v5m0 2v1m1-125v1m0 4v1m0 2v2m0 50v2m1-68v3m0 11v2m0 3v2m1-15v5m0 16v1m0 100v1m1-128v2m0 3v3m0 5v2m1-15v2m0 3v3m0 5v2m0 60v3m0 41v3m0 3v2m1-184v2m0 54v3m0 3v3m0 10v3m0 104v2m1-131v1m0 3v2m0 3v1m0 2v2m0 109v3m1-122v2m0 110v2m0 5v3m1-216v3m0 91v2m0 6v10m0 42v2m0 59v1m0 3v5m1-219v3m0 23v3m0 62v8m0 8v3m0 78v5m0 17v1m1-209v1m0 23v3m0 62v3m0 3v2m0 89v5m0 15v3m1-218v2m0 6v2m0 39v3m0 42v12m0 3v2m0 3v1m1-80v1m0 2v1m0 5v6m0 44v4m0 3v5m0 3v5m0 18v3m0 51v1m0 4v1m0 5v3m0 43v1m1-149v1m0 2v6m0 3v4m0 21v3m0 49v3m0 10v3m0 15v6m0 21v7m1-252v3m0 45v1m0 47v3m0 15v1m0 72v3m0 5v3m0 28v3m0 11v12m1-203v3m0 47v2m0 4v2m0 3v7m0 122v1m0 15v2m1-215v2m0 3v2m0 3v3m0 2v2m0 38v2m0 2v3m0 3v2m0 117v3m0 15v3m0 10v2m1-254v8m0 34v2m0 3v3m0 2v3m0 38v1m0 2v3m0 3v2m0 4v1m0 112v3m0 6v7m0 2v3m0 10v3m1-218v5m0 5v5m0 44v3m0 3v1m0 35v3m0 80v3m0 2v6m0 2v5m0 3v5m1-210v2m0 63v7m0 3v3m0 7v6m0 10v3m0 5v2m0 1v5m0 7v3m0 91v4m1-222v2m0 54v3m0 6v1m0 22v3m0 10v5m0 3v8m0 7v3m0 47v2m0 3v3m0 5v2m0 29v3m1-216v1m0 64v2m0 13v3m0 10v4m0 4v3m0 23v3m0 44v3m0 7v3m0 5v3m1-145v10m0 5v5m0 8v2m0 11v2m0 13v3m0 5v1m0 2v2m0 6v2m0 35v2m0 10v3m0 31v2m0 6v1m1-163v6m0 5v5m0 8v2m0 11v2m0 11v5m0 5v5m0 6v4m0 45v3m0 11v2m0 18v2m0 6v3m1-256v3m0 91v3m0 1v5m0 1v5m0 1v1m0 21v1m0 3v7m0 3v5m0 37v2m0 52v3m0 2v3m1-257v2m0 5v6m0 44v2m0 45v15m0 26v5m0 8v5m0 6v2m0 5v3m0 18v3m0 5v3m0 2v3m0 2v3m0 13v3m0 10v3m0 5v5m0 3v2m1-255v6m0 23v2m0 19v2m0 49v8m0 1v2m0 34v10m0 6v5m0 2v5m0 1v2m0 13v3m0 15v2m0 14v3m0 10v3m0 7v3m0 3v2m1-267v1m0 1v3m0 10v3m0 13v2m0 18v3m0 49v4m0 7v7m0 14v2m0 8v3m0 7v16m0 8v5m0 39v3m0 18v8m0 2v5m1-254v5m0 5v2m0 84v5m0 8v2m0 3v5m0 13v3m0 5v21m0 2v8m0 3v2m0 3v3m0 5v2m0 6v2m0 16v2m0 28v1m0 13v3m1-264v1m0 8v5m0 3v1m0 32v3m0 47v2m0 8v5m0 2v2m0 2v2m0 21v8m0 2v6m0 5v5m0 3v2m0 3v2m0 3v3m0 2v5m0 32v2m0 3v5m1-226v5m0 3v4m0 29v3m0 47v2m0 8v8m0 3v2m0 5v3m0 3v5m0 5v8m0 2v6m0 23v10m0 32v2m0 3v5m0 31v2m1-267v5m0 5v3m0 1v2m0 5v2m0 24v2m0 3v3m0 49v1m0 2v5m0 8v2m0 5v2m0 1v5m0 4v1m0 2v1m0 13v4m0 12v5m0 8v2m0 11v2m0 3v2m0 11v11m0 4v2m0 6v3m0 12v1m0 5v5m1-263v1m0 5v8m0 28v3m0 2v3m0 5v3m0 37v4m0 8v8m0 3v2m0 3v15m0 3v24m0 5v2m0 5v3m0 3v2m0 3v5m0 23v6m0 2v3m0 28v3m1-252v2m0 2v4m0 28v3m0 3v2m0 5v3m0 40v1m0 8v3m0 5v3m0 5v15m0 3v21m0 2v3m0 3v2m0 9v4m0 3v5m0 23v6m0 2v3m0 27v2m0 2v8m1-263v2m0 59v1m0 35v2m0 5v3m0 2v8m0 3v2m0 11v2m0 3v3m0 7v3m0 8v4m0 6v3m0 5v3m0 39v2m0 13v2m0 14v13m1-245v3m0 36v3m0 49v2m0 4v5m0 8v2m0 3v8m0 2v3m0 2v3m0 10v1m0 7v5m0 3v5m0 3v4m0 18v1m0 24v2m0 24v3m1-263v1m0 19v3m0 36v2m0 34v1m0 8v2m0 13v3m0 8v2m0 3v4m0 1v3m0 2v3m0 10v9m0 4v3m0 8v1m0 4v2m0 19v2m0 5v3m0 8v2m0 3v5m0 21v5m1-249v1m0 90v5m0 2v3m0 3v9m0 1v2m0 1v2m0 5v6m0 10v16m0 2v3m0 2v6m0 5v3m0 23v2m0 26v3m0 13v5m1-262v2m0 37v2m0 61v4m0 11v5m0 15v3m0 5v3m0 2v1m0 2v13m0 3v2m0 5v6m0 28v5m0 36v1m0 5v3m1-260v2m0 32v2m0 63v10m0 26v5m0 10v3m0 3v2m0 3v5m0 3v2m0 8v3m0 26v7m0 25v4m0 5v3m0 5v3m1-255v2m0 29v3m0 18v2m0 1v2m0 34v2m0 4v2m0 7v3m0 18v3m0 2v3m0 5v3m0 8v2m0 11v2m0 1v6m0 28v4m0 3v4m0 1v1m0 4v5m0 4v2m0 2v3m0 2v6m0 5v11m1-234v2m0 2v8m0 3v2m0 13v2m0 40v3m0 2v3m0 2v2m0 27v3m0 2v3m0 2v1m0 5v10m0 5v3m0 2v1m0 5v2m0 16v2m0 3v3m0 2v3m0 2v3m0 10v3m0 3v2m0 3v2m0 6v7"/>
<path stroke="#0066ff" d="M0 0m170 323v13m0 2v3m0 3v5m0 2v2m0 1v1m0 15v2m0 291v3m1-343v6m0 2v2m0 8v5m0 3v10m0 3v2m0 299v3m1-339v1m0 8v2m0 1v5m0 2v3m0 2v3m0 8v2m0 3v3m0 2v1m0 20v1m0 269v3m1-347v14m0 6v12m0 6v13m0 1v1m0 2v1m0 11v2m0 5v3m0 2v1m0 4v1m0 259v3m1-355v7m0 2v18m0 3v8m0 2v13m0 3v1m0 2v3m0 17v3m0 5v3m0 262v3m1-355v1m0 3v19m0 2v13m0 8v4m0 11v1m0 17v3m0 5v1m0 264v3m1-359v3m0 8v10m0 10v6m0 2v11m0 7v3m0 29v2m0 30v1m0 234v3m1-362v2m0 6v2m0 4v2m0 11v1m0 1v5m0 8v8m0 2v3m0 1v2m0 301v3m1-361v1m0 12v2m0 13v5m0 11v9m0 2v2m0 301v3m1-364v1m0 1v7m0 2v5m0 7v6m0 23v3m0 2v2m0 302v3m1-362v1m0 1v1m0 3v2m0 18v1m0 2v3m0 5v14m0 4v1m0 68v3m0 232v3m1-354v3m0 3v2m0 3v2m0 5v1m0 2v3m0 18v8m0 301v3m1-343v3m0 2v2m0 11v5m0 3v5m0 3v2m0 29v2m0 1v5m0 267v3m1-346v3m0 2v6m0 5v5m0 7v7m0 12v3m0 293v3m1-346v3m0 2v3m0 1v2m0 2v1m0 1v6m0 8v7m0 6v2m0 3v1m0 1v3m0 27v1m0 263v3m1-351v3m0 12v3m0 1v2m0 1v4m0 10v2m0 1v2m0 38v2m0 267v3m1-348v1m0 4v2m0 3v1m0 2v2m0 6v2m0 3v2m0 3v8m0 2v5m0 3v8m0 288v3m1-338v3m0 2v8m0 11v5m0 2v4m0 5v2m0 2v3m0 21v3m0 264v3m1-349v1m0 18v2m0 16v3m0 2v3m0 5v3m0 28v5m0 260v3m1-352v1m0 1v2m0 39v6m0 1v6m0 10v2m0 49v1m0 231v3m1-351v3m0 19v1m0 3v6m0 7v3m1-41v2m0 2v2m0 3v2m0 14v2m0 12v2m1-19v3m0 16v3m0 20v3m0 15v3m0 1v1m1-87v2m0 4v1m0 13v1m0 1v5m0 14v1m0 1v1m0 3v1m0 34v3m0 44v2m1-132v1m0 1v1m0 18v1m0 1v5m0 14v3m0 4v1m0 32v4m0 44v3m1-128v3m0 23v3m0 10v1m0 2v2m0 34v3m1-84v1m0 7v3m0 10v10m0 8v1m0 2v5m0 3v2m0 1v5m0 2v6m0 18v2m1-89v6m0 5v3m0 13v8m0 5v3m0 2v5m0 13v3m0 22v1m1-90v5m0 23v5m0 3v3m0 5v1m0 1v5m0 3v3m0 2v1m0 2v2m0 255v4m1-293v3m0 11v2m0 1v9m0 1v5m0 27v1m1-59v2m0 11v2m0 1v2m0 1v7m0 5v2m0 25v1m0 3v1m1-66v2m0 3v3m0 2v3m0 3v2m0 3v13m0 5v5m0 18v5m1-62v8m0 5v4m0 1v3m0 3v5m0 13v1m0 1v1m0 11v1m0 260v3m1-323v1m0 4v11m0 3v2m0 3v3m0 2v3m0 2v3m0 3v2m0 18v5m0 224v4m0 27v3m1-322v15m0 2v2m0 4v5m0 3v2m0 3v3m0 2v3m0 15v3m0 3v2m0 252v3m1-320v4m0 1v6m0 13v2m0 3v8m0 2v5m0 13v6m0 2v1m0 251v3m1-322v5m0 13v6m0 10v5m0 2v3m0 16v5m0 223v4m0 27v3m1-322v5m0 13v8m0 5v8m1-47v2m0 8v2m0 3v6m0 2v3m0 8v2m0 5v11m0 17v4m1-65v2m0 3v2m0 3v3m0 5v5m0 3v2m0 3v2m0 3v3m0 2v3m0 275v3m1-322v7m0 12v4m0 3v5m0 5v3m0 2v3m0 2v5m0 1v1m0 13v1m0 252v3m1-313v6m0 6v5m0 5v2m0 3v3m0 7v3m0 14v1m1-64v2m0 2v3m0 11v7m0 1v2m0 5v4m0 25v2m0 1v3m1-73v2m0 3v2m0 2v3m0 16v6m0 4v6m0 2v5m0 17v2m0 1v3m0 250v3m1-309v2m0 10v6m0 8v2m0 8v3m0 12v1m0 4v4m1-71v3m0 7v6m0 7v1m0 5v8m0 7v3m0 18v3m1-71v1m0 2v2m0 5v1m0 3v7m0 5v1m0 5v8m0 7v3m0 15v1m0 1v4m0 249v3m1-312v1m0 2v10m0 1v2m0 5v2m0 16v3m0 13v2m0 3v1m0 1v3m1-70v2m0 3v3m0 4v4m0 2v8m0 2v6m0 28v4m1-58v2m0 2v1m0 2v3m0 2v8m0 3v4m0 26v1m0 4v1m0 247v3m1-309v2m0 5v13m0 3v3m0 27v1m0 2v2m1-70v4m0 2v4m0 2v2m0 3v1m0 4v16m0 28v2m0 250v3m1-310v1m0 7v8m0 5v3m0 36v1m1-55v5m0 8v3m0 2v3m0 31v2m1-65v5m0 1v2m0 4v4m0 3v2m0 8v1m0 2v1m0 29v1m0 1v1m1-65v5m0 2v1m0 26v3m0 25v3m0 247v3m1-311v2m0 1v1m0 26v3m0 25v3m0 247v3m1-309v2m0 16v2m0 14v2m0 5v2m0 3v2m0 4v2m0 5v2m1-61v2m0 13v3m0 8v1m0 6v3m0 2v3m0 3v2m0 8v3m1-56v1m0 13v3m0 15v3m0 1v4m0 3v3m0 7v3m0 249v3m1-308v4m0 28v11m0 2v3m0 4v2m0 4v2m0 245v3m1-309v2m0 21v3m0 7v1m0 2v2m0 2v4m0 2v3m0 8v2m0 247v3m1-310v1m0 2v2m0 27v5m0 8v2m0 6v4m0 3v2m0 214v4m1-278v3m0 27v2m0 3v3m0 5v2m0 7v4m0 2v3m1-62v2m0 24v7m0 6v7m0 1v2m0 8v2m0 1v2m1-39v5m0 3v2m0 3v8m0 13v1m0 2v2m1-39v5m0 3v2m0 3v8m0 14v1m0 3v1m1-61v2m0 26v1m0 5v2m0 18v1m0 1v3m1-59v3m0 19v4m0 1v2m0 8v2m0 17v2m1-58v3m0 21v2m0 29v2m1-59v2m0 3v2m0 21v5m0 24v3m1-58v3m0 31v3m0 18v1m1-57v4m0 2v5m0 16v3m0 5v3m0 17v2m1-53v2m0 2v3m0 1v1m0 17v5m0 22v1m1-57v3m0 5v3m0 23v3m0 18v3m1-58v3m0 5v3m0 18v5m0 3v2m0 15v2m1-55v2m0 2v6m0 2v2m0 14v5m0 3v1m0 4v3m0 2v1m0 6v4m1-53v7m0 25v5m0 18v2m1-64v1m0 4v5m0 3v3m0 13v5m0 7v3m0 6v2m0 6v6m0 1v1m1-65v1m0 3v2m0 8v3m0 10v5m0 8v3m0 1v1m0 3v5m0 3v2m0 3v2m1-57v8m0 5v3m0 5v1m0 2v2m0 3v8m0 2v3m0 3v2m0 12v1m1-64v2m0 2v3m0 3v5m0 2v3m0 4v4m0 9v1m0 11v11m1-62v4m0 2v3m0 3v5m0 2v1m0 9v1m0 5v5m0 3v5m0 15v6m1-65v2m0 11v10m0 1v2m0 2v6m0 2v3m0 11v2m0 5v3m0 7v6m0 3v2m1-57v2m0 3v5m0 8v5m0 3v2m0 3v1m0 1v3m0 6v4m1-60v1m0 3v2m0 8v2m0 4v4m0 3v2m0 5v3m0 8v4m1-54v3m0 5v5m0 3v1m0 17v3m0 5v1m0 6v1m0 1v3m0 12v3m0 2v2m0 226v3m1-296v5m0 2v6m0 6v1m0 8v3m0 2v3m0 5v3m0 1v4m0 16v5m0 2v3m1-86v1m0 2v5m0 3v5m0 2v6m0 15v3m0 2v6m0 5v1m0 25v2m1-75v3m0 13v1m0 9v3m0 15v3m0 2v3m0 18v5m1-67v8m0 2v2m0 11v3m0 14v3m0 16v1m0 2v3m0 4v5m0 1v5m0 208v3m1-302v11m0 5v3m0 2v1m0 8v4m0 5v6m0 2v4m0 25v2m0 5v1m0 5v1m0 209v3m1-301v1m0 1v8m0 5v3m0 2v1m0 9v3m0 8v3m0 2v5m0 24v5m0 218v3m1-303v1m0 8v5m0 6v2m0 3v2m0 6v2m0 11v5m0 39v1m0 8v1m0 200v3m1-304v2m0 6v5m0 3v2m0 16v5m0 5v5m0 3v2m0 32v1m0 1v2m0 211v3m1-298v7m0 2v3m0 18v5m0 3v5m0 3v5m0 29v5m0 2v1m0 207v3m1-300v1m0 5v3m0 5v2m0 6v2m0 6v3m0 2v11m0 4v3m0 1v4m0 16v2m0 11v1m0 11v1m1-99v5m0 5v3m0 8v2m0 5v1m0 1v1m0 2v1m0 2v3m0 5v8m1-56v1m0 3v5m0 5v3m0 8v2m0 3v5m0 1v2m0 2v6m0 2v3m0 2v2m0 22v2m0 13v1m1-86v7m0 6v2m0 3v1m0 7v2m0 5v3m0 3v3m0 2v7m0 35v1m1-80v6m0 26v2m0 3v5m0 21v2m0 13v2m1-82v8m0 23v3m0 5v2m0 1v2m0 37v1m1-82v4m0 30v2m0 3v1m0 1v1m0 5v1m0 43v1m1-94v4m0 3v5m0 22v2m0 1v4m0 2v1m0 2v3m1-48v3m0 3v5m0 16v2m0 1v8m0 46v1m0 204v3m1-289v2m0 4v2m0 21v7m0 44v1m0 205v3m1-289v13m0 3v3m0 2v3m0 5v5m1-28v2m0 23v4m0 45v2m1-74v3m0 8v1m0 12v4m1-36v3m0 5v3m0 5v5m1-21v8m0 31v2m0 38v1m1-82v5m0 35v1m0 40v1m1-81v1m0 3v6m0 12v3m0 11v2m0 42v1m1-80v1m0 1v6m0 18v3m0 8v1m1-37v7m0 30v2m1-41v7m0 2v5m0 24v2m1-37v1m0 5v3m0 10v3m0 14v1m1-39v3m0 5v5m0 8v3m0 17v3m1-36v5m0 3v5m0 21v2m1-36v6m0 7v3m0 13v3m0 10v2m1-52v6m0 15v1m0 7v3m0 46v3m1-78v3m0 5v2m0 16v3m0 7v1m0 2v1m0 33v5m1-78v5m0 5v3m0 8v2m0 3v3m0 2v3m1-37v3m0 8v7m0 5v1m0 5v8m0 2v3m0 3v2m0 16v8m0 215v3m1-287v1m0 8v5m0 13v5m0 1v2m0 2v3m0 3v2m0 3v2m1-49v3m0 2v8m0 8v7m0 3v2m0 1v10m0 3v2m1-50v1m0 5v5m0 3v8m0 10v3m0 8v2m0 9v4m0 3v2m0 4v4m1-62v2m0 3v5m0 3v2m0 8v2m0 3v3m0 10v13m0 3v5m1-62v4m0 6v3m0 7v11m0 3v2m0 11v2m0 5v3m0 10v2m1-82v2m0 8v3m0 2v8m0 8v5m0 3v1m0 7v2m0 5v2m0 4v2m0 11v2m0 5v3m1-73v3m0 2v8m0 8v8m0 2v6m0 2v1m0 2v2m0 6v2m0 6v5m0 2v5m0 177v4m1-253v2m0 8v3m0 1v1m0 3v8m0 5v8m0 2v5m0 3v4m0 4v2m0 3v3m0 4v7m1-84v8m0 5v2m0 1v18m0 2v3m0 5v5m0 2v3m0 11v2m0 3v3m0 2v3m1-73v3m0 5v7m0 1v13m0 2v3m0 5v3m0 1v1m0 3v2m0 6v5m0 2v3m0 5v3m0 210v3m1-276v6m0 2v3m0 2v3m0 5v16m0 8v2m0 3v1m0 9v5m1-75v3m0 2v3m0 2v8m0 3v7m0 8v3m0 1v4m0 18v1m1-58v10m0 4v2m0 2v3m0 12v6m0 3v2m0 9v2m0 5v3m1-69v1m0 5v11m0 5v5m0 5v20m0 9v2m0 3v3m0 13v2m1-80v7m0 3v5m0 3v9m0 3v1m0 1v9m0 11v7m1-62v3m0 18v2m0 7v4m0 2v5m0 2v1m0 5v3m0 5v5m0 3v3m0 2v5m1-65v3m0 7v3m0 8v3m0 2v6m0 13v1m0 1v8m0 3v7m0 208v3m1-283v2m0 5v8m0 3v2m0 3v1m0 2v2m0 4v1m0 6v5m0 2v8m0 3v2m0 221v3m1-286v5m0 8v3m0 1v9m0 3v2m0 3v2m0 8v3m0 5v1m0 2v2m0 18v3m1-75v3m0 7v3m0 22v1m0 3v6m0 27v2m1-69v2m0 13v3m0 8v2m0 3v3m0 2v3m1-51v4m0 3v7m0 3v5m0 3v2m0 6v2m0 8v3m0 5v2m1-46v2m0 3v2m0 3v5m0 3v2m0 11v5m0 1v2m0 5v2m0 234v3m1-287v4m0 2v3m0 2v3m0 5v5m0 3v8m0 39v2m0 208v3m1-290v1m0 3v1m0 4v3m0 2v6m0 10v2m0 1v2m0 1v3m1-32v2m0 3v4m0 17v4m0 42v3m1-76v3m0 3v2m0 21v3m0 41v2m0 206v3m1-286v1m0 9v3m0 10v10m0 3v3m0 236v3m0 5v3m1-284v1m0 2v3m0 2v8m0 3v2m0 3v3m0 2v2m0 242v3m0 5v3m1-281v3m0 2v8m0 3v1m0 6v3m0 1v4m0 247v3m1-283v5m0 2v6m0 2v3m0 5v3m0 254v3m1-281v11m0 5v2m0 1v1m0 2v2m0 1v4m1-18v7m0 5v5m1-27v7m0 5v3m0 6v2m1-21v2m0 3v10m1-15v2m0 3v3m0 2v4m0 3v1m1-21v3m0 2v6m0 10v2m0 3v1m1-22v3m0 4v3m0 6v3m1-25v1m0 5v3m0 3v3m0 2v1m0 2v1m1-20v8m0 5v2m0 6v4m1-12v3m0 8v1m1-22v5m0 3v4m0 10v1m1-21v3m0 3v4m1-17v2m0 5v3m0 3v3m0 1v1m1-30v6m0 6v3m0 2v5m0 1v2m0 33v3m1-59v4m0 6v2m0 3v5m0 5v3m1-31v1m0 2v2m0 2v3m0 8v2m0 6v3m1-28v1m0 3v2m0 3v5m0 5v3m0 3v1m0 1v2m0 11v1m1-37v2m0 3v5m0 5v3m0 3v5m0 10v1m1-42v2m0 4v1m0 2v1m0 1v2m0 2v3m0 2v3m0 2v3m0 13v1m1-35v3m1-3v3m0 23v1m0 259v3m1-279v1m1 12v1m1-6v1m0 2v2m1-23v1m0 20v2m0 1v1m0 261v3m1-286v3m0 18v2m0 229v4m1-244v1m0 239v4m0 27v3m1-275v2m0 270v3m1-273v3m0 5v1m0 2v1m0 3v3m0 252v3m1-3v3m1-296v2m0 13v3m0 8v2m0 265v3m1-294v3m0 5v3m0 5v10m0 10v1m0 223v4m0 27v3m1-289v3m0 8v10m0 265v3m2-294v1m0 2v5m0 13v3m1-36v2m0 13v2m0 13v3m1-18v2m0 8v8m1-19v1m0 5v3m0 2v4m0 4v5m1-37v1m0 18v3m0 2v1m1-6v5m0 3v5m0 3v2m1-38v1m0 42v2m1-29v1m0 1v2m0 14v4m1-42v2m0 23v2m0 5v2m1-32v3m0 19v5m0 3v2m1-20v2m0 3v2m0 6v2m1-14v4m0 5v3m1-13v2m0 8v3m0 13v2m1-38v3m0 9v11m0 7v4m0 2v2m0 1v1m1-47v2m0 17v1m0 1v9m0 2v8m0 3v2m1-35v1m0 8v11m0 2v13m0 4v1m1-40v1m0 20v1m0 3v2m0 3v3m0 13v1m1-39v1m0 2v1m0 2v3m0 10v1m0 2v5m0 8v2m0 1v1m1-51v1m0 10v5m0 10v3m0 8v2m1-38v1m0 9v5m0 3v2m0 5v3m0 8v1m0 10v1m1-23v3m0 2v3m0 5v1m1-19v3m0 10v3m0 10v4m1-43v3m0 10v3m1-27v1m0 2v1m0 17v8m0 8v5m1-25v7m0 3v2m0 5v3m0 3v3m1-37v1m0 7v5m0 2v3m0 3v2m0 5v3m0 3v2m1-35v1m0 8v3m0 2v3m0 13v4m1-25v11m0 13v2m1-26v11m0 5v2m0 3v5m1-44v1m0 14v2m0 1v5m0 3v1m0 2v2m0 3v9m1-29v2m0 2v8m0 16v1m1-30v1m0 1v1m0 5v4m1-4v2m0 6v2m1-13v1m0 51v5m0 3v3m1-69v2m0 2v7m0 14v2m0 3v2m1-2v2m0 31v1m1-58v3m0 48v1m1-64v3m0 4v1m0 1v1m0 27v1m0 25v4m0 5v4m0 1v2m1-85v1m0 12v3m0 10v3m0 13v2m0 22v2m0 1v4m0 1v4m1-66v1m0 8v2m0 44v2m0 1v3m0 5v3m0 2v3m1-82v3m0 24v3m0 33v1m0 5v2m0 5v1m0 2v2m0 1v1m1-62v1m0 6v2m0 44v5m1-77v4m0 5v1m0 18v5m0 30v4m0 2v3m0 3v2m0 3v4m1-54v3m0 29v2m0 11v2m0 3v1m1-56v3m0 5v6m0 24v1m0 8v3m0 7v1m1-68v2m0 6v10m0 3v2m0 29v2m0 3v3m0 10v1m1-64v8m0 3v5m0 3v1m0 22v4m0 9v1m1-54v1m0 3v2m0 3v3m0 2v3m0 21v5m0 5v5m0 3v2m1-49v3m0 28v3m0 5v5m0 3v2m1-59v2m0 13v1m0 25v5m0 6v1m0 4v1m1-83v1m0 34v5m0 30v1m0 2v1m0 5v3m1-84v1m0 13v2m0 21v6m0 38v1m1-75v1m0 16v3m0 7v6m0 31v1m0 2v5m1-62v2m0 15v2m0 37v8m1-65v3m0 5v5m0 5v3m0 36v3m0 3v1m1-59v3m0 3v2m0 3v5m0 29v2m0 5v3m0 5v1m1-72v3m0 4v2m0 2v1m0 7v8m0 28v8m1-60v1m0 2v1m0 1v1m0 2v3m0 5v1m0 36v7m0 3v2m1-75v2m0 3v2m0 9v8m0 2v3m0 36v13m1-80v3m0 11v1m0 3v5m0 3v10m0 5v3m0 22v1m0 11v2m1-78v3m0 4v1m0 8v2m0 8v7m0 6v2m0 29v6m1-73v1m0 33v2m0 29v2m0 3v6m1-70v2m0 2v3m0 21v2m0 28v9m1-68v2m0 19v2m0 6v2m0 30v4m0 5v1m1-68v1m0 17v2m0 6v2m0 29v4m0 4v1m0 1v2m0 4v1m1-83v3m0 21v13m0 24v7m0 3v7m1-70v1m0 14v3m0 9v2m0 26v3m0 2v3m1-48v3m0 9v2m0 26v3m0 4v2m1-68v2m0 18v5m0 3v5m0 2v1m0 22v1m0 3v5m0 3v2m1-49v2m0 6v1m1-15v1m0 10v7m1-12v5m0 5v5m0 26v3m0 3v1m1-63v2m0 10v8m0 2v1m0 28v1m0 7v3m0 228v3m1-291v2m0 8v3m0 2v8m0 3v1m0 261v3m1-292v1m0 5v6m0 9v1m0 2v2m0 21v1m0 10v3m0 228v3m1-283v5m0 15v1m0 28v3m1-50v5m0 6v4m1-33v1m0 5v3m0 22v3m0 21v2m0 3v2m0 3v1m1-35v3m0 23v5m0 3v3m1-60v1m0 7v2m0 16v2m0 19v4m0 1v4m0 4v1m0 1v1m1-62v1m0 6v2m0 37v5m0 1v4m0 3v4m1-55v1m0 1v4m0 32v13m1-56v1m0 5v3m0 5v3m0 26v2m0 5v3m0 3v2m1-64v2m0 10v5m0 3v2m0 1v5m0 16v1m0 4v2m0 5v3m0 2v2m1-71v2m0 14v2m0 3v4m0 6v2m0 32v5m0 2v2m1-41v7m1-40v2m0 8v2m0 13v2m0 6v3m0 29v2m1-52v1m0 9v3m0 3v2m0 38v1m1-36v2m0 34v2m1-43v2m0 39v2m0 224v3m1-286v1m0 15v2m0 38v3m1-46v1m0 1v1m0 2v2m0 263v3m2-251v1m1-23v1m0 1v1m1 0v5m1-18v3m0 277v3m1-278v2m0 3v3m1-11v3m0 1v2m0 2v1m1-8v2m0 2v1m1-11v1m0 7v2m1-1v1m1-2v2m1-9v4m0 3v3m0 2v1m1-11v2m0 3v2m0 3v1m1-11v7m1-5v3m1-3v1m0 2v5m1 18v2m1-29v1m1 8v3m1-11v3m0 8v2m0 265v3m1-278v2m0 4v4m0 265v3m4-3v3m2-267v1m0 9v2m0 252v3m3-3v3m1-261v1m5-9v1m0 9v3m0 253v3m1-3v3m1-270v2m2 265v3m1-3v3m1-3v3m3-270v1m2 266v3m1-3v3m9-264v1m13-1v1m2 24v2m0 3v5m1-31v5m0 16v2m0 3v5m1-34v3m0 10v3m0 10v3m0 2v1m0 228v3m1-265v2m0 3v8m0 13v10m0 226v3m1-265v10m0 3v5m0 3v2m0 3v11m1-40v5m0 6v2m0 2v9m0 2v3m0 2v4m1-30v6m0 7v6m0 5v8m1-33v1m0 3v3m0 7v6m0 5v10m1-36v5m0 3v2m0 3v8m0 5v5m1-34v11m0 13v5m0 5v1m1-27v3m0 13v5m0 5v2m2-16v1m0 3v2m1-18v3m0 1v8m0 1v5m0 3v2m1-26v3m0 3v2m0 5v3m0 3v2m1-18v3m0 5v1m0 1v3m0 3v1m1-20v6m0 10v3m0 5v2m0 3v2m1-31v8m0 16v2m1-24v4m0 2v6m0 5v2m0 11v2m1-34v6m0 1v6m0 8v3m0 5v2m1-30v2m0 3v2m0 21v3m1-24v5m0 4v2m0 7v6m1-8v2m1-2v2m0 3v5m1-13v3m0 2v3m0 3v2m1-19v1m0 10v3m0 3v5m1-73v1m0 61v3m0 3v5m1-3v3m0 223v3m1-250v3m0 14v2m0 2v5m0 221v3m1-260v3m0 7v3m0 8v2m0 8v1m1-22v3m0 3v4m0 1v2m0 8v3m1-29v3m0 5v3m0 2v1m0 2v5m0 3v6m1-74v3m0 36v3m0 2v5m0 3v5m0 3v1m0 1v3m1-60v4m0 43v2m0 16v2m1-64v2m0 42v5m0 3v2m0 3v3m0 2v3m1-72v7m0 32v2m0 2v5m0 3v5m0 5v3m0 2v1m1-67v4m0 35v2m0 2v5m0 3v2m0 1v2m0 5v7m1-66v2m0 2v3m0 34v5m0 1v8m0 2v1m0 4v3m1-59v1m0 3v6m0 23v1m0 9v10m0 5v1m0 2v3m1-64v1m0 5v4m0 22v3m0 8v10m0 3v3m0 1v1m1-52v3m0 2v1m0 25v2m0 1v3m0 5v5m0 3v2m1-74v1m0 11v1m0 26v1m0 8v3m0 9v1m0 8v3m1-52v2m0 3v2m0 3v2m0 4v1m0 1v4m0 6v3m0 8v5m1-65v3m0 18v2m0 3v2m0 11v2m0 32v4m0 224v3m1-290v9m0 11v8m0 30v1m1-63v2m0 1v1m0 4v5m0 8v3m0 2v2m0 24v3m0 2v3m1-57v10m0 8v3m0 2v3m1-25v1m0 13v3m0 3v2m0 24v1m1-52v4m0 18v3m0 26v2m1-54v2m0 9v2m0 7v1m0 2v3m0 2v5m0 8v3m0 2v3m0 3v2m1-48v1m0 8v3m0 5v5m0 14v2m0 2v3m0 244v3m1-302v1m0 28v5m0 5v8m0 5v6m0 241v3m1-300v1m0 29v2m0 5v8m0 5v5m0 242v3m1-283v10m0 3v5m0 8v2m0 252v3m1-286v10m0 3v3m0 2v5m0 8v3m0 13v2m0 6v1m0 227v3m1-302v1m0 17v1m0 1v4m0 5v3m0 2v5m0 8v3m0 6v2m0 5v5m0 3v2m0 226v3m1-300v1m0 1v4m0 11v2m0 8v8m0 8v1m0 4v2m0 4v2m0 5v5m1-67v2m0 13v1m0 1v1m0 12v1m0 2v5m0 21v3m0 2v1m0 2v3m0 5v1m1-73v2m0 25v2m0 4v1m0 1v6m0 6v1m0 3v8m0 5v5m0 3v2m1-46v2m0 16v2m0 3v3m0 2v5m0 3v5m1-47v3m0 8v5m0 13v3m0 10v10m1-64v2m0 23v3m0 13v3m0 5v2m1-60v1m0 9v1m0 23v3m0 10v8m0 5v3m0 1v2m0 5v2m1-57v3m0 2v3m0 26v4m0 1v11m0 2v4m1-73v1m0 4v1m0 8v1m0 20v3m0 1v4m0 3v2m0 3v5m0 11v5m1-74v1m0 11v3m0 2v2m0 8v3m0 7v8m0 3v2m0 3v5m0 7v4m0 2v8m1-60v11m0 17v3m0 3v6m0 4v11m1-61v3m0 3v8m0 1v4m0 3v2m0 6v7m0 6v2m0 8v3m0 2v5m1-49v5m0 3v2m0 6v10m0 3v2m0 3v2m0 6v7m0 3v2m1-67v2m0 6v15m0 7v6m0 11v10m0 3v7m1-69v1m0 6v3m0 2v1m0 2v8m0 5v3m0 2v8m0 10v6m0 2v6m1-55v7m0 1v2m0 4v1m0 3v5m0 3v5m0 10v6m0 2v8m1-58v1m0 5v5m0 3v4m0 1v1m0 4v3m0 2v3m0 3v5m0 8v2m1-58v1m0 8v10m0 1v10m0 7v11m0 2v6m0 2v3m0 2v3m1-76v2m0 16v3m0 3v3m0 2v3m0 2v6m0 2v8m0 3v7m0 3v3m0 5v2m1-67v2m0 5v1m0 3v4m0 3v3m0 2v3m0 2v1m0 2v5m0 1v4m0 2v1m0 3v22m1-64v2m0 6v8m0 2v13m0 3v2m0 11v2m0 3v3m0 4v3m1-73v1m0 11v4m0 13v7m0 14v3m0 2v1m0 7v8m0 1v1m0 1v2m0 218v3m1-293v2m0 23v9m0 2v5m0 2v6m0 2v3m0 2v11m0 5v3m0 215v3m1-270v2m0 5v3m0 3v2m0 16v2m0 8v10m0 216v3m1-291v2m0 16v3m0 1v17m0 2v3m0 5v5m0 11v2m0 3v4m0 214v3m1-291v1m0 12v2m0 3v3m0 5v5m0 3v5m0 2v4m0 4v5m0 11v1m1-48v3m0 2v12m0 6v3m0 16v2m1-51v2m0 4v1m0 1v2m0 7v8m0 3v2m0 11v2m0 3v3m0 7v3m1-67v2m0 14v2m0 7v7m0 4v2m0 11v2m0 3v3m0 7v2m0 6v2m1-75v2m0 5v1m0 10v6m0 2v11m0 2v6m0 5v5m0 3v2m0 5v2m1-51v3m0 2v5m0 2v4m0 5v2m0 16v3m0 2v2m1-59v2m0 10v1m0 5v3m0 2v3m0 5v3m0 2v6m1-42v3m0 15v9m0 4v3m0 2v3m1-31v2m0 3v3m0 7v8m0 5v6m0 18v2m1-51v5m0 7v2m0 1v3m0 41v3m1-61v4m0 7v1m0 2v1m0 41v2m1-72v1m0 2v2m0 10v11m0 12v6m0 2v3m0 5v3m0 10v3m1-68v1m0 20v2m0 1v7m0 39v4m1-56v10m0 1v2m0 8v3m0 28v5m1-60v1m0 1v2m0 10v2m0 3v2m0 6v5m0 15v3m0 5v3m1-60v1m0 2v4m0 1v2m0 19v2m0 21v3m0 5v2m1-62v6m0 2v2m0 8v2m0 9v2m0 29v2m1-68v1m0 11v2m0 3v5m0 18v2m0 3v3m0 15v5m1-63v6m0 3v5m0 5v5m0 11v5m0 5v3m0 223v3m1-276v1m0 4v1m0 2v1m0 2v5m0 5v5m0 11v5m0 5v3m0 9v1m1-52v18m0 8v3m0 5v3m0 2v2m0 1v2m0 6v2m1-67v2m0 5v3m0 1v1m0 2v4m0 2v1m0 5v5m0 8v1m0 17v2m0 6v9m1-60v4m0 8v8m0 5v2m0 5v8m0 5v3m0 3v5m1-52v2m0 8v5m0 6v2m0 16v2m1-44v3m0 28v3m0 3v2m0 3v5m0 8v2m1-58v1m0 4v1m0 13v1m0 10v5m0 3v7m1-41v8m0 22v1m0 5v5m1-33v2m0 8v3m0 6v1m0 6v5m1-34v3m0 26v4m0 1v4m1-38v3m0 13v2m0 11v6m0 222v3m1-278v2m0 12v1m0 3v3m0 7v3m0 244v3m1-269v6m0 6v5m0 13v2m0 6v2m0 8v1m0 217v3m1-266v1m0 1v4m0 3v4m0 6v3m0 5v2m0 6v5m0 2v6m0 5v2m1-56v7m0 3v2m0 3v5m0 5v3m0 10v3m0 8v2m0 2v3m1-55v1m0 2v6m0 2v5m0 3v2m0 6v2m1-27v4m0 3v2m0 5v3m0 23v3m0 3v2m1-48v4m0 3v1m0 5v4m0 23v8m1-45v1m0 3v2m0 5v6m1-20v1m0 3v16m0 2v3m0 5v3m0 6v1m0 16v3m1-55v21m0 5v3m0 6v1m0 16v3m1-60v2m0 6v2m0 3v7m0 1v2m0 11v2m0 3v5m1-41v2m0 5v3m0 5v15m0 14v2m0 3v2m1-44v3m0 5v16m0 13v2m0 3v2m1-52v3m0 3v10m0 3v7m0 13v6m0 5v1m0 1v3m0 205v3m1-256v1m0 11v15m0 8v3m0 2v2m0 15v1m0 195v3m1-236v2m0 3v2m0 8v3m0 2v1m1-47v2m0 8v2m0 3v3m0 13v5m0 2v3m1-36v2m0 8v3m0 15v3m0 2v3m0 3v5m0 2v2m1-18v1m0 10v3m0 2v3m0 3v2m0 200v3m1-260v3m0 7v10m0 19v3m0 2v5m0 3v3m0 202v3m1-261v9m0 5v5m0 18v11m0 5v3m0 6v1m0 1v1m1-69v7m0 3v5m0 21v3m0 5v2m0 1v5m0 1v1m0 1v2m0 8v1m1-64v3m0 5v5m0 11v2m0 8v3m0 5v10m0 1v2m0 3v2m0 3v1m1-63v2m0 3v10m0 10v1m0 5v2m0 5v3m0 5v3m0 13v1m1-65v7m0 6v1m0 8v3m0 18v5m0 11v2m1-59v7m0 3v2m0 6v1m0 1v3m0 5v3m0 10v5m0 3v5m0 3v5m1-53v1m0 2v3m0 3v5m0 13v1m0 9v5m0 8v3m0 197v3m1-239v2m0 8v3m0 10v3m0 2v3m0 3v2m1-48v1m0 1v2m0 5v2m0 1v2m0 7v9m0 5v3m0 2v2m0 4v2m1-53v1m0 3v2m0 2v1m0 13v1m0 7v2m0 6v2m0 8v3m0 2v3m1-57v2m0 3v2m0 11v2m0 13v3m0 5v3m0 5v3m1-56v6m0 3v4m0 1v1m0 7v2m0 8v8m0 5v3m0 10v4m0 196v3m1-257v2m0 1v2m0 21v2m0 3v2m0 3v3m0 2v3m1-31v2m0 6v2m0 8v8m0 5v2m1-48v12m0 18v7m1-36v11m0 21v1m1-30v4m0 1v6m0 2v5m0 13v6m1-39v2m0 3v5m0 3v5m0 5v3m0 2v3m1-30v1m0 3v8m0 2v3m0 5v3m0 2v3m1-31v6m0 13v1m0 22v2m0 5v1m1-48v4m0 1v8m0 3v2m0 3v5m0 17v1m1-44v2m0 1v1m0 1v8m0 3v2m0 3v5m0 16v2m0 6v2m0 200v3m1-260v3m0 2v11m0 7v3m0 23v6m0 2v1m0 199v3m1-257v2m0 2v1m0 10v3m0 236v3m1-260v2m0 1v2m0 3v2m0 2v9m0 5v2m0 1v1m0 10v4m0 5v2m1-54v2m0 1v5m0 6v5m0 5v2m0 3v3m0 2v5m0 6v2m0 3v2m0 3v5m1-62v2m0 1v1m0 3v1m0 2v3m0 2v3m0 3v2m0 3v2m0 21v3m0 2v6m0 3v2m1-65v2m0 8v3m0 4v1m0 3v2m0 3v2m0 8v2m0 5v1m0 5v3m0 8v2m1-65v1m0 4v3m0 8v2m0 4v2m0 2v3m0 2v3m0 5v5m0 5v3m0 3v2m0 3v3m1-64v1m0 11v1m0 6v4m0 1v1m0 2v3m0 2v3m0 13v5m0 3v2m0 3v3m0 2v3m1-68v3m0 5v5m0 1v2m0 5v3m0 13v10m0 3v2m0 3v2m0 2v1m0 1v2m1-66v1m0 2v2m0 8v3m0 2v1m0 5v8m0 2v8m0 3v5m0 3v2m0 3v8m1-65v1m0 3v1m0 2v2m0 5v1m0 2v1m0 1v4m0 3v10m0 3v5m0 8v2m0 5v3m1-39v5m0 3v3m0 2v3m0 7v10m0 1v2m0 3v3m0 5v5m1-78v3m0 10v2m0 24v3m0 7v3m0 3v3m0 2v2m0 3v3m0 5v2m1-74v2m0 12v3m0 3v2m0 3v6m0 2v5m0 5v3m0 2v5m0 3v3m1-61v1m0 3v1m0 7v2m0 1v4m0 11v10m0 5v3m1-48v1m0 3v1m0 7v7m0 13v11m0 2v3m0 26v2m0 195v3m1-252v15m0 3v6m0 4v3m0 218v3m1-260v3m0 2v5m0 6v10m0 8v1m0 222v3m1-260v3m0 2v3m0 2v3m0 8v5m0 5v1m0 2v2m1-37v1m0 14v2m0 2v3m0 5v8m0 7v6m1-48v3m0 2v1m0 1v2m0 8v5m0 2v6m0 13v2m0 3v5m0 1v12m1-64v3m0 4v10m0 1v2m0 2v6m0 13v7m0 8v3m0 2v3m1-63v3m0 1v12m0 3v9m0 6v13m0 8v3m0 2v2m0 193v3m1-256v4m0 2v16m0 8v2m0 3v3m0 5v2m0 6v2m0 200v3m1-255v5m0 3v5m0 5v5m0 11v3m0 5v5m1-45v3m0 3v2m0 1v2m0 5v5m0 11v3m0 5v1m1-40v2m0 8v4m0 1v3m0 10v3m0 8v2m0 13v6m1-58v3m0 3v8m0 15v5m0 5v6m0 5v2m0 195v3m1-248v1m0 3v8m0 5v2m0 8v5m0 16v2m0 6v2m0 187v3m1-247v2m0 3v2m0 1v5m0 5v5m0 21v5m0 195v3m1-239v2m0 34v7m0 4v3m1-58v8m0 2v1m0 35v8m0 3v2m0 185v3m1-246v4m0 8v3m0 7v6m0 5v2m0 11v2m1-47v9m0 15v3m0 5v8m0 2v3m0 2v3m0 192v3m1-241v6m0 14v4m0 1v1m0 4v8m0 5v3m1-26v3m0 10v3m0 5v2m0 2v1m0 3v3m1-42v2m0 3v2m0 1v2m0 3v2m0 3v2m0 3v3m0 7v3m0 5v1m1-37v5m0 3v7m0 6v2m0 3v2m0 8v2m0 185v3m1-243v4m0 13v2m0 13v5m0 3v3m0 2v3m1-47v16m0 2v3m0 4v4m0 6v7m0 2v9m1-60v2m0 3v2m0 3v5m0 3v2m0 5v3m0 3v7m0 3v5m0 3v5m0 2v1m0 2v2m1-61v2m0 3v2m0 5v8m0 5v3m0 3v3m0 2v2m0 3v10m0 6v2m1-60v3m0 3v2m0 9v12m0 3v2m0 5v3m1-44v5m0 9v4m0 3v9m0 4v2m0 3v1m0 9v3m0 197v3m1-229v5m0 221v3m1-242v1m0 6v3m0 1v2m0 5v11m0 18v3m1-47v2m0 6v4m0 3v6m0 5v5m0 5v3m0 2v3m1-44v2m0 6v2m0 5v2m0 1v3m0 5v5m1-28v4m0 1v2m1 11v2m0 13v3m1-31v2m0 16v2m0 3v3m3-13v2m1-2v1m4-37v1m4 1v2m12-25v2m0 44v1m0 225v3m3-250v3m0 5v3m0 15v1m1-15v1m0 3v3m1-5v5m1-6v6m1-8v5m1-3v3m1-3v3m1-36v1m0 45v1m4-6v3m1-3v3m5 223v3m3-287v3m0 27v2m1-1v1m1-36v2m0 32v2m0 5v3m0 244v3m1-250v3m0 244v3m1-226v1m1-1v2m3 221v3m1-3v3m1-3v3m1-304v1m1-1v2m0 15v1m1-3v3m1-14v1m0 60v2m1-61v2m0 2v3m0 46v1m0 2v5m1-54v1m0 72v2m1-83v1m0 3v1m0 1v2m0 73v2m1-73v3m0 68v2m1-91v1m0 10v1m0 5v3m0 57v1m0 8v1m0 2v1m0 214v3m1-308v3m0 11v1m0 25v2m0 263v3m1-306v5m0 7v2m0 71v3m0 215v3m1-294v3m0 5v1m0 48v3m0 231v3m1-303v7m0 5v1m0 287v3m1-301v5m0 7v1m0 285v3m1-300v4m0 4v3m1-6v2m0 2v2m1-20v1m0 7v1m0 11v7m0 37v1m1-56v1m0 3v1m0 6v8m0 278v3m1-303v1m0 3v3m0 8v2m0 283v3m1-305v3m0 4v2m0 1v4m0 2v1m0 1v6m0 5v3m0 60v2m0 208v3m1-293v3m0 1v8m1-20v2m0 10v6m0 10v3m1-30v1m0 9v1m0 6v4m0 58v3m1-86v1m0 8v1m0 11v5m0 57v3m1-77v4m0 5v3m0 2v2m0 1v2m0 3v2m0 47v3m1-92v1m0 3v1m0 20v5m0 2v1m0 4v3m0 1v1m0 2v1m0 15v5m1-55v2m0 12v1m0 2v3m0 8v2m0 2v1m0 1v2m0 15v2m1-48v2m0 3v3m0 7v5m0 8v2m1-39v3m0 3v1m0 12v2m0 3v2m0 4v1m0 11v2m0 14v2m0 3v2m0 5v3m0 231v3m1-313v1m0 24v2m0 4v4m0 2v1m0 6v1m0 24v5m1-75v1m0 14v1m0 17v5m0 1v2m0 2v1m0 28v3m0 2v6m1-82v1m0 2v1m0 2v3m0 1v4m0 20v1m0 5v3m0 2v5m0 24v5m0 3v1m1-88v4m0 15v3m0 1v1m0 11v2m0 4v1m0 8v3m0 5v4m0 22v4m0 1v1m1-95v1m0 6v1m0 11v2m0 3v3m0 5v2m0 6v3m0 15v2m0 3v3m0 2v4m0 17v3m1-97v9m0 15v1m0 7v6m0 14v2m0 1v5m0 3v2m0 8v7m0 32v3m1-109v1m0 18v1m0 8v2m0 3v1m0 2v5m0 11v2m0 3v2m0 6v2m0 10v1m0 10v3m1-94v4m0 17v1m0 2v1m0 10v1m0 16v5m0 3v2m0 6v2m0 11v2m1-83v3m0 10v3m0 18v1m0 5v2m0 2v1m0 2v2m0 8v8m0 3v1m0 12v2m0 5v2m0 4v2m0 4v1m0 3v3m0 7v1m1-122v1m0 4v2m0 23v4m0 1v4m0 9v1m0 2v3m0 8v10m0 3v2m0 3v2m0 7v4m0 2v5m0 10v1m0 2v1m0 2v6m1-94v5m0 7v1m0 7v1m0 3v4m0 9v2m0 4v1m0 26v5m0 7v4m0 2v8m1-107v2m0 9v2m0 6v3m0 7v1m0 7v3m0 1v4m0 9v1m0 1v4m0 16v5m0 1v4m0 7v14m1-125v3m0 5v3m0 2v1m0 1v1m0 10v3m0 9v2m0 3v1m0 6v7m0 3v1m0 17v2m0 11v3m0 5v5m0 3v2m0 1v4m0 1v1m0 6v2m1-124v3m0 10v3m0 10v3m0 11v2m0 2v3m0 3v5m0 2v8m0 8v4m0 1v4m0 9v3m0 8v3m0 4v3m0 5v11m1-120v2m0 2v1m0 5v2m0 1v3m0 7v3m0 8v1m0 1v3m0 10v8m0 11v4m0 1v2m0 6v7m0 3v2m0 4v17m0 3v3m1-99v2m0 3v3m0 5v2m0 3v2m0 1v2m0 5v3m0 1v2m0 7v1m0 2v1m0 4v3m0 3v2m0 5v16m0 4v9m0 1v3m1-126v2m0 5v4m0 1v3m0 3v2m0 3v5m0 5v11m0 5v3m0 5v2m0 7v1m0 6v2m0 13v1m0 22v6m0 2v3m0 2v3m1-104v5m0 5v10m0 11v1m0 3v1m0 6v2m0 6v2m0 10v2m0 1v5m0 21v3m0 3v2m0 2v3m1-109v1m0 7v3m0 1v1m0 5v1m0 9v3m0 5v5m0 3v3m0 5v2m0 3v3m0 2v5m0 8v3m0 2v6m0 5v5m0 8v4m1-112v1m0 2v3m0 7v1m0 7v1m0 4v6m0 6v2m0 1v2m0 2v11m0 4v2m0 2v11m0 4v3m0 2v3m0 4v4m0 2v6m0 1v1m0 2v1m0 2v3m1-111v4m0 6v1m0 4v1m0 3v1m0 6v4m0 3v8m0 2v5m0 1v5m0 5v3m0 3v2m0 1v4m0 5v3m0 2v3m0 3v5m0 2v11m0 2v3m1-107v3m0 3v2m0 3v2m0 6v1m0 4v2m0 3v3m0 2v3m0 7v1m0 13v1m0 14v3m0 2v3m0 3v10m0 5v5m0 3v3m0 2v3m1-131v1m0 6v2m0 6v6m0 7v1m0 3v3m0 1v2m0 4v6m0 5v13m0 5v21m0 5v13m0 5v5m0 3v1m0 9v2m1-116v3m0 6v1m0 3v8m0 3v5m0 5v5m0 3v2m0 26v3m0 2v6m0 2v8m0 5v5m0 13v3m1-129v1m0 5v2m0 3v1m0 3v2m0 3v2m0 3v3m0 8v2m0 5v5m0 8v5m0 1v2m0 3v5m0 10v2m0 1v8m0 5v8m0 10v8m0 2v3m0 1v7m1-130v2m0 21v3m0 5v3m0 5v2m0 3v5m0 3v2m0 4v3m0 4v5m0 3v2m0 1v2m0 18v7m0 6v8m0 2v3m1-122v2m0 21v3m0 5v3m0 5v2m0 3v5m0 8v3m0 7v3m0 8v3m0 5v2m0 8v5m0 11v2m0 5v3m0 8v2m1-135v5m0 20v12m0 2v5m0 6v2m0 5v6m0 2v11m0 2v5m0 8v2m0 3v16m0 3v5m0 5v8m1-135v2m0 5v1m0 17v1m0 2v11m0 2v3m0 2v2m0 8v3m0 3v5m0 5v3m0 10v3m0 2v1m0 2v5m0 8v5m0 11v2m0 3v8m1-178v1m0 42v1m0 1v8m0 16v2m0 1v4m0 8v8m0 6v6m0 1v3m0 7v3m0 3v2m0 3v5m0 3v2m0 2v1m0 1v1m0 1v2m0 3v5m0 8v10m0 4v1m0 3v2m1-182v1m0 1v1m0 42v5m0 2v5m0 14v7m0 8v5m0 8v5m0 3v3m0 7v3m0 3v2m0 3v15m0 1v2m0 3v5m0 2v1m0 5v10m0 8v2m1-182v2m0 53v3m0 15v5m0 3v3m0 2v11m0 10v1m0 2v2m0 3v2m0 6v5m0 3v5m0 2v8m0 3v2m0 3v8m0 5v8m0 2v5m1-127v3m0 5v2m0 2v1m0 10v3m0 3v5m0 2v3m0 3v5m0 3v2m0 1v2m0 2v1m0 4v7m0 3v3m0 13v8m0 3v5m0 3v20m1-119v5m0 8v5m0 5v3m0 2v6m0 3v2m0 15v6m0 3v4m0 13v2m0 6v3m0 1v4m0 3v5m0 2v3m0 3v5m1-184v4m0 39v2m0 3v8m0 2v1m0 13v10m0 1v2m0 3v2m0 8v3m0 2v5m0 3v3m0 2v2m0 1v2m0 8v5m0 6v5m0 2v3m0 3v2m0 11v7m0 3v5m0 3v2m1-145v5m0 4v1m0 3v1m0 1v3m0 13v1m0 4v8m0 8v3m0 5v3m0 4v2m0 1v1m0 2v2m0 3v2m0 12v2m0 5v7m0 18v3m0 3v2m0 8v3m0 2v1m1-182v3m0 35v3m0 4v1m0 3v5m0 13v9m0 9v3m0 1v4m0 3v6m0 1v8m0 3v2m0 6v2m0 1v4m0 6v5m0 2v3m0 3v5m0 8v2m0 3v2m1-174v1m0 5v5m0 31v2m0 3v3m0 2v3m0 4v1m0 12v4m0 2v3m0 4v1m0 3v3m0 3v4m0 3v2m0 5v5m0 3v3m0 5v3m0 5v4m0 1v2m0 1v5m0 4v9m0 2v1m0 10v2m0 1v2m0 7v1m1-178v5m0 17v1m0 3v1m0 16v2m0 7v1m0 1v2m0 5v2m0 3v6m0 5v5m0 2v11m0 2v11m0 2v8m0 2v3m0 11v2m0 3v5m0 5v5m0 3v5m0 1v7m1-168v3m0 1v1m0 32v6m0 16v2m0 5v14m0 3v4m0 6v2m0 8v3m0 23v1m0 2v4m0 1v5m0 8v4m0 1v5m0 2v6m1-181v1m0 6v3m0 5v5m0 18v1m0 12v2m0 1v2m0 24v2m0 8v3m0 7v6m0 2v11m0 2v3m0 15v6m0 2v3m0 2v3m0 3v2m0 5v3m0 5v5m0 4v2m0 1v1m0 5v1m1-190v1m0 6v2m0 2v2m0 18v3m0 15v5m0 8v8m0 10v3m0 2v6m0 2v3m0 2v3m0 3v2m0 3v2m0 2v9m0 18v3m0 2v13m0 3v2m0 6v3m0 10v1m0 1v1m1-179v5m0 2v3m0 4v1m0 13v1m0 14v2m0 1v2m0 8v3m0 1v1m0 3v1m0 1v6m0 2v3m0 2v6m0 3v15m0 2v8m0 21v3m0 2v13m0 3v2m0 6v2m0 11v5m1-195v1m0 17v7m0 1v2m0 32v2m0 3v8m0 5v3m0 7v3m0 4v8m0 1v8m0 1v1m0 7v3m0 1v5m0 2v4m0 9v6m0 7v3m0 10v3m0 3v6m0 7v7m1-198v1m0 12v1m0 2v6m0 6v4m0 28v1m0 5v1m0 1v6m0 2v3m0 5v1m0 2v5m0 10v5m0 3v5m0 2v1m0 5v3m0 3v3m0 2v2m0 15v6m0 14v1m0 3v5m0 16v4m1-201v2m0 29v2m0 11v1m0 5v1m0 13v5m0 6v7m0 3v3m0 5v2m0 3v5m0 11v5m0 8v2m0 3v5m0 3v2m0 8v4m0 1v5m0 14v2m0 8v2m0 8v2m0 1v2m1-184v2m0 6v1m0 8v2m0 42v6m0 11v2m0 3v5m0 21v5m0 3v2m0 2v3m0 2v4m0 5v10m0 8v3m0 2v3m0 5v2m0 11v2m0 1v2m0 182v3m1-367v8m0 25v1m0 21v10m0 3v5m0 3v2m0 8v3m0 17v1m0 3v2m0 5v3m0 3v2m0 10v1m0 1v2m0 15v2m0 6v2m0 6v5m0 4v2m0 183v3m1-379v1m0 4v1m0 12v1m0 58v11m0 13v3m0 15v2m0 1v5m0 4v4m0 2v3m0 21v2m0 5v3m0 5v8m0 8v1m1-208v1m0 11v1m0 2v2m0 16v1m0 25v1m0 21v4m0 5v2m0 6v5m0 13v2m0 16v8m0 2v4m0 7v2m0 3v5m0 1v4m0 6v8m0 2v16m0 5v2m1-196v1m0 2v1m0 6v3m0 6v6m0 6v2m0 27v1m0 5v8m0 3v2m0 8v3m0 2v6m0 2v3m0 5v3m0 10v5m0 11v5m0 2v3m0 5v5m0 6v4m0 14v5m0 3v5m0 1v4m1-176v2m0 40v1m0 6v2m0 3v2m0 6v2m0 3v2m0 3v8m0 2v3m0 8v2m0 2v5m0 1v4m0 1v3m0 3v5m0 2v1m0 4v4m0 2v5m0 3v7m0 6v2m0 5v3m0 3v2m0 3v2m1-187v1m0 15v1m0 34v3m0 9v2m0 3v2m0 6v2m0 3v2m0 3v8m0 2v1m0 15v1m0 7v2m0 6v5m0 2v3m0 4v2m0 2v2m0 2v1m0 3v7m0 3v3m0 2v3m0 5v3m1-115v5m0 6v2m0 8v7m0 1v2m0 3v5m0 3v5m0 5v8m0 3v13m0 2v3m0 5v1m0 12v5m0 3v5m0 4v1m0 3v2m1-190v1m0 1v3m0 50v2m0 1v1m0 9v3m0 2v3m0 3v5m0 8v7m0 3v3m0 2v11m0 7v3m0 3v10m0 21v10m0 3v2m0 6v5m1-187v1m0 4v1m0 2v2m0 3v2m0 8v1m0 48v3m0 5v3m0 8v7m0 8v11m0 7v3m0 3v10m0 5v2m0 1v2m0 6v2m0 3v10m0 3v2m0 3v8m0 2v3m1-179v2m0 5v2m0 37v1m0 1v1m0 34v2m0 3v16m0 3v7m0 21v5m0 8v2m0 3v8m0 2v3m0 8v2m1-184v2m0 6v1m0 1v3m0 1v1m0 52v11m0 5v3m0 5v2m0 6v5m0 13v10m0 15v3m0 7v1m0 1v2m0 5v3m0 1v3m0 1v2m0 4v7m0 2v3m0 179v3m1-395v2m0 23v6m0 5v3m0 2v4m0 30v3m0 15v3m0 8v2m0 6v10m0 5v6m0 5v2m0 3v5m0 3v5m0 2v1m0 2v5m0 1v7m0 7v1m0 2v11m0 2v3m0 5v5m1-175v1m0 53v2m0 2v6m0 5v2m0 6v5m0 10v3m0 2v2m0 9v2m0 2v1m0 3v5m0 2v1m0 2v5m0 1v4m0 1v2m0 7v1m0 2v3m0 3v5m0 2v3m0 5v5m1-171v2m0 1v3m0 1v2m0 45v8m0 3v5m0 3v2m0 8v5m0 5v6m0 5v2m0 2v1m0 3v2m0 3v2m0 3v8m0 2v4m0 4v3m0 1v12m0 2v3m0 3v5m0 2v4m1-175v1m0 4v5m0 34v1m0 1v1m0 5v5m0 3v3m0 2v2m0 11v2m0 11v2m0 6v2m0 3v5m0 1v6m0 6v3m0 1v4m0 2v8m0 3v2m0 1v2m0 3v10m0 5v3m0 5v2m1-176v1m0 2v2m0 1v1m0 36v4m0 5v5m0 1v14m0 1v2m0 3v2m0 9v4m0 5v1m0 2v11m0 1v4m0 5v8m0 2v6m0 1v1m0 3v2m0 8v2m0 6v1m0 4v3m1-195v1m0 25v2m0 3v1m0 41v2m0 3v5m0 3v7m0 3v8m0 2v6m0 4v3m0 3v5m0 6v2m0 3v2m0 13v2m0 12v4m0 3v3m0 2v3m0 2v3m0 3v5m0 2v1m1-201v5m0 21v1m0 23v2m0 29v2m0 11v2m0 6v5m0 5v3m0 20v3m0 3v3m0 2v2m0 13v3m0 5v1m0 4v3m0 3v2m0 7v4m0 5v2m1-198v1m0 20v1m0 2v3m0 21v2m0 13v2m0 14v2m0 13v3m0 3v5m0 5v3m0 15v3m0 2v3m0 3v4m0 1v4m0 11v3m0 5v1m0 2v1m0 1v2m0 4v2m0 5v6m0 5v2m1-171v1m0 35v4m0 4v5m0 5v3m0 3v2m0 3v2m0 3v10m0 26v3m0 2v1m0 2v3m0 3v3m0 4v5m0 3v5m0 8v5m0 2v3m0 11v3m1-174v1m0 6v1m0 2v1m0 35v3m0 2v1m0 2v2m0 3v8m0 2v6m0 5v2m0 16v10m0 3v5m0 3v2m0 3v1m0 2v2m0 3v4m0 4v2m0 5v1m0 7v1m0 10v2m0 3v3m1-190v1m0 3v1m0 11v1m0 10v1m0 34v3m0 2v3m0 8v2m0 7v1m0 8v2m0 16v10m0 3v5m0 3v2m0 3v3m0 2v3m0 18v3m0 13v2m0 3v2m0 3v1m1-191v3m0 13v2m0 3v1m0 41v2m0 8v3m0 5v8m0 5v2m0 31v1m0 2v8m0 8v4m0 1v4m0 8v1m0 8v1m0 14v2m1-174v1m0 10v3m0 28v4m0 1v2m0 1v11m0 2v3m0 8v2m0 49v1m0 4v1m0 1v1m0 8v1m0 32v4m1-192v2m0 2v2m0 6v3m0 6v2m0 3v1m0 24v2m0 6v2m0 2v1m0 11v2m0 11v2m0 57v1m0 7v2m0 19v2m0 9v3m1-185v1m0 6v3m0 2v3m0 38v9m0 5v3m0 2v3m0 60v2m0 3v1m0 1v3m1-156v3m0 5v1m0 3v1m0 1v1m0 6v1m0 2v2m0 5v2m0 33v7m0 2v6m0 72v3m0 3v2m1-156v1m0 1v1m0 10v1m0 2v2m0 9v1m0 11v3m0 3v2m0 16v5m0 5v4m0 9v8m1-109v1m0 8v1m0 1v2m0 1v4m0 2v1m0 48v1m0 4v1m0 26v8m1-97v1m0 7v2m0 16v1m0 2v2m0 22v2m0 9v7m0 2v8m0 13v3m0 5v3m0 267v3m1-385v1m0 26v2m0 10v1m0 16v1m0 24v2m0 6v5m0 2v8m0 8v3m0 88v2m0 177v3m1-373v2m0 3v1m0 11v1m0 8v1m0 11v2m0 5v3m0 14v2m0 5v2m0 6v1m0 1v3m0 2v8m0 8v3m0 75v3m0 7v3m0 179v3m1-371v1m0 4v5m0 10v1m0 1v1m0 1v2m0 36v5m0 2v3m0 8v2m0 3v2m1-86v1m0 5v5m0 6v4m0 1v2m0 4v1m0 8v1m0 16v3m0 6v3m0 2v9m0 2v5m0 2v1m0 68v2m0 4v1m0 13v3m0 5v2m0 3v3m1-194v2m0 8v5m0 8v1m0 6v2m0 12v2m0 5v2m0 13v19m0 2v3m0 280v3m1-371v1m0 9v3m0 7v3m0 7v2m0 9v2m0 6v1m0 2v1m0 9v5m0 2v3m0 5v3m0 5v2m0 84v2m1-167v2m0 3v1m0 8v4m0 4v5m0 27v2m0 1v3m0 2v1m0 3v3m0 2v2m0 1v1m0 84v3m0 5v2m0 193v3m1-362v1m0 10v3m0 5v4m0 15v2m0 15v3m0 2v3m0 94v2m0 5v4m0 191v3m1-385v2m0 12v6m0 4v1m0 1v3m0 8v7m0 1v2m0 9v1m0 20v1m0 3v2m0 97v7m0 195v3m1-359v5m0 13v2m0 11v3m0 127v3m0 13v3m0 176v3m1-390v2m0 26v1m0 2v3m0 5v1m0 28v1m0 17v2m0 102v5m0 3v1m0 9v1m1-208v5m0 2v2m0 16v3m0 2v3m0 6v2m0 39v2m0 3v2m0 2v1m0 3v3m0 4v3m0 87v4m0 4v1m0 3v7m1-201v1m0 16v2m0 16v4m0 40v3m0 3v2m0 107v5m1-182v3m0 5v2m0 6v2m0 47v4m0 4v2m0 94v3m0 1v1m0 3v1m0 183v3m1-364v3m0 5v2m0 6v2m0 3v2m0 42v3m0 102v2m0 1v1m0 3v2m1-171v5m0 3v5m0 2v1m0 148v2m0 4v3m0 180v3m1-395v2m0 3v3m0 5v2m0 11v2m0 24v1m0 11v1m0 11v3m0 12v2m0 110v1m0 2v4m0 1v3m0 4v1m1-221v2m0 6v1m0 6v2m0 11v2m0 24v2m0 24v2m0 7v1m0 3v2m0 109v1m0 2v5m0 1v2m1-209v1m0 14v7m0 2v3m0 21v2m0 39v3m0 8v2m0 104v1m0 10v1m1-225v2m0 22v2m0 3v4m0 2v2m0 49v1m0 10v2m0 109v3m0 2v3m1-216v3m0 8v2m0 11v2m0 8v3m0 18v2m0 37v2m0 6v3m0 17v3m0 84v2m0 2v1m1-215v1m0 3v2m0 24v2m0 5v1m0 2v1m0 52v7m0 3v5m1-99v3m0 20v6m0 10v3m0 42v4m0 3v1m0 2v5m1-99v3m0 20v1m0 2v3m0 10v3m0 43v3m0 3v2m0 1v5m1-106v2m0 39v4m0 48v2m0 2v2m0 7v2m1-109v1m0 3v4m0 3v2m0 16v2m0 6v7m0 3v3m0 345v3m1-395v5m0 5v3m0 75v2m1-90v5m0 3v5m0 2v1m0 33v3m0 57v2m1-88v3m0 5v5m0 3v2m0 47v2m0 11v3m1-99v2m0 25v2m0 7v2m0 14v1m0 43v3m0 288v3m1-390v3m0 88v3m0 2v3m1-102v3m0 3v7m0 3v3m0 15v3m0 2v3m0 10v2m0 14v3m0 20v3m0 3v2m0 126v2m1-216v3m0 5v2m0 24v2m0 1v2m0 38v6m0 8v5m0 3v2m1-107v1m0 4v1m0 2v5m0 1v2m0 24v5m0 28v1m0 4v1m0 5v4m0 1v3m0 1v4m0 23v3m1-123v1m0 2v2m0 3v8m0 3v2m0 13v3m0 3v2m0 5v2m0 36v1m0 3v3m0 5v2m0 124v1m1-221v3m0 2v3m0 2v3m0 13v3m0 2v2m0 4v4m0 48v7m1-107v1m0 2v1m0 7v3m0 2v3m0 1v6m0 11v3m0 8v2m0 52v5m0 124v1m1-223v1m0 3v3m0 1v5m0 2v3m0 2v3m0 7v3m0 59v1m0 3v2m1-94v9m0 78v1m0 3v1m0 5v2m0 6v2m0 103v1m1-222v1m0 8v3m0 86v3m0 1v3m1-96v3m0 87v1m0 7v1m0 60v2m0 221v3m1-382v4m0 40v3m0 44v2m0 126v2m0 158v3m1-387v2m0 31v3m0 1v2m0 7v3m0 49v3m1-101v2m0 3v2m0 26v6m0 7v3m0 49v3m1-99v3m0 26v2m0 19v2m0 44v3m0 125v1m1-191v5m0 8v1m0 43v3m1-93v3m0 4v3m0 5v1m0 5v2m0 10v5m0 8v3m0 42v2m1-96v2m0 3v2m0 2v1m0 21v10m0 60v3m1-104v2m0 1v4m0 3v3m0 15v5m0 3v8m0 2v8m0 42v2m1-98v2m0 4v3m0 1v3m0 15v5m0 3v8m0 2v6m0 41v5m1-91v1m0 2v4m0 1v3m0 5v3m0 5v5m0 5v3m0 2v3m0 3v2m1-58v1m0 1v2m0 5v2m0 3v3m0 2v3m0 5v3m0 5v4m0 1v2m0 1v5m0 6v5m0 43v3m0 5v3m1-112v3m0 5v2m0 3v3m0 2v3m0 6v2m0 5v8m0 3v12m0 52v1m1-111v1m0 3v2m0 16v2m0 16v3m0 5v1m0 4v5m0 42v5m0 3v2m1-112v2m0 1v8m0 2v3m0 10v2m0 14v3m0 2v5m0 3v5m0 39v3m0 2v4m0 2v3m0 130v2m1-244v2m0 2v1m0 2v8m0 5v5m0 8v3m0 5v3m0 2v3m0 2v3m0 3v2m0 47v3m0 5v2m1-115v3m0 1v2m0 8v4m0 1v2m0 21v3m0 5v3m0 3v2m0 42v2m0 3v3m0 5v1m1-113v1m0 15v2m0 16v5m0 8v5m0 44v5m0 3v3m1-105v3m0 7v2m0 7v1m0 4v5m0 3v5m0 2v1m0 5v7m0 1v7m0 37v2m0 5v1m1-106v1m0 1v2m0 2v1m0 2v2m0 1v3m0 5v2m0 3v5m0 3v2m0 11v4m0 4v2m0 2v2m0 43v3m1-105v3m0 3v10m0 16v10m0 4v1m0 11v2m0 36v14m0 32v4m0 112v3m1-262v1m0 8v3m0 5v3m0 13v2m0 3v3m0 2v3m0 62v3m0 104v2m1-208v3m0 5v3m0 7v1m0 5v2m0 3v3m0 2v3m0 15v1m0 46v3m0 104v2m0 169v3m1-388v3m0 3v2m0 3v8m0 15v3m0 3v2m0 3v2m0 8v5m0 39v3m0 3v1m1-103v5m0 11v3m0 5v2m0 8v3m0 59v6m0 49v5m0 16v2m1-176v7m0 6v11m0 2v2m0 10v1m0 63v6m0 66v2m1-180v1m0 3v2m0 3v5m0 3v11m0 9v13m0 6v5m0 37v2m0 10v3m0 39v2m1-154v1m0 8v5m0 2v3m0 3v2m0 24v2m0 8v3m0 38v1m0 6v2m0 2v3m0 2v3m0 135v3m0 132v3m1-390v1m0 2v1m0 1v3m0 9v4m0 8v5m0 10v5m0 3v3m0 2v5m0 35v2m0 5v5m0 5v2m0 35v2m0 234v3m1-387v1m0 16v1m0 5v11m0 8v4m0 3v3m0 2v5m0 36v1m0 3v7m0 42v2m0 234v3m1-384v4m0 3v1m0 2v5m0 2v3m0 3v2m0 3v1m0 4v8m0 2v3m0 3v5m0 39v5m0 13v3m0 2v3m0 21v2m0 3v2m0 16v3m0 5v2m1-176v5m0 28v3m0 13v5m0 3v4m0 40v3m0 10v3m0 20v3m0 31v5m0 3v3m0 2v3m1-185v3m0 2v2m0 11v3m0 10v3m0 10v1m0 2v5m0 3v5m0 39v3m0 33v3m0 21v2m0 8v5m0 3v1m0 4v3m0 68v2m1-253v1m0 10v5m0 20v1m0 3v2m0 6v2m0 8v1m0 35v1m0 2v3m0 15v3m0 2v6m0 15v3m0 5v8m0 223v3m1-390v2m0 3v8m0 5v5m0 6v2m0 11v2m0 16v2m0 37v8m0 2v5m0 2v4m0 5v2m0 8v3m0 8v2m0 3v2m0 3v5m0 99v3m0 124v3m1-390v3m0 4v6m0 5v5m0 6v2m0 11v2m0 5v3m0 8v2m0 37v8m0 2v13m0 3v2m0 8v3m0 4v1m0 3v2m0 3v10m0 226v3m1-388v1m0 10v3m0 1v1m0 3v2m0 11v2m0 3v3m0 5v1m0 1v3m0 10v2m0 34v9m0 5v2m0 3v3m0 9v1m0 2v1m0 2v5m0 6v10m0 16v2m0 3v2m0 208v3m1-391v1m0 2v1m0 2v2m0 1v8m0 2v3m0 15v3m0 1v2m0 2v13m0 3v2m0 36v7m0 4v11m0 5v10m0 3v2m0 3v3m0 5v2m0 234v3m1-390v3m0 5v4m0 20v2m0 1v2m0 2v3m0 2v13m0 3v2m0 34v1m0 1v4m0 10v3m0 2v8m0 2v8m0 8v3m0 2v5m0 3v3m0 2v3m1-154v3m0 13v3m0 2v5m0 1v2m0 3v4m0 1v10m0 5v1m0 38v4m0 2v7m0 8v5m0 2v1m0 1v4m0 8v2m0 1v2m0 7v4m0 2v11m0 2v1m0 56v3m0 8v2m0 6v5m1-252v2m0 3v5m0 8v5m0 5v1m0 2v2m0 13v8m0 3v2m0 36v6m0 3v2m0 7v4m0 2v11m0 2v8m0 3v2m0 3v2m0 3v3m0 10v5m0 55v1m0 4v3m0 20v6"/>
<path stroke="#0080ff" d="M0 0m170 336v2m0 29v3m0 2v1m0 17v7m1-68v2m0 2v8m0 5v3m0 21v2m0 18v7m1-66v2m0 5v1m0 10v2m0 3v5m0 5v3m0 6v2m0 9v9m0 1v8m1-69v6m0 12v6m0 18v2m0 8v1m0 2v2m0 6v2m0 3v2m1-94v1m0 28v3m0 8v2m0 13v3m0 1v2m0 3v2m0 11v2m0 1v1m0 3v5m1-93v6m0 1v3m0 34v8m0 4v3m0 3v5m0 1v2m0 11v4m0 3v5m1-96v3m0 7v6m0 10v10m0 6v2m0 11v2m0 8v10m0 13v6m1-90v6m0 16v3m0 1v1m0 8v5m0 16v10m0 16v2m0 3v3m1-89v5m0 16v5m0 8v8m0 9v1m0 3v10m0 16v10m0 1v1m1-88v1m0 18v20m0 10v3m0 11v4m0 8v1m0 5v3m1-65v2m0 22v4m0 1v2m0 13v3m0 10v8m1-65v2m0 42v4m0 10v10m1-73v2m0 2v6m0 18v3m0 2v3m0 2v3m0 6v4m0 13v1m0 5v4m1-69v5m0 19v5m0 2v5m0 3v2m0 3v2m0 13v6m1-65v2m0 1v1m0 21v6m0 2v3m0 5v1m0 2v2m0 13v6m0 2v1m1-63v1m0 16v1m0 2v1m0 2v22m0 12v1m0 2v2m1-69v2m0 2v6m0 18v2m0 5v3m0 8v5m0 16v5m1-44v2m0 4v5m0 2v2m0 3v6m0 14v1m1-32v3m0 3v5m0 2v3m1-65v1m0 47v1m0 8v8m0 2v1m0 12v6m1-42v3m0 2v3m0 8v2m0 3v2m0 19v2m0 260v3m1-307v4m0 1v3m0 8v2m0 3v2m0 16v5m0 260v3m1-306v3m0 20v2m0 16v1m0 1v2m1-85v2m0 15v1m0 20v1m0 1v2m0 2v3m0 8v2m0 6v2m0 11v2m0 49v1m1-128v3m0 14v1m0 22v2m0 3v2m0 8v11m0 10v1m0 266v3m1-306v2m0 5v5m0 3v8m0 2v1m0 17v3m0 257v3m1-297v1m0 5v2m0 6v5m0 7v1m0 3v2m0 2v3m0 257v3m1-299v8m0 5v3m0 2v2m0 14v1m0 1v2m1-53v2m0 4v1m0 11v2m0 1v2m0 2v3m0 3v2m0 15v1m0 2v1m0 32v1m1-68v1m0 5v13m0 13v1m0 1v4m0 256v3m1-289v11m0 13v1m0 1v3m0 26v1m0 230v3m1-323v1m0 31v5m0 5v4m0 1v1m0 11v1m0 260v3m1-303v1m0 3v3m0 5v2m0 3v7m0 2v1m0 1v2m0 7v2m1-58v4m0 16v3m0 3v2m0 3v2m0 3v3m0 2v3m0 13v2m1-40v4m0 21v3m0 10v2m0 3v3m1-65v2m0 16v5m0 23v2m0 17v2m1-52v3m0 6v2m0 5v3m0 10v3m0 11v2m1-45v3m0 8v5m0 10v6m0 12v6m0 254v3m1-318v1m0 13v8m0 2v5m0 11v3m0 2v2m0 8v2m0 4v1m0 16v2m0 235v3m1-320v3m0 18v2m0 3v3m0 2v3m0 3v2m0 5v5m0 1v1m0 12v2m1-44v3m0 7v3m0 3v2m0 10v1m0 1v1m0 7v1m0 1v3m0 27v1m1-87v2m0 19v3m0 8v7m0 11v6m1-38v1m0 2v3m0 6v15m0 9v1m0 43v1m1-77v4m0 6v2m0 5v8m0 8v1m0 2v1m1-59v3m0 21v8m0 2v8m0 3v1m0 1v3m0 5v2m0 1v1m0 20v2m0 231v3m1-312v2m0 14v5m0 8v7m0 3v6m0 6v6m0 252v3m1-318v1m0 5v3m0 13v5m0 8v7m0 3v6m0 6v3m0 1v1m1-59v3m0 1v2m0 15v3m0 2v8m0 3v5m0 5v1m0 7v3m1-52v4m0 14v2m0 6v2m0 3v5m0 3v2m1-44v1m0 4v2m0 16v3m0 4v4m0 2v9m0 10v1m0 1v1m1-58v3m0 2v3m0 15v3m0 3v5m0 2v3m0 3v2m0 11v1m0 1v2m0 250v3m1-311v2m0 2v3m0 21v1m0 1v2m0 23v1m1-52v3m0 13v2m0 3v5m0 24v2m0 1v1m1-54v3m0 5v5m0 11v3m0 24v1m0 2v1m1-58v1m0 2v4m0 4v3m0 2v8m0 1v2m0 1v1m0 8v3m0 2v3m0 9v3m0 1v1m1-59v1m0 2v26m0 5v12m0 7v4m1-54v5m0 2v19m0 5v13m0 6v4m1-57v1m0 2v5m0 3v3m0 10v3m0 2v6m0 2v5m0 2v3m0 2v4m0 2v3m0 249v3m1-291v8m0 1v6m0 3v2m0 8v8m0 252v3m1-307v2m0 14v15m0 3v1m0 10v7m1-39v18m0 11v2m0 3v4m1-51v3m0 21v7m0 6v1m0 4v2m0 3v5m1-50v2m0 15v7m0 13v3m0 2v6m1-48v2m0 18v4m0 5v3m0 5v3m0 2v2m0 1v4m1-51v3m0 2v1m0 12v6m0 7v3m0 16v2m0 5v1m1-58v3m0 2v2m0 9v2m0 1v2m0 10v3m0 20v1m0 2v1m0 246v3m1-307v2m0 3v2m0 9v2m0 1v2m0 10v3m0 21v1m0 1v3m1-58v1m0 16v2m0 3v4m0 1v2m0 5v5m0 11v2m0 1v1m1-57v1m0 3v1m0 1v3m0 13v1m0 4v1m0 2v8m0 5v3m0 9v2m1-57v1m0 3v1m0 1v3m0 13v3m0 2v13m0 3v1m0 1v1m0 9v1m1-55v3m0 18v5m0 5v3m0 3v8m1-46v1m0 3v7m0 14v2m0 3v5m0 3v4m0 1v2m0 9v2m1-52v2m0 5v2m0 1v1m0 10v2m0 3v5m0 3v3m0 2v3m0 8v1m1-44v1m0 1v2m0 8v7m0 8v7m0 10v2m1-51v3m0 3v1m0 1v1m0 13v7m0 3v2m0 15v1m1-50v3m0 3v4m0 10v4m0 13v12m1-39v2m0 8v4m0 16v2m0 1v2m0 2v2m1-42v3m0 10v12m0 5v2m0 3v5m0 4v4m1-46v3m0 1v1m0 5v3m0 25v3m1-39v10m0 26v3m0 2v3m1-57v2m0 11v2m0 6v2m0 21v3m0 2v3m0 6v3m1-56v3m0 5v2m0 3v4m0 22v3m1-42v3m0 5v2m0 1v9m0 22v12m1-62v3m0 2v6m0 2v3m0 10v1m0 15v11m0 2v5m1-57v2m0 3v14m0 4v3m0 10v3m0 5v3m0 2v3m0 249v3m1-304v2m0 3v2m0 1v3m0 2v8m0 2v4m0 9v5m0 3v8m0 249v3m1-305v3m0 3v5m0 5v3m0 1v4m0 3v10m0 3v2m0 4v6m0 1v1m0 18v2m1-72v4m0 8v2m0 8v4m0 2v7m0 3v2m0 3v3m0 5v1m0 17v3m0 228v3m1-299v3m0 5v2m0 8v2m0 1v2m0 11v2m0 6v2m0 21v2m0 1v5m0 2v3m0 218v3m1-302v3m0 3v7m0 3v3m0 1v1m0 5v3m0 3v13m0 5v2m0 247v3m1-301v2m0 1v4m0 11v2m0 2v3m0 3v5m0 3v14m0 20v2m0 5v2m0 11v1m0 4v2m1-99v1m0 11v5m0 3v2m0 1v3m0 1v4m0 4v3m0 8v2m0 34v2m0 7v1m1-80v5m0 3v2m0 1v2m0 2v5m0 3v3m0 8v2m0 34v3m0 5v1m0 7v1m1-98v3m0 18v2m0 8v1m0 58v2m1-92v6m0 5v3m0 5v7m0 3v3m0 20v3m0 30v1m0 2v2m1-88v2m0 7v2m0 6v7m0 3v5m0 55v2m0 8v1m1-97v5m0 3v5m0 2v2m0 1v3m0 2v6m0 16v2m0 5v1m0 34v1m0 9v1m0 198v3m1-300v1m0 5v5m0 3v1m0 2v4m0 3v5m0 1v1m0 1v2m0 6v3m0 46v1m1-92v3m0 5v5m0 6v5m0 2v3m0 5v1m0 57v1m1-88v1m0 10v3m0 2v3m0 1v7m0 2v3m0 1v1m0 9v2m0 52v1m1-92v2m0 6v2m0 5v6m0 5v5m0 59v1m1-94v3m0 8v2m0 5v3m0 11v2m0 3v2m0 5v1m0 40v2m0 7v1m0 196v3m1-287v7m0 2v2m0 16v3m0 2v3m0 45v1m0 203v3m1-295v2m0 12v1m0 7v2m0 3v9m0 2v1m0 49v1m0 5v1m0 197v3m1-294v2m0 11v5m0 3v3m0 2v3m0 2v1m1-29v2m0 2v4m0 5v5m0 5v1m0 2v2m0 1v2m0 52v1m1-83v1m0 13v3m0 3v2m0 4v4m0 52v1m0 204v3m1-286v3m0 2v8m0 3v2m0 8v2m0 255v3m1-286v3m0 5v5m0 4v1m0 3v1m0 3v4m0 48v2m0 204v3m1-283v2m0 3v5m0 5v3m0 6v7m0 44v1m0 204v3m1-281v12m0 4v1m0 11v3m0 247v3m1-286v18m0 3v2m0 5v7m0 248v3m1-280v10m0 5v2m0 8v1m0 2v2m0 41v1m0 205v3m1-281v11m0 2v5m0 7v1m0 1v2m0 43v1m0 205v3m1-281v10m0 3v8m0 8v1m0 42v2m0 204v3m1-283v2m0 5v6m0 2v6m0 2v2m0 5v1m0 249v3m1-283v2m0 3v10m0 5v6m0 2v4m1-32v2m0 5v8m0 5v4m0 9v2m1-38v5m0 5v3m0 5v12m0 7v2m1-39v5m0 6v2m0 3v2m0 8v3m1-24v3m0 2v7m0 2v7m0 3v7m1-31v3m0 5v3m0 2v8m0 3v5m0 1v1m1-31v5m0 3v3m0 2v3m0 2v3m0 3v2m0 3v2m0 247v3m1-286v3m0 12v5m1-20v3m0 10v8m0 262v3m1-287v1m0 13v8m0 7v3m0 2v1m0 10v3m0 236v3m1-286v5m0 5v3m0 13v3m0 5v2m0 21v3m0 2v4m0 217v3m1-289v11m0 2v3m0 5v3m0 5v3m0 4v1m0 5v3m0 4v3m0 13v3m0 218v3m1-288v10m0 5v3m0 23v3m0 2v3m0 236v3m1-292v1m0 9v1m0 3v2m0 21v3m0 1v4m0 8v2m0 3v3m0 2v11m0 2v5m1-75v5m0 3v2m0 35v2m0 10v6m1-65v5m0 2v8m0 3v1m0 1v3m0 10v3m0 8v2m0 5v3m1-49v5m0 2v1m0 25v3m0 10v3m0 3v5m0 4v1m0 3v2m1-73v3m0 3v5m0 28v3m0 10v6m0 13v2m1-73v8m0 3v2m0 7v1m0 3v2m0 6v2m0 16v2m0 3v3m0 2v3m0 2v3m0 218v3m1-289v3m0 18v3m0 23v5m0 8v5m0 221v3m1-288v2m0 3v2m0 11v3m0 25v3m0 2v9m1-58v2m0 1v2m0 11v5m0 30v9m1-60v3m0 15v3m0 10v2m0 1v1m0 248v3m1-291v2m0 6v7m0 3v8m0 20v1m0 13v2m0 226v3m1-286v8m0 7v5m0 24v3m0 5v3m0 1v1m0 8v3m1-69v4m0 5v2m0 8v3m0 6v2m0 2v3m0 5v3m0 5v2m1-44v5m0 6v1m0 9v3m0 10v3m0 241v3m1-280v5m0 5v10m0 5v3m0 2v2m0 245v3m1-276v13m0 3v5m0 5v3m0 244v3m1-268v3m0 2v6m0 5v5m0 244v3m1-287v1m0 5v3m0 10v3m0 4v4m0 2v3m1-26v2m0 3v5m0 5v3m1-25v4m0 11v2m0 3v2m0 8v1m0 251v3m1-281v3m0 4v4m0 2v2m0 6v3m0 254v3m1-281v3m0 2v5m0 3v1m0 9v3m1-30v2m0 5v2m0 3v10m1-19v1m0 3v2m0 13v3m1-23v2m0 3v2m0 12v6m0 3v1m1-16v2m0 3v2m1-7v5m0 5v1m0 2v1m2-14v2m1 6v1m1-2v1m1-16v2m0 11v1m1-17v5m1-5v5m0 12v1m0 3v3m3-9v2m1-2v2m1-1v1m1-6v2m0 5v3m0 257v3m1-270v2m1 1v1m0 3v2m1-33v3m0 18v3m0 1v1m0 2v1m1-28v2m0 18v3m0 5v1m1-27v1m0 287v3m1-283v2m0 16v1m0 230v4m1-4v4m1-232v1m0 258v3m1-3v3m1-3v3m5-304v1m1 2v2m1-2v1m3 297v3m1-293v2m0 31v2m1-43v2m1 41v2m1-27v2m3 278v3m1-3v3m1-302v1m0 298v3m3-3v3m1-3v3m1-311v1m0 307v3m3-3v3m1-301v2m0 24v2m0 270v3m1-278v2m0 273v3m1-278v2m0 273v3m1-3v3m1-3v3m1-3v3m2-286v3m1-8v2m0 3v3m1-26v2m5 37v1m0 266v3m1-3v3m4-302v1m1 62v5m1-5v1m1-5v1m0 5v3m1-10v2m0 8v2m0 1v2m1-52v1m0 36v5m0 2v3m0 231v3m1-239v2m0 3v3m0 228v3m1-303v1m0 63v5m0 5v3m0 223v3m1-276v3m0 34v2m0 6v2m0 3v2m1-17v2m0 2v3m0 3v5m0 2v3m1-13v3m0 3v2m1-3v3m1-3v3m1-18v2m0 12v4m1-73v3m0 54v4m0 1v2m0 11v2m1-24v2m0 2v8m0 231v3m1-243v4m0 2v1m0 7v3m1-52v2m0 30v9m1-41v2m0 35v4m0 3v3m0 1v4m1-19v1m0 2v5m0 6v2m0 1v2m0 223v3m1-288v7m0 44v8m0 226v3m1-286v5m0 44v3m0 2v3m1 0v1m1-9v6m0 2v1m1-14v5m0 8v2m1-74v2m0 71v1m0 224v3m1-273v3m0 26v2m0 13v1m1-12v2m0 4v5m0 1v2m0 2v2m1-18v1m0 5v3m0 1v1m0 2v4m1-4v1m1-53v6m0 5v3m0 22v1m0 3v2m0 6v6m1-54v6m0 5v3m0 21v2m0 3v4m0 4v3m1-40v2m0 24v3m0 5v3m0 2v3m1-19v14m0 228v3m1-278v2m0 33v12m0 2v1m0 225v3m1-270v2m0 27v4m0 3v3m0 1v1m0 226v3m1-268v3m0 24v7m0 3v3m1-50v2m0 8v3m0 21v15m1-15v2m0 5v3m0 3v3m1-13v7m0 3v2m0 7v1m1-24v14m1-11v3m0 2v3m0 1v2m1-6v3m1-56v1m0 49v1m0 4v1m0 4v1m0 1v2m0 223v3m1-234v3m0 4v1m0 223v3m1-292v1m0 10v1m0 49v2m0 226v3m1-229v2m0 224v3m1-271v1m0 40v2m0 225v3m1-231v2m0 2v1m1-50v2m0 40v9m0 1v4m1-14v7m0 224v3m1-229v3m0 223v3m1-270v2m0 37v2m0 2v1m0 223v3m1-227v1m1-1v2m2 2v1m0 219v3m1-3v3m1-265v2m0 9v2m0 249v3m1-3v3m2-281v3m1 0v1m1-1v2m1-13v1m1 10v1m0 24v2m0 245v3m1-252v1m2-5v2m1-1v1m4-21v2m0 273v3m1-3v3m2-255v1m1 251v3m1-283v1m0 279v3m1-3v3m3-255v1m2 251v3m1-260v1m1 256v3m4-3v3m3-3v3m1-271v1m0 267v3m3-269v1m0 262v3m1 0v3m2-3v3m1-3v3m3-3v3m1-3v3m1-3v3m4-3v3m2-265v1m4 261v3m1-3v3m1-3v3m3-3v3m1-3v3m1-3v3m5-3v3m2-242v3m1-16v3m0 10v3m0 236v3m1-255v2m0 250v3m1-255v3m0 249v3m1-263v3m0 5v3m0 249v3m1-242v3m0 236v3m1-239v2m0 234v3m1-239v2m0 234v3m1-247v3m0 241v3m1-3v3m1-248v1m2-8v3m4-5v1m2 17v2m3-23v3m0 23v3m1 5v1m1-73v2m0 293v3m3-3v3m1-3v3m1-256v1m0 5v3m0 3v2m1-15v2m1-2v2m0 252v3m1-289v2m0 32v3m0 249v3m1-3v3m1-291v2m0 44v1m0 241v3m1-3v3m2-229v1m1-20v1m0 5v3m1 2v3m1-3v6m0 228v3m1-296v1m0 9v3m1-21v2m0 2v1m0 296v3m1-301v1m0 8v1m0 288v3m1-3v3m3-3v3m2-283v2m0 3v2m0 21v3m1-31v2m0 3v2m0 3v3m0 15v3m1-45v1m1 26v2m1-2v2m1 265v3m1-3v3m1-269v1m0 29v2m2-50v1m0 42v2m0 239v3m1-3v3m1-239v2m0 234v3m2-250v3m1-3v3m0 16v2m0 226v3m1-226v2m0 221v3m1-273v1m0 22v6m0 5v2m0 6v2m1-18v3m0 241v3m1-279v1m0 36v3m0 10v3m0 223v3m1-278v2m0 1v2m0 8v2m0 6v2m0 24v2m0 226v3m1-265v1m0 33v2m0 226v3m1-278v2m0 50v5m0 218v3m1-268v1m0 36v2m0 226v3m1-270v2m0 11v2m0 252v3m1-270v2m0 265v3m1-281v1m0 49v2m0 5v3m0 218v3m1-296v2m0 16v5m0 3v2m0 16v2m0 9v2m0 2v3m0 10v1m1-55v2m0 1v2m0 3v2m0 16v2m0 26v3m0 3v2m1-34v3m1 18v3m1-3v3m0 223v3m1-276v3m0 3v2m0 13v3m0 249v3m1-283v1m0 12v2m0 3v2m0 260v3m1-270v2m0 3v2m2 0v2m0 19v3m1-48v1m0 16v2m1-2v2m1-2v7m0 260v3m1-285v1m0 14v7m0 45v2m0 213v3m1-270v7m1-20v1m0 7v2m0 270v3m1-273v8m0 2v1m0 259v3m1-270v2m0 265v3m1-274v1m0 270v3m1-271v1m0 267v3m1-282v1m0 278v3m1-272v2m0 2v1m0 4v1m0 33v3m0 223v3m2-277v1m0 273v3m1-3v3m1-3v3m1-271v1m0 5v2m0 37v2m1-47v1m1 267v3m1-265v1m0 1v6m3 13v2m0 15v1m0 223v3m3-263v3m0 1v2m0 10v3m1-16v3m0 254v3m1-260v3m0 41v2m1-43v2m1-5v3m0 5v2m1-10v3m0 5v1m1-4v5m0 6v2m3-21v3m0 15v1m0 241v3m2-3v3m1-237v3m2 231v3m1-264v1m0 3v3m1 254v3m2-218v2m1 213v3m1-250v3m0 28v1m0 5v1m0 1v1m0 207v3m1-250v3m0 36v1m0 207v3m1-263v1m0 4v1m0 39v2m0 11v2m0 200v3m1-3v3m1-263v1m0 259v3m1-252v2m1 37v2m0 208v3m1-213v2m1-49v3m0 7v2m0 15v2m1 228v3m1-208v3m1-47v5m0 23v3m0 218v3m1-252v2m0 45v2m3-54v2m0 18v3m2-10v2m1 239v3m1-3v3m3-255v2m1 0v1m0 249v3m2-257v2m0 42v2m0 6v3m1-61v3m0 4v1m0 42v2m0 208v3m1-270v2m0 52v3m1-55v2m0 50v3m1-39v2m0 39v2m0 1v1m0 7v2m1-54v2m0 21v3m0 26v2m1-49v3m0 10v1m0 9v6m0 2v5m1-41v5m0 5v3m0 3v2m0 8v2m1-28v3m0 2v13m0 8v2m0 26v3m0 192v3m1-255v3m0 2v3m0 13v3m0 228v3m1-255v8m0 1v2m0 18v2m0 221v3m1-255v8m0 3v2m0 16v2m1-13v3m1-23v2m0 5v3m0 16v2m1-28v1m0 25v2m0 226v3m1-258v2m0 2v2m0 2v4m0 2v2m0 239v3m1-252v5m0 244v3m1-255v3m0 10v1m0 41v2m0 3v2m0 190v3m1-242v3m0 39v2m1 0v3m1-47v3m0 236v3m1-245v1m0 2v3m2 47v2m2-55v1m1 48v4m0 189v3m1-239v2m0 44v1m2-37v3m0 26v2m1-47v4m0 12v3m0 13v2m0 8v5m1-45v1m0 44v2m1 193v3m1-211v6m0 2v3m0 2v3m1-11v1m0 202v3m1-244v2m0 29v6m0 204v3m1-211v3m0 13v2m1-58v2m0 10v2m0 22v2m0 2v3m0 10v6m0 2v2m1-65v3m0 8v3m0 2v4m0 12v3m0 2v3m0 5v3m0 5v2m0 3v6m0 186v3m1-247v9m0 4v3m0 9v4m0 6v1m0 2v6m0 3v9m1-59v3m0 4v1m0 2v11m0 5v3m0 3v2m0 3v2m0 3v9m0 1v3m0 3v1m1-53v2m0 3v4m0 6v3m0 13v11m0 2v5m0 3v3m0 186v3m1-237v6m0 4v1m0 8v2m0 8v5m0 3v2m0 3v5m1-47v3m0 1v2m0 2v3m0 4v1m0 3v2m0 8v8m0 2v8m1-48v2m0 7v11m0 5v12m1-30v2m0 3v1m0 4v3m0 5v10m0 3v5m1-41v2m0 5v3m0 2v3m0 5v3m0 2v3m0 3v13m0 1v3m1-43v5m0 2v3m0 8v2m0 3v3m0 5v8m1-38v1m0 11v2m2-1v1m0 26v1m4-62v2m0 43v1m0 7v3m1-59v5m0 44v7m1-55v1m0 3v3m0 38v10m1-49v1m0 1v1m0 27v4m0 2v6m0 10v1m0 191v3m1-253v1m0 42v5m0 2v5m0 195v3m1-255v5m0 10v1m0 31v3m0 202v3m1-252v8m0 32v1m0 6v7m1-54v2m0 8v3m0 30v4m0 2v3m0 2v3m1-57v2m0 8v3m0 36v3m0 2v3m1-56v1m0 8v7m1-12v3m0 5v5m0 231v3m1-257v5m0 11v5m0 233v3m1-255v3m0 13v4m0 232v3m1-270v1m0 22v3m0 2v5m0 6v1m0 227v3m1-273v4m0 25v2m0 3v5m0 34v2m1-75v2m0 1v1m0 26v1m0 3v5m0 3v2m0 3v1m0 222v3m1-280v2m0 23v8m0 8v5m0 3v2m0 1v2m1-55v5m0 3v2m0 14v5m0 5v2m0 1v2m0 239v3m1-278v2m0 4v2m0 2v2m0 9v5m0 17v1m0 5v3m1-52v1m0 23v2m0 5v5m0 5v11m0 3v2m1-29v6m0 5v1m0 1v3m0 3v5m1-52v2m0 3v6m0 17v6m0 5v3m0 5v4m1-46v2m0 1v2m0 18v6m0 5v2m0 6v7m1-49v3m0 18v2m0 3v8m0 5v8m0 2v3m1-36v1m0 17v2m0 3v3m0 2v3m1-39v2m0 6v2m0 16v2m0 3v3m0 2v3m1-43v4m0 5v5m0 5v3m0 1v9m0 6v2m0 3v2m0 1v2m1-50v1m0 10v5m0 26v3m1-45v3m0 8v5m0 5v1m0 19v4m0 2v3m1-49v2m0 5v3m0 5v4m0 27v3m0 218v3m1-266v3m0 11v2m0 19v2m0 8v2m1-46v2m0 11v2m0 19v2m0 8v3m1-52v2m0 44v3m1-51v4m0 44v3m1-49v5m0 5v5m1-2v2m0 31v3m0 218v3m1-268v3m0 15v3m0 26v3m1-50v8m0 3v2m0 11v2m0 3v2m0 234v3m1-267v3m0 7v2m0 11v1m0 4v2m1-45v1m0 29v5m0 3v2m0 3v1m0 1v3m1-50v1m0 26v1m0 1v11m0 241v3m1-271v1m0 15v1m0 1v3m0 3v3m0 31v8m0 2v1m1-49v1m0 3v3m0 28v3m1-37v3m0 3v1m0 14v3m0 1v1m0 221v3m1-249v2m0 3v1m0 1v1m0 9v1m0 2v3m0 223v3m1-243v1m0 3v2m0 6v5m0 13v2m0 208v3m1-244v5m0 2v6m0 228v3m1-241v2m0 2v4m1 7v2m2 221v3m1-237v3m0 231v3m1-239v2m0 8v3m0 223v3m1-288v3m0 2v1m0 41v1m0 3v3m0 231v3m1-287v1m0 3v1m0 1v2m0 33v1m0 1v2m0 5v3m0 231v3m1-287v1m0 3v2m0 1v2m0 37v15m0 2v3m0 218v3m1-291v2m0 34v3m0 15v3m0 8v5m0 218v3m1-298v2m0 5v2m0 34v1m0 17v3m0 8v8m0 2v5m0 6v2m0 200v3m1-298v2m0 9v2m0 2v5m0 1v2m0 25v3m0 16v1m0 4v5m0 1v2m0 1v1m1-104v1m0 21v4m0 6v2m0 10v1m0 12v3m0 21v2m0 3v5m0 3v2m0 3v4m1-82v1m0 2v1m0 9v2m0 8v1m0 7v3m0 13v2m0 3v3m0 5v2m0 3v5m0 3v2m0 6v6m0 1v1m1-95v9m0 1v1m0 9v2m0 2v3m0 10v3m0 23v3m0 5v5m0 3v8m0 2v6m1-83v2m0 6v1m0 1v1m0 1v3m0 25v1m0 2v3m0 5v3m0 8v7m0 3v7m0 1v2m1-81v3m0 8v2m0 29v3m0 27v4m0 3v2m1-78v3m0 42v3m0 12v3m0 10v3m0 210v3m1-299v2m0 8v6m0 5v2m0 6v2m0 44v3m0 8v2m0 208v3m1-313v1m0 30v1m0 1v1m0 9v2m0 21v2m0 1v3m0 20v3m0 10v3m0 202v3m1-308v2m0 3v3m0 19v4m0 6v1m0 1v1m0 21v5m0 21v3m0 10v2m1-88v1m0 7v5m0 3v1m0 5v2m0 2v2m0 22v5m0 23v3m0 2v3m1-73v5m0 6v5m0 47v2m0 5v6m1-76v8m0 3v5m0 5v2m0 40v2m0 3v2m0 208v3m1-283v9m0 4v7m0 3v3m0 7v3m0 23v3m0 218v3m1-289v6m0 4v1m0 7v5m0 6v4m0 4v2m0 19v2m0 3v2m0 1v2m0 3v2m0 3v1m0 209v3m1-294v1m0 4v6m0 5v2m0 3v5m0 9v2m0 5v2m0 25v1m0 6v1m1-87v4m0 11v3m0 3v2m0 5v1m0 5v2m0 3v1m0 38v2m0 6v1m1-87v5m0 2v7m0 7v2m0 13v2m0 9v4m0 5v4m1-57v1m0 7v4m0 6v2m0 14v2m0 10v3m0 2v6m0 2v1m1-49v4m0 1v2m0 15v1m0 17v6m0 2v2m0 237v3m1-298v3m0 6v1m0 7v1m0 2v1m0 24v1m0 1v2m0 2v3m0 5v2m0 6v2m0 16v1m1-90v4m0 2v1m0 1v1m0 2v1m0 22v6m0 13v5m0 7v6m0 13v2m0 213v3m1-315v1m0 12v3m0 1v7m0 5v1m0 15v8m0 18v2m0 3v2m0 6v1m0 1v2m0 7v4m0 213v3m1-299v8m0 7v1m0 3v1m0 1v2m0 13v5m0 14v2m0 1v2m0 9v4m0 10v3m0 210v3m1-324v2m0 28v2m0 1v2m0 5v1m0 5v1m0 14v3m0 4v4m0 11v7m0 4v1m0 1v12m0 3v5m0 205v3m1-330v7m0 29v3m0 2v6m0 6v1m0 8v3m0 2v3m0 9v3m0 17v7m0 3v5m0 3v3m1-93v1m0 3v3m0 15v3m0 1v1m0 8v3m0 17v2m0 12v3m0 2v8m0 2v3m0 3v2m1-120v1m0 3v5m0 7v3m0 16v2m0 13v8m0 29v1m0 8v1m0 3v10m0 3v9m1-121v2m0 2v1m0 10v3m0 16v1m0 2v2m0 2v8m0 2v6m0 34v2m0 3v3m0 8v2m0 3v10m0 205v3m1-276v3m0 31v5m0 2v2m0 4v4m0 9v3m0 3v2m0 205v3m1-304v2m0 12v2m0 12v6m0 38v4m0 2v4m0 1v2m0 9v3m1-81v2m0 11v8m0 2v4m0 32v1m0 5v1m0 14v2m1-75v1m0 1v1m0 8v9m0 1v1m0 30v2m0 3v2m0 219v3m1-322v2m0 35v2m0 7v3m0 1v4m0 4v1m0 34v2m0 3v1m0 7v5m0 2v4m0 202v3m1-323v3m0 35v2m0 15v5m0 35v2m0 223v3m1-265v8m0 46v3m0 3v2m0 200v3m1-307v1m0 1v1m0 15v3m0 16v2m0 6v2m0 1v4m0 3v3m0 40v3m0 1v1m0 1v1m1-81v2m0 11v1m0 9v10m0 42v3m0 5v2m1-88v5m0 3v1m0 17v10m0 42v3m0 5v2m1-92v1m0 21v3m0 8v2m0 39v3m0 4v4m0 2v1m0 4v1m0 2v3m1-115v2m0 16v6m0 2v1m0 3v1m0 17v2m0 44v2m0 3v3m0 2v3m0 2v6m0 5v1m0 183v3m1-306v2m0 15v3m0 8v2m0 63v2m0 3v3m0 2v3m0 2v6m0 5v2m1-122v1m0 1v1m0 21v2m0 3v2m0 3v2m0 66v2m1-78v3m0 39v5m0 27v9m0 2v1m0 3v1m0 188v3m1-304v1m0 22v3m0 39v2m0 29v10m0 6v2m0 187v3m1-312v3m0 2v3m0 21v2m0 41v1m0 8v5m0 26v2m0 11v2m0 182v3m1-330v2m0 45v2m0 21v1m0 20v10m0 4v1m0 10v6m0 13v5m0 3v4m0 180v3m1-283v2m0 45v5m0 15v5m0 3v3m0 2v3m0 5v5m0 5v1m0 181v3m1-315v3m0 39v2m0 34v8m0 3v2m1-54v2m0 2v4m0 2v2m0 3v3m0 21v2m0 50v1m1-178v1m0 1v1m0 40v1m0 47v1m0 3v2m0 10v2m0 8v3m0 2v3m0 5v3m0 2v2m0 1v1m0 1v1m0 12v3m0 16v1m1-177v1m0 3v2m0 45v2m0 42v5m0 11v2m0 8v3m0 2v3m0 15v1m0 13v2m0 16v2m0 187v3m1-360v2m0 36v5m0 1v4m0 47v5m0 10v3m0 10v1m0 15v3m0 2v3m1-153v2m0 6v2m0 36v3m0 2v3m0 39v3m0 5v3m0 2v1m0 2v2m0 1v4m0 8v2m0 32v3m1-164v1m0 3v1m0 42v1m0 1v4m0 3v1m0 29v2m0 16v8m0 1v6m0 8v1m0 19v6m0 3v1m0 4v3m1-162v1m0 54v8m0 18v3m0 2v5m0 13v3m0 13v5m0 5v6m0 15v3m0 5v3m1-171v1m0 5v5m0 45v3m0 1v1m0 3v13m0 16v2m0 8v3m0 3v4m0 2v1m0 1v2m0 2v3m0 2v12m0 14v18m1-171v3m0 7v1m0 22v1m0 23v3m0 5v2m0 1v2m0 3v2m0 12v3m0 9v1m0 4v3m0 6v1m0 8v3m0 2v6m0 2v1m0 20v3m0 5v8m1-169v2m0 60v6m0 2v4m0 9v2m0 3v3m0 5v1m0 9v5m0 5v1m0 5v5m0 3v2m0 2v1m0 15v2m0 9v2m0 1v7m0 5v1m0 194v3m1-355v1m0 10v1m0 5v1m0 30v3m0 2v3m0 16v2m0 34v2m0 6v2m0 26v3m0 5v1m0 199v3m1-377v1m0 6v2m0 8v1m0 28v3m0 21v3m0 2v5m0 14v3m0 4v6m0 2v8m0 5v8m0 1v4m0 33v1m0 5v2m0 198v3m1-370v1m0 57v3m0 2v3m0 2v6m0 2v8m0 3v2m0 3v2m0 24v2m0 5v3m0 2v3m0 6v2m0 24v2m0 5v4m0 2v1m0 188v3m1-368v1m0 6v6m0 51v8m0 5v2m0 11v2m0 3v3m0 2v3m0 2v2m0 9v1m0 11v6m0 23v1m0 2v3m0 3v2m0 2v6m1-166v4m0 23v1m0 27v1m0 6v2m0 3v2m0 37v3m0 10v5m0 26v3m0 2v3m0 2v6m1-177v5m0 57v3m0 3v7m0 3v4m0 8v1m0 8v1m0 1v7m0 15v2m0 2v3m0 1v1m0 38v7m0 189v3m1-385v2m0 23v1m0 8v1m0 28v5m0 8v2m0 3v5m0 1v2m0 5v5m0 10v3m0 5v2m0 15v1m0 3v5m0 3v2m0 3v2m0 21v3m0 5v2m0 1v5m0 3v5m0 184v3m1-382v1m0 1v2m0 6v1m0 4v6m0 59v3m0 3v5m0 10v3m0 2v6m0 5v2m0 16v3m0 2v3m0 34v5m0 9v1m0 187v3m1-383v1m0 5v1m0 9v6m0 59v3m0 3v5m0 15v5m0 1v5m0 20v1m0 39v2m0 2v1m0 2v3m0 3v2m1-178v1m0 8v1m0 25v2m0 29v3m0 5v3m0 2v8m0 3v5m0 10v2m0 14v3m0 2v3m0 2v5m0 1v1m0 27v5m0 8v2m1-197v2m0 12v1m0 2v7m0 1v1m0 3v3m0 19v2m0 25v3m0 13v5m0 5v3m0 3v10m0 2v3m0 16v2m0 5v3m0 39v3m0 1v4m0 184v3m1-383v1m0 9v5m0 2v5m0 1v1m0 4v3m0 19v1m0 25v3m0 2v6m0 5v5m0 5v3m0 2v11m0 2v3m0 14v7m0 2v2m0 6v1m0 18v2m0 16v5m1-190v2m0 10v1m0 41v1m0 44v5m0 3v5m0 2v3m0 26v3m0 7v6m0 4v14m0 5v3m0 5v1m0 183v3m1-380v7m0 10v3m0 6v1m0 12v1m0 7v3m0 57v5m0 5v2m0 14v3m0 16v2m0 5v3m0 7v3m0 8v2m0 8v3m0 184v3m1-379v2m0 1v4m0 11v1m0 5v1m0 28v1m0 50v7m0 3v5m0 1v7m0 2v6m0 16v2m0 2v2m0 1v3m0 7v3m0 3v2m0 5v3m0 3v2m0 3v2m1-190v5m0 14v2m0 28v3m0 44v1m0 2v3m0 5v3m0 5v3m0 10v3m0 18v5m0 29v1m1-186v2m0 12v2m0 5v5m0 94v5m0 1v1m0 21v2m0 1v5m0 3v5m0 15v3m0 192v3m1-371v2m0 10v1m0 3v3m0 95v5m0 1v1m0 23v1m0 2v3m0 2v1m0 2v3m0 15v3m1-179v8m0 1v4m0 2v3m0 31v2m0 76v5m0 21v3m0 1v1m0 16v2m0 3v8m1-185v3m0 6v2m0 7v3m0 18v3m0 57v3m0 5v5m0 36v1m0 2v4m0 1v1m0 14v1m0 2v2m0 1v1m1-177v1m0 6v1m0 103v3m0 18v2m0 21v2m0 1v2m0 16v5m0 187v3m1-370v9m0 2v4m0 1v3m0 1v2m0 26v1m0 3v1m0 52v2m0 3v3m0 18v2m0 16v2m0 1v4m0 1v2m0 16v5m1-178v3m0 2v2m0 3v2m0 28v1m0 85v3m0 2v3m0 14v4m0 3v1m0 12v2m0 3v3m1-174v2m0 6v2m0 116v6m0 3v1m0 14v3m0 2v1m0 18v2m0 3v2m1-200v2m0 18v1m0 31v3m0 8v1m0 64v2m0 16v5m0 18v3m0 2v3m0 3v2m0 2v6m0 3v2m0 3v2m1-201v4m0 41v5m0 73v3m0 5v3m0 2v1m0 7v3m0 2v3m0 3v2m0 24v2m0 3v2m0 3v3m0 5v2m1-179v1m0 7v3m0 23v1m0 14v3m0 57v3m0 11v2m0 2v3m0 1v2m0 2v3m0 11v4m0 3v3m0 5v4m0 4v2m1-198v1m0 6v1m0 3v1m0 13v1m0 7v4m0 13v2m0 23v1m0 21v2m0 49v1m0 4v4m0 1v4m0 11v2m0 1v1m0 2v4m0 5v2m0 6v2m1-196v1m0 5v5m0 15v1m0 16v2m0 3v2m0 47v3m0 42v2m0 9v4m0 26v2m1-184v1m0 6v4m0 3v1m0 28v1m0 35v2m0 71v2m0 2v3m0 16v5m0 21v1m1-197v2m0 2v2m0 30v2m0 8v1m0 19v2m0 21v2m0 84v2m0 18v3m1-198v4m0 1v3m0 3v2m0 10v1m0 17v3m0 107v3m0 21v2m1-175v1m0 4v3m0 1v4m0 6v1m0 2v1m0 22v1m0 24v1m0 11v2m0 70v3m1-158v1m0 9v2m0 2v2m0 3v1m0 3v3m0 5v2m0 25v1m0 97v2m0 218v3m1-378v4m0 4v2m0 3v3m0 7v1m0 6v2m0 121v1m0 3v3m0 215v3m1-374v1m0 15v2m0 5v1m0 1v1m0 15v2m0 27v2m0 299v3m1-379v7m0 3v2m0 7v1m0 5v1m0 2v5m0 22v2m0 319v3m1-369v2m0 7v4m0 1v1m0 8v1m0 31v1m0 9v2m0 299v3m1-386v1m0 14v4m0 11v1m0 2v2m0 65v5m1-89v6m0 8v1m0 7v1m0 4v2m0 9v2m0 8v2m0 18v3m1-68v6m0 59v3m0 4v1m0 112v1m1-180v1m0 6v1m0 24v1m0 1v1m0 323v3m1-365v1m0 5v1m0 17v1m0 2v1m0 44v2m0 5v2m0 281v3m1-367v1m0 15v1m0 27v1m1-50v1m0 25v3m1-37v2m0 6v3m0 16v2m0 5v3m0 12v1m0 21v1m0 6v3m1-78v1m0 3v4m0 2v1m0 3v1m0 6v1m0 7v5m0 11v1m0 2v1m0 6v1m1-62v1m0 4v1m0 5v1m0 15v2m0 4v2m0 7v1m1-45v2m0 1v2m0 3v5m0 3v5m0 4v1m0 6v2m0 3v1m0 1v5m0 22v3m1-70v6m0 14v4m0 1v2m0 3v3m0 7v3m0 19v2m0 319v3m1-383v1m0 2v2m0 4v2m0 3v5m0 3v2m0 4v3m0 6v3m0 18v4m0 2v1m0 126v1m0 188v3m1-390v6m0 4v3m0 3v2m0 2v6m0 3v5m0 3v2m0 3v2m0 21v1m0 5v3m0 4v1m0 1v1m0 2v3m0 301v3m1-390v1m0 1v1m0 7v5m0 14v5m0 2v6m0 5v1m1-38v6m0 13v5m0 2v6m0 4v1m0 2v3m0 24v1m0 4v3m1-88v1m0 1v2m0 1v3m0 4v2m0 6v2m0 3v8m0 2v3m0 13v2m0 25v1m0 13v3m0 109v4m1-212v2m0 3v3m0 3v2m0 2v1m0 5v8m0 2v8m0 3v2m0 6v2m0 2v1m0 13v3m0 11v1m0 1v2m0 121v1m0 5v1m0 181v3m1-398v1m0 4v3m0 2v6m0 5v8m0 2v8m0 3v2m0 6v1m0 20v1m0 134v2m0 5v1m1-212v3m0 3v3m0 2v3m0 13v2m0 3v8m0 5v8m0 2v2m0 24v2m0 7v1m1-94v1m0 11v1m0 1v7m0 3v1m0 2v3m0 4v1m0 5v18m0 25v3m0 11v1m1-82v6m0 7v6m0 5v1m0 5v10m0 31v2m0 8v3m0 296v3m1-397v1m0 4v4m0 1v4m0 9v2m0 1v2m0 2v3m0 6v7m0 52v3m0 5v2m0 286v3m1-399v9m0 3v6m0 4v3m0 3v4m0 6v5m0 2v3m0 3v2m0 5v1m0 28v1m0 9v3m0 296v3m1-398v8m0 3v7m0 3v3m0 3v4m0 1v2m0 3v5m0 28v1m0 2v2m0 14v1m0 6v3m0 296v3m1-393v19m0 2v3m0 2v3m0 3v5m0 4v1m0 5v3m0 2v2m0 37v2m0 297v3m1-399v1m0 1v2m0 5v3m0 13v2m0 1v2m0 2v6m0 7v3m0 3v2m1-50v1m0 5v5m0 3v5m0 8v10m0 3v2m0 3v2m0 3v3m0 27v2m0 5v1m0 305v3m1-397v2m0 7v1m0 5v2m0 1v5m0 5v10m0 3v2m0 3v5m0 3v2m0 338v3m1-395v5m0 4v1m0 16v2m0 13v4m0 39v1m0 307v3m1-395v2m0 2v1m0 5v1m0 1v6m0 3v5m0 2v4m0 2v7m0 2v1m0 3v10m0 22v1m1-84v1m0 3v5m0 3v1m0 1v2m0 3v3m0 3v5m0 2v16m0 3v2m0 3v2m1-57v5m0 3v1m0 1v1m0 7v3m0 3v15m0 3v2m0 6v1m0 4v2m1-54v6m0 1v2m0 1v3m0 3v5m0 5v13m0 2v3m0 5v1m0 2v5m0 18v3m0 6v3m0 2v1m0 6v8m0 288v3m1-395v7m0 1v2m0 10v1m0 5v18m0 8v4m0 30v2m0 2v1m0 8v1m1-99v6m0 16v3m0 2v1m0 5v2m0 3v2m0 39v2m1-77v2m0 16v5m0 3v5m0 3v2m0 2v4m0 4v1m0 2v3m0 1v1m1-34v3m0 3v5m0 3v8m0 2v3m0 2v3m0 37v2m1-98v6m0 17v1m0 4v2m0 6v4m0 6v3m0 2v7m0 17v2m0 16v1m1-71v2m0 14v4m0 1v12m0 5v1m1-55v2m0 1v2m0 3v5m0 3v2m0 12v1m0 1v7m0 3v10m0 49v3m0 283v3m1-390v5m0 5v2m0 30v2m0 3v5m0 49v2m1-100v5m0 4v1m0 18v3m0 2v8m0 3v5m1-47v5m0 8v3m0 12v1m0 5v1m0 2v7m0 3v3m0 41v3m1-94v3m0 2v6m0 2v3m0 10v5m0 6v7m0 3v4m0 41v2m1-95v1m0 8v8m0 7v1m0 2v3m0 2v6m0 2v3m0 2v6m1-55v2m0 3v4m0 4v3m0 5v2m0 3v3m0 3v7m0 5v5m0 338v3m1-388v2m0 1v1m0 10v5m0 1v1m0 3v1m0 2v10m0 5v8m0 3v2m0 330v3m1-389v2m0 10v6m0 2v5m0 1v4m0 13v8m1-51v2m0 2v1m0 10v2m0 3v10m1-31v3m0 2v4m0 7v4m0 1v10m0 16v1m0 7v2m1-56v2m0 2v5m0 7v1m0 3v5m0 3v5m0 8v2m0 3v2m0 8v1m1-55v5m0 2v3m0 8v5m0 3v5m1-31v5m0 2v3m0 8v4m0 1v1m0 2v5m0 8v3m0 12v3m1-55v8m0 3v5m0 5v13m0 3v5m0 2v3m1-44v2m0 3v3m0 2v5m0 2v1m0 5v3m0 2v3m0 3v2m0 343v3m1-387v2m0 8v5m0 5v2m0 4v2m0 5v3m0 60v2m0 286v3m1-373v1m0 2v3m0 8v3m0 4v3m0 3v3m0 340v3m1-391v1m0 1v12m0 5v5m0 3v8m0 5v3m0 15v1m1-53v5m0 4v2m0 2v2m0 2v4m0 5v3m0 5v2m0 3v3m0 7v1m0 48v3m1-101v2m0 1v2m0 8v3m0 2v3m0 5v3m0 2v6m0 2v3m0 4v4m0 2v2m0 42v3m0 283v3m1-385v3m0 10v3m0 6v2m0 2v3m0 10v3m0 5v3m0 4v1m0 327v3m1-388v7m0 4v3m0 5v8m0 1v4m0 2v3m0 3v2m0 3v5m0 3v2m0 3v2m0 45v2m0 278v3m1-388v1m0 2v3m0 5v5m0 3v7m0 1v5m0 2v3m0 3v2m0 3v5m0 3v2m0 3v2m0 45v2m1-104v3m0 13v1m0 7v7m0 3v3m0 2v2m0 3v6m0 42v4m0 286v3m1-374v5m0 3v5m0 2v8m0 3v2m0 13v3m0 2v2m1-37v2m0 2v8m0 3v18m0 2v1m0 36v6m1-100v3m0 19v2m0 2v5m0 16v3m0 5v1m0 38v2m0 6v2m1-109v3m0 15v3m0 2v1m0 2v1m0 2v2m0 3v8m0 2v3m0 4v1m0 8v2m0 42v1m0 2v2m1-108v2m0 18v2m0 3v3m0 5v10m0 18v1m0 38v3m1-103v2m0 3v2m0 13v5m0 11v8m0 17v3m0 36v1m1-76v3m0 2v3m0 1v4m0 21v1m0 1v2m0 79v3m0 2v3m1-135v5m0 2v6m0 2v3m0 6v2m0 5v2m0 52v3m1-88v7m0 3v8m0 5v3m0 5v2m0 16v2m0 34v3m1-96v2m0 3v5m0 13v3m0 5v4m0 1v3m0 2v6m0 2v8m0 81v2m0 3v2m1-140v5m0 8v3m0 2v5m0 13v3m0 3v2m0 2v1m0 70v3m1-120v5m0 8v3m0 2v5m0 3v3m0 2v5m0 6v5m0 70v3m1-130v2m0 3v5m0 5v3m0 2v11m0 2v3m0 5v3m0 1v1m0 3v10m1-46v2m0 5v13m0 3v1m0 17v3m0 75v3m1-133v3m0 4v9m0 2v9m0 2v1m0 22v3m0 2v1m0 52v2m0 8v2m0 8v3m0 249v3m1-386v4m0 5v10m0 2v1m0 3v2m0 5v1m0 9v1m0 10v3m0 57v5m0 5v2m0 1v1m0 7v2m0 5v1m0 5v4m0 232v3m1-385v3m0 5v8m0 5v3m0 28v3m0 60v2m0 11v2m0 95v1m0 156v3"/>
<path stroke="#0099ff" d="M0 0m170 373v2m0 7v8m1-23v3m0 2v2m0 9v7m1-10v4m1 0v1m0 5v3m1-9v2m0 2v1m1-25v3m0 8v1m0 1v1m0 5v3m0 39v1m1-116v2m0 72v1m0 1v4m1-18v3m0 15v3m0 3v2m1-26v4m0 22v1m1-42v2m0 5v11m0 4v1m0 5v2m0 3v3m0 3v1m1-35v13m0 3v3m1-19v13m0 4v2m0 7v1m1-27v2m0 3v6m0 4v8m1-25v2m0 10v3m0 2v3m0 16v1m1-83v1m0 58v2m0 2v3m0 16v2m1-41v2m0 22v2m0 9v1m0 5v1m1-19v3m0 6v1m0 4v2m1-15v3m0 4v2m0 3v2m1-20v1m0 4v1m0 2v1m0 8v1m0 1v4m1-28v2m0 11v2m0 8v2m1-33v2m0 3v8m0 7v2m0 10v7m1-38v1m0 3v8m0 7v3m0 9v4m1-35v4m0 3v2m0 3v5m0 5v1m0 10v2m0 265v3m1-299v8m0 2v6m0 2v2m0 7v2m0 5v1m0 261v3m1-299v8m0 11v2m0 5v3m0 5v2m1-39v3m0 5v3m0 8v2m0 1v2m0 8v2m0 3v2m1-15v1m0 1v1m0 2v2m0 2v2m1-24v2m0 6v2m0 2v1m0 7v1m0 2v3m0 262v3m1-286v3m0 2v5m0 8v2m0 1v2m0 260v3m1-278v1m0 11v1m1-13v3m0 9v1m1-12v1m0 1v1m0 9v1m1-15v1m0 11v1m1-12v3m1 0v1m1-33v3m0 30v1m0 7v3m1-33v5m0 16v2m0 8v1m1-76v2m0 63v3m0 7v2m1-12v2m0 2v2m0 5v1m1-69v1m0 34v1m0 25v1m0 1v1m0 4v1m0 1v5m1-8v4m0 1v1m1-14v8m1-26v2m0 19v2m0 3v4m1-7v2m0 1v5m1-9v1m0 3v2m0 1v2m1-7v6m1-6v6m1-35v2m0 13v3m0 8v2m0 1v2m0 2v3m1-21v3m0 5v3m0 2v3m0 2v3m0 1v4m1-56v2m0 31v2m0 9v2m0 5v3m1-21v2m0 3v3m0 2v3m0 5v3m1-25v1m0 2v3m0 4v7m0 6v3m1-25v3m0 2v13m0 8v1m1-26v2m0 2v13m0 6v1m0 1v2m1-28v8m0 3v2m0 3v1m0 4v4m1-22v2m0 12v2m0 4v1m1-45v2m0 22v2m0 13v2m0 1v3m1-45v3m0 3v5m0 2v3m0 3v2m1-33v2m0 5v3m0 2v8m1-11v2m0 1v8m1-10v2m0 3v5m1-10v2m0 6v5m0 2v3m1-17v2m0 5v8m0 285v3m1-303v2m0 5v2m0 1v8m0 24v1m0 257v3m1-304v2m0 1v2m0 8v2m0 29v3m0 2v3m0 249v3m1-304v2m0 2v2m0 9v1m0 23v3m0 2v7m1-52v3m0 2v4m0 7v1m0 23v1m0 4v3m0 3v2m0 249v3m1-304v2m0 13v1m0 3v2m0 17v4m0 259v3m1-303v1m0 3v2m0 8v3m0 18v3m0 3v3m0 4v2m0 250v3m1-303v1m0 3v2m0 10v1m0 18v3m0 1v1m0 1v3m0 4v2m0 250v3m1-302v5m0 1v1m0 22v3m0 8v2m0 3v2m0 1v2m1-45v6m0 3v2m0 1v2m0 17v1m0 2v3m0 5v1m1-41v1m0 1v2m0 3v2m0 19v2m0 3v2m0 5v1m0 251v3m1-293v4m0 1v3m0 12v3m0 7v3m0 3v4m0 250v3m1-295v1m0 1v2m0 6v5m0 15v1m0 1v3m0 3v4m0 250v3m1-292v2m0 4v4m0 14v3m0 262v3m1-290v2m0 2v4m0 25v2m1-37v1m0 2v3m0 2v2m0 19v3m0 5v4m1-39v1m0 1v5m1 280v3m1-286v3m0 31v6m0 243v3m2-260v3m1-39v2m0 291v3m1-307v3m0 2v3m0 14v2m1-22v1m0 2v3m1 18v3m0 15v3m1-39v3m0 13v2m0 5v1m0 18v2m1-28v2m0 2v1m0 2v8m0 36v1m1-58v3m0 5v3m0 21v2m1-44v1m0 4v3m0 15v3m0 47v2m0 14v1m0 2v1m1-71v1m0 65v1m1-68v2m0 64v2m1-69v1m0 2v5m0 66v1m1-72v3m0 61v2m1-66v3m0 63v1m1-73v1m0 70v1m0 7v1m0 191v3m1-277v2m0 4v1m0 68v1m0 198v3m0 5v3m1-286v3m0 280v3m1-265v1m0 55v1m0 7v1m0 197v3m1-294v3m0 10v5m0 6v2m0 59v2m0 5v1m0 198v3m1-281v5m0 3v5m0 3v3m0 61v1m1-80v2m0 5v8m0 1v4m0 54v1m0 4v1m1-80v7m0 2v1m1-6v3m0 66v1m1-75v3m0 5v5m0 1v2m0 2v1m1-3v1m0 62v1m1-64v5m0 53v1m1-67v3m0 2v1m0 3v3m1-4v6m0 52v1m1-63v4m0 1v3m0 1v7m0 44v1m1-60v3m0 2v5m0 49v1m1-62v2m0 5v6m1-13v2m0 8v4m0 1v1m0 46v1m1-64v3m0 11v2m0 1v2m0 45v1m1-64v2m0 6v2m0 2v5m1-12v2m0 6v2m0 252v3m1-265v2m0 4v2m0 2v5m0 247v3m1-256v7m0 246v3m1-289v2m0 14v3m0 5v5m0 3v5m0 218v4m1-239v1m0 234v4m0 27v3m1-276v3m0 3v2m0 16v1m0 248v3m1-270v2m1-13v3m1-3v3m1-10v1m2 35v2m0 6v4m2-46v4m0 35v3m0 2v3m0 236v3m1-234v3m2-3v3m0 7v2m2-59v3m0 8v1m0 32v3m1-3v3m0 2v1m0 1v1m1-57v3m1-1v1m1 7v3m1 31v3m0 5v3m1-47v2m0 3v2m0 32v2m1-13v3m1-29v3m1-2v2m0 13v5m0 3v2m0 4v2m1-45v1m0 5v2m0 26v3m1-3v3m1-11v2m2-17v2m0 8v3m0 2v3m1-10v2m0 2v2m0 1v3m1-11v3m0 1v2m0 2v5m1-23v3m1 10v3m1-3v3m2 262v3m1-3v3m1-263v2m0 258v3m1-260v1m0 256v3m1-3v3m1-3v3m1-3v3m1-3v3m2-3v3m1-3v3m1-3v3m1-3v3m2-3v3m1-3v3m1-3v3m1-3v3m3-258v1m2-43v1m1 19v1m4-22v2m6 0v3m1-5v2m0 296v3m1-302v1m0 2v1m1-2v1m0 296v3m1-301v1m0 297v3m1-264v1m0 260v3m1-302v2m0 297v3m4-265v1m0 261v3m1-261v2m0 256v3m1-308v2m3 303v3m1-263v1m0 259v3m5-300v1m1-6v1m2 301v3m2-3v3m1-302v1m0 298v3m1-3v3m1-3v3m1-3v3m1-3v3m3-3v3m1-310v1m1 10v2m1-6v1m0 299v3m1-302v1m0 298v3m1-3v3m1-239v2m0 234v3m1-242v3m0 2v3m0 231v3m3-306v1m0 1v1m1 66v3m0 5v3m0 223v3m1-304v2m0 76v2m0 221v3m1-303v1m0 76v2m0 221v3m1-301v2m0 296v3m2-304v2m0 299v3m1-3v3m1-303v2m1 298v3m1-3v3m1-299v2m0 71v1m0 222v3m1-234v3m1 2v1m1-1v1m0 225v3m1-228v3m0 222v3m1-242v5m0 9v5m0 220v3m1-313v1m0 85v2m0 222v3m1-299v1m0 71v3m1-4v2m0 223v3m1-306v2m0 78v2m0 221v3m2-226v1m2-3v4m0 221v3m1-226v2m0 221v3m1-231v2m1-2v2m1 0v2m1-1v2m1-3v2m1-15v5m0 9v2m1-3v3m0 2v2m0 219v3m1-296v2m0 63v3m1-3v3m1-74v1m0 70v5m0 223v3m1-234v3m2 2v5m1-3v1m1-2v2m1 0v1m0 4v1m0 217v3m1-225v1m0 221v3m1-227v1m1-63v1m0 62v1m2-69v1m0 67v2m1-1v1m2-31v2m1-2v1m0 33v1m5-40v1m1-1v1m2 5v1m1-9v1m0 4v2m0 249v3m2-257v1m1-30v1m0 279v3m3-253v2m0 254v3m1-284v1m0 25v2m3-3v2m0 1v1m2-29v1m8-2v1m1 11v1m0 269v3m1-275v2m1-3v4m0 269v3m1-274v1m9 270v3m6-272v1m1 1v2m2-2v1m2-7v1m1 272v3m1-3v3m2-269v1m1-9v1m0 273v3m2-270v1m1 1v1m1 264v3m1-274v1m0 4v1m0 265v3m1-268v1m1-3v1m0 2v1m1-1v2m1 262v3m2-3v3m1-3v3m13-3v3m1-3v3m1-3v3m1-3v3m1-3v3m1-3v3m7-3v3m5-301v1m1 297v3m1-304v1m0 300v3m3-291v1m3 287v3m3-3v3m6-3v3m1-3v3m6-293v1m1 1v1m3-4v1m0 4v3m0 283v3m1-3v3m1-286v1m3 282v3m1-3v3m3-3v3m2-287v1m9 6v1m6 276v3m1-284v1m3 280v3m1-279v1m2 275v3m6-279v2m6 274v3m1-3v3m2-3v3m1-3v3m1-3v3m4-260v1m2 256v3m6-3v3m1-255v3m1 249v3m5-3v3m7-260v2m5 255v3m1-3v3m4-3v3m1-3v3m1-3v3m1-3v3m1-3v3m1-3v3m1-262v1m4-2v1m2 259v3m1-273v1m0 269v3m2-279v1m0 275v3m1-3v3m1-216v3m1-3v3m1-20v2m1 228v3m1-249v2m1-31v1m1 30v1m1-1v3m4-8v2m6 247v3m1-3v3m14-247v3m0 241v3m1-247v3m0 241v3m1-213v2m0 8v3m0 2v3m1-58v1m0 36v3m0 2v2m1-43v2m0 3v4m0 1v2m0 19v3m0 2v3m0 2v3m0 9v1m0 3v3m1-57v2m0 45v2m1-46v7m0 23v3m0 23v3m0 184v3m1-243v4m0 5v1m0 17v3m0 13v2m0 195v3m1-241v3m0 20v5m0 12v3m0 3v3m0 189v3m1-236v5m0 2v3m0 1v4m0 5v3m0 18v3m0 189v3m1-237v1m0 4v1m0 5v2m0 3v5m0 24v1m0 188v3m1-237v3m0 8v2m0 3v8m0 2v3m0 3v5m0 8v1m0 188v3m1-231v1m0 1v3m0 2v6m0 2v3m0 5v3m0 2v3m0 2v3m0 5v1m0 186v3m1-224v3m0 8v2m0 3v3m0 2v8m0 192v3m1-224v5m0 11v3m0 2v8m0 3v2m0 187v3m1-225v1m0 3v5m0 8v5m0 3v2m0 195v3m1-221v3m0 2v5m0 5v14m0 189v3m1-222v14m0 1v15m0 189v3m1-249v5m0 28v5m0 3v2m0 1v2m0 3v2m0 3v1m0 191v3m1-249v7m0 26v5m0 1v5m0 7v4m0 191v3m1-246v5m0 25v8m0 10v5m0 190v3m1-248v1m0 3v2m0 24v1m0 4v2m0 6v5m0 2v3m1-47v3m0 24v5m0 5v2m0 5v5m1-57v1m0 12v1m0 22v6m0 3v10m1-49v1m0 30v1m0 2v5m0 7v6m1-61v1m0 5v5m0 31v2m0 4v2m0 3v2m0 3v3m1-64v1m0 5v8m0 34v5m0 3v2m0 3v1m0 191v3m1-252v1m0 1v8m0 37v5m0 2v5m0 190v3m1-252v2m0 6v5m0 5v1m1-28v1m0 10v3m0 3v3m0 5v3m0 26v2m0 2v11m1-71v8m0 5v3m0 3v5m0 4v5m0 24v1m0 2v10m1-83v1m0 6v1m0 9v4m0 5v3m0 3v2m0 8v3m0 1v1m0 26v3m1-76v3m0 4v1m0 5v6m0 2v11m0 2v3m0 5v7m0 1v2m0 20v1m0 8v2m0 190v3m1-276v2m0 3v1m0 1v1m0 13v12m0 1v3m0 5v3m0 2v3m0 1v1m0 24v2m0 3v3m1-81v4m0 11v3m0 8v8m0 5v3m1-40v2m0 1v3m0 13v5m0 2v1m0 2v16m0 26v2m1-82v2m0 8v2m0 2v1m0 13v2m0 3v12m0 1v5m1-43v3m0 1v2m0 11v1m0 2v2m0 24v2m0 3v2m0 24v1m1-85v1m0 2v12m0 1v6m0 2v3m0 8v5m0 13v5m0 218v3m1-275v2m0 6v2m0 8v2m0 11v2m0 15v5m0 219v3m1-276v1m0 4v1m0 2v3m0 21v5m0 15v4m0 217v3m1-278v2m0 1v2m0 3v7m0 37v2m0 3v3m0 2v1m0 212v3m1-268v5m0 7v1m0 9v2m0 13v2m0 3v8m0 215v3m1-273v1m0 2v5m0 20v1m0 13v2m0 3v8m0 2v2m0 211v3m1-272v2m0 5v5m0 5v5m0 3v1m0 9v6m0 2v3m0 5v3m0 2v1m0 212v3m1-270v2m0 5v3m0 5v3m0 2v3m0 9v9m0 5v4m0 217v3m1-268v8m0 5v3m0 3v2m0 10v7m0 4v2m0 3v6m0 212v3m1-268v5m0 3v3m0 6v7m0 7v13m0 3v3m1-45v11m0 2v3m0 11v5m0 5v4m0 3v1m0 215v3m1-272v1m0 5v1m0 5v8m0 2v3m0 10v6m0 5v5m0 218v3m1-271v1m0 7v19m0 12v3m0 11v5m1-55v4m0 1v8m0 5v6m0 13v7m0 3v5m1-39v3m0 2v10m0 12v10m1-50v6m0 1v4m0 2v3m0 5v5m0 5v1m0 20v2m1-55v1m0 3v15m0 3v10m0 3v3m0 2v3m0 2v3m0 3v2m0 5v2m1-50v2m0 2v11m0 2v3m0 2v3m0 12v1m0 3v2m0 3v2m0 3v3m1-58v1m0 1v4m0 2v3m0 5v3m0 1v3m0 3v3m0 16v2m0 3v2m0 208v3m1-281v3m0 19v2m0 10v3m0 2v3m0 1v1m0 6v2m0 9v2m0 1v1m0 5v8m0 200v3m1-283v4m0 37v1m0 28v8m0 2v1m1-42v1m0 1v1m0 17v6m0 1v4m0 8v2m0 1v2m1-112v2m0 41v1m0 26v5m0 3v7m0 9v2m0 3v11m1-108v1m0 62v3m0 1v14m0 5v1m0 2v3m0 5v2m0 6v3m1-45v3m0 1v1m0 1v9m0 1v2m0 5v6m0 5v2m0 3v6m1-40v3m0 5v3m0 5v8m0 2v3m0 2v7m0 1v1m1-37v2m0 6v5m0 15v8m1-36v2m0 4v7m0 16v7m1-35v1m0 3v8m0 2v3m0 12v4m1-33v19m0 12v2m1-26v2m0 24v2m1-28v2m0 3v12m0 9v2m1-104v1m0 31v3m0 35v8m0 5v3m0 16v7m1-87v2m0 5v2m0 42v10m0 3v3m0 10v5m0 5v1m1-89v3m0 1v1m0 47v18m1-70v3m0 5v1m0 29v1m0 3v3m0 20v3m0 5v1m0 12v2m1-88v1m0 2v1m0 18v1m0 6v1m0 4v15m0 3v8m0 5v3m0 2v4m0 7v2m1-80v2m0 12v1m0 11v2m0 1v2m0 2v6m0 2v5m0 3v8m0 15v2m0 6v5m1-124v1m0 74v16m0 2v3m0 10v6m1-76v8m0 1v1m0 16v5m0 3v2m0 3v3m0 2v3m0 2v3m0 5v3m0 2v3m0 4v9m1-76v1m0 2v3m0 17v1m0 3v2m0 5v3m0 3v5m0 2v3m0 5v3m0 2v3m0 9v1m0 1v2m1-70v5m0 8v2m0 3v5m0 5v6m0 5v2m0 8v3m0 8v2m0 6v2m1-76v1m0 1v1m0 3v3m0 6v8m0 3v5m0 9v2m0 3v8m0 7v3m0 7v1m0 2v3m1-75v2m0 2v4m0 6v1m0 12v4m0 8v7m0 6v7m0 3v1m0 4v3m0 2v3m1-70v5m0 20v3m0 3v3m0 3v2m0 8v2m0 11v2m0 3v5m1-68v1m0 2v3m0 23v3m0 2v3m0 2v6m0 10v8m0 2v3m1-71v2m0 9v1m0 17v3m0 6v4m0 19v10m1-60v3m0 16v2m0 5v5m0 10v1m0 8v2m0 5v3m0 2v1m1-76v3m0 2v1m0 5v2m0 2v3m0 15v1m0 10v3m0 3v5m0 2v8m0 3v2m0 3v3m0 2v1m1-69v1m0 5v4m0 1v3m0 10v3m0 2v3m0 2v3m0 3v2m0 7v4m0 2v3m0 8v1m0 1v3m1-73v2m0 6v5m0 2v1m0 20v3m0 3v2m0 2v1m0 1v7m0 2v3m0 2v6m1-86v2m0 26v3m0 5v2m0 1v2m0 13v3m0 5v5m0 3v6m0 2v8m0 2v5m0 3v2m1-83v3m0 7v6m0 4v4m0 2v3m0 8v2m0 3v3m0 2v3m0 2v1m0 11v1m0 3v3m0 7v2m1-79v2m0 7v2m0 2v3m0 2v5m0 2v3m0 16v2m0 1v3m0 1v3m0 4v1m0 3v2m0 13v3m0 192v3m1-264v1m0 3v19m0 2v2m0 5v3m0 2v1m0 5v3m0 1v1m0 3v2m1-108v2m0 54v3m0 16v5m0 8v5m0 5v3m0 5v5m0 205v3m1-318v1m0 54v2m0 4v2m0 11v2m0 1v3m0 1v1m0 5v5m0 13v5m0 3v2m0 200v3m1-315v2m0 46v2m0 12v1m0 8v2m0 2v9m0 2v2m0 1v8m0 20v3m1-98v4m0 26v1m0 2v3m0 2v2m0 1v1m0 9v3m0 5v3m0 2v5m0 3v5m0 4v1m0 6v2m1-92v1m0 32v1m0 9v3m0 10v2m0 6v1m0 1v3m0 2v6m0 2v3m0 2v2m0 1v1m0 9v3m1-67v3m0 9v6m0 14v1m0 2v7m0 4v11m1-86v1m0 5v1m0 26v5m0 6v3m0 2v1m0 15v4m0 11v3m1-84v1m0 2v1m0 3v1m0 32v2m0 6v3m1-7v14m0 10v3m0 11v2m0 205v3m1-288v7m0 35v2m0 5v2m0 6v2m0 8v2m0 8v1m0 207v3m1-243v1m0 3v4m0 14v3m0 9v1m0 205v3m1-281v2m0 37v3m0 2v3m0 3v8m0 2v3m0 10v1m1-66v5m0 35v2m0 23v1m1-21v2m0 19v2m0 21v2m0 179v3m1-335v2m0 105v5m0 17v2m0 19v3m0 179v3m1-227v3m0 16v8m1-68v4m0 1v3m0 33v1m0 21v1m1-59v3m0 55v2m1-137v1m0 136v3m1-6v1m0 1v1m0 1v3m0 1v3m0 192v3m1-340v2m0 133v3m0 4v6m0 5v2m1-20v3m0 4v6m1-142v1m0 128v2m0 1v3m0 2v2m0 5v3m0 184v3m1-278v1m0 72v2m0 3v2m0 6v1m1-14v2m0 3v2m0 6v1m0 188v3m1-289v3m0 86v8m0 8v1m0 180v3m1-335v2m0 138v3m0 1v2m1-6v3m0 2v5m1-147v1m1 105v1m0 25v2m0 8v3m1-145v2m0 104v2m0 13v3m0 8v2m0 8v3m1-178v1m0 93v1m1-97v3m0 24v2m0 5v2m0 61v2m1-4v3m0 266v3m1-361v1m1-8v1m0 4v1m0 94v3m0 262v3m1-372v2m0 3v1m0 2v1m0 41v2m1-51v2m0 5v1m0 2v2m0 27v1m0 10v1m0 63v1m0 253v3m1-333v3m0 73v2m0 34v3m0 5v5m0 205v3m1-286v3m1-91v3m0 28v1m0 32v1m0 2v3m0 2v3m0 12v1m0 3v2m0 278v3m1-376v2m0 68v2m0 47v2m0 13v2m1-140v2m0 5v3m0 37v2m1-47v1m0 1v2m0 16v2m0 1v1m0 16v1m0 90v1m0 7v2m1-116v1m0 48v2m0 21v3m0 28v5m0 3v2m1-135v1m0 78v2m0 43v11m0 30v2m0 8v2m0 195v3m1-249v10m0 28v3m0 8v2m0 195v3m1-385v3m0 138v2m0 3v1m1-143v1m0 5v3m0 45v3m0 82v3m0 3v2m0 33v1m0 5v3m1-186v1m0 2v3m0 43v1m0 39v3m0 47v5m0 36v7m1-187v1m0 6v1m0 27v2m0 14v1m0 37v3m0 5v3m0 7v1m0 5v2m0 24v5m0 39v3m1-184v1m0 4v2m0 26v1m0 1v2m0 12v2m0 52v3m0 2v5m0 24v2m0 45v2m1-185v1m0 15v2m0 92v2m0 71v1m1-186v1m0 17v3m0 22v1m0 68v2m0 28v1m0 231v3m1-353v1m0 13v1m0 11v1m0 61v2m0 32v2m1-152v1m0 25v1m0 86v3m1-115v1m0 2v1m0 108v3m0 65v2m0 8v3m0 184v3m1-378v3m0 12v2m0 3v2m0 2v1m0 96v2m0 252v3m1-333v2m0 79v1m0 24v1m0 5v3m1-158v1m0 11v1m0 25v2m0 84v1m0 30v2m1-156v1m0 156v1m1-156v1m0 5v2m0 46v1m0 95v2m0 25v1m1-129v2m0 101v5m1-156v1m0 152v1m0 215v3m1-3v3m1-378v1m0 8v1m0 45v1m0 2v3m0 314v3m1-367v1m0 43v1m1-76v2m0 157v2m1-136v1m0 21v2m0 17v2m0 96v1m0 2v2m0 226v3m1-395v2m0 29v1m0 13v2m0 15v1m0 101v1m0 227v3m1-395v2m0 1v1m0 1v2m0 37v1m0 6v1m0 2v2m0 336v3m1-394v2m0 1v5m0 45v1m0 49v2m0 84v2m0 200v3m1-390v1m0 1v3m0 3v1m0 12v1m0 365v3m1-386v1m0 4v1m0 13v2m0 45v2m0 315v3m1-385v1m0 7v2m0 10v1m0 4v1m0 25v1m0 15v1m0 314v3m1-376v2m0 13v1m0 25v1m0 16v1m1-43v1m0 13v1m0 3v1m0 26v1m1-64v1m0 41v1m1 10v1m0 2v1m0 17v2m1-52v3m0 1v4m0 8v1m1-22v3m0 18v1m1-27v1m1 44v2m1-11v1m0 11v2m1-55v1m0 49v1m1-50v1m0 50v1m1-37v2m2-29v3m0 8v1m0 53v2m1-69v1m0 4v2m1-8v1m0 3v2m0 5v3m0 55v1m1-67v8m0 3v3m0 18v2m0 3v2m1-35v2m0 2v3m0 21v2m0 3v2m1-36v1m0 1v1m0 2v2m0 19v1m0 1v1m1-39v4m0 2v1m0 7v2m0 1v6m0 18v3m1-49v1m0 5v6m0 6v1m0 1v1m0 2v5m0 18v2m0 19v1m0 12v1m1-74v3m0 2v6m0 13v2m0 8v3m0 28v2m1-62v3m0 18v3m0 2v6m0 2v2m1-34v1m0 18v3m0 2v6m0 2v3m0 340v3m1-387v2m0 3v2m0 24v5m0 39v1m0 308v3m1-395v4m0 1v3m0 26v2m0 356v3m1-393v3m0 2v1m0 10v1m0 4v2m0 9v2m0 1v5m1-43v1m0 14v6m0 3v1m0 10v2m0 8v3m0 1v8m1-41v3m0 3v3m0 15v2m0 8v5m1-39v3m0 3v3m0 15v5m0 3v9m1-56v2m0 19v2m0 3v2m0 3v3m0 10v5m0 3v2m1-44v5m0 3v3m0 2v1m0 25v3m0 2v1m1-37v8m0 10v3m0 2v3m0 2v3m0 3v2m0 2v1m1-36v5m0 10v3m0 2v3m0 10v3m1-60v3m0 10v5m0 6v2m0 5v3m0 5v3m0 6v9m1-52v2m0 14v3m0 5v2m0 52v2m0 4v2m1-90v2m0 14v1m0 3v3m0 5v2m0 21v3m1-8v3m0 1v4m1-53v1m0 23v3m0 13v2m0 3v3m1-24v3m0 18v3m0 345v3m1-366v5m0 2v3m0 5v3m0 2v5m0 338v3m1-367v3m0 21v2m0 3v1m0 27v1m1-80v1m0 21v3m0 21v2m0 19v2m0 2v2m1-57v1m0 8v3m0 7v3m1-21v5m0 3v6m0 4v1m0 12v5m0 333v3m1-377v3m0 2v5m0 3v4m0 1v1m0 7v3m1-45v2m0 9v2m0 2v2m0 2v7m0 3v16m0 2v3m0 5v1m1-51v1m0 10v5m0 3v2m0 6v2m0 3v2m0 8v3m0 8v1m1-54v1m0 7v8m0 9v6m0 1v2m0 351v3m1-374v2m0 3v2m0 2v6m0 356v3m1-382v5m0 8v7m0 1v2m0 16v2m0 338v3m1-380v3m0 3v5m0 8v3m0 17v3m1-40v1m0 10v3m1-7v2m0 5v1m0 4v3m0 18v5m0 330v3m1-372v3m0 26v2m1-29v1m0 27v1m1-10v3m1-26v2m1-2v2m0 7v1m0 361v3m1-377v3m0 7v3m1-10v2m0 8v5m0 3v2m1-11v4m0 5v2m1-13v8m0 4v3m1-25v3m0 7v3m0 361v3m1-374v2m0 2v1m0 80v2m0 284v3m1-374v2m1 3v6m0 2v2m0 18v3m0 3v4m1-50v1m0 6v2m0 11v1m0 22v3m0 2v3m1-57v2m0 3v2m0 42v3m0 2v3m1-38v1m0 3v3m0 17v1m0 8v2m1-13v13m3-33v2m0 1v2m0 2v3m0 8v2m0 5v2m0 1v5m1-34v3m2 35v1m1-41v2m0 6v2m0 3v2m0 3v1m0 2v2m1-10v2m0 6v2m1-34v3m0 10v8m0 3v5m1 0v3m0 2v5m0 8v2m1-7v3m1-13v2m1-23v2m0 39v2m1-43v2m1 0v2m1 4v2"/>
<path stroke="#00b2ff" d="M0 0m170 321v2m0 52v1m0 1v5m1-8v1m0 2v1m0 3v2m1-8v1m0 1v1m1-62v1m0 63v4m1-9v3m0 5v1m1-8v1m0 1v2m1-80v2m0 81v1m0 1v1m1-85v2m0 72v3m0 5v2m0 1v2m1-12v3m0 4v2m0 1v2m1 0v2m1-9v2m0 4v1m1-7v2m1 3v2m1-8v2m0 1v1m0 4v2m1-77v1m0 66v4m0 4v2m1 0v2m1-9v2m0 3v1m0 3v2m1-10v2m0 5v2m1-17v1m0 4v2m0 1v3m0 3v2m0 1v1m1-82v2m0 114v1m1-52v3m0 4v2m0 2v1m0 3v2m1-17v3m0 5v2m0 1v1m0 4v1m1-27v3m0 2v3m0 11v4m0 4v2m1-9v2m0 1v4m1-6v5m1-5v1m1-74v2m0 72v1m0 1v2m0 3v1m1-9v7m0 2v1m1-8v2m0 4v2m1-9v3m0 6v2m1-9v1m0 6v2m1-8v1m0 7v1m1-88v1m0 84v1m1-8v3m0 6v1m1-9v2m0 6v1m1-8v1m0 4v2m1-7v2m0 1v2m0 2v1m1-7v4m0 2v1m0 8v3m1-15v5m1-1v1m0 1v1m1-6v3m2-3v3m1-1v1m0 12v3m1-13v1m0 6v3m2-72v2m1 0v1m0 57v2m1-2v2m0 3v1m1-6v5m1-5v2m0 2v1m1-63v1m0 46v4m0 7v2m0 2v2m1-63v1m0 43v2m0 13v6m1-21v2m0 13v6m1-7v3m0 11v3m1-15v4m1-3v1m1-54v2m1 8v2m1-1v1m1 0v3m1-3v3m0 8v2m1-12v5m1-5v5m0 2v1m1 1v1m1-7v4m0 32v2m1-36v2m0 30v3m0 4v3m1-48v5m0 6v2m0 3v1m0 23v3m0 2v2m1-42v3m0 3v2m0 30v4m1-42v3m0 4v3m0 28v4m1-42v1m0 1v1m0 6v2m0 26v2m0 3v1m0 251v3m1-291v3m0 2v1m0 25v1m0 2v2m0 252v3m1-291v3m0 2v3m0 23v5m1-34v1m0 28v3m1-34v2m0 3v1m0 17v3m0 1v1m0 3v3m1-33v4m1-23v1m0 20v2m0 283v3m1-291v2m0 3v2m0 281v3m1-3v3m3-3v3m1-3v3m7-278v2m1 67v2m1-3v1m0 3v1m1-1v1m1-5v1m1-1v1m1 0v1m0 4v1m1-7v1m0 5v1m1-6v1m0 4v1m1-6v2m0 196v3m1-200v1m0 5v1m0 190v3m1-199v1m1-1v1m1-70v3m0 8v1m1-6v2m0 62v1m0 3v1m1-69v2m1 61v1m1-1v1m1-67v3m0 2v3m1-2v2m0 58v1m2-55v1m0 52v1m2-50v2m1 48v1m1-54v3m0 2v1m0 48v1m1 171v4m1-4v4m1-262v1m0 34v2m2 252v3m3-289v1m13 54v2m0 1v1m4-9v2m4-10v1m2-46v1m4 27v1m1-2v2m1-20v2m11-7v1m1 3v2m0 279v3m4-294v2m2-3v2m1-4v1m3-3v1m6 37v1m5 0v2m6-45v1m0 299v3m1-299v2m2-7v2m2 0v3m6-5v2m12-5v2m0 302v3m1-305v1m9 301v3m1-3v3m3-304v2m1-5v2m1 3v1m3-6v1m5 303v3m3-244v2m3-69v2m1 5v1m0 3v1m1 71v3m1-76v2m0 71v3m1-75v1m2-3v2m3-3v1m1 59v1m2-56v1m1-1v1m1 73v1m3-4v3m1-74v1m1-8v2m0 76v2m2-1v1m1-3v3m0 222v3m1-228v1m0 224v3m2-226v1m1-1v1m2-69v2m0 66v1m1-1v1m1 0v4m1-16v1m1-62v2m0 1v1m3-2v1m0 35v1m0 1v1m0 33v2m2-3v4m2-69v1m5 28v1m1-1v1m4-31v2m0 283v3m1-288v1m1 0v1m1-7v2m1 9v1m1 3v1m1-7v1m2 3v2m8 5v2m2-2v2m3 271v3m10-270v1m1 0v1m14 265v3m1-3v3m5-272v2m1-3v1m1 0v2m1-2v1m3 268v3m4-268v1m4-5v3m9 2v2m4 262v3m1-3v3m1-3v3m1-263v1m0 259v3m1-3v3m1-3v3m15-296v2m0 291v3m1-302v1m0 298v3m1-295v1m1 0v3m5-3v2m2 3v1m2-7v1m9 3v1m1-1v2m1-1v2m3-15v1m1 13v2m10 5v1m7-5v1m1-1v1m1 2v1m0 1v2m0 276v3m1-3v3m1-3v3m1-278v2m1-7v2m2 0v2m4-4v1m11 10v2m9 267v3m1-3v3m1-3v3m1-3v3m1-3v3m33-263v3m2-4v1m5-15v1m1-3v1m1 276v3m1-3v3m1-3v3m2-276v1m1-4v1m3 6v1m5 2v2m13 264v3m1-3v3m3-249v1m6-7v3m1 1v2m0 2v3m1-6v4m1-1v4m0 53v1m1-58v6m0 43v3m1-47v6m1-6v5m0 3v2m1-6v1m0 3v3m1-2v2m0 5v2m0 11v5m0 3v2m0 3v2m0 3v5m1-65v1m0 24v6m0 3v3m0 2v3m0 2v3m0 3v2m0 8v2m1-36v5m0 5v1m0 2v8m0 3v2m0 8v3m1-60v2m0 21v4m0 9v5m0 8v3m0 2v4m1-32v5m0 3v2m0 5v5m0 14v1m1-61v2m0 3v2m0 19v4m0 14v1m1-48v1m0 29v4m0 3v2m0 5v3m0 5v3m1-42v3m0 20v3m0 5v1m1-31v2m0 19v4m1-26v2m0 20v2m0 18v2m1-41v1m0 1v2m0 16v1m0 1v2m1-24v2m0 1v2m0 18v2m1-20v1m0 16v1m0 5v1m0 207v3m1-250v3m0 31v5m0 19v1m0 188v3m1-255v3m0 39v5m1-47v3m0 40v1m0 1v5m0 5v2m1-57v1m0 4v3m0 14v1m0 24v3m0 2v8m0 3v1m1-61v2m0 3v3m0 11v4m0 21v1m0 2v2m0 11v1m1-77v1m0 2v2m0 11v2m0 3v3m0 14v2m0 20v2m0 1v2m1-74v1m0 8v3m0 3v3m0 4v5m0 13v3m0 5v3m0 26v6m1-97v1m0 13v1m0 8v5m0 6v2m0 28v1m0 2v1m0 18v1m0 2v2m0 2v3m1-73v1m0 4v8m0 31v3m0 17v1m0 11v2m1-79v4m0 5v2m0 32v2m0 24v9m1-108v2m0 28v1m0 5v6m0 31v1m0 1v1m0 25v5m1-72v8m0 7v3m0 21v6m0 20v2m0 1v6m0 188v3m1-269v1m0 2v2m0 1v3m0 2v3m0 16v2m0 18v2m0 18v4m0 1v5m0 186v3m1-264v1m0 6v2m0 3v2m0 29v2m0 19v5m1-84v1m0 13v8m0 2v5m0 8v3m0 17v5m1-48v15m0 30v4m1-47v6m0 7v3m0 29v2m0 1v2m1-60v2m0 1v2m0 5v6m0 2v2m0 3v4m0 2v5m0 21v1m0 1v3m1-67v2m0 6v2m0 7v6m0 2v3m0 2v5m0 1v5m0 21v2m0 2v1m1-5v2m0 1v2m1-55v3m0 13v2m0 3v5m0 3v1m0 12v2m0 4v5m1-60v2m0 21v2m0 3v5m0 3v2m0 22v2m0 2v2m1-48v2m0 16v2m0 19v2m1-31v1m0 4v3m0 2v1m0 14v1m0 3v5m0 2v1m1-53v3m0 13v10m0 19v10m1-57v1m0 20v12m0 3v5m0 3v3m0 7v2m0 206v3m1-264v1m0 8v5m0 6v13m0 15v10m0 203v3m1-252v2m0 10v12m0 10v13m0 202v3m1-270v2m0 16v5m0 5v5m0 1v5m0 3v4m0 3v4m0 3v1m1-24v3m0 8v2m0 8v5m0 2v1m1-26v12m0 1v3m0 2v3m0 2v3m0 5v1m0 15v1m1-66v5m0 7v1m0 5v3m0 2v11m0 2v3m0 2v6m1-50v3m0 23v9m0 2v1m0 1v5m0 8v1m1-73v2m0 14v2m0 13v2m0 1v7m0 3v2m0 3v13m0 8v2m0 1v2m1-58v1m0 14v1m0 1v7m0 3v3m0 2v2m0 6v1m0 17v2m1-46v2m0 5v3m0 7v4m0 2v3m0 16v2m1-23v2m0 6v2m0 2v6m0 3v4m1-69v1m0 51v2m0 2v3m0 6v4m1-39v3m0 16v2m0 12v1m0 1v2m1-26v5m0 3v1m0 4v2m1-65v1m0 1v1m0 10v2m0 35v5m0 8v3m1-27v3m0 16v5m0 2v2m0 4v6m1-81v1m0 5v1m0 54v2m0 4v6m0 2v2m0 3v1m1-34v2m0 5v15m0 4v2m0 2v4m1-35v3m0 2v3m0 12v3m0 5v1m0 2v5m1-115v1m0 43v3m0 40v2m0 3v7m0 1v2m0 3v3m1-71v1m0 7v3m0 2v1m0 38v3m0 3v10m0 5v5m0 1v2m1-123v1m0 101v20m1-54v2m0 1v3m0 18v2m0 8v3m0 1v2m0 2v8m0 2v2m1-89v2m0 5v1m0 11v2m0 52v2m0 7v5m1-87v2m0 6v1m0 10v1m0 13v2m0 6v2m0 33v4m0 7v2m1-127v1m0 61v11m0 40v2m0 7v1m1-78v1m0 22v3m0 2v3m0 3v2m0 42v4m1-82v2m0 16v3m0 2v3m0 54v2m1-74v2m0 13v5m0 6v2m0 34v2m0 1v2m1-110v1m0 39v2m0 19v2m0 3v3m0 36v2m1-108v1m0 41v2m0 4v6m0 3v1m0 4v2m0 3v3m0 7v6m0 7v3m0 13v3m1-108v1m0 31v3m0 6v3m0 4v7m0 1v4m0 3v3m0 8v8m0 5v8m0 10v5m1-108v1m0 30v2m0 18v5m0 3v5m0 3v2m0 3v2m0 6v7m0 16v6m1-65v1m0 6v3m0 2v5m0 13v16m0 16v5m1-61v5m0 1v6m0 12v10m0 1v5m0 5v5m0 6v5m1-60v2m0 5v5m0 3v1m0 5v2m0 3v3m0 5v2m0 19v2m0 1v5m1-60v10m0 3v2m0 3v2m0 3v3m0 2v7m0 18v1m0 3v4m1-116v1m0 54v7m0 3v3m0 1v6m0 3v3m0 2v2m0 1v1m0 20v8m1-60v2m0 2v1m0 5v10m0 3v5m0 14v2m0 8v2m0 5v3m0 2v1m1-55v1m0 2v5m0 2v3m0 18v3m0 2v3m0 3v7m0 2v3m1-120v1m0 48v2m0 15v1m0 2v7m0 2v4m0 2v1m0 12v3m0 2v13m0 3v3m0 5v2m0 1v1m1-80v3m0 19v2m0 2v5m0 3v2m0 11v3m0 2v16m0 192v3m1-317v2m0 56v2m0 18v8m0 5v5m0 3v5m0 8v13m1-124v4m0 47v1m0 3v1m0 22v1m0 1v5m0 5v13m0 10v11m1-73v3m0 7v2m0 1v2m0 19v2m0 2v1m0 8v5m0 2v1m0 10v2m0 13v1m1-137v1m0 58v1m0 4v2m0 31v3m0 5v3m0 2v3m0 8v2m0 6v1m1-70v3m0 3v3m0 22v1m0 3v2m0 11v2m0 2v1m0 1v9m0 3v3m0 7v2m1-76v9m0 45v10m1-58v6m0 25v6m0 3v2m0 8v3m0 15v3m1-68v6m0 28v3m0 5v3m0 2v3m0 8v2m0 4v1m1-31v3m0 5v2m0 3v3m0 8v2m1-147v1m0 92v2m0 6v2m0 24v4m0 1v13m0 7v1m1-58v2m0 32v4m0 9v3m1-15v5m0 2v2m0 3v5m0 4v1m1-22v5m0 2v2m1-136v2m0 127v4m0 9v2m0 5v1m1-149v1m0 128v3m0 9v2m1-10v1m1-5v3m0 11v3m0 1v3m1-155v2m0 133v8m0 5v7m1-17v3m0 2v3m0 2v3m1-154v1m0 141v1m0 3v3m1-10v2m0 8v5m0 2v1m0 181v3m1-202v2m0 8v5m0 184v3m1-199v1m0 6v2m0 3v4m1-8v4m1-4v4m0 2v1m1-8v8m1-5v4m1 0v1m4-180v1m0 360v3m1-372v1m0 35v1m0 332v3m3-374v2m1 3v2m0 7v1m0 356v3m1-372v1m0 9v1m0 3v1m0 4v3m0 19v1m1-34v3m0 19v1m0 5v1m1 332v3m1-370v1m0 1v1m0 25v1m0 55v3m1-99v1m1 5v2m1 2v2m0 35v2m1-1v1m1-44v2m0 3v3m1-16v2m2 146v1m3-166v2m0 31v1m0 98v2m1-60v2m1-5v2m1 1v1m2-54v1m0 12v1m1-13v2m1-23v1m0 22v1m3 57v1m1-55v1m1-8v1m1 0v1m0 8v1m1 46v1m1-53v1m0 7v1m0 41v1m0 322v3m1-409v2m0 404v3m1-397v2m0 30v1m1-33v2m1-1v1m0 2v1m0 22v1m0 7v1m1-7v1m0 4v2m1-6v1m0 47v3m1-69v2m5 66v1m7-8v1m3 5v1m2-76v1m0 1v2m1 17v3m5-3v2m2 45v1m0 5v2m1 4v1m1-89v1m1 86v1m1-35v1m0 33v1m1-93v2m0 91v1m1-89v1m2 20v3m0 34v2m1 0v2m0 1v1m0 29v1m1-15v1m1-59v6m0 56v1m1-79v1m0 83v2m1-95v1m0 82v1m4 14v1m1-3v1m0 305v3m1-398v1m0 93v1m0 300v3m1-348v2m0 40v2m0 301v3m1-367v3m1-31v1m0 27v3m1-12v2m0 7v3m1-8v3m0 2v6m1-8v6m1-4v2m2-2v3m3 361v3m1-3v3m1-3v3m1-3v3m1-393v1m4 36v1m7-12v3m3-30v2m3 96v2m5-60v3m0 13v3m1-19v3m3-42v1"/>
<path stroke="#00ccff" d="M0 0m170 376v1m1-2v2m0 1v3m1-5v1m0 1v2m2-2v2m1 2v1m1-6v2m0 3v1m1-5v5m0 2v1m0 44v2m1-53v4m0 2v1m1-6v5m1-2v4m1-77v1m0 72v2m0 1v2m1-76v1m0 72v1m1-4v1m0 1v4m1-4v4m1-5v7m1-5v1m0 4v2m0 240v4m1-250v2m0 2v1m0 241v4m1-249v3m1-5v2m0 5v1m1-7v2m0 1v3m1-5v1m0 1v4m1 0v1m1-83v1m0 77v1m1 242v4m1-247v3m0 1v3m0 236v4m1-4v4m1-240v1m1-5v2m0 1v1m1-4v6m1-6v6m1-5v1m0 2v4m1-7v1m0 2v2m1-4v1m0 4v1m1-6v2m0 3v1m1-6v4m1-3v1m0 2v2m1-2v2m2-2v3m0 10v3m8-3v3m3-11v2m1-2v2m1 8v3m2-11v1m7-39v3m3-3v1m0 2v4m1-2v3m1-3v3m0 30v1m1-37v6m0 32v2m1-37v3m1-3v4m1-4v6m0 30v1m1-2v2m3-32v3m13-21v1m4 97v1m0 1v1m1-4v1m1 0v1m0 2v1m1-4v1m3 0v2m1-1v1m1 2v1m1 0v1m1-4v1m0 3v1m1-96v2m0 93v1m1-2v1m1-4v1m1-1v1m0 2v1m1-1v1m1-4v1m1-1v1m1-1v1m1-88v1m7 1v1m9 0v2m4-6v1m3 2v2m2-4v1m3 4v2m7-5v1m3-3v1m2 3v1m3 4v1m5 22v1m12-1v1m2-2v1m4-20v2m17 16v1m4-46v3m0 4v2m1-11v2m1 43v2m13-43v1m25 61v1m9-56v2m7 55v1m2-58v1m5 1v1m0 53v1m3 16v1m1 0v1m3-2v1m1 0v2m1-76v2m0 72v2m1-68v2m0 65v1m1-69v1m7 60v2m15 223v3m4-279v1m12 6v1m3 0v1m11 2v1m60 12v2m9-47v1m5-2v2m6 8v1m1-6v3m0 5v2m8-4v2m2-8v1m3-4v2m8 1v2m10 10v1m4 7v1m8-3v1m11 2v1m8 9v1m4-7v3m25-9v2m1-5v1m2 2v2m7 5v1m3-19v2m25-5v1m0 6v1m5 39v1m5-42v2m0 36v1m3-4v2m1-44v1m1 37v1m2 3v2m2 1v3m1-5v2m1 5v1m1-5v5m1-6v3m0 5v4m1-57v3m0 42v1m0 5v2m0 3v6m1-21v2m0 14v4m0 2v2m1-21v1m0 3v1m0 15v2m1-25v2m0 2v5m0 3v3m0 8v2m0 5v3m0 10v3m1-42v2m0 1v3m0 16v2m1-22v1m0 2v6m0 10v3m1-31v2m0 11v5m0 9v1m0 2v2m0 4v3m1-8v7m1-18v2m0 10v5m1-20v5m0 12v3m1-71v2m0 51v1m0 2v1m0 11v4m0 1v1m1-76v1m0 47v1m0 10v1m0 13v4m1-19v1m0 1v2m0 13v1m0 2v2m1-5v2m1-15v1m0 1v1m0 12v3m1-1v2m0 1v1m1-44v2m0 37v2m0 2v3m0 3v2m0 8v1m1-35v1m0 17v3m0 17v1m1-77v2m0 55v2m1-63v1m0 5v3m0 54v5m1-20v1m0 11v3m0 1v2m0 2v1m1-65v4m0 42v2m0 14v1m0 1v3m0 2v3m1-70v2m0 1v2m0 36v5m0 18v1m1-84v1m0 18v2m0 38v1m0 1v4m0 17v2m1-20v2m0 20v1m1-67v1m0 3v2m0 41v1m0 15v2m1-20v3m0 21v2m1-24v2m0 15v2m0 2v5m1-25v2m0 15v1m0 2v8m1-69v5m0 39v1m0 12v8m1-61v3m0 33v1m0 19v2m0 3v3m1-63v2m0 37v3m0 13v2m0 3v2m1-93v2m0 4v1m0 63v4m0 13v1m0 5v2m1-88v2m0 32v3m0 24v2m0 2v2m1-33v3m0 26v2m0 2v1m1-36v5m0 23v2m0 1v4m1-37v4m0 3v2m0 24v2m0 1v2m1 0v1m1-6v2m0 2v4m1-1v1m0 13v2m1-83v2m0 66v1m0 1v1m0 11v1m0 3v1m1-45v3m0 11v1m0 3v9m1-27v2m0 21v6m1-3v2m0 1v2m0 8v2m0 2v1m1-44v2m0 24v5m0 9v1m1-76v1m0 31v3m0 29v3m0 10v3m1-48v3m0 2v3m0 26v1m1-35v3m0 3v2m0 37v1m1-35v2m0 21v2m0 12v1m1-67v2m0 32v3m0 30v1m1-71v1m0 36v3m1 15v2m1-23v3m0 1v1m0 2v1m0 10v4m0 1v2m1-65v1m0 39v5m0 13v2m0 3v1m1-24v3m0 5v2m0 12v1m1-19v4m0 10v3m0 1v3m1-33v3m0 16v3m0 8v2m1-13v4m0 8v1m1-111v1m0 93v1m0 15v2m2-121v1m0 120v1m1-15v2m0 12v2m0 9v1m1-26v5m0 7v2m1-80v1m0 15v3m0 61v2m1-14v1m0 2v4m0 1v5m1-13v1m0 2v5m0 4v1m1-13v2m0 1v7m0 2v1m1-11v1m0 2v1m1-4v2m0 6v1m1-8v2m0 5v3m1-117v1m0 108v1m0 4v3m1-118v1m0 49v3m0 5v3m0 50v2m0 2v3m1-66v1m0 3v2m1-1v1m0 57v1m1-64v1m0 2v5m0 6v2m0 48v2m1-1v2m1-56v3m0 3v1m0 46v3m1 2v1m0 6v1m1-62v2m0 51v1m1-54v2m0 7v2m0 43v3m0 4v1m1-11v3m1-73v2m0 3v1m0 51v3m0 13v5m1-77v1m0 3v3m0 49v3m0 13v8m1-78v2m0 2v3m0 42v2m0 1v10m0 8v7m1-76v1m0 52v3m0 2v3m0 2v3m0 4v5m1-72v3m0 65v5m1-10v3m0 2v4m1-22v5m0 5v6m1-134v2m0 119v2m0 3v8m0 2v4m1-20v2m0 6v6m0 2v4m1-56v1m0 1v1m0 2v1m0 30v1m0 13v5m1-156v2m0 101v1m0 35v6m0 6v3m0 2v1m1-16v2m0 10v4m1-16v2m0 2v6m0 5v2m1-16v2m0 4v3m0 5v2m1-16v1m0 5v3m0 2v5m0 3v1m1-18v1m0 6v6m1-15v11m0 3v1m1-9v5m1-7v2m0 3v2m0 3v2m1-7v6m14-185v2m2-11v1m4-12v2m0 45v2m0 9v1m1-61v2m0 7v1m0 14v1m0 36v1m1-52v1m1 8v1m1-13v1m0 2v1m3-5v1m1 51v1m1 1v1m2-69v2m1 62v2m1-61v1m0 38v1m1-29v1m2 55v1m2-73v1m2 5v1m3 51v1m1-38v1m0 6v1m1-28v1m0 20v1m0 5v2m1-6v1m0 5v2m1-6v3m0 3v1m0 43v2m1-52v2m0 4v2m0 40v1m0 5v1m3-44v2m0 38v2m1-45v1m0 2v1m1 0v2m1-2v3m1-36v1m0 32v3m1-37v2m2 0v2m3 4v2m1 52v2m1-57v1m0 1v1m4 2v1m3 70v1m1-85v1m4 87v3m1-19v1m1-74v1m0 84v1m5 0v1m3-88v1m2 90v2m3-10v1m5-84v1m1 91v1m1-90v2m1-2v1m16 2v1m1-2v1m4-3v1m1 2v2m4 1v1m6 95v2"/>
<path stroke="#00e5ff" d="M0 0m173 377v3m1 0v3m1-3v2m1-3v3m4 64v3m1-64v1m5 0v2m3-1v5m3-1v2m3-1v1m3 1v1m3-1v2m1-2v2m1-1v1m0 2v1m1-1v1m7 9v3m1 5v3m4-5v3m5-2v3m13-50v2m27 88v1m1-2v3m1-1v1m1 0v2m1-4v4m1-5v2m0 2v1m1-2v2m1-2v2m1-3v1m0 1v1m0 1v1m1-4v1m0 1v1m1 0v1m1-1v1m1-3v2m3-3v3m4-4v1m19-89v1m4 283v3m1-3v2m65-298v1m41 59v1m25-2v1m132-55v1m43 12v2m13 10v1m32-7v1m2 8v1m3 3v2m5 1v2m1-20v2m9 11v2m5-24v2m3 5v1m1-8v1m3 14v3m7-7v1m2 1v3m4 9v1m1-18v3m2-10v2m2 5v1m2 9v1m10-8v1m0 7v2m4 22v1m2-4v2m0 2v3m1-7v4m0 1v4m1-48v1m0 41v1m0 6v2m1-50v1m0 44v3m0 1v1m1-7v2m0 5v3m1-13v4m0 1v3m0 2v4m0 4v2m1-14v2m0 2v2m0 1v5m0 2v1m1-14v3m0 8v3m1-17v1m0 3v5m0 4v1m0 2v4m1-11v10m1-10v5m0 3v1m0 1v2m1-12v5m0 5v3m1-13v2m0 2v1m0 7v2m1-25v1m0 14v1m0 6v2m0 2v1m1-66v1m0 54v2m0 6v3m1-21v1m0 10v1m0 9v3m1-73v2m0 32v2m0 26v2m0 6v5m0 2v1m1-16v1m0 11v1m1-43v1m0 30v1m0 1v2m0 7v3m1-12v2m0 9v3m1-2v1m0 2v2m0 17v2m1-22v3m1-3v1m0 1v2m1-69v1m0 58v2m0 6v1m1 3v1m1-12v1m0 7v3m0 2v1m1-78v1m0 19v1m0 43v1m0 11v6m1-18v2m0 13v2m1-16v2m0 13v3m1-16v2m0 11v2m1-15v2m1-1v3m0 14v2m1-18v3m0 11v1m0 1v2m1-16v1m0 10v1m1-13v1m0 1v1m0 12v1m0 2v3m1-18v2m0 10v1m0 2v3m1-17v1m0 9v3m0 2v4m1-23v2m0 2v1m0 16v5m1-21v1m0 16v1m1-24v1m0 4v2m1-65v1m0 63v1m0 15v5m1-89v1m0 68v2m0 13v4m1-17v2m0 14v3m1-19v5m0 5v3m1-86v1m0 3v1m0 69v1m0 1v2m0 5v4m0 1v3m1-17v3m0 9v4m1-88v2m0 72v2m0 9v1m1-10v1m0 9v2m1-4v1m0 1v3m1-89v1m0 10v1m0 65v1m0 3v3m0 2v1m1-75v2m0 63v1m0 8v2m1-10v1m0 7v1m1-9v2m0 7v3m1-12v2m0 1v2m0 4v4m1-72v1m0 58v2m0 1v1m1-4v2m0 9v2m1-62v2m0 29v2m0 15v1m0 2v1m0 3v2m1-26v3m0 12v2m0 2v1m1-2v1m1 1v1m1-16v1m0 13v1m1-15v1m0 13v2m1-16v3m0 12v2m1-1v2m0 6v2m1-10v1m0 7v3m1-10v2m0 5v2m1-11v2m1 0v1m1-14v2m0 10v1m1-13v2m1-1v1m0 20v1m1-18v8m1-10v2m0 2v2m0 1v3m1-9v2m0 1v2m0 3v2m1-9v4m1-2v2m0 3v3m1-8v1m0 1v4m1-6v2m0 1v3m1-1v2m0 1v2m1-4v2m1-2v2m1 1v3m1-4v2m0 3v3m1-5v2m1-5v6m3-74v2m0 63v3m1-3v3m1 0v2m1-2v2m1-10v2m0 6v1m0 1v5m1 0v1m1-20v1m0 3v2m1-43v1m0 53v2m1-13v3m0 6v2m1-11v3m1 3v5m0 2v1m1-15v4m0 5v3m1-13v5m1-3v6m21-188v1m2 3v2m6-10v2m1-5v2m3-3v2m1-11v2m3 60v1m2 2v2m1-8v1m1-16v1m0 29v1m4-1v1m2-59v1m1 1v1m0 4v1m1-28v1m0 22v2m0 1v2m1-24v1m0 20v1m0 1v3m1-31v1m0 1v1m0 27v3m0 41v1m1-73v1m0 26v2m0 49v1m1-51v1m1 0v2m0 2v1m1-3v4m1 0v1m4-29v2m1-6v2m1 2v3m4 57v1m15-66v1m0 82v1m2-12v1m2-75v1m6 73v1m0 15v1m7-90v2m0 73v1m3 19v1m0 1v2m11-92v2"/>
<path stroke="#00ffff" d="M0 0m178 294v3m14 93v1m11 5v2m1-2v2m15 14v3m44 43v1m1-1v2m2-1v2m3-1v1m1 0v1m1-1v2m1-2v1m2-1v2m1-2v2m2-1v1m187 197v3m18-277v3m2-8v3m3 2v3m1-8v3m8 0v2m1-2v2m1-2v2m23 8v3m5-3v3m5-3v3m3-3v3m8-43v3m8 0v2m21-5v3m109 25v1m8 1v1m17-6v1m2 8v2m5 10v1m5-8v1m5 21v1m1-18v1m1 17v1m0 5v2m1-29v1m1 19v1m0 6v1m1-4v3m1-4v1m0 3v2m1-2v2m0 2v1m0 5v2m1-24v1m0 18v3m1-30v1m0 24v4m0 1v2m2-2v3m1 0v2m1-2v4m1-24v1m0 16v2m0 1v3m0 2v2m1-8v3m1-3v3m0 3v3m1-46v2m0 38v1m0 4v1m1-7v1m0 6v4m1-2v2m1-1v3m1-4v3m0 1v1m1 0v2m1-2v2m0 1v1m1-6v6m0 2v2m1-10v2m0 3v2m1-69v2m0 60v2m0 8v2m1-2v1m1-10v2m0 9v2m1-78v1m0 65v1m0 11v1m1-11v1m1-1v1m0 2v1m0 8v2m1-12v1m0 9v2m1-11v1m0 8v2m1-11v1m0 7v2m1-11v1m0 1v1m0 9v2m1-3v3m0 131v2m1-143v1m0 7v1m0 4v1m1-14v1m0 11v4m1-15v2m0 9v1m0 1v3m1-16v2m0 9v1m0 3v2m1-17v3m1-1v2m1-75v1m0 77v2m0 4v5m1-9v3m1-3v3m1-6v6m0 2v1m1-8v1m0 6v2m1-8v7m1-8v4m0 3v1m1-6v1m0 5v2m1-89v1m0 1v1m0 78v1m0 5v2m1-7v3m0 2v2m1-89v2m0 81v7m1-7v1m0 2v1m0 2v1m1-7v1m0 1v2m0 2v3m1-9v1m0 5v3m1-8v2m0 3v2m1-82v2m0 69v1m0 2v1m0 3v2m1-7v1m1 1v2m1-3v2m0 7v2m1-10v1m0 7v1m1-8v1m1 0v1m1-2v2m1 0v2m1-4v1m0 6v1m1-82v1m0 4v2m0 68v3m0 3v2m1-9v1m0 1v1m1-4v1m1-1v1m0 7v2m1-9v2m1-10v2m0 6v2m1-9v1m0 7v2m1-4v3m1 0v1m1-8v1m0 4v2m1-2v3m1-2v1m0 5v3m1-8v5m1-5v5m0 1v2m1-4v3m1-5v3m9-4v1m5-147v2m29 2v1m10-59v3m1 31v3m1 17v2m3-5v1m1-4v1m0 20v1m1-61v1m6 6v1m3 45v1m1-43v2m0 46v1m1-49v4m1-2v2m3-26v2m4 52v1m30 11v1m5 191v3m7-179v3m27 305v3m1-3v3m1-3v3m4-3v3m1-3v3m1-3v3"/>
<path stroke="#1affe5" d="M0 0m272 462v1m5-2v1m171-55v1m169-24v1m77-3v1m11 7v2m14-4v3m4 6v1m0 11v1m2-14v2m0 6v1m1 5v1m4 0v1m0 15v2m1-31v1m1-6v2m2 37v3m1-3v3m1-34v2m0 31v1m1 2v3m1-3v3m1-11v2m0 7v2m0 1v1m1-5v2m0 3v1m1-3v5m1-5v6m1-3v2m0 3v1m1 0v1m1-4v1m0 1v2m1 5v1m2-3v2m1-7v3m0 6v1m1-7v2m0 4v3m1-9v2m0 7v2m1-9v1m0 6v3m1-7v2m0 1v2m0 1v2m1-9v2m0 4v3m1-8v2m0 4v2m1-8v3m0 2v2m1-6v1m0 6v2m1-8v2m0 3v2m1-6v2m0 4v1m1-7v1m0 8v2m1-9v2m0 5v2m0 1v1m1-11v2m0 4v3m0 1v3m1-12v1m0 4v1m0 3v3m1-11v5m0 3v3m1-11v2m0 6v1m1-6v2m1-2v2m1 3v2m1-6v6m2-3v3m1-4v2m1-2v5m1-2v2m2 0v2m1-2v2m1-5v5m1-3v1m1-83v1m0 3v1m0 75v2m0 3v2m1-8v3m0 4v3m1-86v1m0 1v1m0 76v1m0 3v1m1-6v1m0 4v2m1-7v3m0 1v3m1-6v6m1-73v2m0 66v5m1-5v5m1-84v2m0 80v2m1-6v3m1-83v1m0 84v1m1-6v1m0 1v4m1-7v6m1-6v7m2-5v1m1 0v1m1-2v3m1-2v3m0 1v2m1-7v3m1-2v3m1-2v3m1 0v2m1-2v1m55-189v2m6-11v1m0 29v1m0 9v1m1-40v1m1 1v1m2 0v2m1 1v1m1-2v1m0 1v1m1-1v1m5-24v1m48 93v1"/>
<path stroke="#33ffcc" d="M0 0m687 380v1m36 15v1m0 7v1m0 1v1m0 3v2m2-31v2m1 28v1m3-19v3m3-6v1m0 1v1m4 7v1m3 39v1m1-2v3m5 5v1m2 2v3m1-3v3m1-2v6m1-4v4m1-4v2m0 1v4m1-6v6m1-7v2m0 3v1m0 2v1m1-5v4m1-3v4m1-3v2m1-3v2m0 1v3m1-4v3m1-2v4m1-5v3m0 2v3m1-5v5m1-5v1m0 2v1m1-4v4m0 1v3m1-3v3m1-6v1m15 7v1m1-1v1m0 2v1m1-3v3m1-4v4m1-2v1m4 0v1m1-1v3m1-3v2m4-4v6m1-5v1m0 3v1m1-4v4m1-3v2m1-1v1m1-2v2m64-152v1m2-46v1m1-1v3m1-2v1m0 2v1m1-2v1m1 0v1m0 1v1m1 0v1m14 35v2"/>
<path stroke="#4dffb2" d="M0 0m661 394v3m3-19v1m6 0v1m3-3v2m7-3v1m17 6v1m20 21v1m6-1v1m1-16v2m1-15v2m1 33v1m25 42v1m6 4v1m3 2v2m2-1v2m3 2v3m16 3v2m14 0v3m72-195v2m2 1v1"/>
<path stroke="#66ff99" d="M0 0m501 384v2m154 3v1m29-17v1m13 7v2m28-4v1m14-5v2"/>
<path stroke="#80ff80" d="M0 0m680 383v1m43 4v3m30-8v3m29 9v1"/>
<path stroke="#ccff33" d="M0 0m254 599v2m125-72v5m1-5v5m85 126v3m199-284v1m32 219v2m1-2v2m1-2v2m24-124v1m79 121v2m1-2v2m1-2v2m15-2v2"/>
<path stroke="#e5ff1a" d="M0 0m664 380v1m278 282v3"/>
<path stroke="#ffff00" d="M0 0m171 475v3m10-3v3m9-3v3m9-3v3m7-3v3m10-3v3m6-3v3m25-3v3m12 142v3m1-3v2m1-2v3m5-148v3m12-3v3m17-3v3m9 179v2m8-49v5m4-5v5m25-140v3m5-3v3m12 51v5m1-5v5m1-5v5m16 76v5m56-140v3m23-3v3m6-3v3m10-3v3m8-3v3m55-3v3m24 132v5m18-261v3m28 118v3m1-3v3m0 121v2m1-126v3m5 121v2m23-126v3m22 126v3m33-8v2m11 9v5m9-4v3m1-137v1m1 121v2m10-2v2m6 10v3m27-15v2m62-2v2m26-2v2m1-2v2m2-2v2m3-2v2m9-2v2m51-2v2m1-2v2m42-2v2"/>
<path stroke="#ffb300" d="M0 0m466 660v3m12 0v3"/>
<path stroke="#ff9900" d="M0 0m171 620v3m1-19v3m1-3v3m21-17v3m12-293v3m17 228v3m1-3v3m1 70v3m1 10v3m1-89v3m1-3v3m5 70v3m11-76v3m1-3v3m1-3v3m2-3v3m0 65v2m10-70v3m1-3v3m1-3v3m10 70v3m5-76v3m1-3v3m8-3v3m1-3v3m7-3v3m1-3v3m1 70v3m1-3v3m8 10v3m7-89v3m1-3v3m18-3v3m1-3v3m1-3v3m7-3v3m2-3v3m1 70v3m6-8v2m1-70v3m1-59v3m0 53v3m0 70v3m1-76v3m13-3v3m10-59v3m2 53v3m1-3v3m2 70v3m1-3v3m4-76v3m2 77v3m3-15v2m4-70v3m1-3v3m7-3v3m2-59v3m6 53v3m8-3v3m5 70v3m1-3v3m9-3v3m4-76v3m1-3v3m4-3v3m6 70v3m1-3v3m1-76v3m1-3v3m1-3v3m6-3v3m3-63v7m18-3v3m29 126v3m1-3v3m10-132v3m1-3v3m21 126v3m5-116v3m1 37v3m1-3v3m2-3v3m1-3v3m1-3v3m9 76v5m4-84v3m0 76v3m2-82v3m0 65v2m1-70v3m0 65v2m1-70v3m3 65v2m7-247v3m3 247v3m2-3v3m63-132v3m0 126v3m3-261v2m14 262v5m21-353v2m11 346v5m32-16v2m9-250v3m8 245v2m45 3v3m19-3v3m1-3v3m46 3v5m1-124v3m1-3v3m2-3v3m3-3v3m0 110v3m11-116v3m9 37v3m35-3v3m1-3v3m18 70v3m1-3v3m18 3v5"/>
<path stroke="#ff4c00" d="M0 0m176 531v3m1-3v3m45-220v2m224 114v6m9 4v3m60 113v2m1-2v2m109 46v3m93-3v3m6-3v3m17-3v3m99 3v5m13-11v3m76-3v3m1-3v3"/>
<path stroke="#ff0000" d="M0 0m193 599v2m23-70v3m49-3v3m41-3v3m1-3v3m25-3v3m1-3v3m13 77v3m31-83v3m55-3v3m28 129v3m30-135v3m1-3v3m1-3v3m1-3v3m14-3v3m29-3v3m1-3v3m19 22v2m60-27v3m1-3v3m10-3v3m1-3v3m37 77v3m1-83v3m3 77v3m1-3v3m1-3v2m22-3v5m112-59v2m1-2v2m15 46v3m62-76v3m5 70v3m27-3v3m5-3v3m1-3v3m32 3v5"/>
<path stroke="#990000" d="M0 0m293 561v3"/></g>
</g>
<rect x="170" y="666" width="800" height="1" fill="#fff"/>
<g shape-rendering="crispEdges" fill="#000">
<rect x="169" y="135" width="802" height="1"/>
<rect x="169" y="667" width="802" height="1"/>
<rect x="169" y="135" width="1" height="533"/>
<rect x="970" y="135" width="1" height="533"/>
<rect x="187" y="132" width="1" height="3"/>
<rect x="187" y="668" width="1" height="2"/>
<rect x="209" y="132" width="1" height="3"/>
<rect x="209" y="668" width="1" height="2"/>
<rect x="232" y="132" width="1" height="3"/>
<rect x="232" y="668" width="1" height="2"/>
<rect x="254" y="132" width="1" height="3"/>
<rect x="254" y="668" width="1" height="2"/>
<rect x="276" y="132" width="1" height="3"/>
<rect x="276" y="668" width="1" height="2"/>
<rect x="299" y="129" width="1" height="6"/>
<rect x="299" y="668" width="1" height="5"/>
<rect x="321" y="132" width="1" height="3"/>
<rect x="321" y="668" width="1" height="2"/>
<rect x="343" y="132" width="1" height="3"/>
<rect x="343" y="668" width="1" height="2"/>
<rect x="365" y="132" width="1" height="3"/>
<rect x="365" y="668" width="1" height="2"/>
<rect x="388" y="132" width="1" height="3"/>
<rect x="388" y="668" width="1" height="2"/>
<rect x="410" y="132" width="1" height="3"/>
<rect x="410" y="668" width="1" height="2"/>
<rect x="432" y="129" width="1" height="6"/>
<rect x="432" y="668" width="1" height="5"/>
<rect x="455" y="132" width="1" height="3"/>
<rect x="455" y="668" width="1" height="2"/>
<rect x="477" y="132" width="1" height="3"/>
<rect x="477" y="668" width="1" height="2"/>
<rect x="499" y="132" width="1" height="3"/>
<rect x="499" y="668" width="1" height="2"/>
<rect x="521" y="132" width="1" height="3"/>
<rect x="521" y="668" width="1" height="2"/>
<rect x="544" y="132" width="1" height="3"/>
<rect x="544" y="668" width="1" height="2"/>
<rect x="566" y="129" width="1" height="6"/>
<rect x="566" y="668" width="1" height="5"/>
<rect x="588" y="132" width="1" height="3"/>
<rect x="588" y="668" width="1" height="2"/>
<rect x="611" y="132" width="1" height="3"/>
<rect x="611" y="668" width="1" height="2"/>
<rect x="633" y="132" width="1" height="3"/>
<rect x="633" y="668" width="1" height="2"/>
<rect x="655" y="132" width="1" height="3"/>
<rect x="655" y="668" width="1" height="2"/>
<rect x="677" y="132" width="1" height="3"/>
<rect x="677" y="668" width="1" height="2"/>
<rect x="700" y="129" width="1" height="6"/>
<rect x="700" y="668" width="1" height="5"/>
<rect x="722" y="132" width="1" height="3"/>
<rect x="722" y="668" width="1" height="2"/>
<rect x="744" y="132" width="1" height="3"/>
<rect x="744" y="668" width="1" height="2"/>
<rect x="767" y="132" width="1" height="3"/>
<rect x="767" y="668" width="1" height="2"/>
<rect x="789" y="132" width="1" height="3"/>
<rect x="789" y="668" width="1" height="2"/>
<rect x="811" y="132" width="1" height="3"/>
<rect x="811" y="668" width="1" height="2"/>
<rect x="834" y="129" width="1" height="6"/>
<rect x="834" y="668" width="1" height="5"/>
<rect x="856" y="132" width="1" height="3"/>
<rect x="856" y="668" width="1" height="2"/>
<rect x="878" y="132" width="1" height="3"/>
<rect x="878" y="668" width="1" height="2"/>
<rect x="900" y="132" width="1" height="3"/>
<rect x="900" y="668" width="1" height="2"/>
<rect x="923" y="132" width="1" height="3"/>
<rect x="923" y="668" width="1" height="2"/>
<rect x="945" y="132" width="1" height="3"/>
<rect x="945" y="668" width="1" height="2"/>
<rect x="967" y="129" width="1" height="6"/>
<rect x="967" y="668" width="1" height="5"/>
<rect x="165" y="652" width="4" height="1"/>
<rect x="971" y="652" width="4" height="1"/>
<rect x="165" y="630" width="4" height="1"/>
<rect x="971" y="630" width="4" height="1"/>
<rect x="165" y="607" width="4" height="1"/>
<rect x="971" y="607" width="4" height="1"/>
<rect x="161" y="585" width="8" height="1"/>
<rect x="971" y="585" width="8" height="1"/>
<rect x="165" y="562" width="4" height="1"/>
<rect x="971" y="562" width="4" height="1"/>
<rect x="165" y="540" width="4" height="1"/>
<rect x="971" y="540" width="4" height="1"/>
<rect x="165" y="517" width="4" height="1"/>
<rect x="971" y="517" width="4" height="1"/>
<rect x="161" y="495" width="8" height="1"/>
<rect x="971" y="495" width="8" height="1"/>
<rect x="165" y="472" width="4" height="1"/>
<rect x="971" y="472" width="4" height="1"/>
<rect x="165" y="449" width="4" height="1"/>
<rect x="971" y="449" width="4" height="1"/>
<rect x="165" y="427" width="4" height="1"/>
<rect x="971" y="427" width="4" height="1"/>
<rect x="161" y="404" width="8" height="1"/>
<rect x="971" y="404" width="8" height="1"/>
<rect x="165" y="382" width="4" height="1"/>
<rect x="971" y="382" width="4" height="1"/>
<rect x="165" y="359" width="4" height="1"/>
<rect x="971" y="359" width="4" height="1"/>
<rect x="165" y="337" width="4" height="1"/>
<rect x="971" y="337" width="4" height="1"/>
<rect x="161" y="314" width="8" height="1"/>
<rect x="971" y="314" width="8" height="1"/>
<rect x="165" y="292" width="4" height="1"/>
<rect x="971" y="292" width="4" height="1"/>
<rect x="165" y="269" width="4" height="1"/>
<rect x="971" y="269" width="4" height="1"/>
<rect x="165" y="247" width="4" height="1"/>
<rect x="971" y="247" width="4" height="1"/>
<rect x="161" y="224" width="8" height="1"/>
<rect x="971" y="224" width="8" height="1"/>
<rect x="165" y="202" width="4" height="1"/>
<rect x="971" y="202" width="4" height="1"/>
<rect x="165" y="179" width="4" height="1"/>
<rect x="971" y="179" width="4" height="1"/>
<rect x="165" y="157" width="4" height="1"/>
<rect x="971" y="157" width="4" height="1"/>
</g>
<rect x="991" y="136" width="19" height="531" fill="url(#cb)"/>
<g shape-rendering="crispEdges" fill="#000">
<rect x="990" y="135" width="21" height="1"/>
<rect x="990" y="667" width="21" height="1"/>
<rect x="990" y="135" width="1" height="533"/>
<rect x="1010" y="135" width="1" height="533"/>
<rect x="1009" y="653" width="1" height="1"/>
<rect x="1009" y="640" width="1" height="1"/>
<rect x="1009" y="627" width="1" height="1"/>
<rect x="1009" y="613" width="1" height="1"/>
<rect x="1009" y="600" width="1" height="1"/>
<rect x="1009" y="587" width="1" height="1"/>
<rect x="1009" y="573" width="1" height="1"/>
<rect x="1009" y="560" width="1" height="1"/>
<rect x="1009" y="547" width="1" height="1"/>
<rect x="1009" y="534" width="1" height="1"/>
<rect x="1009" y="520" width="1" height="1"/>
<rect x="1009" y="507" width="1" height="1"/>
<rect x="1009" y="494" width="1" height="1"/>
<rect x="1009" y="480" width="1" height="1"/>
<rect x="1009" y="467" width="1" height="1"/>
<rect x="1009" y="454" width="1" height="1"/>
<rect x="1009" y="440" width="1" height="1"/>
<rect x="1009" y="427" width="1" height="1"/>
<rect x="1009" y="414" width="1" height="1"/>
<rect x="1009" y="401" width="1" height="1"/>
<rect x="1009" y="387" width="1" height="1"/>
<rect x="1009" y="374" width="1" height="1"/>
<rect x="1009" y="361" width="1" height="1"/>
<rect x="1009" y="347" width="1" height="1"/>
<rect x="1009" y="334" width="1" height="1"/>
<rect x="1009" y="321" width="1" height="1"/>
<rect x="1009" y="307" width="1" height="1"/>
<rect x="1009" y="294" width="1" height="1"/>
<rect x="1009" y="281" width="1" height="1"/>
<rect x="1009" y="268" width="1" height="1"/>
<rect x="1009" y="254" width="1" height="1"/>
<rect x="1009" y="241" width="1" height="1"/>
<rect x="1009" y="228" width="1" height="1"/>
<rect x="1009" y="214" width="1" height="1"/>
<rect x="1009" y="201" width="1" height="1"/>
<rect x="1009" y="188" width="1" height="1"/>
<rect x="1009" y="174" width="1" height="1"/>
<rect x="1009" y="161" width="1" height="1"/>
<rect x="1009" y="148" width="1" height="1"/>
</g>
<text x="233.0" y="115.0" text-anchor="start" textLength="296.2" lengthAdjust="spacingAndGlyphs">Linear De-Polarization Ratio LDRg</text>
<text x="541.6" y="115.0" text-anchor="start" textLength="409.5" lengthAdjust="spacingAndGlyphs">09:01 14.11.2013 - 12:00 14.11.2013 Muenchen</text>
<text x="275.6" y="693.8" font-size="17.1" textLength="47.5" lengthAdjust="spacingAndGlyphs">09:30</text>
<text x="409.3" y="693.8" font-size="17.1" textLength="47.5" lengthAdjust="spacingAndGlyphs">10:00</text>
<text x="543.1" y="693.8" font-size="17.1" textLength="47.5" lengthAdjust="spacingAndGlyphs">10:30</text>
<text x="676.8" y="693.8" font-size="17.1" textLength="47.5" lengthAdjust="spacingAndGlyphs">11:00</text>
<text x="810.5" y="693.8" font-size="17.1" textLength="47.5" lengthAdjust="spacingAndGlyphs">11:30</text>
<text x="944.3" y="693.8" font-size="17.1" textLength="47.5" lengthAdjust="spacingAndGlyphs">12:00</text>
<text x="569.8" y="714.0" text-anchor="middle" >Time UTC</text>
<text x="146.9" y="591.6" font-size="17.1" textLength="10.6" lengthAdjust="spacingAndGlyphs">2</text>
<text x="146.9" y="501.6" font-size="17.1" textLength="10.6" lengthAdjust="spacingAndGlyphs">4</text>
<text x="146.9" y="410.6" font-size="17.1" textLength="10.6" lengthAdjust="spacingAndGlyphs">6</text>
<text x="146.9" y="320.6" font-size="17.1" textLength="10.6" lengthAdjust="spacingAndGlyphs">8</text>
<text x="136.4" y="230.6" font-size="17.1" textLength="21.1" lengthAdjust="spacingAndGlyphs">10</text>
<text x="1015.5" y="206.9" font-size="17.1" textLength="10.6" lengthAdjust="spacingAndGlyphs">0</text>
<text x="1015.5" y="339.9" font-size="17.1" textLength="27.5" lengthAdjust="spacingAndGlyphs">-10</text>
<text x="1015.5" y="472.9" font-size="17.1" textLength="27.5" lengthAdjust="spacingAndGlyphs">-20</text>
<text x="1015.5" y="605.9" font-size="17.1" textLength="27.5" lengthAdjust="spacingAndGlyphs">-30</text>
<text transform="translate(119.8,460.5) rotate(-90)" textLength="118.6" lengthAdjust="spacingAndGlyphs">Height AGL km</text>
<text transform="translate(1060.2,438.5) rotate(-90)" textLength="71.5" lengthAdjust="spacingAndGlyphs">LDRg dB</text>
</svg>
</body></html>
